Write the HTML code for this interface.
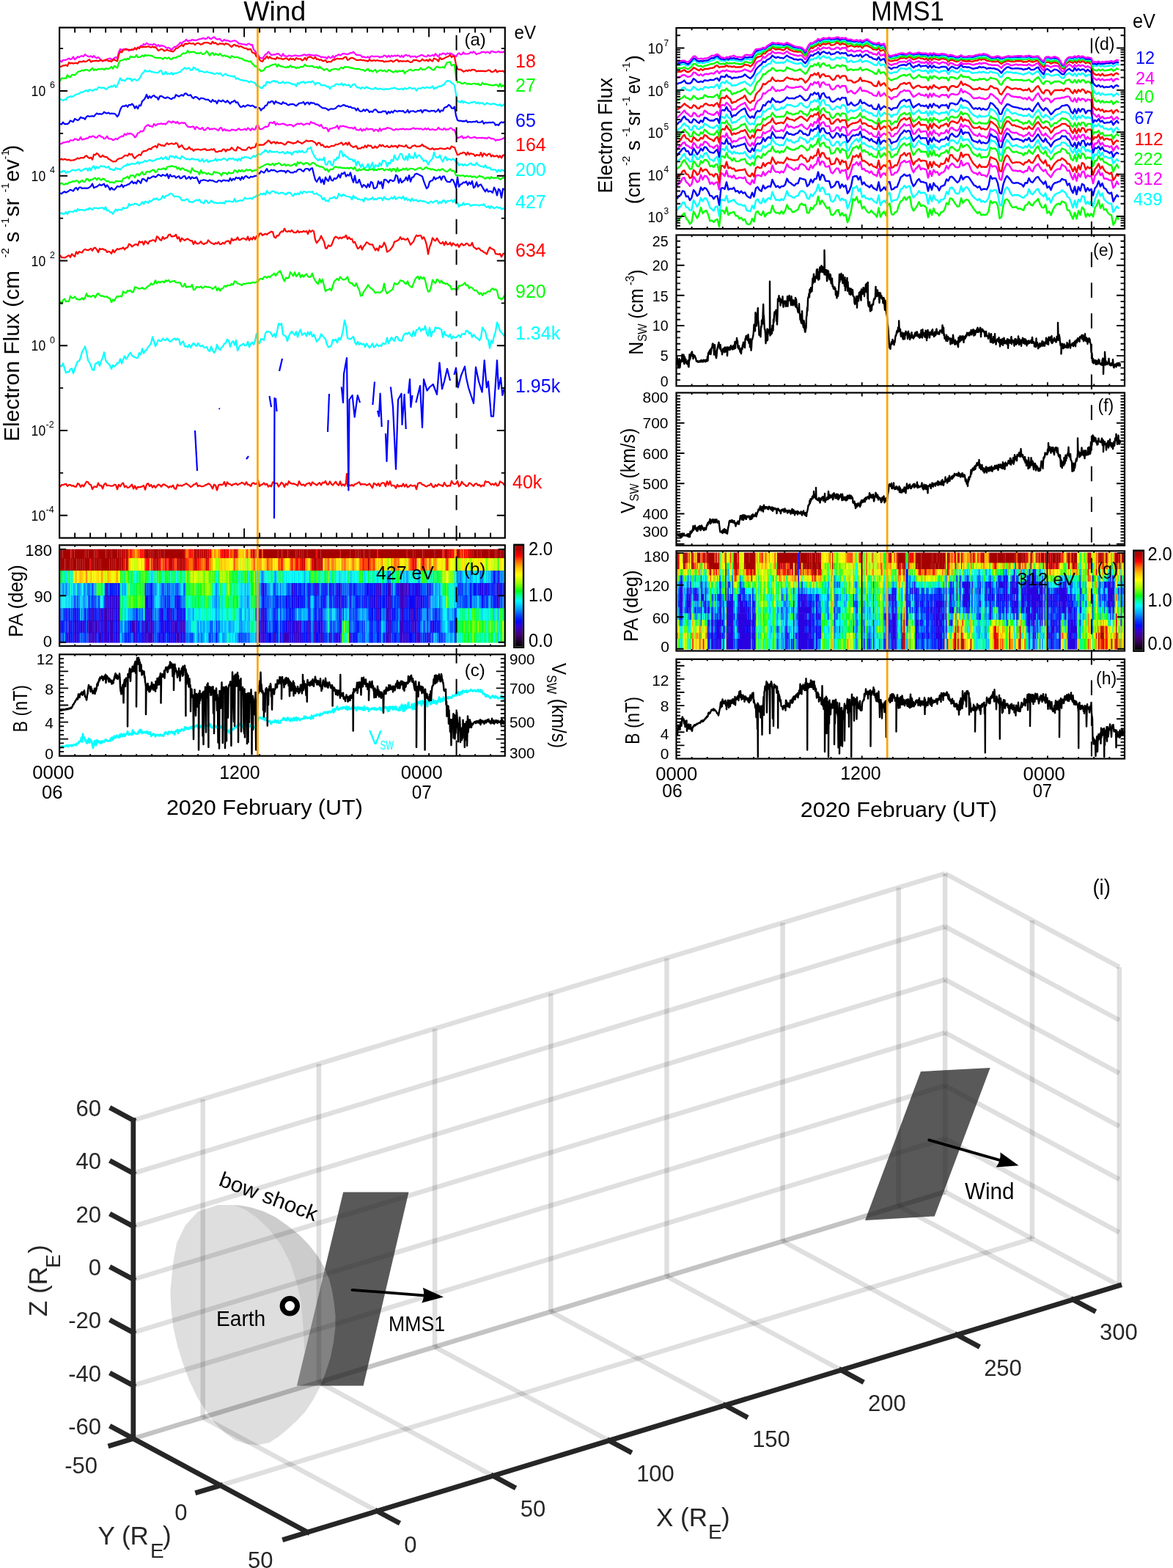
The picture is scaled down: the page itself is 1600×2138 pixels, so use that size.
<!DOCTYPE html>
<html><head><meta charset="utf-8"><title>Wind MMS1</title>
<style>
html,body{margin:0;padding:0;background:#fff;}
svg{display:block;}
text{font-family:'Liberation Sans', 'DejaVu Sans', sans-serif;}
</style></head><body>
<svg xmlns="http://www.w3.org/2000/svg" width="1600" height="2138" viewBox="0 0 1600 2138">
<rect x="0" y="0" width="1600" height="2138" fill="#fff"/>
<path d="M82 82.3l2 2.2 2-2.6 2 .1 2-.3 2-1.1 2-1.1 2 1.5 2-.8 2-2.8 2 3.8 2-1.8 2-2.2 2 1.1 2-1.8 2-.1 2 .4 2-2.6 2 1.4 2 1.3 2 .5 2-1.1 2 1.8 2-2 2 2 2 1.1 2-1.2 2 1.8 2 2.3 2 1.4 2-1.3 2 .6 2-2.1 2-.7 2-.5 2 1.5 2-.1 2-1.8 2-1 2 1.2 2-8 2-4.4 2 1.5 2-1.2 2 .1 2-.9 2 1.4 2 1.3 2-1.2 2 .2 2-.5 2-.9 2-.6 2-.8 2-.7 2-2.2 2 .3 2-2.7 2 1.1 2-2.4 2 1.5 2 .9 2-.6 2 .8 2-1.4 2 1 2 1.9 2-1.6 2 2.2 2-1.8 2 1.1 2 .3 2 1.7 2 1.1 2-1 2 1.4 2 2.4 2-3.1 2-1.7 2 0 2-1.8 2-1.7 2-2.3 2 1.4 2-2.6 2-.6 2-2.3 2 2.2 2-.7 2 .1 2-1.3 2 .4 2 .3 2 0 2-.9 2-.6 2-.4 2-.6 2-.4 2 1.2 2-.8 2-1.9 2 1.7 2 1 2-1.5 2-1.3 2 2 2 1.2 2-.3 2-.3 2 2.6 2 .3 2-1.7 2 1.1 2-.2 2 .7 2 .9 2-.4 2-.5 2-.5 2 .7 2 1.6 2 2 2-.1 2 .6 2 .4 2 .1 2 .8 2-1.4 2-.5 2 1.8 2-.4 2 6.7 2 2.2 2 3.9 2 .8 2 3.8 2 1.1 2 0 2-2.1 2-3.3 2-.6 2-2.9 2 2.3 2 2.1 2-.2 2-.4 2 0 2-1.2 2 .3 2 1.8 2 1.8 2-3.7 2 3 2 .2 2 .6 2-1.6 2 .5 2 .8 2-.8 2-.5 2 .2 2 .5 2 .3 2-.7 2-.1 2-1 2-.3 2 1.6 2-1.4 2-.2 2 .8 2 0 2 .5 2-.4 2 0 2 .8 2 .4 2 1.6 2-.6 2 .8 2-.2 2 1.8 2-3 2 1.9 2-.1 2-2.5 2 2.8 2-2.9 2-.5 2-1.5 2 1.4 2-1.2 2-1.3 2 .2 2 .5 2 .5 2-1 2-1.2 2 .4 2-1.7 2 2.1 2 2 2 .3 2 0 2 .3 2 2.5 2-.7 2 1.2 2 0 2-1.1 2 2.1 2-2.9 2 0 2 .7 2-.4 2 .1 2-.1 2 1.5 2-1 2 .2 2-2 2 .6 2 1.9 2-2.4 2 2.3 2-2.3 2 1.3 2-1.3 2 1 2-1.2 2 .6 2 1.8 2-2.1 2 2.3 2-2.5 2-.7 2 1.3 2-.5 2 2.2 2-.9 2 .3 2-.6 2 1.9 2-1.7 2-.3 2-1.3 2-.1 2 1.1 2 .8 2 .1 2-2 2 1.4 2-.3 2-1.3 2 1.4 2-3.1 2 2.3 2 2 2-3.8 2 .8 2-2.1 2 .8 2 1.3 2-2 2 .7 2-.6 2 .8 2 1.3 2 1 2 1.5 2-3.4 2-1.4 2 1.9 2-.2 2-2.9 2 2.2 2 .1 2 0 2-.5 2-1.9 2 1 2-1.9 2 1.9 2 2.1 2-1.4 2 .1 2-1.4 2-.6 2-.1 2 1.1 2-1 2 .1 2 1.8 2-2.9 2 .3 2 .7 2 .4 2-.1 2-1.3 2 1.5 2-.4 2 .4 2-1.5" fill="none" stroke="#ff00ff" stroke-width="2.2" stroke-linejoin="round"/>
<path d="M82 91l2-.4 2-1.3 2 0 2-.7 2 1.5 2-4.9 2 1.3 2-.7 2 .9 2-.7 2-.1 2 .7 2-2.8 2 .4 2 .2 2-1.4 2 1.2 2-.5 2-1.4 2-1.1 2 3.3 2-1.2 2-.1 2-.4 2-.1 2 .8 2-.9 2-.7 2 1.3 2-.7 2-.9 2-.2 2 2.1 2-.6 2 1.3 2-2.6 2-.2 2 1.1 2 .9 2-8.8 2-4.4 2 1.1 2-3 2-.9 2 .2 2 0 2 .3 2 .3 2-1 2 .7 2-2.7 2 2.4 2-3.1 2 1.6 2-2.5 2 .9 2-.7 2 .1 2-.1 2-.5 2 .6 2 .8 2-1.1 2 1 2-.4 2 2.1 2 2.7 2-1 2-1.2 2 .7 2 2.1 2-1 2-.6 2 1 2 .5 2 .5 2 .5 2-1.8 2-2.8 2-.2 2-1.8 2-1.3 2-1.5 2 2 2-3.2 2-.3 2 .3 2-1.3 2 .9 2 0 2-.3 2 2 2-1.9 2-.5 2 .8 2 1.2 2-.8 2-1.5 2-.4 2 0 2 .2 2 1.1 2 .4 2-3.1 2 2.5 2-.9 2 2 2 .4 2-1.5 2 .6 2-.4 2 1.6 2-1.8 2 .7 2 .6 2 2.1 2 1.4 2-2.2 2-1 2 1.8 2-.5 2 1.9 2-1.1 2 1.2 2 .9 2 1 2-.1 2 1.9 2-.7 2-.1 2 4.5 2 .6 2 1.4 2 4 2 .2 2 3.7 2 1.9 2 .6 2-3.3 2-.9 2-3.1 2 3 2-2.3 2 2.1 2 .4 2 .3 2 .7 2-2.8 2 1.7 2-.1 2 .5 2 .8 2-.8 2-.8 2 .9 2 1.8 2-2.5 2 1.4 2-.9 2 2 2-3 2 1.2 2 .1 2 0 2 2.1 2-.9 2-2.8 2 3.1 2-3.5 2-.9 2 .3 2 1.5 2 .8 2-2.3 2 3.1 2-.2 2 1.4 2-.7 2 1.8 2 .1 2-1.3 2 3.1 2-.8 2 0 2 0 2-2.8 2 .3 2-1.2 2-.7 2 .6 2-.4 2 .4 2-.5 2-1.9 2-.5 2 4.4 2-.8 2-1.9 2-.5 2 .9 2 1 2 1.2 2 .2 2-.2 2-.4 2 .8 2-.2 2 .7 2 .2 2 .7 2-2.4 2 1.6 2 0 2-.8 2 1 2-.8 2 .4 2 .4 2 .1 2-.3 2 1.7 2-.9 2 .2 2-.1 2-.8 2-.2 2 1.7 2-1.1 2-1.4 2-.4 2 2.5 2-1 2 .7 2-.4 2 .2 2 .2 2-1 2 1.2 2 1.1 2-.5 2-2.6 2 .2 2-.2 2 .9 2 .9 2-.8 2-2.3 2 1.7 2 .5 2-1.4 2 2.1 2-2.8 2 1.7 2 1 2-3.8 2 .8 2 .8 2 2.5 2-5.1 2 2.2 2-.4 2-.8 2-1.4 2-.7 2-.8 2-2 2 3.5 2-2 2 1.4 2 10.4 2 5.9 2 1.1 2-.3 2 1.1 2 2 2-.7 2-1.3 2 1.2 2-1.6 2 1 2-1.6 2 .3 2 .3 2 2.2 2-1 2 .4 2-.4 2 .2 2 .1 2 .4 2-.6 2-1 2 .2 2 2 2 .2 2-.8 2-2.2 2 3.3 2-1.2 2-.4 2 .2 2-.4 2 2.2" fill="none" stroke="#ff0000" stroke-width="2.2" stroke-linejoin="round"/>
<path d="M82 110.5l2-3.8 2 .2 2-.2 2 .3 2-4.8 2 2.9 2 .1 2-3 2-.4 2 .6 2-1.7 2-2.6 2-.6 2-.6 2-1.2 2 .8 2-1.3 2-.2 2 .7 2 1.1 2-1.9 2-2.3 2 3.4 2-1.7 2 1.3 2-1.9 2 .8 2-.6 2 0 2 1.3 2-2.2 2 .8 2 0 2-.8 2-2.1 2 2.8 2-3.7 2 1.4 2 1.1 2-6.4 2-3.4 2-.4 2-.6 2-1.4 2 1.3 2-2 2 1.2 2-4.1 2 1 2 .1 2 .2 2-3 2 3.1 2-.1 2-.6 2-1.9 2 1.8 2-2.5 2 1.2 2-.7 2 .4 2 .2 2 .5 2 1.6 2 .7 2 .3 2-.2 2 .1 2 .1 2 1.8 2-2.1 2 .2 2 1.1 2-1.6 2 2 2 .5 2-2 2-.4 2 .5 2-1.9 2-.6 2 .2 2-2.8 2-1.4 2 .3 2-.4 2-3.4 2 2.8 2-.9 2 0 2-.4 2 .9 2 1.4 2-.4 2 .4 2-1.2 2 2.3 2-.2 2-1.3 2-2.8 2 3.1 2 3.1 2-3 2-.9 2 3.3 2-2.2 2 1.5 2 .7 2-2.2 2 2.1 2 1.5 2-1.3 2 1.4 2-.4 2 1.5 2 1.2 2-2.9 2 1.2 2 1.1 2-.6 2 .3 2 1 2 .6 2 .1 2 1.6 2 1 2 .4 2 .4 2 1.1 2-1 2 3.2 2 2.1 2 2.2 2-.6 2 5.5 2-1.3 2 2.9 2-.8 2-.9 2-3.2 2-1.1 2-.3 2-1.1 2-.9 2-.8 2-.4 2-.5 2 3.7 2-3.2 2 2.6 2-.2 2 .8 2 .5 2 .7 2-1.3 2 .7 2-2.3 2 2.5 2-.8 2 .7 2 1.4 2-1.4 2 .9 2-1.6 2 .5 2-1 2-2.5 2 1.8 2 .4 2 .3 2-.3 2-.3 2 1.7 2 .2 2-.6 2 1.9 2-2.6 2 2.5 2 .7 2 2.1 2-1.5 2-.5 2 2.4 2 1.2 2-2.5 2-.4 2-.5 2-.2 2 .9 2 .3 2-2.1 2-1.1 2 1.7 2-2.4 2 .3 2-.1 2 .4 2 .9 2-.2 2 1.1 2 0 2 .8 2-.7 2 .5 2 .9 2 .1 2 .4 2 1.5 2-2.2 2-.9 2 3 2-1 2 1.8 2-1.6 2-1.1 2 3.7 2-1.9 2-.9 2-.3 2 1.5 2-1.3 2 1.2 2 .9 2-2.8 2 1.2 2 .9 2 1.4 2-.8 2-1.5 2 2.2 2-2 2 .3 2 .6 2-1.6 2 4.4 2-2.3 2-1.2 2-1.1 2-.9 2 1.5 2 .2 2-1.4 2 0 2 .6 2-.9 2-2.1 2 2.5 2-.6 2 .3 2-1.8 2-1.7 2 .7 2 1.5 2 1.8 2 0 2-2.5 2-2.1 2 .9 2 .6 2-.2 2-.6 2 1.1 2-4.2 2-3.1 2-.3 2-.5 2 5.2 2-1.2 2 0 2 16.3 2 7.7 2-.5 2 .7 2 1.5 2-.4 2-1.2 2 1.6 2 .5 2-.5 2 .7 2-.2 2-.8 2 .3 2 1 2-1.2 2 2 2 .2 2-3.4 2 2.3 2-.6 2 .3 2 .9 2-.2 2 1 2-.1 2 .1 2-1.1 2 .6 2 2.2 2-4.2 2 4.7 2-2.4 2 2.1" fill="none" stroke="#00ff00" stroke-width="2.2" stroke-linejoin="round"/>
<path d="M82 134.5l2 1.8 2 .8 2-1.6 2 .3 2-3.1 2-.4 2-.9 2 .7 2-.9 2-1.4 2-1 2-.8 2-.3 2-2 2 .3 2-.9 2-1.2 2-.8 2 1.7 2-2.8 2 .9 2 .8 2-1 2-1.2 2 .9 2-3.2 2-.1 2 .7 2-.1 2-.1 2 2.1 2-.6 2-2.3 2 0 2-1.7 2 1.2 2-2.3 2 3 2-2.6 2-4.7 2-5.2 2 3.3 2-.9 2 1.7 2-2.2 2-1.9 2 1.1 2-.5 2 3.5 2-2.6 2-.1 2 1.7 2-.3 2-1.9 2-3.3 2-4 2-1.4 2-3.2 2 2 2-.1 2-1.1 2 1.5 2 .4 2 .3 2 .3 2 .7 2-.6 2-2.4 2-.3 2 5.2 2-.4 2-3.4 2 3.6 2-1 2 .8 2-2.1 2 3 2-2 2 .1 2-.7 2-.8 2-.5 2-2.6 2-1.1 2-2.1 2 1.8 2-.7 2-.8 2 3.2 2-.3 2-3.7 2 1.3 2 2.3 2-1.1 2 3.4 2-.9 2 .8 2 .7 2 .8 2-1.6 2 1.4 2-.1 2 1 2 0 2 1.4 2-.6 2-.9 2 1.2 2-1.2 2 2.2 2 1.8 2-2.1 2-.9 2 2.3 2-.1 2 1 2-.3 2 1.2 2-.9 2 3.9 2-1.4 2 1.7 2 1.1 2-.3 2 1.3 2-.3 2 .3 2 .9 2 1.4 2-1.6 2 1 2 .7 2 .8 2 3.6 2 .1 2 1.2 2 2 2-.3 2-3.6 2 .7 2-5.5 2 .3 2 1.4 2-1.3 2-1.4 2-.4 2 1.7 2-1.2 2 2.6 2-.1 2-.3 2-1.6 2 2.4 2-1.2 2 .3 2 0 2 .7 2 1 2 .7 2-.2 2 2.8 2-4.7 2 1.5 2-2.4 2 .4 2-1.4 2 2.6 2-1.4 2-.4 2-.5 2 1 2-1.9 2 1.8 2 3.3 2-2.5 2 .1 2 .3 2 2.9 2-.1 2-.3 2 .6 2 1.8 2-.5 2 3.3 2-3.2 2-.5 2-.3 2-2.6 2 0 2 .9 2-.1 2-1.9 2 3.1 2-2 2 1.6 2 .3 2-1.2 2 3.7 2-2.3 2-1.9 2 0 2 3.3 2 1.6 2-.5 2 2.1 2-2.4 2 1.2 2 .3 2-2 2 1.7 2 .1 2 1 2 .3 2-.2 2-2 2 1.9 2 .5 2-1.2 2 1 2 .1 2 .6 2-1.2 2 .6 2-.3 2-.2 2-.8 2 .2 2-1 2 1.1 2 1 2-.1 2 .1 2-1.1 2 1.8 2-2.3 2 1.4 2-.5 2-1.4 2 0 2 1.7 2-.9 2 .2 2 3.3 2-3 2-.6 2 .6 2-1.6 2 .4 2 .7 2-1.6 2 .9 2-.3 2 .3 2-2.3 2 4.2 2-2.3 2 .7 2-2 2-.4 2 .1 2-2 2-.3 2-3.5 2-1.6 2 .1 2 .6 2 2.3 2 .9 2 2.3 2 12.1 2 9.6 2 .6 2 .9 2-2.4 2 3.1 2-1.8 2 1.6 2 .1 2 1 2-1.5 2-.1 2-.6 2-.1 2 2.3 2-1.7 2 2 2-1.1 2-.1 2 2 2 0 2-2.1 2 1.2 2 .3 2 .9 2-1.5 2 .5 2 .5 2 1.1 2 .4 2-1.6 2 2.9 2-1.5 2-1.3" fill="none" stroke="#00ffff" stroke-width="2.2" stroke-linejoin="round"/>
<path d="M82 168.9l2 .6 2-2.8 2 2.4 2-.1 2 .2 2-1.5 2-3.3 2 1.1 2 .6 2-4.1 2 1 2 1.1 2-1.3 2-3.1 2 1.2 2 0 2 1.9 2-3.7 2-1.1 2 .9 2-.4 2-.3 2 .6 2-2.3 2-2.1 2 1.2 2-.5 2 .6 2-.6 2-2.4 2 1.3 2 .6 2-1.1 2 1.7 2-.6 2 .3 2 0 2 1.5 2 2.8 2-2.9 2-6.6 2-3.9 2-1.3 2 .3 2-1.4 2 2.4 2-3 2 .5 2-1.7 2 2 2 4.1 2-3 2 3.5 2-4.8 2 .8 2-6.3 2-1.5 2-2.7 2-4.7 2 5.2 2-3 2 2.3 2-2.6 2-.8 2 2.2 2 .2 2 3.4 2-4.6 2-.4 2 1.1 2 1.4 2 .5 2-1.4 2 .6 2 1.3 2 .8 2-1.9 2 .2 2-4.3 2 1.4 2 1 2-1.3 2-1 2 1.4 2-3 2-.3 2 2.2 2 .7 2-1 2 3.3 2 1.5 2-2.1 2 .3 2 1.6 2 1.9 2-1.9 2 .1 2 .4 2 1.3 2 .2 2-.2 2 1.9 2 1.5 2-3.1 2 2.2 2-.6 2 3.5 2-4.4 2 .9 2 .8 2-1.7 2 1.6 2 1.3 2-2.4 2 2.1 2 2.2 2-2.7 2-.2 2-1.8 2 3.1 2-.6 2 3.9 2 2.6 2-.1 2-1.7 2 1.6 2-1.5 2-.9 2 .7 2 .8 2-.9 2 1 2 1.8 2-.6 2 1.5 2-.5 2 3.6 2-2.6 2-.6 2-3.6 2-.2 2-4.5 2 .9 2-2 2 .1 2 3.6 2-3.7 2 1.9 2 .3 2 1.1 2 .8 2-2.9 2 1.6 2 .1 2 1.9 2 .6 2-1.4 2 .1 2-.3 2 1.4 2 1.2 2-1.8 2-1.7 2-.4 2-.2 2-1.4 2 3.7 2-2.3 2-.8 2 2.8 2-2.7 2 1.2 2-.5 2 2 2-.2 2 .5 2 1.9 2 1.4 2 1.4 2 0 2 .4 2 .9 2 1.8 2-1.6 2-.5 2 .5 2-.6 2-.8 2-2.1 2-1.5 2 1.5 2-.9 2-1.2 2 .1 2 1.6 2-.4 2 1.7 2-.8 2 1.8 2 .1 2 .2 2 3.1 2-3 2 3.4 2 1 2-.4 2-2.3 2 2.2 2-2.4 2 1.2 2 2.8 2-1.5 2 1.3 2-2.7 2-1.1 2 1.6 2 2.5 2-.4 2 .3 2-1.5 2 .2 2-.1 2 3.7 2-3.3 2 2 2-2.4 2 1.9 2-3 2 .7 2 1 2-1.2 2 .2 2 .3 2-.5 2 2.5 2-.6 2-3 2 3.7 2-2.2 2 0 2-.2 2 1.3 2-.3 2-1.5 2 .7 2-1.7 2 3.8 2-3.3 2-.1 2 .2 2 1 2 .7 2-1.3 2 .4 2-.5 2 2 2-1.3 2-2.4 2 3.8 2-2.4 2 .8 2-4.1 2-1 2-.7 2-2.5 2 1.3 2 3.2 2 .6 2-2.5 2 12.1 2 6.2 2 1.1 2-.4 2 .8 2-.1 2 .2 2-1.2 2 2.6 2-.8 2 .3 2 .1 2-.6 2 .4 2-1.4 2 2.1 2 .1 2-.5 2-1.6 2 3.8 2-1.7 2 .4 2-.2 2-.3 2 .4 2-.7 2 .8 2 3.3 2-.9 2 1.1 2-3 2-1.4 2 .8 2-1.4" fill="none" stroke="#0000ff" stroke-width="2.2" stroke-linejoin="round"/>
<path d="M82 196.2l2-.2 2-1.7 2-.1 2-.3 2-1 2 .7 2-2.5 2 .4 2 0 2-2.3 2 .5 2 1.4 2-.5 2-3.7 2 3.7 2-1.1 2 .2 2-1.4 2 .4 2-2.6 2 .9 2-1.4 2 .3 2 1.7 2 .1 2-2.2 2-1 2 2.1 2 .3 2 2.4 2-.8 2-2.9 2 3.5 2 .2 2 .1 2 1.8 2-1 2-1.4 2 1.3 2-2.3 2-.9 2-1.2 2 .4 2-3.7 2 1.8 2-2.6 2 1.1 2-.9 2 1.2 2 1.2 2 3.2 2-1.8 2-4.1 2-.5 2-2.3 2 .6 2-1.5 2-4.8 2-1.6 2-1.2 2 1.6 2 .3 2 .9 2-4 2 2.4 2-1.6 2-1 2 .2 2-.8 2 1.1 2-.8 2 1.1 2-2.3 2-1.9 2 .7 2 1.3 2-2 2 1 2 1.6 2-2.2 2 2.8 2-.5 2-1 2 .8 2-.5 2 2.7 2 2.5 2 .6 2 .1 2-.6 2-.1 2 3.8 2-3.6 2 1.3 2 1.8 2 0 2-1.9 2 3.4 2-.1 2-2.3 2-.9 2 2.4 2-.8 2 .1 2-.5 2 .5 2 1.1 2 1 2-3.3 2-.4 2 4 2-2.2 2 1.9 2-.7 2 1.3 2-.4 2-1.4 2 .1 2 .6 2 .5 2-1.6 2-1.1 2 2 2-.2 2-.3 2-1.1 2 1.8 2-2.9 2 1.4 2 2 2-3 2 1.7 2 0 2-5.1 2-.8 2 4.9 2 .6 2-.7 2-1.4 2-1.4 2 .2 2-.9 2-5 2 .1 2 .9 2-2.2 2 4.6 2-2.5 2 1.8 2-.2 2-.3 2-.8 2 1 2 .7 2 1.1 2-1 2 0 2 .3 2 2.1 2-1.5 2-1.5 2-1 2 .7 2-.9 2 .3 2 1.8 2-1.1 2-.9 2-.1 2 1.3 2-3.7 2 1.6 2 .1 2 1.3 2 .9 2 .4 2 1.9 2-2.3 2 3.9 2 1.3 2-1 2 .9 2 4.3 2-3.9 2 .1 2-1 2-.4 2-.6 2-2.3 2 4.9 2-4.3 2 .8 2-1.1 2 1.1 2-.1 2 1.1 2 .6 2 .2 2-.3 2 1.6 2-2.4 2 3.6 2 .4 2 .1 2-2 2 3.2 2-2.5 2 1.6 2-3 2 1.9 2-.6 2-.2 2 .1 2 2.9 2-2.2 2 .4 2 2.1 2-4.2 2 3.5 2-2.3 2-.4 2 .2 2-1.7 2 .3 2 .5 2 .6 2 1.5 2 .4 2-1.7 2 .8 2 0 2-.8 2 .5 2-1 2 1.4 2-.9 2 .3 2 .2 2-.1 2-1 2-.8 2 1.5 2-.6 2 .1 2 .5 2-.7 2 1.4 2-.1 2-1.5 2 1.5 2-1.6 2 2 2-.1 2-.8 2 1.1 2 .1 2-.6 2-2.8 2 2.4 2 .1 2 .7 2-2.2 2 2.1 2-.5 2 .1 2-2 2 .5 2 2.4 2-.4 2 6.2 2 5.2 2-.9 2-.8 2-1.2 2 3.1 2-1.2 2 .5 2-2.3 2 1.5 2 1.1 2-.5 2-.5 2-.4 2 1.7 2-.6 2 .1 2 .2 2-.4 2 .5 2-.2 2 .8 2-1.6 2 .5 2 1.4 2-.1 2 .4 2 2.3 2-1.4 2 .6 2-.8 2-.5 2-.7 2-1.2" fill="none" stroke="#ff00ff" stroke-width="2.2" stroke-linejoin="round"/>
<path d="M82 218l2-1.5 2 1.3 2-.9 2 .5 2 .9 2-.8 2 1.3 2-.3 2-.1 2-.5 2-1.1 2-1.3 2 .9 2-1.2 2-.2 2 .4 2-2.2 2-1 2 2.2 2 1.5 2-1.2 2 3 2-7 2 .6 2-2.5 2 1.5 2 3.1 2 .7 2-2.4 2 1.9 2 .3 2 .4 2 2.4 2 .9 2 1.5 2 1.2 2-.2 2 0 2-2.7 2-1 2-.6 2-.2 2-1.6 2-1.9 2-.3 2 .8 2-3.1 2 1.5 2-1.1 2 4.2 2 1.7 2-2.4 2-1.2 2-1.6 2 1.1 2-4.1 2-1.8 2 .1 2-.5 2-1.6 2-1.2 2 1 2-2.9 2-.6 2-1.2 2 2.5 2-5 2 .6 2 1.4 2-.3 2 1.1 2-2.3 2-1.8 2 1.9 2-1 2-.5 2 .8 2 .2 2-1.7 2 1.4 2 4.8 2-1.5 2-1.6 2 3.4 2 2 2 .2 2-.4 2-2.8 2 3.2 2-.2 2 2.5 2-2 2 0 2-.3 2 .5 2 .6 2-.8 2-.4 2-.3 2 1.9 2-.5 2 .2 2-1.4 2 1 2-1.3 2 3.8 2 .4 2-.8 2-.6 2 .6 2-2.7 2 0 2 3 2-3.1 2 1.1 2-1 2-2.5 2 2.1 2 1.7 2 .5 2-5.2 2 1.1 2 1 2 1.9 2 0 2 .3 2-.1 2-3 2-.9 2 2.2 2-1.7 2 .1 2-.7 2-5 2 3 2-1.2 2 .4 2-.1 2-.5 2-2 2-1.3 2-2.3 2 1.5 2 2.5 2-1.5 2-.6 2 2.4 2-2.2 2 1.8 2-.7 2 .3 2 .9 2 1.6 2-1.2 2-2.7 2-.2 2 1 2 .3 2 1.1 2-1 2-.1 2-2.6 2 1.9 2 .5 2 1.3 2-1.5 2-1.1 2-1.9 2 1.3 2-.2 2-.4 2 .1 2 1.5 2 .9 2 3.3 2-3.1 2 .2 2 3.5 2-1.1 2 2.4 2 1.1 2-1.5 2 1.6 2-.8 2-1.2 2 .1 2-.2 2-2.1 2 .6 2-1.1 2-.7 2-1.2 2 3.4 2-1.4 2-1.7 2 3 2-3.5 2 4.2 2 1.1 2 1.4 2-1.1 2-.7 2 3.9 2-.6 2 .2 2-2 2 1 2-3.1 2 2.8 2-3.4 2 1.3 2-.6 2 3.3 2-.4 2-2 2 2.3 2-1.6 2-2.7 2 2 2-1.8 2 2.3 2 .3 2-1.5 2 1.9 2 .3 2-2.6 2 1.8 2-.9 2-.3 2 2.5 2-3.2 2 .4 2 .3 2 .8 2 .3 2-2.2 2 3.1 2 .7 2 .3 2-2.4 2-.8 2-.6 2 1.9 2-.5 2 .1 2-.7 2-2 2 2.6 2 .2 2 1.7 2 .7 2 1.3 2 0 2-1.4 2 2.1 2-1.1 2 .1 2 .2 2-1 2 0 2 .7 2 .1 2 0 2-1.6 2 1.1 2 .3 2-3.5 2 1.2 2 .3 2 5.4 2 5 2-.6 2-1.6 2 .1 2-1.5 2 .6 2 3.2 2-3.9 2 3.2 2-1.6 2 .6 2 .4 2 2.7 2-1.8 2 .3 2 .8 2-4.1 2 5.4 2-4.4 2 1.3 2 2 2-2.4 2-.5 2 3.9 2-1.8 2 1.7 2-.4 2-.8 2 2.6 2-2.4 2 3.1 2-3.7 2 0" fill="none" stroke="#ff0000" stroke-width="2.2" stroke-linejoin="round"/>
<path d="M82 233.9l2 1 2-2.1 2 .3 2 2.8 2-2.1 2 1.1 2-1.3 2-1.6 2-.5 2 1.1 2-.4 2-1.1 2-.3 2 2.5 2-.8 2-1.3 2-1.2 2-.3 2 3.1 2-4 2 3.6 2-4.5 2-1.6 2 4.5 2-3.4 2 1.9 2-1.9 2-1.3 2 1.2 2-.8 2 1.8 2 .1 2-1.4 2 3.8 2-.4 2 1.4 2 .1 2-3.2 2 2.1 2-.7 2 1.3 2-2.3 2-1.3 2-2 2 .2 2-2.6 2 1.8 2-1.5 2-.6 2 .2 2 .2 2-.6 2-2.4 2 3.1 2-2.1 2 0 2-.8 2-1.7 2 1.3 2-1.2 2-1 2 1 2 .5 2-.5 2-1 2-1.5 2 .1 2-.1 2-2.1 2 2.7 2-1.3 2-2.3 2 3.5 2 .3 2-4.9 2 1.2 2-.7 2 2.4 2-2.7 2 2.7 2 .1 2 1.2 2-4 2 1.8 2 1 2 1.8 2-.9 2 1.2 2-.1 2-1.6 2 1.4 2 0 2 .4 2-.6 2 2.7 2-.4 2-2.7 2 4 2-1.5 2-1.5 2 3.6 2-1.9 2 .3 2-.8 2-.1 2-2.6 2 3.4 2-2.3 2 .9 2-.3 2-1.4 2-.6 2 1.4 2 1.8 2-2.9 2-.1 2 .8 2-1.1 2 2.4 2-1.3 2 2.6 2-3.3 2 2.6 2-4.1 2 1 2-2 2 .8 2-.1 2 1.1 2 .9 2-2.4 2-1.9 2 1.9 2-2.3 2-2.4 2 1.4 2 0 2-3 2-.5 2-3 2 2.3 2 1.6 2-2.9 2 2.1 2-.2 2 .1 2 .1 2-.8 2 1.6 2 .2 2-.8 2-.4 2 2 2 .4 2-2.9 2 2.2 2-.9 2 3.3 2-3.6 2-.7 2-.7 2 2.2 2-3 2 2 2-1.9 2 2.3 2 0 2-.9 2-4.6 2 .4 2-2.1 2 7.1 2 3.5 2 3.9 2 1.7 2 2.1 2-2.4 2 1.5 2 .2 2-3.5 2 9.7 2 .2 2-4.7 2-.1 2 5.1 2 .8 2-8.1 2 .8 2-4 2 1.4 2-9.6 2 0 2 7.2 2-2.8 2 3 2 .4 2 2.8 2 .3 2-.1 2 3.1 2-2 2 7.5 2-5.8 2 3 2 5.1 2-3.9 2 3.9 2 1.5 2-2.1 2-3.8 2 7 2-4.4 2-4.4 2 8.9 2-5.6 2 1.2 2 .8 2-4.8 2 3.6 2-7 2 .2 2 1.2 2 7.1 2-5.3 2 1.1 2-5.4 2 2.3 2-8.5 2 5 2 1.5 2-3.6 2-4.8 2 .4 2 6.2 2 2 2-5.4 2 5.7 2-8.9 2 5.6 2-1.2 2 2.1 2-7.9 2 7.3 2-2.9 2-1.2 2 2.9 2 2.4 2 3.3 2-1.7 2 1.6 2 4.6 2-4.1 2-2 2-2.5 2-8 2 5.7 2 1.3 2-.3 2-3 2 5.7 2 3.3 2-5.3 2-1.6 2 5.1 2-2 2 .6 2 .7 2-1.7 2 1.6 2 3 2 .3 2 4.2 2-1.1 2-.5 2 2 2-2.1 2 1.8 2-.4 2-1.6 2-1.3 2 2.4 2-.4 2 1.1 2-3.6 2 2.8 2 1.2 2 .9 2 .4 2 1 2-3 2 3.6 2 .2 2-.5 2 3.1 2 0 2-.3 2 .4 2 3.1 2-3.3 2 2.5 2-2.5 2 .8 2 1.5" fill="none" stroke="#00ffff" stroke-width="2.2" stroke-linejoin="round"/>
<path d="M82 251.2l2-1.7 2 1.8 2 .3 2-1.4 2 .8 2-2.4 2 .3 2-1.2 2-.6 2 .3 2-1.3 2 .6 2 2.8 2-2.3 2-1.4 2 2.3 2-.7 2-3.5 2 .2 2 3 2-2.3 2-.1 2-1.2 2-.9 2 2.7 2-2.7 2 1.5 2 1.6 2-2 2 .2 2 2.3 2 1 2-.2 2 2.1 2-.8 2 .4 2 .7 2-2.5 2 .5 2-.2 2-.5 2 1.3 2-4.6 2-.3 2-.9 2-1.7 2 3.1 2-4.6 2 .3 2-.3 2 3.1 2-4 2-.9 2 2.3 2-2.9 2-2.3 2 3.9 2-.6 2-3.5 2-.3 2 1.1 2-1.8 2-1.2 2-.2 2 3.5 2-1.5 2-3.4 2 .7 2-.2 2-1.1 2-.1 2 1.8 2-3.7 2-.7 2 .4 2-1.4 2 .9 2 .5 2-.3 2 3.4 2-1.9 2 3.1 2-2.4 2 .4 2 2.1 2-.2 2 1.8 2 0 2 2.5 2-6.7 2 2.9 2 1.6 2 .1 2 .5 2 3.8 2-6.1 2 4.2 2-.9 2 .6 2 1.6 2-1.5 2 1.3 2 .8 2-.1 2-4 2 1.7 2-.7 2 .8 2 .9 2 2.8 2-3.9 2 .3 2-.1 2 2.1 2-3 2 1.2 2 .2 2-.5 2-3.7 2 .8 2 2.4 2-3.5 2 1.9 2-2 2 2.4 2-.8 2-2.3 2 1.6 2-1.3 2 .4 2 2.2 2-1.5 2-.1 2-.4 2-3.9 2 1.1 2-1.6 2-.6 2-1.3 2-1.1 2-.7 2-.3 2 1.5 2-.6 2-1.6 2 2.8 2-2.4 2 .4 2-1.3 2 .8 2 2.4 2-.5 2-1.4 2 2.6 2-1.7 2 .3 2 1.3 2-.7 2-1 2-1.2 2 2.9 2-5.1 2 2.1 2-1.7 2 1.3 2 1.7 2-1.8 2-.4 2 .3 2 2.4 2-1 2-1.7 2-.1 2 1.5 2 2 2 .4 2 1.3 2-.2 2 .7 2 1.5 2 2.9 2-2 2 4.1 2-3.1 2-.3 2 0 2-3.1 2-.6 2 .8 2 .6 2-.5 2 1 2 0 2-.1 2 .5 2-.8 2 1.1 2-1.2 2 .2 2 2.1 2-3.1 2 4.4 2 .9 2-2.7 2 1.6 2-.7 2-1.5 2 1.8 2 .2 2 .6 2-1.7 2 .6 2-1 2 2.1 2-1.4 2 1.2 2-2 2 1.1 2-1.4 2 .2 2 2.5 2-1.7 2 .1 2 1.1 2-2.1 2 3.7 2-3.6 2 .5 2 3.4 2-5.2 2 4.6 2-1.8 2 .2 2-2.1 2 1.6 2-2 2 2.9 2-1.7 2-.6 2 .1 2 .4 2 1.4 2-.8 2-1.6 2-.2 2-.3 2 2.3 2-.4 2-2.2 2-.5 2 2.2 2-.6 2 1.6 2-.7 2 .8 2 .7 2 .5 2-1.5 2 1.4 2-1.6 2-.6 2 2 2 1.4 2 .4 2-1.8 2-2 2 2.8 2-.5 2 1.2 2 5.3 2 .4 2-.3 2 .5 2-.3 2-.3 2 1.7 2-1.2 2 .7 2 0 2-.2 2 1.6 2-1.3 2 .6 2 1.3 2-1.2 2-1.6 2 1.4 2 .1 2 1.5 2 1.4 2-1.8 2-.3 2 2.1 2-2.7 2 1.4 2 .3 2-.6 2 0 2 .5 2 1.9 2-1.2 2-1.4 2 1.2" fill="none" stroke="#00ff00" stroke-width="2.2" stroke-linejoin="round"/>
<path d="M82 263.2l2 1 2-1.8 2-1.2 2 1.4 2-1 2-1.4 2-1.5 2 .8 2 1 2-3.4 2-1.1 2 2.9 2-3.4 2 0 2 1.4 2-.4 2 .1 2-.1 2 .2 2-1.3 2-1.5 2-3.4 2 5.7 2-1.1 2-.6 2-1.4 2-1.7 2 1.6 2-1.2 2-1.1 2 4.4 2-2.7 2 2.3 2 4.1 2-3 2 2.4 2 .6 2-2.2 2-2.8 2 .7 2 0 2-2.9 2 3.7 2-2.3 2-.1 2-1.3 2-.5 2-1.8 2-2.1 2 2.8 2-1.4 2 1.8 2-4.5 2 1.5 2 2.5 2-5.7 2-.2 2 1.6 2 1.8 2-5.2 2 1.1 2-1.2 2-1.4 2-.4 2 1.4 2-1.6 2-2.1 2 1.1 2 1.2 2-2.2 2 1.1 2 .5 2-2.5 2 6 2-5.1 2 2.6 2-.3 2-.6 2 2.8 2-1.4 2-1.1 2 3.2 2-.7 2-2.1 2-.5 2 3.9 2-1.3 2-1.7 2 3.2 2-2.7 2 1.4 2 0 2-1.5 2 4.3 2 4.5 2-4.1 2-.1 2-.7 2 .5 2 .6 2 .7 2-1.6 2 .9 2-.3 2 1.3 2 .7 2 .3 2-2.2 2 0 2 1.5 2-1.7 2-.2 2 .7 2-.4 2 1.1 2-4.1 2 3.3 2-2.7 2 1.4 2-3.2 2 1.4 2-1 2 3.3 2-4.4 2 2.9 2-3.2 2-.8 2 1.9 2 .8 2-2 2 .7 2-.8 2-.7 2 .1 2-4 2 .8 2-3.5 2 1.1 2 1.2 2-2.5 2-3 2 3.9 2-.7 2-1.7 2 .8 2-.5 2 1.3 2 1.3 2-1 2-.4 2-.4 2 .7 2-.4 2 2.5 2-2.9 2 .9 2 1.6 2 .2 2 .1 2-1.5 2 .5 2-2.9 2-.6 2-.1 2 2 2 1 2-3.1 2-.7 2 0 2 2.7 2-2.9 2-.6 2 8.3 2 7.5 2 3 2-3.5 2-3.1 2 7.5 2-4.3 2 6.5 2-9.4 2 3.4 2 1.7 2-6.6 2 5.4 2 .8 2-3.4 2 1 2-1.8 2-4.3 2 4.4 2-5.9 2 .6 2-2.4 2 6 2-2.4 2 1.4 2-4.3 2 7.7 2 5.6 2-9.1 2 9.7 2 0 2-4.4 2 5.8 2 4.7 2-3.3 2 1.2 2 2.6 2-4.8 2 4 2-7.2 2 1.3 2 7.9 2-.3 2-1.5 2-8.2 2 3.7 2-2.8 2 8.9 2-11.6 2-.3 2 1.7 2 2.5 2-3.7 2 .4 2 1.4 2-1.4 2-7.1 2 1.5 2 9.2 2-5.9 2 5.4 2-1.8 2-1.6 2-3.9 2 4.6 2-7.1 2 8.6 2-5.9 2-.4 2-3.7 2-1 2 .7 2 1.1 2 .9 2 1.3 2 6.3 2 5.4 2 4.6 2-2.1 2-6.9 2-1.5 2-.3 2-4.9 2 3.3 2-1.7 2-.4 2-2 2 4.8 2-4.8 2-.2 2 4.9 2 2.5 2 .3 2 .1 2-3.5 2 1 2 4.6 2 5.9 2-14.6 2 13.2 2-3.1 2-.8 2-2.2 2 .5 2-1.8 2 5.1 2-4 2 2.8 2-4.3 2 9.2 2-1.6 2-6.1 2 6.2 2-2.3 2-.9 2 3.8 2 3.2 2 2.9 2-3.5 2 3.7 2-1 2 .6 2 1.7 2-7.3 2 3.9 2 7 2-8.9 2 2.3 2 9.9 2-12.3 2 1.3" fill="none" stroke="#0000ff" stroke-width="2.2" stroke-linejoin="round"/>
<path d="M82 291.4l2-1.1 2 1.5 2-.4 2-2.4 2 3.1 2-3.8 2 .2 2 .2 2 .2 2-2.1 2 1.7 2-3.7 2 2.1 2-.8 2 0 2 .6 2 .2 2-1.7 2 .8 2-2.5 2 1.2 2 1.4 2-2.6 2 .2 2 0 2 .8 2-1 2 0 2-.4 2 2.5 2-3.5 2 5.3 2-.8 2 2.7 2-.2 2 2.7 2-3.6 2-2.7 2 2 2-1.6 2-.3 2 1 2-3.7 2 1.3 2-.5 2-.6 2-5.1 2 2.1 2-1.5 2 .3 2-1.2 2 .3 2 1.4 2 .7 2-1.8 2-3 2 3.1 2-3.8 2 .8 2 1.4 2-3.1 2 1.1 2-2.1 2-1.9 2 1.2 2-1.7 2 2.4 2-.6 2-1.1 2-4.2 2 3.3 2-2.9 2-.4 2-1.2 2-1.7 2 .2 2 2.1 2 1.9 2-.4 2 .3 2 .3 2 1.2 2 3.7 2-.3 2 .4 2-1.6 2-.1 2 3.5 2 .1 2 .8 2-1.1 2-1.1 2-1.3 2 1.2 2-1.8 2 3.8 2 .3 2 1.4 2-4.3 2 .7 2 3 2-.3 2-3.1 2 1.9 2 1.3 2-.6 2 1.2 2-.3 2-.7 2 1 2-1 2 1.5 2-3.9 2 1.3 2-.9 2 .3 2 .7 2 0 2-4.2 2 4.3 2-1.1 2-.3 2-1 2 1 2-1.1 2-3.3 2 1.3 2 .2 2-.4 2-.4 2 1.2 2-2.7 2 .2 2-2.4 2-.6 2 .2 2-2.3 2 1.3 2-1.7 2 2.3 2-5.6 2 2.7 2 1.2 2-2.6 2-.8 2 .5 2 2.2 2-1.3 2 2.4 2-1.2 2-.6 2 .3 2 1.5 2 1 2-2.4 2-.3 2 .2 2 2.5 2 2.1 2-3.6 2 1.4 2-1.8 2 1.5 2-3.7 2 2.6 2-2.9 2 .3 2 1.4 2-1.1 2-.1 2 .5 2-.8 2 3.1 2 .2 2-1.1 2 2.4 2 .5 2 1.4 2 4.3 2-2.3 2 4.1 2-.3 2 1.2 2-4.3 2-.2 2-.5 2-1.5 2 2.5 2-.3 2-6.5 2 2.2 2 1.6 2-2.7 2 1 2 1.5 2 .5 2 .2 2 .6 2 3.2 2-5.3 2 3.1 2-.4 2 2.4 2-.5 2 1.3 2-.8 2 3.2 2-5.2 2 1.2 2 1.8 2-1.8 2 .6 2-2.4 2 3.1 2-1.3 2 1 2-2.2 2 .4 2-.5 2 3.5 2-4.9 2 3.1 2-.4 2 1.4 2-1.5 2-1.9 2 2.1 2-3.2 2 3.9 2-1.7 2-1 2 .3 2 1.4 2-3.2 2 5.1 2-3 2 3.5 2-1.5 2 2.8 2-4 2 3.3 2-1 2-.4 2 2.5 2-1.2 2-.3 2 1.1 2-.4 2 1.1 2 .7 2 1.5 2-1.8 2-1.1 2 2.1 2-1.7 2-1 2-.4 2 4.1 2-2.8 2 2.4 2-3.8 2-.3 2 3.9 2-2.9 2 0 2-.2 2-1.2 2 2.8 2-3.3 2 5.5 2-1.2 2 5.4 2-2.5 2 .7 2-3.8 2 3.1 2-1.2 2-.1 2 .2 2 2.5 2-.9 2-.6 2 .1 2 .1 2 .3 2 .6 2-1.1 2 .5 2-1.6 2 3.3 2 1 2-1.3 2 2.8 2-2.8 2 1.3 2 1.8 2-1.2 2-1.2 2 1.8 2-.9 2 2.3 2-.3 2-1.2" fill="none" stroke="#00ffff" stroke-width="2.2" stroke-linejoin="round"/>
<path d="M82 347.9l2 3.2 2-.1 2 .5 2-.9 2-1.4 2-1 2 2.6 2-4.5 2 2 2 1.5 2-6.5 2 2.9 2-3.1 2 .9 2 .5 2-3.4 2-1.3 2 1 2 .5 2-1.2 2-1.2 2 2.9 2-3.4 2-.7 2 2.7 2 3.6 2-5 2 1.1 2-.9 2 1.5 2-.2 2 3.4 2-1 2 .6 2 2.3 2-5.1 2 3.5 2-2.8 2-2.2 2 .9 2-1.3 2 .3 2-1.8 2 3 2-2.3 2-.6 2-4.8 2 1.2 2 2.5 2-1.4 2-1.4 2-.5 2 1.8 2-5.7 2 1.5 2-1.2 2 4.3 2-5 2 1.7 2 2.1 2-4 2 .2 2-1.4 2 .2 2 1.9 2-7.1 2 1.5 2 2.9 2 1.2 2-4.9 2 2.8 2-1.5 2-.2 2-3.9 2-.6 2 3.1 2-.6 2-.2 2-2.1 2 5.6 2-2.2 2 6.1 2-4.6 2 1.9 2 1.2 2-1.5 2-.7 2 1.3 2 1.6 2-.4 2 5 2-4.1 2 2.9 2 .6 2-1.1 2-2.2 2 2.9 2 .9 2-1.4 2-.2 2-3.9 2 2 2 1.7 2 .8 2 1.1 2-1.9 2 1 2-2.2 2 3.1 2-.3 2-2 2 1.5 2-2.8 2-.8 2-.1 2 3.7 2-7.1 2 2.8 2-1.4 2 .3 2-3.4 2 3.8 2-.3 2-1.7 2-.4 2 .8 2 1.5 2-4.6 2 5.2 2-3.2 2 2 2-3.8 2 3.6 2-4.5 2 1.4 2-4.8 2-.4 2 2.8 2-1.2 2-1 2 1.2 2-1.9 2-.8 2-1.5 2 .7 2 6.7 2 1.3 2-3.2 2 .1 2-3.8 2-2.1 2 .6 2-4.4 2 3.8 2 .6 2-1.1 2 1 2-2.1 2 2.6 2 .7 2 .1 2-2.8 2 2.6 2-1.1 2 .5 2-1.4 2 1.1 2-1 2 3.9 2-5.1 2 2.5 2-2.3 2 1.3 2 11.5 2 4.4 2-2.8 2-2 2-4.9 2 4.3 2 3.4 2 9.2 2 .1 2-4.3 2 1.6 2-1.1 2-5.1 2-5.4 2-1.6 2 1 2 1.8 2-1.9 2 1.5 2-1.8 2 .2 2-2.7 2 5.2 2-2.5 2 2.7 2-.5 2 5.1 2-1 2 4.8 2 4.4 2-1.1 2-2.9 2 5.4 2-4.5 2-2.2 2-3.4 2 1 2 1.8 2 .2 2 0 2 4.3 2 3.7 2-2.7 2 3.2 2-6.7 2 2.3 2-1.8 2-4.9 2 4.1 2 8.7 2-1.1 2-1.5 2-2.6 2-2.8 2-5.9 2-.5 2-1.1 2-1 2-3.8 2 3.1 2-1.1 2 1.5 2 .1 2-1.8 2 4.2 2 4.7 2-2.6 2-1.9 2-5.2 2-3.5 2 1.4 2-1.1 2 .1 2 4.6 2-2.6 2 4.3 2 6.9 2 12.3 2-9.7 2-4.9 2-7.6 2 2.8 2 1.2 2-3.6 2 3.6 2 2.8 2 1 2-2.3 2 4.4 2-4.8 2 3.8 2-.3 2-2.3 2 4.4 2-3.6 2 1.8 2 1.6 2-2.2 2 4.2 2-3.2 2-1.6 2 2.5 2-.6 2-2.2 2 .8 2 2.4 2-.3 2-3.8 2 6 2 1.3 2 1.7 2-1.6 2 .8 2 2.5 2 .4 2 2 2 .7 2 1.9 2-5.4 2-4 2 1.7 2 .8 2 1 2 5.4 2 .2 2 .7 2-1 2 4.3 2-3.9 2-1.2" fill="none" stroke="#ff0000" stroke-width="2.2" stroke-linejoin="round"/>
<path d="M82 410.6l2 3.9 2-4.9 2-2.1 2 3.6 2-.2 2 .1 2-7.5 2 2.8 2 0 2-1.8 2 2.9 2 .7 2 .5 2-.5 2-1.9 2 2.5 2-2.6 2-5.9 2 4.3 2-1.2 2 1.7 2-1.8 2-.2 2 2.8 2-4.3 2-1.5 2 2.6 2 1.1 2-.3 2 1.2 2 0 2-.2 2 2 2 .5 2 5.3 2-3.8 2 1.9 2-4 2-2.5 2 .8 2-1.1 2 1 2-7.3 2 1.8 2 .4 2-3.3 2 .9 2-1.2 2 2.8 2-.7 2-6.5 2 .5 2 1 2 .9 2-.5 2-1.1 2 1.7 2 0 2-1.8 2-2 2-.7 2-3 2 1.7 2-1.3 2-4.5 2 4.3 2-2.7 2 1.6 2-1.5 2-.4 2 1.7 2-3.1 2 1.3 2-1.7 2 3.1 2-1.3 2-.2 2-.4 2 2.2 2 .1 2-.1 2 .3 2 4.9 2 .3 2-4 2 5.1 2-.8 2-.2 2 .4 2-3.1 2 7.2 2-.6 2-3.5 2 .1 2 .5 2-1.3 2 2.3 2-.8 2-1.8 2 1.3 2-.1 2 .2 2 .7 2 1.9 2-1.7 2-2 2 5.7 2-3.5 2 3.9 2-3 2-.3 2-3.3 2 .9 2-1.7 2-.2 2 .2 2-2.4 2 1.5 2-4.9 2 .6 2 2.7 2 .2 2 1 2 1 2-2.1 2 .5 2-.9 2-.2 2-.4 2 .4 2-1.2 2 .1 2 .6 2-1.7 2 .1 2-3.6 2-.5 2 .8 2-3 2-.8 2 2.1 2-2.3 2 1.4 2-2.1 2-1.6 2-1.8 2 3.4 2-3 2-2.1 2-1.8 2 4.5 2 5.5 2 4.4 2-5 2 1.1 2-1.2 2-7.5 2 2.6 2 2.7 2-5.2 2 5.8 2-2 2-3.1 2 6.4 2-3.6 2 3.1 2-2.5 2-1.7 2 3.4 2 1.2 2-1 2-4.4 2 6.5 2 3.2 2 3.3 2 1.6 2-7.1 2 5.2 2-4.4 2 8.4 2 7.7 2-2 2-.1 2-1.7 2 2.8 2-6.4 2-6.1 2-1.9 2-1.8 2 2.2 2-4.6 2 2.2 2 1.8 2-.4 2-.9 2-2.8 2 6.9 2 1.8 2-.3 2 3.4 2 .7 2-3.8 2 5.5 2 3.8 2 8.1 2-.5 2-5.2 2-2.7 2-2.9 2-3.8 2 2.9 2 2 2 1.2 2 2.1 2 2.9 2-1 2-.1 2 .8 2-1.3 2-2 2-9.3 2 9.9 2 3.8 2-1.8 2-1.7 2-1.1 2-2 2-7.8 2 1.1 2 .8 2-2.1 2-3.5 2 .9 2 0 2 3 2 1.1 2-3.9 2 5.9 2 1.5 2 1.2 2-5.2 2-5.4 2-2.9 2-1.6 2 4.2 2-3.6 2 2.8 2-2.2 2 4.3 2 9.3 2 6.1 2-.4 2-6.1 2-9.5 2 2.8 2 1.6 2-5.2 2 1.3 2 3.3 2-3.2 2 3.8 2-.2 2 1.5 2-1.1 2 2.9 2 .4 2 5.1 2-1 2 .2 2 .8 2 .2 2-5.3 2 .1 2-1 2-.8 2-2.6 2 4 2-.7 2 4.4 2-1.4 2 .8 2 2.6 2 1.2 2-.1 2 2.7 2 2.5 2-2 2 3.5 2-3.4 2 1.3 2-2.3 2-1.2 2 .6 2-3.2 2-1.5 2 2.2 2-1 2 2.1 2 9.7 2 .6 2 1.7 2-1.7 2-4" fill="none" stroke="#00ff00" stroke-width="2.2" stroke-linejoin="round"/>
<path d="M82 498.4l2 1.2 2-4.2 2 7.2 2 5.8 2-1.5 2 .5 2-4.2 2-.7 2 6.7 2-6 2-5.8 2-4.6 2-.5 2-5.2 2-7.6 2-3.2 2-3.8 2 7.5 2 11.3 2 2.8 2 4.8 2 5.3 2 .7 2-8.8 2-.8 2-2.1 2 5.8 2-6.6 2-4.7 2-7.5 2 10.7 2 3.4 2 1.7 2 2.3 2 4.9 2-5.4 2 2.1 2-2 2-3.1 2 .1 2-5.6 2 6.5 2-5.7 2-4.8 2 4.2 2-2.4 2-4 2-2.4 2 4 2 1.7 2 .7 2 .9 2 0 2-7 2 2.7 2-8.3 2 6.4 2-3.9 2-.5 2-4.4 2-1.8 2-3.3 2-8.5 2 6.2 2 6.7 2-4.1 2-4.8 2 1.5 2 .1 2-3.3 2 1.5 2 .9 2-2.8 2 2.7 2 2.1 2-1.4 2-1.9 2-1.5 2 2.4 2-2.2 2 1.3 2 7.4 2-3.3 2-1.4 2 6.8 2-.2 2 1.4 2-3.6 2 4 2-3.7 2-2.5 2 2.6 2 1.5 2-3.9 2 2.9 2 1.5 2-1.4 2 2.6 2 .7 2-1.3 2 4.6 2 1.8 2-6.8 2 5.1 2 3.2 2-2.5 2-8.4 2 5 2 2.2 2-2.9 2-1.7 2-4 2-.8 2-5 2 2.1 2 8 2-6 2-1.6 2 5.5 2-6.7 2 14.1 2-4.6 2-2.8 2-.5 2-1.8 2 2.9 2-.5 2-5 2 7.5 2-4.3 2-2.4 2 3.4 2-5.7 2-9.2 2 9.8 2 3.5 2-6.2 2 .1 2 1.7 2-9.4 2-2.7 2 .3 2 .3 2 2.6 2 3.6 2-3.5 2 4.8 2-8.4 2-10.6 2 1.8 2-1.7 2 15.1 2 1.3 2 1.2 2 6.4 2-6.9 2-3.8 2-2.4 2 2.6 2 2.3 2-4.6 2 7.3 2-6.5 2-3.6 2 7.5 2-2 2-.9 2 4.4 2-5.8 2 3.8 2-3.9 2 6.4 2-3 2 4.1 2 5.7 2-2 2-2.4 2-6.1 2 2.6 2 2.3 2 2.2 2 7.3 2 3.7 2-.6 2-1.7 2-8.1 2 1.4 2-1.9 2 4.8 2-6.4 2 2.3 2-4.7 2-8.3 2-13.7 2 8.2 2 16.4 2 .9 2 .5 2-2 2-1.8 2 7.7 2 3.4 2-3.8 2 4.1 2-2.2 2 1.9 2-1.1 2 4.5 2-4.9 2 3.4 2 2.6 2-2.5 2-3.4 2 5.1 2-1.4 2-3 2 2.9 2-1.4 2 1.6 2-4.3 2 .7 2 .5 2-8.6 2 7.6 2-4 2-4 2 2.8 2 2.1 2-5.8 2-.1 2 5.1 2 0 2 .7 2-6.4 2-3.5 2-.6 2 1.3 2-2.6 2 3.7 2 1.9 2-7.5 2 6.7 2-8.1 2-.3 2-3.1 2 5.3 2-3.4 2 1.5 2-5.4 2 10.2 2 3.3 2-11.1 2 12.1 2-6.9 2 .3 2-6.2 2 1.7 2-.9 2 1.8 2 .3 2 10.9 2-7.8 2 5.2 2 0 2 2.2 2-3.7 2 6.5 2-3.9 2 1.7 2 .2 2-1.9 2-1.7 2 3.2 2-4.3 2-.5 2 1 2-5.4 2 .7 2 3.4 2-1.2 2 6.2 2-3.9 2 2.9 2 1.9 2 1.1 2 2.6 2-4.4 2-13.3 2 3 2 2 2 10.2 2 1.3 2 11.7 2-10.6 2 3.2 2-9.7 2-6 2-12.2 2 4.2 2 7.6 2 2 2 2.4 2 2.7" fill="none" stroke="#00ffff" stroke-width="2.2" stroke-linejoin="round"/>
<path d="M82 664.2l2-3 2 0 2-.8 2-.7 2 3.1 2-1.7 2 .1 2 1.5 2-.6 2 1.6 2-.1 2-4.4 2 1.1 2 3.8 2-2.9 2 2.2 2-3.3 2-3.4 2 .5 2 3.3 2 .6 2 6.1 2-3.5 2-.1 2 .5 2-5.5 2 3.6 2-.4 2 4.6 2-5.8 2-1.7 2 3.4 2-.6 2 .6 2 .3 2-.1 2-1.8 2 .5 2 6 2-6.4 2 2.5 2-3.3 2-1.6 2 5.7 2-1.5 2 2.5 2-.6 2-1.7 2-2.2 2 5.9 2-4 2 4.5 2-3.1 2 .5 2-.6 2-.4 2-1.4 2 5.6 2-7.1 2-1.4 2 4 2-2.1 2 3.6 2-2.6 2 3 2-2.4 2-2 2 1 2 2.2 2-2.9 2-.5 2 1.4 2 1.1 2 2 2-1.8 2 .9 2-2.3 2 4.4 2 .7 2-6.2 2 1.9 2-.8 2 1 2-1.4 2-.9 2-1.3 2 1.7 2 1.1 2 2.2 2-1.1 2-2.1 2-.6 2-1.8 2 4.7 2-1.3 2 1.1 2 .3 2-.5 2-1.4 2-.5 2-1.5 2 .7 2 2.3 2 4 2-5.8 2 1.3 2 6.5 2-6.8 2-1 2 .7 2-.6 2-3.7 2 6 2-5.7 2 2.6 2 .3 2 1.8 2-1.5 2-.6 2-.8 2 2.3 2-1.3 2-.9 2-1.3 2 1 2 2.1 2-3.7 2 3.6 2-.1 2 2.3 2-4 2-.7 2 1.9 2-.7 2-4.9 2 8.3 2-2.1 2-.3 2-2.1 2 2.6 2-1.5 2 4.1 2-1.9 2 1.5 2-5.8 2 .8 2 .9 2-.4 2 4.8 2-2.7 2-3.2 2 1.8 2 4.5 2-4.6 2 1.9 2-5.1 2 2.5 2 .9 2-.2 2 .5 2 .8 2 1.8 2-6.3 2 3.9 2 1.5 2-1 2 2 2-2.8 2-.6 2-.9 2 3.8 2-4.7 2 1.9 2 .8 2 1.5 2-2 2-1.4 2 3.3 2-3.7 2 .9 2-2.8 2 4.8 2-.1 2-4.1 2 3.4 2 1.7 2-2.7 2-2.2 2 3.5 2 1.6 2-5.4 2 5.9 2-2 2 2.2 2-4.3 1-12.2 1 16.6 2-1.4 2 1.1 2-1.5 2 2 2-2.5 2-.6 2-1.3 2-1.1 2 3.6 2-.9 2 .5 2-.3 2 1.4 2-.7 2-1.4 2 2.9 2 3 2-6.5 2 1 2 2.1 2-2.8 2 3.9 2-3.8 2-1.1 2 .6 2 4.4 2-6.8 2 4.7 2-4.9 2 6.3 2-.7 2 .6 2 3.2 2-4.8 2 2.7 2-1.2 2 1 2-3.9 2 4.1 2-3.1 2 4 2-1.2 2-1.9 2 1.2 2-.1 2-.7 2 5.4 2-7.6 2-1.2 2 .1 2 2.4 2 .4 2 1.6 2 .7 2-1.6 2-.2 2-2.4 2 4.3 2 .8 2-3.3 2 1.9 2-3 2 1.3 2 .3 2 1.6 2-5.1 2 3.3 2 1.8 2-1.2 2 .7 2-7 2 3.6 2 .9 2-.8 2-3.5 2 7.4 2-1.8 2-4.8 2 3.1 2 1.1 2 2 2-.6 2-3.8 2 .8 2 1.9 2 1.6 2-3.1 2-.5 2 2.7 2-1 2 2.6 2-1.9 2 1.1 2-6.6 2 1.3 2-.4 2 1.8 2 2.3 2-1.4 2 1.7 2-2.9 2 3.8 2-.3 2-5.7 2 1.4 2 1 2 3.1" fill="none" stroke="#ff0000" stroke-width="2.2" stroke-linejoin="round"/>
<path d="M266 587l3 55" fill="none" stroke="#0000ff" stroke-width="2.2" stroke-linejoin="round"/>
<path d="M298.5 557l1.5 .5" fill="none" stroke="#0000ff" stroke-width="2.2" stroke-linejoin="round"/>
<path d="M336 626l3-4" fill="none" stroke="#0000ff" stroke-width="2.2" stroke-linejoin="round"/>
<path d="M367.5 540l2.5 15" fill="none" stroke="#0000ff" stroke-width="2.2" stroke-linejoin="round"/>
<path d="M374.5 542l-.2 58-.3 107" fill="none" stroke="#0000ff" stroke-width="2.2" stroke-linejoin="round"/>
<path d="M376 543l1.5 18" fill="none" stroke="#0000ff" stroke-width="2.2" stroke-linejoin="round"/>
<path d="M381 506l4-17" fill="none" stroke="#0000ff" stroke-width="2.2" stroke-linejoin="round"/>
<path d="M447 589l2-52" fill="none" stroke="#0000ff" stroke-width="2.2" stroke-linejoin="round"/>
<path d="M465.8 527.5l2.2 21.5 1-39 4-22 2.4 180.5 1.1-123.5 4.1-6 3.1 29.6 4.1-29.6 3.2 10" fill="none" stroke="#0000ff" stroke-width="2.2" stroke-linejoin="round"/>
<path d="M508.4 552l2.6-31.5" fill="none" stroke="#0000ff" stroke-width="2.2" stroke-linejoin="round"/>
<path d="M515 560l2 7.6 1.6-30.9 2.1 45.3" fill="none" stroke="#0000ff" stroke-width="2.2" stroke-linejoin="round"/>
<path d="M526 591l1.5 38 2.1-56.3" fill="none" stroke="#0000ff" stroke-width="2.2" stroke-linejoin="round"/>
<path d="M532.9 527.5l3.1 27.5 4 84.6 3-94.6 4.5-8.3 1 42.3 3.1-41.2 2.1 47.2" fill="none" stroke="#0000ff" stroke-width="2.2" stroke-linejoin="round"/>
<path d="M557 536.7l2-19.7 1.4 38 2.1-16" fill="none" stroke="#0000ff" stroke-width="2.2" stroke-linejoin="round"/>
<path d="M567.4 549l5.6-23 3 57 2-66 4.5 15.6 3.5-4.6 4.7-4 5.3 13.8 3.5-43.3 3.5 36 3-10.5 4-17.2 4 16.2" fill="none" stroke="#0000ff" stroke-width="2.2" stroke-linejoin="round"/>
<path d="M619.5 511l2.5-9.3 2.7 26.8 4.3-16.5 5-12.3 2 15.3 3 13.5 7 21.5 3-49.3 4 19.3 4.6 14.7 3.1-43.3 3.1 37.1 2.2-8.5 4 47.6 3 0 5-76.2 2 39.1 3-15.5 2.4 23.8 3.1-11.3" fill="none" stroke="#0000ff" stroke-width="2.2" stroke-linejoin="round"/>
<g transform="translate(82.1 749) scale(1.6 12.4)" stroke-width="1.06">
<path d="M0 .5h2M3 .5h6M10 .5h2M13 .5h8.1M22 .5h1.1M24 .5h5M32 .5h7M40 .5h3M44 .5h5M51 .5h1.1M54 .5h1.1M72 .5h3M76 .5h1.1M78 .5h1.1M80 .5h3M84 .5h1.1M86 .5h2M89 .5h17.1M114 .5h2M124 .5h1.1M169 .5h3M173 .5h12.1M186 .5h3M190 .5h4M195 .5h6M202 .5h1.1M204 .5h1.1M206 .5h1.1M208 .5h2M211 .5h7M219 .5h3M223 .5h15.1M239 .5h8.1M248 .5h4M254 .5h1.1M256 .5h3M260 .5h3M264 .5h6M271 .5h24.1M296 .5h5M303 .5h6M310 .5h9.1M320 .5h6M328 .5h2M338 .5h2M348 .5h1.1M352 .5h3M356 .5h2M359 .5h6M366 .5h5M373 .5h2M376 .5h2" stroke="#a50000"/>
<path d="M2 .5h1.1M12 .5h1.1M29 .5h1.1M31 .5h1.1M39 .5h1.1M43 .5h1.1M49 .5h2M53 .5h1.1M56 .5h1.1M75 .5h1.1M79 .5h1.1M83 .5h1.1M88 .5h1.1M117 .5h1.1M168 .5h1.1M194 .5h1.1M201 .5h1.1M203 .5h1.1M207 .5h1.1M210 .5h1.1M222 .5h1.1M247 .5h1.1M252 .5h2M255 .5h1.1M259 .5h1.1M263 .5h1.1M301 .5h2M309 .5h1.1M319 .5h1.1M340 .5h1.1M355 .5h1.1M358 .5h1.1M371 .5h1.1M375 .5h1.1M378 .5h1.1" stroke="#ab0000"/>
<path d="M9 .5h1.1M55 .5h1.1M60 .5h1.1M111 .5h1.1M128 .5h1.1M142 .5h1.1M162 .5h1.1M218 .5h1.1M333 .5h1.1M342 .5h1.1M344 .5h1.1" stroke="#f00000"/>
<path d="M21 .5h1.1M126 .5h1.1M139 .5h1.1M148 .5h1.1M295 .5h1.1M332 .5h1.1" stroke="#c50000"/>
<path d="M23 .5h1.1M116 .5h1.1M119 .5h1.1M121 .5h1.1M189 .5h1.1M205 .5h1.1M330 .5h1.1M350 .5h1.1M365 .5h1.1M372 .5h1.1" stroke="#b80000"/>
<path d="M30 .5h1.1M71 .5h1.1M77 .5h1.1M120 .5h1.1M122 .5h1.1M150 .5h1.1M164 .5h1.1M238 .5h1.1M349 .5h1.1" stroke="#d30000"/>
<path d="M52 .5h1.1M106 .5h1.1M118 .5h1.1M125 .5h1.1M140 .5h1.1M149 .5h1.1M327 .5h1.1M331 .5h1.1" stroke="#e20000"/>
<path d="M57 .5h1.1M85 .5h1.1M123 .5h1.1M165 .5h1.1M167 .5h1.1M185 .5h1.1M351 .5h1.1" stroke="#b20000"/>
<path d="M58 .5h1.1M62 .5h1.1M66 .5h2M146 .5h2M166 .5h1.1M343 .5h1.1" stroke="#ff5c00"/>
<path d="M59 .5h1.1M69 .5h2M112 .5h1.1M145 .5h1.1M163 .5h1.1M326 .5h1.1M345 .5h3" stroke="#ff1700"/>
<path d="M61 .5h1.1M151 .5h1.1M172 .5h1.1M341 .5h1.1" stroke="#ff4500"/>
<path d="M63 .5h1.1M65 .5h1.1M107 .5h2M158 .5h1.1M337 .5h1.1" stroke="#ff7100"/>
<path d="M64 .5h1.1" stroke="#ffb700"/>
<path d="M68 .5h1.1M110 .5h1.1M127 .5h1.1M137 .5h2M141 .5h1.1M143 .5h1.1M270 .5h1.1M334 .5h2" stroke="#ff0000"/>
<path d="M109 .5h1.1M113 .5h1.1M136 .5h1.1M159 .5h1.1" stroke="#ff2e00"/>
<path d="M129 .5h1.1M132 .5h1.1M134 .5h2" stroke="#ff9400"/>
<path d="M130 .5h1.1" stroke="#ffe800"/>
<path d="M131 .5h1.1M144 .5h1.1" stroke="#ff8300"/>
<path d="M133 .5h1.1M153 .5h2" stroke="#ffd300"/>
<path d="M152 .5h1.1M155 .5h2M161 .5h1.1" stroke="#ffc800"/>
<path d="M157 .5h1.1" stroke="#ffdd00"/>
<path d="M160 .5h1.1M336 .5h1.1" stroke="#ffa500"/>
</g>
<g transform="translate(82.1 761.4) scale(1.6 17.1)" stroke-width="1.06">
<path d="M0 .5h4M5 .5h3M11 .5h3M15 .5h1.1M17 .5h1.1M19 .5h1.1M21 .5h4M27 .5h2M30 .5h1.1M33 .5h1.1M35 .5h7M43 .5h1.1M46 .5h1.1M48 .5h2M51 .5h1.1M53 .5h1.1M56 .5h1.1M102 .5h1.1M221 .5h1.1" stroke="#a50000"/>
<path d="M4 .5h1.1M8 .5h1.1M10 .5h1.1M14 .5h1.1M16 .5h1.1M18 .5h1.1M26 .5h1.1M29 .5h1.1M31 .5h2M34 .5h1.1M42 .5h1.1M44 .5h1.1M50 .5h1.1M262 .5h1.1" stroke="#ab0000"/>
<path d="M9 .5h1.1M20 .5h1.1M45 .5h1.1M80 .5h1.1M83 .5h1.1M100 .5h1.1M216 .5h3" stroke="#b20000"/>
<path d="M25 .5h1.1M99 .5h1.1M126 .5h1.1M205 .5h1.1M207 .5h1.1M214 .5h1.1M300 .5h1.1" stroke="#f00000"/>
<path d="M47 .5h1.1M57 .5h1.1M79 .5h1.1M93 .5h3M104 .5h1.1M106 .5h1.1M124 .5h1.1M206 .5h1.1M219 .5h1.1M223 .5h1.1M309 .5h1.1" stroke="#c50000"/>
<path d="M52 .5h1.1M74 .5h1.1M81 .5h1.1M96 .5h1.1M101 .5h1.1M114 .5h1.1M208 .5h1.1M215 .5h1.1M220 .5h1.1M222 .5h1.1" stroke="#d30000"/>
<path d="M54 .5h1.1M92 .5h1.1M116 .5h1.1M125 .5h1.1M263 .5h1.1M301 .5h1.1M303 .5h1.1" stroke="#e20000"/>
<path d="M55 .5h1.1M77 .5h2M97 .5h1.1M119 .5h1.1M148 .5h1.1M176 .5h1.1M260 .5h1.1M299 .5h1.1M310 .5h1.1" stroke="#ff2e00"/>
<path d="M58 .5h1.1M76 .5h1.1M149 .5h1.1M169 .5h1.1M171 .5h1.1M178 .5h2M210 .5h1.1M225 .5h1.1M227 .5h1.1M229 .5h1.1M233 .5h1.1M241 .5h1.1M250 .5h1.1" stroke="#ffa500"/>
<path d="M59 .5h1.1M69 .5h1.1M71 .5h1.1M136 .5h1.1M139 .5h1.1M141 .5h1.1M166 .5h1.1M185 .5h1.1M211 .5h1.1M237 .5h1.1M239 .5h1.1M244 .5h1.1M269 .5h1.1M296 .5h1.1M304 .5h2M321 .5h1.1M344 .5h1.1M352 .5h1.1M356 .5h1.1" stroke="#ffd300"/>
<path d="M60 .5h1.1M67 .5h2M131 .5h1.1M152 .5h1.1M246 .5h1.1M281 .5h1.1M306 .5h1.1M313 .5h1.1M317 .5h1.1M332 .5h2M353 .5h1.1M377 .5h1.1" stroke="#fffd00"/>
<path d="M61 .5h1.1M64 .5h1.1M326 .5h1.1M337 .5h1.1M354 .5h1.1M367 .5h2M371 .5h1.1M378 .5h1.1" stroke="#d4ff00"/>
<path d="M62 .5h1.1M70 .5h1.1M130 .5h1.1M145 .5h1.1M253 .5h1.1M280 .5h1.1M335 .5h1.1M347 .5h1.1M361 .5h1.1M376 .5h1.1" stroke="#f3ff00"/>
<path d="M63 .5h1.1M65 .5h1.1M157 .5h2M161 .5h1.1M212 .5h1.1M278 .5h1.1M295 .5h1.1M336 .5h1.1M345 .5h2M362 .5h1.1M369 .5h1.1M374 .5h1.1" stroke="#c4ff00"/>
<path d="M66 .5h1.1M142 .5h1.1M155 .5h1.1M162 .5h1.1M167 .5h2M173 .5h1.1M184 .5h1.1M193 .5h1.1M235 .5h2M252 .5h1.1M270 .5h1.1M272 .5h1.1M276 .5h1.1M291 .5h1.1M343 .5h1.1M348 .5h1.1M359 .5h1.1" stroke="#ffe800"/>
<path d="M72 .5h1.1M87 .5h2M91 .5h1.1M108 .5h2M123 .5h1.1M165 .5h1.1M196 .5h1.1M228 .5h1.1M257 .5h1.1M259 .5h1.1M261 .5h1.1M264 .5h1.1M298 .5h1.1M330 .5h1.1" stroke="#ff4500"/>
<path d="M73 .5h1.1M75 .5h1.1M84 .5h2M89 .5h2M188 .5h1.1M201 .5h2M258 .5h1.1M329 .5h1.1" stroke="#ff0000"/>
<path d="M82 .5h1.1M103 .5h1.1M105 .5h1.1M115 .5h1.1" stroke="#b80000"/>
<path d="M86 .5h1.1M121 .5h2M127 .5h1.1M187 .5h1.1M226 .5h1.1M231 .5h1.1M240 .5h1.1M297 .5h1.1M312 .5h1.1M328 .5h1.1" stroke="#ff8300"/>
<path d="M98 .5h1.1M120 .5h1.1M177 .5h1.1M198 .5h1.1M203 .5h1.1M242 .5h1.1M249 .5h1.1M255 .5h2M266 .5h1.1M285 .5h1.1M288 .5h1.1M315 .5h1.1" stroke="#ff5c00"/>
<path d="M107 .5h1.1M113 .5h1.1M117 .5h2M186 .5h1.1M189 .5h1.1M197 .5h1.1M200 .5h1.1M204 .5h1.1M267 .5h1.1M302 .5h1.1M308 .5h1.1" stroke="#ff1700"/>
<path d="M110 .5h3M180 .5h1.1M213 .5h1.1M232 .5h1.1M265 .5h1.1M274 .5h1.1M284 .5h1.1M286 .5h1.1M307 .5h1.1M311 .5h1.1M314 .5h1.1" stroke="#ff7100"/>
<path d="M128 .5h1.1M164 .5h1.1M170 .5h1.1M190 .5h1.1M199 .5h1.1M209 .5h1.1M234 .5h1.1M243 .5h1.1M268 .5h1.1M282 .5h1.1M287 .5h1.1M318 .5h3" stroke="#ff9400"/>
<path d="M129 .5h1.1M137 .5h1.1M147 .5h1.1M150 .5h2M163 .5h1.1M175 .5h1.1M195 .5h1.1M245 .5h1.1M248 .5h1.1M251 .5h1.1M273 .5h1.1" stroke="#ffb700"/>
<path d="M132 .5h1.1M134 .5h1.1M153 .5h1.1M160 .5h1.1M341 .5h1.1M364 .5h1.1M370 .5h1.1" stroke="#b5ff00"/>
<path d="M133 .5h1.1" stroke="#96ff00"/>
<path d="M135 .5h1.1M159 .5h1.1M279 .5h1.1M349 .5h1.1" stroke="#7dff03"/>
<path d="M138 .5h1.1M143 .5h1.1M156 .5h1.1M182 .5h1.1M247 .5h1.1M277 .5h1.1M293 .5h1.1M325 .5h1.1M342 .5h1.1M358 .5h1.1M375 .5h1.1" stroke="#ffdd00"/>
<path d="M140 .5h1.1M174 .5h1.1M191 .5h1.1M230 .5h1.1M254 .5h1.1M271 .5h1.1M283 .5h1.1M289 .5h1.1M294 .5h1.1M316 .5h1.1M331 .5h1.1" stroke="#ffc800"/>
<path d="M144 .5h1.1M238 .5h1.1M290 .5h1.1M327 .5h1.1M334 .5h1.1M355 .5h1.1M365 .5h1.1" stroke="#e3ff00"/>
<path d="M146 .5h1.1M154 .5h1.1M172 .5h1.1M181 .5h1.1M183 .5h1.1M192 .5h1.1M194 .5h1.1M224 .5h1.1M275 .5h1.1M292 .5h1.1M322 .5h3M351 .5h1.1M357 .5h1.1M360 .5h1.1M366 .5h1.1" stroke="#fff200"/>
<path d="M338 .5h3M350 .5h1.1M372 .5h1.1" stroke="#a5ff00"/>
<path d="M363 .5h1.1" stroke="#64ff07"/>
<path d="M373 .5h1.1" stroke="#32ff0d"/>
</g>
<g transform="translate(82.1 778.5) scale(1.6 17)" stroke-width="1.06">
<path d="M0 .5h1.1M67 .5h2M84 .5h1.1M92 .5h1.1M108 .5h1.1M147 .5h1.1M157 .5h1.1M180 .5h1.1M213 .5h1.1M217 .5h1.1M225 .5h2M287 .5h1.1M322 .5h1.1" stroke="#00ff37"/>
<path d="M1 .5h1.1M51 .5h1.1M73 .5h1.1M85 .5h1.1M90 .5h1.1M102 .5h1.1M127 .5h1.1M144 .5h1.1M146 .5h1.1M150 .5h1.1M159 .5h1.1M163 .5h1.1M166 .5h1.1M245 .5h1.1M255 .5h1.1M257 .5h1.1M262 .5h1.1M274 .5h1.1M283 .5h1.1M321 .5h1.1" stroke="#00ff14"/>
<path d="M2 .5h1.1M59 .5h1.1M62 .5h2M79 .5h1.1M88 .5h1.1M105 .5h1.1M176 .5h1.1M200 .5h1.1M206 .5h1.1M229 .5h1.1M240 .5h1.1M249 .5h1.1M258 .5h1.1M264 .5h1.1M271 .5h1.1M289 .5h1.1M298 .5h1.1M301 .5h1.1M303 .5h1.1M307 .5h1.1M361 .5h2" stroke="#00fcd0"/>
<path d="M3 .5h2M10 .5h1.1M104 .5h1.1M153 .5h1.1M187 .5h1.1M209 .5h1.1M219 .5h1.1M254 .5h1.1M272 .5h1.1M319 .5h1.1" stroke="#00ffa0"/>
<path d="M5 .5h1.1M77 .5h1.1M190 .5h1.1M199 .5h1.1M203 .5h1.1M207 .5h1.1M237 .5h1.1M242 .5h1.1M248 .5h1.1M294 .5h1.1M304 .5h1.1M364 .5h1.1M366 .5h1.1" stroke="#00deff"/>
<path d="M6 .5h1.1M57 .5h1.1M70 .5h1.1M82 .5h2M109 .5h1.1M122 .5h1.1M131 .5h1.1M156 .5h1.1M158 .5h1.1M214 .5h1.1M218 .5h1.1M256 .5h1.1M308 .5h2M311 .5h1.1" stroke="#32ff0d"/>
<path d="M7 .5h1.1M65 .5h2M75 .5h1.1M80 .5h1.1M93 .5h1.1M103 .5h1.1M132 .5h1.1M134 .5h1.1M155 .5h1.1M168 .5h2M179 .5h1.1M189 .5h1.1M220 .5h1.1M267 .5h1.1M277 .5h1.1M284 .5h1.1M314 .5h1.1M320 .5h1.1" stroke="#00ff7d"/>
<path d="M8 .5h1.1M52 .5h1.1M55 .5h1.1M76 .5h1.1M86 .5h2M94 .5h1.1M96 .5h1.1M98 .5h1.1M174 .5h1.1M177 .5h1.1M193 .5h1.1M223 .5h1.1M233 .5h1.1M239 .5h1.1M243 .5h1.1M253 .5h1.1M260 .5h1.1M263 .5h1.1M276 .5h1.1M282 .5h1.1M299 .5h1.1M302 .5h1.1M315 .5h1.1M317 .5h1.1M323 .5h1.1M337 .5h1.1M352 .5h1.1" stroke="#00feb8"/>
<path d="M9 .5h1.1M133 .5h1.1M170 .5h1.1M175 .5h1.1M181 .5h1.1M194 .5h2M198 .5h1.1M201 .5h1.1M204 .5h1.1M235 .5h1.1M241 .5h1.1M250 .5h2M273 .5h1.1M285 .5h1.1M300 .5h1.1" stroke="#00fbe7"/>
<path d="M11 .5h1.1M14 .5h1.1M29 .5h1.1M33 .5h1.1M50 .5h1.1" stroke="#fffd00"/>
<path d="M12 .5h1.1M37 .5h1.1M39 .5h1.1M44 .5h1.1M112 .5h1.1" stroke="#e3ff00"/>
<path d="M13 .5h1.1M17 .5h1.1" stroke="#ffa500"/>
<path d="M15 .5h1.1M20 .5h1.1M49 .5h1.1M329 .5h1.1" stroke="#fff200"/>
<path d="M16 .5h1.1" stroke="#ffc800"/>
<path d="M18 .5h2M32 .5h1.1M36 .5h1.1M42 .5h1.1M47 .5h1.1" stroke="#ffd300"/>
<path d="M21 .5h1.1M31 .5h1.1M34 .5h1.1" stroke="#ffdd00"/>
<path d="M22 .5h1.1" stroke="#ff7100"/>
<path d="M23 .5h1.1M25 .5h1.1M28 .5h1.1M30 .5h1.1M43 .5h1.1M46 .5h1.1" stroke="#ffe800"/>
<path d="M24 .5h1.1M115 .5h2M120 .5h1.1M326 .5h1.1" stroke="#d4ff00"/>
<path d="M26 .5h1.1M40 .5h2" stroke="#ffb700"/>
<path d="M27 .5h1.1M45 .5h1.1M114 .5h1.1M330 .5h1.1" stroke="#f3ff00"/>
<path d="M35 .5h1.1M48 .5h1.1" stroke="#ff9400"/>
<path d="M38 .5h1.1M119 .5h1.1M125 .5h1.1M137 .5h1.1" stroke="#b5ff00"/>
<path d="M53 .5h1.1M69 .5h1.1M129 .5h1.1M145 .5h1.1M188 .5h1.1M215 .5h1.1" stroke="#4bff0a"/>
<path d="M54 .5h1.1M72 .5h1.1M74 .5h1.1M91 .5h1.1M95 .5h1.1M97 .5h1.1M100 .5h1.1M106 .5h1.1M135 .5h1.1M148 .5h1.1M151 .5h1.1M154 .5h1.1M161 .5h1.1M216 .5h1.1M227 .5h1.1M231 .5h2M234 .5h1.1M266 .5h1.1M286 .5h1.1M312 .5h1.1M316 .5h1.1" stroke="#00ff5a"/>
<path d="M56 .5h1.1M110 .5h1.1M113 .5h1.1M126 .5h1.1M128 .5h1.1M141 .5h2M325 .5h1.1M332 .5h1.1M335 .5h1.1" stroke="#7dff03"/>
<path d="M58 .5h1.1M60 .5h2M89 .5h1.1M149 .5h1.1M162 .5h1.1M164 .5h1.1M186 .5h1.1M221 .5h1.1M288 .5h1.1M310 .5h1.1M318 .5h1.1M324 .5h1.1" stroke="#19ff11"/>
<path d="M64 .5h1.1M99 .5h1.1M101 .5h1.1M152 .5h1.1M160 .5h1.1M167 .5h1.1M184 .5h2M192 .5h1.1M197 .5h1.1M230 .5h1.1M246 .5h1.1M291 .5h1.1M297 .5h1.1M336 .5h1.1M353 .5h1.1" stroke="#00ecff"/>
<path d="M71 .5h1.1M130 .5h1.1M228 .5h1.1M334 .5h1.1" stroke="#64ff07"/>
<path d="M78 .5h1.1M182 .5h1.1M238 .5h1.1M247 .5h1.1M259 .5h1.1M275 .5h1.1M278 .5h1.1M348 .5h1.1M378 .5h1.1" stroke="#00cfff"/>
<path d="M81 .5h1.1M178 .5h1.1M191 .5h1.1M196 .5h1.1M202 .5h1.1M205 .5h1.1M210 .5h2M222 .5h1.1M224 .5h1.1M236 .5h1.1M244 .5h1.1M252 .5h1.1M261 .5h1.1M265 .5h1.1M268 .5h2M313 .5h1.1M344 .5h1.1M355 .5h2" stroke="#00faff"/>
<path d="M107 .5h1.1M138 .5h1.1M140 .5h1.1M165 .5h1.1M331 .5h1.1M333 .5h1.1" stroke="#96ff00"/>
<path d="M111 .5h1.1M124 .5h1.1M136 .5h1.1M139 .5h1.1" stroke="#c4ff00"/>
<path d="M117 .5h2M121 .5h1.1M123 .5h1.1M143 .5h1.1M327 .5h2" stroke="#a5ff00"/>
<path d="M171 .5h1.1M305 .5h2M350 .5h1.1" stroke="#00a5ff"/>
<path d="M172 .5h1.1M346 .5h1.1M367 .5h2M372 .5h1.1M376 .5h1.1" stroke="#0071ff"/>
<path d="M173 .5h1.1M212 .5h1.1M270 .5h1.1M292 .5h2M342 .5h2M347 .5h1.1M351 .5h1.1M354 .5h1.1M357 .5h1.1M363 .5h1.1" stroke="#00c1ff"/>
<path d="M183 .5h1.1M359 .5h2" stroke="#0082ff"/>
<path d="M208 .5h1.1M290 .5h1.1M296 .5h1.1M345 .5h1.1M365 .5h1.1" stroke="#00b3ff"/>
<path d="M279 .5h1.1M338 .5h1.1M371 .5h1.1M374 .5h1.1" stroke="#004eff"/>
<path d="M280 .5h2M295 .5h1.1M339 .5h2M349 .5h1.1M375 .5h1.1M377 .5h1.1" stroke="#0094ff"/>
<path d="M341 .5h1.1M358 .5h1.1" stroke="#005fff"/>
<path d="M369 .5h2" stroke="#000aff"/>
<path d="M373 .5h1.1" stroke="#0e07f5"/>
</g>
<g transform="translate(82.1 795.5) scale(1.6 17.1)" stroke-width="1.06">
<path d="M0 .5h1.1M3 .5h1.1M22 .5h1.1M82 .5h1.1M104 .5h1.1M167 .5h2M179 .5h1.1M191 .5h1.1M228 .5h1.1M284 .5h1.1M322 .5h1.1" stroke="#00cfff"/>
<path d="M1 .5h1.1M30 .5h1.1M52 .5h1.1M54 .5h1.1M84 .5h1.1M154 .5h1.1M159 .5h2M188 .5h1.1" stroke="#00c1ff"/>
<path d="M2 .5h1.1M15 .5h1.1M79 .5h1.1M81 .5h1.1M88 .5h1.1M95 .5h1.1M101 .5h1.1M132 .5h2M196 .5h1.1M323 .5h1.1M338 .5h1.1M348 .5h1.1" stroke="#0082ff"/>
<path d="M4 .5h1.1M7 .5h1.1M11 .5h1.1M14 .5h1.1M16 .5h1.1M21 .5h1.1M25 .5h2M28 .5h1.1M53 .5h1.1M85 .5h1.1M90 .5h1.1M97 .5h1.1M169 .5h1.1M319 .5h1.1M321 .5h1.1M336 .5h1.1" stroke="#00a5ff"/>
<path d="M5 .5h1.1M20 .5h1.1M23 .5h1.1M75 .5h1.1M86 .5h1.1M89 .5h1.1M93 .5h1.1M96 .5h1.1M181 .5h1.1M185 .5h1.1M187 .5h1.1M242 .5h1.1M244 .5h2M253 .5h2M256 .5h1.1M285 .5h1.1M316 .5h1.1M351 .5h1.1" stroke="#0071ff"/>
<path d="M6 .5h1.1M153 .5h1.1M155 .5h1.1M158 .5h1.1M161 .5h1.1M318 .5h1.1M324 .5h1.1M337 .5h1.1" stroke="#00deff"/>
<path d="M8 .5h1.1M37 .5h1.1M56 .5h1.1M83 .5h1.1M135 .5h1.1M139 .5h1.1M156 .5h1.1M332 .5h1.1" stroke="#00fbe7"/>
<path d="M9 .5h1.1M61 .5h1.1M63 .5h1.1M116 .5h1.1M141 .5h1.1M150 .5h1.1M162 .5h1.1" stroke="#00ff7d"/>
<path d="M10 .5h1.1M19 .5h1.1M103 .5h1.1M131 .5h1.1M140 .5h1.1M180 .5h1.1M186 .5h1.1M331 .5h1.1" stroke="#00ecff"/>
<path d="M12 .5h1.1M17 .5h1.1M29 .5h1.1M102 .5h1.1M134 .5h1.1M157 .5h1.1M189 .5h2M192 .5h1.1" stroke="#00b3ff"/>
<path d="M13 .5h1.1M36 .5h1.1M325 .5h1.1M333 .5h1.1" stroke="#00fcd0"/>
<path d="M18 .5h1.1M57 .5h1.1M130 .5h1.1M152 .5h1.1" stroke="#00faff"/>
<path d="M24 .5h1.1M48 .5h1.1M174 .5h1.1M183 .5h1.1M193 .5h1.1M206 .5h1.1M210 .5h1.1M215 .5h1.1M222 .5h1.1M233 .5h1.1M241 .5h1.1M249 .5h1.1M257 .5h1.1M312 .5h1.1M317 .5h1.1M343 .5h1.1M355 .5h1.1M371 .5h1.1" stroke="#004eff"/>
<path d="M27 .5h1.1M74 .5h1.1M76 .5h1.1M87 .5h1.1M91 .5h1.1M171 .5h1.1M182 .5h1.1M205 .5h1.1M207 .5h1.1M220 .5h1.1M227 .5h1.1M231 .5h1.1M239 .5h1.1M246 .5h1.1M252 .5h1.1M259 .5h1.1M277 .5h1.1M299 .5h1.1M339 .5h2M367 .5h1.1M370 .5h1.1" stroke="#002fff"/>
<path d="M31 .5h1.1M69 .5h1.1M71 .5h1.1M111 .5h2M115 .5h1.1M118 .5h1.1M137 .5h1.1M329 .5h1.1" stroke="#4bff0a"/>
<path d="M32 .5h1.1M34 .5h1.1M66 .5h1.1M144 .5h1.1" stroke="#32ff0d"/>
<path d="M33 .5h1.1M108 .5h1.1M138 .5h1.1M147 .5h1.1M334 .5h2" stroke="#00feb8"/>
<path d="M35 .5h1.1M109 .5h1.1M113 .5h1.1M122 .5h1.1M163 .5h2M326 .5h1.1M328 .5h1.1" stroke="#00ff14"/>
<path d="M38 .5h1.1M172 .5h1.1M203 .5h1.1M235 .5h1.1M271 .5h1.1M303 .5h2M359 .5h2M363 .5h1.1M369 .5h1.1M372 .5h1.1M376 .5h1.1" stroke="#2902e1"/>
<path d="M39 .5h1.1M198 .5h1.1M218 .5h1.1M273 .5h1.1M275 .5h1.1M293 .5h1.1M313 .5h1.1M374 .5h1.1" stroke="#3900c8"/>
<path d="M40 .5h1.1M175 .5h1.1M200 .5h1.1M208 .5h1.1M224 .5h1.1M250 .5h2M266 .5h1.1M286 .5h1.1M298 .5h1.1M302 .5h1.1M315 .5h1.1M349 .5h2M353 .5h2M356 .5h1.1M361 .5h1.1M365 .5h1.1M368 .5h1.1" stroke="#0017ff"/>
<path d="M41 .5h1.1M73 .5h1.1M92 .5h1.1M98 .5h1.1M100 .5h1.1M105 .5h2M202 .5h1.1M214 .5h1.1M234 .5h1.1M240 .5h1.1M243 .5h1.1M258 .5h1.1M274 .5h1.1M282 .5h2M308 .5h4M346 .5h1.1" stroke="#005fff"/>
<path d="M42 .5h1.1M45 .5h1.1M49 .5h1.1M211 .5h1.1M219 .5h1.1M226 .5h1.1M230 .5h1.1M236 .5h1.1M247 .5h1.1M261 .5h2M265 .5h1.1M268 .5h1.1M288 .5h1.1M352 .5h1.1M358 .5h1.1" stroke="#0e07f5"/>
<path d="M43 .5h2M46 .5h1.1M223 .5h1.1M225 .5h1.1M232 .5h1.1M260 .5h1.1M267 .5h1.1M276 .5h1.1M307 .5h1.1M341 .5h1.1M378 .5h1.1" stroke="#0023ff"/>
<path d="M47 .5h1.1M173 .5h1.1M199 .5h1.1M212 .5h1.1M263 .5h1.1M297 .5h1.1M300 .5h1.1M305 .5h2M362 .5h1.1M364 .5h1.1" stroke="#1c05eb"/>
<path d="M50 .5h1.1M77 .5h1.1M201 .5h1.1M204 .5h1.1M216 .5h1.1M229 .5h1.1M237 .5h1.1M264 .5h1.1M278 .5h1.1M301 .5h1.1M375 .5h1.1" stroke="#000aff"/>
<path d="M51 .5h1.1M59 .5h1.1M146 .5h1.1M149 .5h1.1M151 .5h1.1" stroke="#00ffa0"/>
<path d="M55 .5h1.1M80 .5h1.1M94 .5h1.1M170 .5h1.1M176 .5h3M184 .5h1.1M209 .5h1.1M221 .5h1.1M320 .5h1.1M344 .5h1.1M347 .5h1.1" stroke="#0094ff"/>
<path d="M58 .5h1.1M123 .5h1.1M165 .5h1.1" stroke="#7dff03"/>
<path d="M60 .5h1.1M67 .5h1.1M110 .5h1.1M129 .5h1.1M148 .5h1.1" stroke="#00ff5a"/>
<path d="M62 .5h1.1M64 .5h2M70 .5h1.1M107 .5h1.1M117 .5h1.1M136 .5h1.1M145 .5h1.1M327 .5h1.1M330 .5h1.1" stroke="#00ff37"/>
<path d="M68 .5h1.1M119 .5h2M166 .5h1.1" stroke="#19ff11"/>
<path d="M72 .5h1.1M78 .5h1.1M99 .5h1.1M194 .5h2M213 .5h1.1M248 .5h1.1M255 .5h1.1M314 .5h1.1M342 .5h1.1M345 .5h1.1M366 .5h1.1M377 .5h1.1" stroke="#003cff"/>
<path d="M114 .5h1.1M121 .5h1.1M127 .5h2M142 .5h1.1" stroke="#64ff07"/>
<path d="M124 .5h1.1M126 .5h1.1" stroke="#96ff00"/>
<path d="M125 .5h1.1" stroke="#a5ff00"/>
<path d="M143 .5h1.1" stroke="#b5ff00"/>
<path d="M197 .5h1.1M217 .5h1.1M269 .5h1.1M287 .5h1.1M289 .5h1.1M296 .5h1.1" stroke="#3700d7"/>
<path d="M238 .5h1.1M270 .5h1.1M272 .5h1.1M279 .5h3M290 .5h3M294 .5h2M357 .5h1.1M373 .5h1.1" stroke="#3c00b9"/>
</g>
<g transform="translate(82.1 812.6) scale(1.6 17.1)" stroke-width="1.06">
<path d="M0 .5h1.1M5 .5h1.1M18 .5h1.1M36 .5h1.1M81 .5h1.1M84 .5h1.1M130 .5h1.1M134 .5h1.1M153 .5h1.1M325 .5h1.1" stroke="#00cfff"/>
<path d="M1 .5h1.1M17 .5h1.1M55 .5h1.1M82 .5h1.1M139 .5h1.1M228 .5h1.1M322 .5h1.1M333 .5h1.1" stroke="#00ecff"/>
<path d="M2 .5h2M6 .5h1.1M34 .5h1.1M57 .5h1.1M144 .5h1.1M332 .5h1.1M335 .5h1.1" stroke="#00fbe7"/>
<path d="M4 .5h1.1M23 .5h1.1M83 .5h1.1M138 .5h1.1M155 .5h2M158 .5h1.1M161 .5h1.1M214 .5h2M316 .5h1.1M356 .5h1.1" stroke="#00deff"/>
<path d="M7 .5h1.1M13 .5h1.1M22 .5h1.1M80 .5h1.1M129 .5h1.1M180 .5h1.1M318 .5h1.1M355 .5h1.1M366 .5h1.1M377 .5h1.1" stroke="#00c1ff"/>
<path d="M8 .5h1.1M35 .5h1.1M110 .5h1.1M152 .5h1.1M327 .5h1.1M337 .5h1.1" stroke="#00faff"/>
<path d="M9 .5h2M19 .5h1.1M21 .5h1.1M157 .5h1.1M213 .5h1.1M320 .5h2M336 .5h1.1M348 .5h1.1M351 .5h1.1" stroke="#00b3ff"/>
<path d="M11 .5h1.1M16 .5h1.1M25 .5h1.1M95 .5h2M135 .5h1.1M160 .5h1.1M209 .5h1.1M227 .5h1.1M319 .5h1.1" stroke="#0094ff"/>
<path d="M12 .5h1.1M72 .5h1.1M75 .5h1.1M92 .5h1.1M181 .5h1.1M190 .5h1.1M208 .5h1.1M218 .5h1.1M229 .5h1.1M231 .5h1.1M234 .5h1.1M274 .5h1.1M311 .5h2M338 .5h1.1M343 .5h1.1M345 .5h1.1M367 .5h1.1M376 .5h1.1" stroke="#002fff"/>
<path d="M14 .5h1.1M29 .5h1.1M93 .5h1.1M102 .5h1.1M168 .5h1.1M174 .5h1.1M176 .5h1.1M220 .5h1.1M226 .5h1.1M239 .5h1.1M242 .5h1.1M251 .5h1.1M258 .5h1.1M288 .5h1.1M344 .5h1.1M363 .5h2" stroke="#003cff"/>
<path d="M15 .5h1.1M87 .5h1.1M103 .5h1.1M105 .5h1.1M186 .5h1.1M210 .5h1.1M232 .5h1.1M249 .5h1.1M339 .5h1.1M354 .5h1.1M357 .5h1.1" stroke="#0071ff"/>
<path d="M20 .5h1.1M85 .5h1.1M94 .5h1.1M104 .5h1.1M106 .5h1.1M132 .5h2M159 .5h1.1M178 .5h1.1M221 .5h1.1M248 .5h1.1M342 .5h1.1M352 .5h2M358 .5h1.1" stroke="#0082ff"/>
<path d="M24 .5h1.1M100 .5h1.1M172 .5h1.1M184 .5h1.1M203 .5h1.1M206 .5h1.1M217 .5h1.1M224 .5h1.1M240 .5h1.1M252 .5h1.1M261 .5h1.1M267 .5h1.1M275 .5h2M282 .5h1.1M304 .5h1.1M359 .5h2M370 .5h1.1" stroke="#000aff"/>
<path d="M26 .5h1.1M28 .5h1.1M32 .5h2M86 .5h1.1M167 .5h1.1M175 .5h1.1M177 .5h1.1M189 .5h1.1M191 .5h1.1M196 .5h1.1M216 .5h1.1M219 .5h1.1M244 .5h1.1M246 .5h1.1M262 .5h1.1M283 .5h1.1M286 .5h1.1M341 .5h1.1M378 .5h1.1" stroke="#004eff"/>
<path d="M27 .5h1.1M76 .5h1.1M78 .5h1.1M91 .5h1.1M183 .5h1.1M187 .5h1.1M194 .5h1.1M200 .5h1.1M223 .5h1.1M233 .5h1.1M243 .5h1.1M255 .5h1.1M257 .5h1.1M260 .5h1.1M287 .5h1.1M310 .5h1.1M346 .5h1.1M350 .5h1.1M361 .5h1.1M374 .5h1.1" stroke="#0023ff"/>
<path d="M30 .5h1.1M37 .5h1.1M79 .5h1.1M88 .5h1.1M90 .5h1.1M97 .5h1.1M171 .5h1.1M179 .5h1.1M182 .5h1.1M188 .5h1.1M250 .5h1.1M256 .5h1.1M284 .5h1.1M314 .5h2M323 .5h1.1M340 .5h1.1M347 .5h1.1M362 .5h1.1M368 .5h1.1M375 .5h1.1" stroke="#005fff"/>
<path d="M31 .5h1.1M131 .5h1.1M154 .5h1.1M169 .5h2M245 .5h1.1M317 .5h1.1M324 .5h1.1M365 .5h1.1" stroke="#00a5ff"/>
<path d="M38 .5h1.1M42 .5h1.1M46 .5h1.1M50 .5h1.1M99 .5h1.1M198 .5h1.1M202 .5h1.1M236 .5h1.1M280 .5h1.1M289 .5h1.1M305 .5h1.1M372 .5h1.1" stroke="#2902e1"/>
<path d="M39 .5h1.1M47 .5h1.1M49 .5h1.1M265 .5h1.1M269 .5h1.1M279 .5h1.1M281 .5h1.1M290 .5h3M373 .5h1.1" stroke="#3c00b9"/>
<path d="M40 .5h1.1M43 .5h1.1M212 .5h1.1M268 .5h1.1M270 .5h1.1M293 .5h1.1M295 .5h1.1M303 .5h1.1M306 .5h1.1M313 .5h1.1" stroke="#3700d7"/>
<path d="M41 .5h1.1M48 .5h1.1M73 .5h2M192 .5h1.1M195 .5h1.1M199 .5h1.1M201 .5h1.1M211 .5h1.1M235 .5h1.1M241 .5h1.1M259 .5h1.1M264 .5h1.1M272 .5h1.1M297 .5h1.1M309 .5h1.1" stroke="#1c05eb"/>
<path d="M44 .5h1.1M238 .5h1.1M278 .5h1.1" stroke="#3900c8"/>
<path d="M45 .5h1.1M77 .5h1.1M101 .5h1.1M193 .5h1.1M197 .5h1.1M205 .5h1.1M225 .5h1.1M247 .5h1.1M253 .5h1.1M263 .5h1.1M266 .5h1.1M271 .5h1.1M294 .5h1.1M298 .5h5M307 .5h2M349 .5h1.1" stroke="#0e07f5"/>
<path d="M51 .5h1.1M107 .5h1.1M111 .5h1.1M113 .5h1.1M119 .5h1.1M123 .5h1.1M125 .5h1.1M127 .5h1.1M328 .5h1.1" stroke="#00ff7d"/>
<path d="M52 .5h1.1M128 .5h1.1" stroke="#00fcd0"/>
<path d="M53 .5h1.1M65 .5h1.1M137 .5h1.1M143 .5h1.1M165 .5h1.1" stroke="#00ff37"/>
<path d="M54 .5h1.1M108 .5h2M121 .5h1.1M326 .5h1.1M334 .5h1.1" stroke="#00feb8"/>
<path d="M56 .5h1.1M116 .5h1.1M136 .5h1.1M140 .5h1.1M146 .5h1.1M149 .5h1.1M162 .5h1.1M164 .5h1.1M331 .5h1.1" stroke="#00ffa0"/>
<path d="M58 .5h1.1M67 .5h3M124 .5h1.1" stroke="#4bff0a"/>
<path d="M59 .5h1.1M64 .5h1.1M70 .5h1.1M115 .5h1.1M117 .5h1.1M147 .5h2M150 .5h2M166 .5h1.1" stroke="#00ff14"/>
<path d="M60 .5h1.1" stroke="#7dff03"/>
<path d="M61 .5h1.1M66 .5h1.1M71 .5h1.1" stroke="#64ff07"/>
<path d="M62 .5h2M141 .5h1.1M163 .5h1.1M330 .5h1.1" stroke="#19ff11"/>
<path d="M89 .5h1.1M98 .5h1.1M173 .5h1.1M185 .5h1.1M204 .5h1.1M207 .5h1.1M222 .5h1.1M230 .5h1.1M237 .5h1.1M254 .5h1.1M273 .5h1.1M277 .5h1.1M285 .5h1.1M296 .5h1.1M369 .5h1.1M371 .5h1.1" stroke="#0017ff"/>
<path d="M112 .5h1.1M114 .5h1.1M118 .5h1.1M120 .5h1.1M122 .5h1.1M126 .5h1.1M145 .5h1.1" stroke="#00ff5a"/>
<path d="M142 .5h1.1" stroke="#32ff0d"/>
<path d="M329 .5h1.1" stroke="#96ff00"/>
</g>
<g transform="translate(82.1 829.7) scale(1.6 17)" stroke-width="1.06">
<path d="M0 .5h1.1M10 .5h1.1M62 .5h1.1M67 .5h1.1M81 .5h1.1M169 .5h2M185 .5h1.1M194 .5h1.1M236 .5h1.1M239 .5h1.1M249 .5h2M267 .5h1.1M286 .5h1.1M289 .5h1.1M312 .5h1.1M317 .5h1.1M321 .5h1.1" stroke="#004eff"/>
<path d="M1 .5h1.1M22 .5h1.1M61 .5h1.1M66 .5h1.1M68 .5h1.1M80 .5h1.1M153 .5h2M166 .5h1.1M178 .5h1.1M201 .5h1.1M207 .5h1.1M215 .5h1.1M226 .5h1.1M257 .5h2M310 .5h1.1M325 .5h1.1M334 .5h1.1" stroke="#0094ff"/>
<path d="M2 .5h1.1M6 .5h1.1M8 .5h1.1M88 .5h2M97 .5h2M176 .5h1.1M190 .5h1.1M237 .5h1.1M253 .5h1.1M262 .5h1.1M277 .5h1.1M315 .5h1.1M318 .5h1.1M322 .5h1.1" stroke="#005fff"/>
<path d="M3 .5h2M9 .5h1.1M23 .5h1.1M31 .5h2M64 .5h1.1M84 .5h1.1M90 .5h1.1M95 .5h1.1M187 .5h1.1M192 .5h1.1M247 .5h1.1M251 .5h1.1M275 .5h1.1M282 .5h1.1M296 .5h1.1M307 .5h1.1M337 .5h1.1" stroke="#003cff"/>
<path d="M5 .5h1.1M12 .5h1.1M24 .5h1.1M26 .5h1.1M30 .5h1.1M35 .5h1.1M46 .5h1.1M77 .5h1.1M85 .5h1.1M96 .5h1.1M100 .5h1.1M102 .5h1.1M105 .5h1.1M167 .5h2M171 .5h1.1M174 .5h1.1M196 .5h1.1M212 .5h1.1M220 .5h1.1M265 .5h2M283 .5h1.1M301 .5h2M313 .5h1.1" stroke="#0e07f5"/>
<path d="M7 .5h1.1M21 .5h1.1M72 .5h1.1M74 .5h1.1M99 .5h1.1M106 .5h1.1M195 .5h1.1M217 .5h1.1M284 .5h1.1M295 .5h1.1M304 .5h1.1M306 .5h1.1M336 .5h1.1" stroke="#000aff"/>
<path d="M11 .5h1.1M14 .5h1.1M25 .5h1.1M36 .5h1.1M73 .5h1.1M75 .5h1.1M86 .5h2M91 .5h2M94 .5h1.1M101 .5h1.1M103 .5h1.1M269 .5h1.1M272 .5h1.1M298 .5h1.1" stroke="#1c05eb"/>
<path d="M13 .5h1.1M15 .5h1.1M65 .5h1.1M104 .5h1.1M182 .5h2M218 .5h1.1M263 .5h2M287 .5h1.1M305 .5h1.1M319 .5h1.1" stroke="#0023ff"/>
<path d="M16 .5h1.1M20 .5h1.1M78 .5h1.1M181 .5h1.1M184 .5h1.1M197 .5h1.1M199 .5h1.1M211 .5h1.1M216 .5h1.1M221 .5h1.1M223 .5h1.1M241 .5h1.1M246 .5h1.1M252 .5h1.1M294 .5h1.1M323 .5h1.1" stroke="#002fff"/>
<path d="M17 .5h1.1M52 .5h1.1M57 .5h1.1M108 .5h1.1M111 .5h1.1M118 .5h1.1M134 .5h1.1M206 .5h1.1M214 .5h1.1M227 .5h1.1M256 .5h1.1M316 .5h1.1M332 .5h1.1" stroke="#00cfff"/>
<path d="M18 .5h1.1M63 .5h1.1M69 .5h2M79 .5h1.1M83 .5h1.1M113 .5h1.1M177 .5h1.1M188 .5h1.1M191 .5h1.1M200 .5h1.1M203 .5h1.1M213 .5h1.1M219 .5h1.1M230 .5h1.1M235 .5h1.1M248 .5h1.1M276 .5h1.1M308 .5h1.1M330 .5h1.1" stroke="#0071ff"/>
<path d="M19 .5h1.1M55 .5h1.1M59 .5h1.1M82 .5h1.1M135 .5h1.1M160 .5h2M229 .5h1.1M243 .5h2" stroke="#00b3ff"/>
<path d="M27 .5h1.1M37 .5h3M43 .5h1.1M76 .5h1.1M93 .5h1.1M270 .5h1.1M278 .5h2M291 .5h2M300 .5h1.1M303 .5h1.1" stroke="#3c00b9"/>
<path d="M28 .5h1.1M34 .5h1.1M40 .5h1.1M42 .5h1.1M47 .5h1.1M222 .5h1.1M281 .5h1.1" stroke="#3700d7"/>
<path d="M29 .5h1.1M48 .5h1.1M175 .5h1.1M193 .5h1.1M198 .5h1.1M268 .5h1.1M273 .5h1.1M285 .5h1.1M293 .5h1.1M297 .5h1.1M320 .5h1.1" stroke="#0017ff"/>
<path d="M33 .5h1.1M41 .5h1.1M44 .5h2M49 .5h2M172 .5h1.1M271 .5h1.1M299 .5h1.1" stroke="#3900c8"/>
<path d="M51 .5h1.1M368 .5h1.1" stroke="#00ff37"/>
<path d="M53 .5h1.1M124 .5h1.1M137 .5h1.1M146 .5h1.1M341 .5h1.1M344 .5h1.1" stroke="#00ff7d"/>
<path d="M54 .5h1.1M121 .5h1.1M123 .5h1.1M149 .5h1.1M165 .5h1.1M342 .5h1.1M345 .5h1.1M350 .5h1.1M355 .5h1.1M358 .5h1.1M366 .5h2M371 .5h1.1M376 .5h1.1M378 .5h1.1" stroke="#00ffa0"/>
<path d="M56 .5h1.1M122 .5h1.1M130 .5h2M139 .5h1.1M144 .5h1.1M155 .5h1.1M327 .5h1.1M349 .5h1.1M361 .5h1.1" stroke="#00faff"/>
<path d="M58 .5h1.1M60 .5h1.1M109 .5h1.1M132 .5h2M157 .5h1.1M179 .5h1.1M189 .5h1.1M210 .5h1.1M231 .5h1.1M255 .5h1.1M259 .5h1.1M274 .5h1.1M309 .5h1.1M311 .5h1.1M331 .5h1.1M335 .5h1.1M373 .5h1.1" stroke="#00a5ff"/>
<path d="M71 .5h1.1M127 .5h2M143 .5h1.1M228 .5h1.1M340 .5h1.1M347 .5h1.1M362 .5h1.1M365 .5h1.1M372 .5h1.1M374 .5h1.1" stroke="#00feb8"/>
<path d="M107 .5h1.1M115 .5h3M125 .5h2M136 .5h1.1M141 .5h1.1M147 .5h1.1M150 .5h2M162 .5h2M357 .5h1.1" stroke="#00fcd0"/>
<path d="M110 .5h1.1M152 .5h1.1M158 .5h1.1M208 .5h2M234 .5h1.1M260 .5h1.1M333 .5h1.1M359 .5h1.1M369 .5h1.1" stroke="#00c1ff"/>
<path d="M112 .5h1.1M138 .5h1.1M159 .5h1.1M164 .5h1.1M202 .5h1.1M233 .5h1.1M242 .5h1.1M326 .5h1.1M329 .5h1.1M338 .5h1.1M364 .5h1.1M370 .5h1.1" stroke="#00deff"/>
<path d="M114 .5h1.1M119 .5h1.1M129 .5h1.1M186 .5h1.1M232 .5h1.1M245 .5h1.1M360 .5h1.1" stroke="#00ecff"/>
<path d="M120 .5h1.1M140 .5h1.1M145 .5h1.1M156 .5h1.1M328 .5h1.1M339 .5h1.1M346 .5h1.1M363 .5h1.1" stroke="#00fbe7"/>
<path d="M142 .5h1.1M148 .5h1.1M343 .5h1.1M354 .5h1.1M356 .5h1.1" stroke="#00ff5a"/>
<path d="M173 .5h1.1M238 .5h1.1M280 .5h1.1M290 .5h1.1" stroke="#2902e1"/>
<path d="M180 .5h1.1M204 .5h2M224 .5h2M240 .5h1.1M254 .5h1.1M261 .5h1.1M288 .5h1.1M314 .5h1.1M324 .5h1.1" stroke="#0082ff"/>
<path d="M348 .5h1.1" stroke="#32ff0d"/>
<path d="M351 .5h2" stroke="#4bff0a"/>
<path d="M353 .5h1.1M375 .5h1.1" stroke="#19ff11"/>
<path d="M377 .5h1.1" stroke="#00ff14"/>
</g>
<g transform="translate(82.1 846.7) scale(1.6 16.4)" stroke-width="1.06">
<path d="M0 .5h1.1M8 .5h1.1M20 .5h1.1M23 .5h1.1M47 .5h1.1M86 .5h2M91 .5h2M101 .5h1.1M185 .5h1.1M193 .5h1.1M265 .5h1.1M271 .5h1.1M295 .5h1.1M297 .5h1.1M302 .5h1.1M336 .5h1.1" stroke="#1c05eb"/>
<path d="M1 .5h2M19 .5h1.1M41 .5h1.1M48 .5h1.1M59 .5h1.1M75 .5h1.1M79 .5h1.1M94 .5h1.1M100 .5h1.1M135 .5h1.1M170 .5h1.1M176 .5h1.1M182 .5h3M191 .5h1.1M208 .5h1.1M219 .5h1.1M230 .5h1.1M252 .5h1.1M264 .5h1.1M282 .5h1.1M298 .5h1.1M306 .5h1.1M313 .5h1.1M315 .5h1.1M319 .5h2M322 .5h2" stroke="#0017ff"/>
<path d="M3 .5h1.1M46 .5h1.1M66 .5h2M69 .5h1.1M71 .5h1.1M133 .5h1.1M167 .5h1.1M189 .5h1.1M197 .5h1.1M209 .5h1.1M253 .5h2M257 .5h1.1M272 .5h1.1M337 .5h1.1" stroke="#0023ff"/>
<path d="M4 .5h1.1M68 .5h1.1M83 .5h1.1M250 .5h1.1M256 .5h1.1M273 .5h1.1M277 .5h1.1M285 .5h1.1M333 .5h2" stroke="#005fff"/>
<path d="M5 .5h1.1M11 .5h1.1M13 .5h1.1M60 .5h1.1M85 .5h1.1M90 .5h1.1M168 .5h1.1M174 .5h2M181 .5h1.1M294 .5h1.1M296 .5h1.1M305 .5h1.1M318 .5h1.1M321 .5h1.1" stroke="#000aff"/>
<path d="M6 .5h1.1M117 .5h1.1M127 .5h1.1M179 .5h1.1M215 .5h1.1M234 .5h1.1M249 .5h1.1M258 .5h1.1M261 .5h1.1M267 .5h1.1M307 .5h1.1M309 .5h1.1M312 .5h1.1M335 .5h1.1" stroke="#0071ff"/>
<path d="M7 .5h1.1M32 .5h2M35 .5h1.1M64 .5h1.1M70 .5h1.1M76 .5h1.1M78 .5h1.1M88 .5h1.1M95 .5h1.1M97 .5h1.1M103 .5h1.1M105 .5h1.1M171 .5h1.1M194 .5h1.1M198 .5h2M201 .5h2M204 .5h2M317 .5h1.1" stroke="#3700d7"/>
<path d="M9 .5h1.1M15 .5h1.1M17 .5h1.1M21 .5h1.1M34 .5h1.1M36 .5h1.1M40 .5h1.1M89 .5h1.1M93 .5h1.1M190 .5h1.1M192 .5h1.1M196 .5h1.1M220 .5h2M239 .5h1.1M280 .5h1.1M289 .5h1.1M293 .5h1.1M316 .5h1.1" stroke="#0e07f5"/>
<path d="M10 .5h1.1M55 .5h1.1M58 .5h1.1M129 .5h1.1M169 .5h1.1M187 .5h2M207 .5h1.1M213 .5h1.1M251 .5h1.1M263 .5h1.1M266 .5h1.1M269 .5h1.1M284 .5h1.1M287 .5h1.1M304 .5h1.1" stroke="#002fff"/>
<path d="M12 .5h1.1M16 .5h1.1M29 .5h1.1M45 .5h1.1M65 .5h1.1M195 .5h1.1M200 .5h1.1M210 .5h1.1M216 .5h1.1M218 .5h1.1M222 .5h2M238 .5h1.1M270 .5h1.1M278 .5h1.1M303 .5h1.1" stroke="#2902e1"/>
<path d="M14 .5h1.1M24 .5h4M30 .5h2M38 .5h2M43 .5h2M50 .5h1.1M61 .5h3M72 .5h3M77 .5h1.1M96 .5h1.1M104 .5h1.1M172 .5h1.1M212 .5h1.1M217 .5h1.1M279 .5h1.1M290 .5h3M300 .5h1.1" stroke="#3c00b9"/>
<path d="M18 .5h1.1M28 .5h1.1M37 .5h1.1M42 .5h1.1M49 .5h1.1M98 .5h2M102 .5h1.1M106 .5h1.1M173 .5h1.1M203 .5h1.1M211 .5h1.1M281 .5h1.1M299 .5h1.1M301 .5h1.1" stroke="#3900c8"/>
<path d="M22 .5h1.1M52 .5h1.1M57 .5h1.1M80 .5h1.1M128 .5h1.1M206 .5h1.1M226 .5h1.1M231 .5h1.1M236 .5h2M247 .5h1.1M255 .5h1.1M268 .5h1.1M324 .5h1.1M332 .5h1.1" stroke="#004eff"/>
<path d="M51 .5h1.1M107 .5h1.1M109 .5h1.1M119 .5h2M125 .5h1.1M147 .5h1.1M186 .5h1.1M229 .5h1.1M276 .5h1.1M311 .5h1.1M314 .5h1.1M330 .5h1.1" stroke="#00a5ff"/>
<path d="M53 .5h1.1M118 .5h1.1M123 .5h2M139 .5h1.1M150 .5h1.1M158 .5h1.1" stroke="#00deff"/>
<path d="M54 .5h1.1M131 .5h1.1M137 .5h2M140 .5h1.1M143 .5h1.1M145 .5h1.1M152 .5h1.1M155 .5h1.1M160 .5h1.1M288 .5h1.1M308 .5h1.1M325 .5h2" stroke="#00b3ff"/>
<path d="M56 .5h1.1M82 .5h1.1M122 .5h1.1M144 .5h1.1M154 .5h1.1M177 .5h1.1M180 .5h1.1M232 .5h1.1M235 .5h1.1M248 .5h1.1" stroke="#0082ff"/>
<path d="M81 .5h1.1M84 .5h1.1M178 .5h1.1M224 .5h2M233 .5h1.1M246 .5h1.1M259 .5h1.1M283 .5h1.1M286 .5h1.1M310 .5h1.1" stroke="#003cff"/>
<path d="M108 .5h1.1M132 .5h1.1M134 .5h1.1M153 .5h1.1M214 .5h1.1M227 .5h1.1M275 .5h1.1M331 .5h1.1" stroke="#0094ff"/>
<path d="M110 .5h2M116 .5h1.1M121 .5h1.1M126 .5h1.1M130 .5h1.1M136 .5h1.1M141 .5h1.1M146 .5h1.1M156 .5h2M159 .5h1.1M161 .5h1.1M260 .5h1.1M327 .5h1.1" stroke="#00c1ff"/>
<path d="M112 .5h1.1M165 .5h1.1M228 .5h1.1" stroke="#00feb8"/>
<path d="M113 .5h1.1M142 .5h1.1M274 .5h1.1M328 .5h1.1M373 .5h1.1" stroke="#00ecff"/>
<path d="M114 .5h2M363 .5h1.1" stroke="#00fcd0"/>
<path d="M148 .5h1.1M262 .5h1.1" stroke="#00cfff"/>
<path d="M149 .5h1.1M151 .5h1.1M166 .5h1.1" stroke="#00fbe7"/>
<path d="M162 .5h1.1M240 .5h1.1M367 .5h1.1" stroke="#00ffa0"/>
<path d="M163 .5h2M244 .5h1.1M362 .5h1.1M364 .5h1.1M369 .5h1.1M372 .5h1.1" stroke="#00ff7d"/>
<path d="M241 .5h1.1M245 .5h1.1M340 .5h1.1M349 .5h1.1M376 .5h1.1" stroke="#19ff11"/>
<path d="M242 .5h1.1M351 .5h2M366 .5h1.1M371 .5h1.1M378 .5h1.1" stroke="#7dff03"/>
<path d="M243 .5h1.1M338 .5h1.1M342 .5h1.1M345 .5h1.1M350 .5h1.1M354 .5h1.1M357 .5h1.1M359 .5h1.1" stroke="#00ff14"/>
<path d="M329 .5h1.1" stroke="#00faff"/>
<path d="M339 .5h1.1M341 .5h1.1M346 .5h1.1M370 .5h1.1M374 .5h1.1" stroke="#00ff5a"/>
<path d="M343 .5h1.1M347 .5h1.1M360 .5h1.1M375 .5h1.1" stroke="#00ff37"/>
<path d="M344 .5h1.1M348 .5h1.1" stroke="#64ff07"/>
<path d="M353 .5h1.1M355 .5h1.1M358 .5h1.1M361 .5h1.1" stroke="#4bff0a"/>
<path d="M356 .5h1.1" stroke="#96ff00"/>
<path d="M365 .5h1.1M368 .5h1.1" stroke="#32ff0d"/>
<path d="M377 .5h1.1" stroke="#c4ff00"/>
</g>
<g transform="translate(82.1 863.1) scale(1.6 13.1)" stroke-width="1.06">
<path d="M0 .5h1.1M16 .5h1.1M20 .5h1.1M31 .5h1.1M81 .5h1.1M112 .5h1.1M129 .5h1.1M152 .5h2M158 .5h1.1M180 .5h1.1M225 .5h3M248 .5h1.1M253 .5h1.1M257 .5h1.1M277 .5h1.1M287 .5h1.1M310 .5h1.1M312 .5h1.1" stroke="#003cff"/>
<path d="M1 .5h1.1M53 .5h1.1M109 .5h1.1M126 .5h1.1M130 .5h1.1M134 .5h2M139 .5h1.1M161 .5h1.1M214 .5h1.1M232 .5h1.1M254 .5h1.1M328 .5h1.1M333 .5h1.1" stroke="#0082ff"/>
<path d="M2 .5h1.1M4 .5h1.1M10 .5h1.1M57 .5h1.1M66 .5h1.1M68 .5h1.1M111 .5h1.1M120 .5h1.1M154 .5h1.1M188 .5h1.1M213 .5h1.1M231 .5h1.1M246 .5h1.1M259 .5h1.1M263 .5h1.1M283 .5h1.1M337 .5h1.1" stroke="#002fff"/>
<path d="M3 .5h1.1M118 .5h1.1M131 .5h1.1M138 .5h1.1M159 .5h1.1M228 .5h1.1M316 .5h1.1" stroke="#0094ff"/>
<path d="M5 .5h1.1M9 .5h1.1M15 .5h1.1M48 .5h1.1M84 .5h2M87 .5h1.1M96 .5h1.1M105 .5h1.1M174 .5h1.1M183 .5h1.1M196 .5h1.1M200 .5h1.1M206 .5h1.1M210 .5h1.1M218 .5h2M251 .5h1.1M265 .5h1.1M289 .5h1.1M297 .5h1.1M300 .5h1.1" stroke="#0e07f5"/>
<path d="M6 .5h1.1M8 .5h1.1M46 .5h1.1M58 .5h1.1M67 .5h1.1M83 .5h1.1M89 .5h1.1M92 .5h1.1M234 .5h1.1M264 .5h1.1M272 .5h1.1M275 .5h2M285 .5h2M302 .5h1.1M314 .5h1.1M336 .5h1.1" stroke="#0017ff"/>
<path d="M7 .5h1.1M14 .5h1.1M27 .5h1.1M33 .5h2M43 .5h2M72 .5h1.1M75 .5h4M99 .5h3M106 .5h1.1M171 .5h1.1M173 .5h1.1M182 .5h1.1M190 .5h5M198 .5h1.1M201 .5h1.1M205 .5h1.1M212 .5h1.1M217 .5h1.1M223 .5h1.1M238 .5h1.1M278 .5h2M281 .5h1.1M290 .5h2M295 .5h1.1M305 .5h2" stroke="#3c00b9"/>
<path d="M11 .5h1.1M26 .5h1.1M30 .5h1.1M50 .5h1.1M70 .5h1.1M79 .5h1.1M95 .5h1.1M168 .5h1.1M181 .5h1.1M195 .5h1.1M221 .5h1.1M235 .5h2M293 .5h1.1M296 .5h1.1M304 .5h1.1M311 .5h1.1" stroke="#2902e1"/>
<path d="M12 .5h1.1M25 .5h1.1M38 .5h2M45 .5h1.1M47 .5h1.1M49 .5h1.1M63 .5h1.1M65 .5h1.1M74 .5h1.1M94 .5h1.1M102 .5h1.1M172 .5h1.1M187 .5h1.1M203 .5h1.1M211 .5h1.1M247 .5h1.1M292 .5h1.1M303 .5h1.1" stroke="#3700d7"/>
<path d="M13 .5h1.1M28 .5h1.1M36 .5h1.1M40 .5h2M55 .5h1.1M62 .5h1.1M64 .5h1.1M71 .5h1.1M86 .5h1.1M169 .5h2M177 .5h1.1M204 .5h1.1M207 .5h1.1M237 .5h1.1M294 .5h1.1" stroke="#1c05eb"/>
<path d="M17 .5h1.1M52 .5h1.1M61 .5h1.1M107 .5h1.1M128 .5h1.1M151 .5h1.1M215 .5h1.1M255 .5h2M267 .5h1.1M308 .5h1.1M321 .5h1.1M326 .5h1.1" stroke="#0071ff"/>
<path d="M18 .5h1.1M110 .5h1.1M132 .5h1.1M155 .5h1.1M239 .5h1.1M258 .5h1.1M268 .5h1.1M282 .5h1.1M288 .5h1.1M324 .5h1.1M327 .5h1.1" stroke="#004eff"/>
<path d="M19 .5h1.1M22 .5h2M54 .5h1.1M60 .5h1.1M80 .5h1.1M82 .5h1.1M90 .5h1.1M108 .5h1.1M113 .5h1.1M117 .5h1.1M156 .5h2M160 .5h1.1M269 .5h1.1M273 .5h1.1M322 .5h1.1" stroke="#005fff"/>
<path d="M21 .5h1.1M32 .5h1.1M56 .5h1.1M59 .5h1.1M104 .5h1.1M175 .5h1.1M184 .5h1.1M189 .5h1.1M197 .5h1.1M208 .5h1.1M249 .5h1.1M266 .5h1.1M284 .5h1.1M301 .5h1.1M307 .5h1.1M309 .5h1.1M315 .5h1.1M317 .5h1.1M325 .5h1.1" stroke="#0023ff"/>
<path d="M24 .5h1.1M29 .5h1.1M37 .5h1.1M42 .5h1.1M73 .5h1.1M98 .5h1.1M199 .5h1.1M202 .5h1.1M216 .5h1.1M222 .5h1.1M230 .5h1.1M280 .5h1.1M313 .5h1.1" stroke="#3900c8"/>
<path d="M35 .5h1.1M69 .5h1.1M88 .5h1.1M91 .5h1.1M93 .5h1.1M97 .5h1.1M103 .5h1.1M127 .5h1.1M133 .5h1.1M167 .5h1.1M176 .5h1.1M178 .5h2M185 .5h1.1M209 .5h1.1M220 .5h1.1M224 .5h1.1M229 .5h1.1M233 .5h1.1M250 .5h1.1M252 .5h1.1M270 .5h2M298 .5h2M323 .5h1.1" stroke="#000aff"/>
<path d="M51 .5h1.1M341 .5h1.1" stroke="#00ecff"/>
<path d="M114 .5h1.1M119 .5h1.1M140 .5h1.1M166 .5h1.1M260 .5h1.1M274 .5h1.1M319 .5h2M330 .5h1.1M334 .5h1.1" stroke="#00b3ff"/>
<path d="M115 .5h1.1M123 .5h1.1M136 .5h2M145 .5h1.1M148 .5h1.1M374 .5h1.1" stroke="#00faff"/>
<path d="M116 .5h1.1M144 .5h1.1M150 .5h1.1M162 .5h1.1M329 .5h1.1" stroke="#00c1ff"/>
<path d="M121 .5h2M141 .5h1.1M149 .5h1.1M186 .5h1.1M261 .5h2M332 .5h1.1" stroke="#00a5ff"/>
<path d="M124 .5h1.1M146 .5h2" stroke="#00deff"/>
<path d="M125 .5h1.1M163 .5h3M318 .5h1.1M331 .5h1.1M335 .5h1.1M373 .5h1.1" stroke="#00cfff"/>
<path d="M142 .5h1.1M243 .5h1.1M363 .5h1.1M370 .5h1.1" stroke="#00fcd0"/>
<path d="M143 .5h1.1M241 .5h1.1M339 .5h1.1M349 .5h1.1M355 .5h1.1M357 .5h1.1M359 .5h2" stroke="#00feb8"/>
<path d="M240 .5h1.1M366 .5h1.1" stroke="#32ff0d"/>
<path d="M242 .5h1.1M342 .5h1.1M346 .5h1.1M356 .5h1.1M358 .5h1.1M361 .5h1.1" stroke="#00ff7d"/>
<path d="M244 .5h1.1M340 .5h1.1M343 .5h1.1" stroke="#00ffa0"/>
<path d="M245 .5h1.1M351 .5h1.1M378 .5h1.1" stroke="#7dff03"/>
<path d="M338 .5h1.1" stroke="#4bff0a"/>
<path d="M344 .5h1.1M348 .5h1.1M371 .5h1.1" stroke="#19ff11"/>
<path d="M345 .5h1.1M354 .5h1.1M362 .5h1.1M372 .5h1.1M375 .5h2" stroke="#00ff5a"/>
<path d="M347 .5h1.1M353 .5h1.1M365 .5h1.1M368 .5h1.1" stroke="#00ff14"/>
<path d="M350 .5h1.1M367 .5h1.1" stroke="#00ff37"/>
<path d="M352 .5h1.1" stroke="#64ff07"/>
<path d="M364 .5h1.1M369 .5h1.1" stroke="#00fbe7"/>
<path d="M377 .5h1.1" stroke="#a5ff00"/>
</g>
<path d="M82 1019.9l1-1.2 1-.1 1-1.1 1 .8 1-.3 1 .1 1-1 1 .4 1-1.3 1 .2 1 1.8 1-1.9 1-.3 1 .8 1-.8 1 1.5 1-1.7 1 .2 1-.8 1 .7 1-.9 1 1.2 1-2.6 1 .2 1-.3 1-2.7 1 .4 1-.8 1-4.8 1 6 1-10.9 1 4.6 1 0 1 4.8 1-1.2 1 4 1 .7 1-3.2 1-3.5 1 5.7 1-4.6 1 1.5 1 1.4 1 4.9 1 4 1-4.5 1-5.3 1 4.8 1 1.3 1-6.8 1 3.5 1-2.5 1 .3 1 2.5 1 .4 1-2.8 1 2.1 1-2.5 1 1.2 1 .1 1-1.4 1-2.1 1 .8 1 1.3 1 .4 1-.4 1-.4 1 .7 1-3.7 1 1.9 1-3.4 1 3.4 1-1.6 1-3.4 1 2.2 1 0 1-3.2 1 1.3 1 .4 1 1.3 1-3.8 1 3 1-4 1 .1 1 3.1 1-1 1-2.5 1 3.3 1-1.7 1-.6 1-.9 1-3.6 1 3.7 1 1.3 1-1.7 1 1 1-1.4 1 2.1 1-6.6 1 4.9 1-2.3 1 1.6 1 .5 1 .6 1-.7 1 .4 1-3.5 1 1.6 1-3.7 1 3.7 1-2.9 1 4.3 1-1.1 1-.6 1-.4 1 1.4 1-1 1-1.1 1 2.9 1-1.7 1 2.2 1-2 1-.2 1 5.4 1-2.3 1 1 1-2 1 .5 1 .2 1 3.2 1-1.8 1-.7 1-.1 1 .2 1 1.4 1-1.7 1-.1 1 1.8 1-.7 1-.4 1 1.6 1-3.3 1-1.7 1-.9 1 2.2 1 .3 1 .9 1-3.7 1-.1 1 1.6 1-.3 1-1.8 1 1.6 1 1.1 1-1.7 1 3.6 1-2.8 1-2.6 1 .6 1-2.1 1 5.1 1-4 1-.3 1 1.3 1-1.9 1-.8 1 .6 1 1.3 1-.2 1-4 1-.7 1 2.9 1-1.4 1-.4 1 2.1 1-1.1 1-1.7 1 1.5 1-2.2 1 .1 1 3.4 1-3.4 1 1 1-1.4 1-.3 1-1.4 1-.1 1 3.7 1 1.4 1-2.3 1-.1 1-1.8 1 .8 1 2.4 1 1.6 1-2.8 1-.5 1 1.1 1-1.5 1-1.3 1-.2 1 .9 1-.2 1-3 1 .9 1 3.9 1 .3 1-.2 1-1.6 1-.7 1 .9 1 .6 1-1.2 1 2.4 1-2.7 1-2.6 1 4.6 1 .4 1-1.7 1 1.9 1 .4 1-4.7 1 5.5 1-1.4 1 3.9 1 .3 1 1.9 1-1.3 1-1 1 .9 1 2.8 1-3.5 1-2.7 1 1.1 1-.8 1 1.8 1-2.2 1-1.2 1 .3 1-1.8 1 1.3 1-2.8 1 .5 1 .5 1-2.9 1-.4 1 1 1 3.6 1-.8 1-1.1 1 1.6 1-.1 1-2.1 1-.6 1 3.7 1-2.7 1 2.1 1-3.2 1 2.3 1-1.6 1 3.1 1 .3 1-.5 1 .8 1-1.9 1 1.6 1 .4 1-5.7 1-1.1 1-3.9 1-3.1 1-.8 1 .5 1 1.1 1-.3 1 .9 1-2.7 1 3.8 1-2.4 1 3.4 1-3.2 1 1.8 1 2 1 .8 1-.7 1-.1 1 2.9 1 1.3 1-2.7 1-.7 1 .7 1 .4 1-2.7 1 .9 1 2.3 1-2.5 1-.3 1 3.3 1-.9 1 .7 1-2.8 1-.5 1-.6 1-1.9 1-1.2 1 2.8 1-1.3 1 1.9 1 .5 1-3.9 1 .2 1 2.3 1 1.8 1 .2 1-3.5 1 1 1 2.1 1-3.4 1-.5 1 3.5 1-3.2 1-.8 1 4.2 1-3.1 1-.1 1 1.5 1 1.3 1-1.1 1-.9 1 .2 1-.1 1-.3 1-3.1 1 3 1-2.6 1 .9 1 1.2 1-.7 1 .5 1-.9 1 .4 1 1.8 1-4.8 1 3.1 1 .8 1-3.7 1-.2 1 0 1 .6 1-2.1 1 .2 1 .2 1-.1 1 1.8 1-3.2 1 1.7 1-.4 1-1.2 1-.4 1-1.7 1-.2 1 1.4 1-.5 1-1.1 1 1.9 1-1.8 1-.4 1-.5 1 1.6 1-.9 1-.6 1-2.6 1 4.3 1-4.9 1 2.5 1-2.6 1-.8 1-2.7 1 4.8 1 0 1-1.2 1-.4 1-1.5 1 1.7 1-.5 1-2.1 1 1.4 1 0 1-1.4 1 3.1 1-3.8 1 4.7 1-1.4 1-2.7 1 3.1 1-.6 1 .3 1-1.5 1-1.6 1-1.5 1 3.7 1-.4 1-.6 1 4.2 1-2.2 1-2.9 1 2.2 1 1.1 1-2.5 1 2.4 1-.7 1-1.6 1 3 1 .6 1-4.9 1 4.5 1-1.5 1 .3 1-2 1 .9 1 4.2 1-1.7 1-1.3 1 .3 1-1.4 1 1.1 1-1.2 1 1.7 1-2.1 1 1.9 1 .9 1-1.7 1 .7 1 .1 1-1.2 1-1.4 1 3.7 1-1.5 1-.9 1 4 1-5.4 1 .8 1-.6 1-.9 1 2.3 1-1.4 1 5.3 1-5.5 1 4.9 1-5.6 1 1.4 1 .9 1-2.5 1 4 1-3.4 1-.2 1 3.4 1-3.8 1 3.5 1 1.1 1-.8 1 1.6 1-4.9 1 4.3 1-4.7 1-3 1 3.8 1 5.4 1-7.7 1 7.1 1-8.3 1 5.9 1-1.2 1-2.8 1-5 1 7.3 1-.4 1-.6 1 .9 1-4.9 1 7 1-3.2 1-4.6 1 7.4 1-6 1 .9 1 .7 1-4.8 1-.3 1 1.6 1-2.9 1 2.2 1 4.1 1-6.6 1 3.1 1-1.7 1 3.6 1-5.3 1 .1 1 2.4 1 5.6 1-7.8 1-2 1 1.8 1 4.3 1 .5 1-2.6 1 .8 1-4.3 1 4.6 1-1.5 1-1.6 1 4 1-.2 1-4.3 1 1.5 1-5.9 1 3.2 1 3.2 1-3.9 1 0 1 2.8 1-5.5 1 2.1 1 1.9 1-2.1 1-1 1-.5 1 1.6 1-2.1 1 1.5 1-1.1 1-.1 1 1.2 1-2.8 1-1.1 1 1 1 0 1-1.1 1-2.7 1 3.1 1-4 1-.8 1 3.8 1 .4 1-3.2 1-1.3 1 2.8 1-4.5 1 1.4 1-.9 1 1.7 1-.6 1-1.7 1 2.7 1-.6 1-1.2 1-.5 1 .2 1-1.9 1 1.5 1-.1 1 1.1 1-1.2 1-.5 1 .9 1 1 1-.7 1-1.1 1-.6 1 2.6 1-1.3 1-1.1 1 2.9 1-2.3 1 2.6 1 2.5 1-.5 1 .5 1 2.3 1 1.3 1-2.4 1 .4 1 1.4 1-.1 1 2.4 1 .4 1-1.3 1-1.4 1-.8 1 2.1 1-.9 1 1.9 1-2.6 1 1 1 .3 1 2.1 1-.4 1-.4 1-.4 1 .7 1-3.7 1 4 1-1.7 1 2.6 1-.8" fill="none" stroke="#00ffff" stroke-width="2.7" stroke-linejoin="round"/>
<path d="M82 969l.5-1 .5 .9 .5-.3 .5 0 .5-.7 .5 0 .5 .4 .5-.7 .5 .4 .5-.7 .5 .5 .5 0 .5-.3 .5 .1 .5-.8 .5 .1 .5-.1 .5 .6 .5-.9 .5 .1 .5 .4 .5-.5 .5 .1 .5-.9 .5 .7 .5-.5 .5 .1 .5 0 .5-1.2 .5 1.1 .5-.9 .5-.2 .5-1.4 .5-.7 .5-1.6 .5-.7 .5 .1 .5-1.6 .5-.5 .5-.9 .5-1.3 .5-.5 .5-.8 .5-.6 .5-1.2 .5-1 .5 0 .5 1.5 .5-3.9 .5-3.2 .5 2.9 .5-2.3 .5 4 .5-3.4 .5-1.6 .5 .5 .5-1.6 .5 1.6 .5-2.9 .5 3 .5 1.1 .5-1 .5-3.3 .5 2.6 .5-2 .5-2.5 .5 4.6 .5 3.7 .5 .3 .5 .4 .5 1 .5 3 .5-2.7 .5-4.5 .5-1.6 .5-4.6 .5-3.4 .5-3.9 .5 2.3 .5-.2 .5 1.5 .5 .5 .5 5.3 .5-7.1 .5 4 .5-1.1 .5 2.6 .5 .4 .5 3.4 .5-2.9 .5-.5 .5 2.9 .5 .2 .5-6.5 .5 7.4 .5-7.3 .5 4.1 .5-2 .5-.9 .5-3.8 .5-3.5 .5-1.1 .5 3.1 .5-5 .5 .6 .5-2.9 .5-1.7 .5 2 .5-4.3 .5 1.3 .5-.4 .5 .7 .5-.8 .5-2.2 .5 1.1 .5-.1 .5 4.7 .5-2.8 .5-2.1 .5 .3 .5-1.2 .5 3.9 .5-4.2 .5-1.9 .5 11.2 .5-9.8 .5 1 .5-.3 .5 3.5 .5-1.8 .5 .3 .5 4.3 .5 1.5 .5-1.8 .5-2.5 .5 3.9 .5-1.9 .5 2.5 .5 .6 .5-2.7 .5 5 .5-1.4 .5 .5 .5-3.2 .5 3 .5-4.8 .5 .4 .5-3.7 .5-1.8 .5-1.3 .5-2.2 .5 2.8 .5 3.9 .5-.3 .5-4.1 .5 .4 .5 5.2 .5-1.5 .5-1.5 .5-.6 .5 .1 .5-4 .5 6.2 .5 12.1 .5 5.2 .5 1.5 .5 3 .5-2.6 .5-6.8 .5-.9 .5-2.6 .5 1.7 .5 22.8 .5-25.9 .5-2.8 .5-2.8 .5 6 .5 3.4 .5-9 .5-2.7 .5 1.8 .5 .8 .5 1.9 .5-1.6 0 63.3 .5-71.6 .5 2.4 .5-2 .5 4.1 .5-8.3 .5-3.7 .5 7.6 .5 9.6 .5-13 .5 .8 .5-4.1 .5 3.7 .5-6.3 .5-1.2 .5 6.4 .5-4.8 .5 5.3 .5-4.7 .5-5.4 .5-.3 .5-3.1 .5 15.6 .5-10.9 .5-3.4 0 60.2 .5-60.3 .5-6.1 .5 8.5 .5-2.3 .5 2.2 .5-8.8 .5 4.6 .5-1.9 .5 15.7 .5-12.2 .5 11.5 .5-5.8 .5-2.4 .5 10 .5 4.3 .5-6.2 .5 .4 .5 4.4 .5-2.8 .5 2.6 .5-3.3 .5 8.2 .5-1.6 .5 7.7 .5 2 .5 4.6 0 37.5 .5-39.4 .5-.4 .5 6.7 .5-5.5 .5-3.5 .5 4.1 .5 2.9 .5 3.2 .5 1.3 .5-7.3 .5 6.9 .5-2.7 .5 .6 .5-6 .5 2.4 .5-6.9 .5 7.5 .5-1.9 .5 3.4 .5 1.2 .5-7.3 .5 6 .5 .3 .5-5 .5 7.2 .5 .8 .5-13.5 .5 4.3 .5 5.2 .5-4.9 .5-8.7 .5 3.5 .5 5.3 .5-7.6 .5 1.2 .5-3.8 .5 9.7 .5-1.7 .5-11.1 .5-2.6 .5 7.4 0 33.3 .5-34.5 .5-2.2 .5-.4 .5-2.2 .5 3.5 .5-.9 .5 .7 .5-2.2 .5-5.8 .5 10.2 .5-10.7 .5 .6 .5-3.6 .5-1.3 .5 1.3 .5-1 .5 .9 .5 5.8 .5-1.3 .5-6.5 .5 1.8 .5-1.7 .5-2.2 .5 4.6 .5-9 .5 7.3 .5-2.1 .5-3.6 .5 5.7 .5 1.4 .5-2.7 .5 13.6 .5-16.4 .5 5.3 .5 4.2 0 25.8 .5-34.3 .5 12.3 .5-13.3 .5 9.9 .5-4.6 .5 3.5 .5-.2 .5 .7 .5 4.1 .5 4.7 .5-6.3 .5 4 .5-3.9 .5-6.4 .5 6.2 .5-.1 .5 11 .5-7.9 .5-2.4 .5-3.6 .5 .3 .5-3.6 .5 2.6 .5 8 .5-13.1 .5 12.1 .5-7.3 .5-1.1 .5-1.8 .5-2.9 .5 6.4 .5-1.7 .4 63.7 .1-63.3 .5 3.7 .5 16.4 .5-14.6 .5 2.7 .5 6.9 .5-6.7 .5 8.2 .5 7.2 .5-7 .5-3.9 .5 11 .5-2.6 .5 7.7 0 28.3 .5-29.3 .5 1.1 .5-2.2 .5 11.1 .5-3.2 .5 .6 .5 3.4 .5 56.4 .5-59 .5 19.2 .5-27.8 .5 15.5 .5-7.4 .5 27.4 .5-18.4 .5-11.4 .5 13.4 .5-12.2 .5 16.5 .5-11.1 .5 0 .5-7.2 0 77.2 .5-74.4 .5 11.1 .5-17.6 .5 13.6 .5-4.1 .5 .6 .5-4.8 .5-1 .5 3.9 .5-4.8 .5 58.5 .5-60 .5 71.5 .5-71 0 45.9 .5-47.3 .5 25.6 .5-13.3 .5-18.3 .5 6.4 .5 55.3 .5-53.3 .5 5.8 .5-17.4 .5 10.7 .5-12.6 .5 17.7 .4 69.4 .1-80.7 .5 2.3 .5 3 .5-7.1 .5 3.6 .5-1.7 .5 9.8 .5-.1 .5-10.7 .5 2.5 .5 3.1 .5-6 .5-.3 .5 36.2 .5-7.1 .5-10.6 0 45.1 .5-58.6 .5 13.5 .5-.8 .5-7.5 .5 3.4 .5-11.4 .5 13 .5 17 .5-21.4 .5 12.2 .5 53 .5-56.6 .5-4.2 .5 .1 0 68.9 .5-78.7 .5 10.6 .5-6.9 .5 20.2 .5-14 .5-10.2 .5-11.2 .5 28.7 .5-13.9 .3 67.7 .2-70.9 .5-2.8 .5-2.2 .5 4.8 .5 1.8 .5-6.2 .5 82.6 .5-82.9 .5 14.7 .5-15.8 .5 74.2 0-15.2 .5-54.2 .5-2.4 .5 2.1 .5 38.1 .5-38.7 .5-3.8 .5-2.1 .5-.8 .5 1 .5-4.5 .5-.4 .5 1.1 .4 86.4 .1-21.3 .5-16.7 .5-20.8 .5-41.6 .5 14.8 .5-7.9 .5-.7 .5 61.4 .5-62.1 .5 26.1 0 42 .5-67 .5-3.2 .5 15.9 .5-13.7 .5-2.5 .5 4.4 .5 11.4 .5-18.3 .5 14.5 .5-10 0 90.5 .5-84.4 .5-.4 .5 6.9 .5-4.4 .5 11 .5-11 .5-4.4 .5 72.1 .5-58.2 .5 .4 .5 2.5 .5-5.1 .5 9.9 .5-.4 .5 46.6 .5 6.2 0 .7 .5-60.5 .5 65.8 .5-58.6 .5 7.7 .5-8.3 .5 5.2 .5 .9 .5 61.8 .5-58.7 .5-10 .5 66.8 .5-65.5 .5-1.6 .5 .2 0 39.8 .5-30.6 .5 3.3 .5-10.9 .5 8.7 .5-15.3 .5 14.9 .5 73.1 .5-70.2 .5-9.1 .5 .1 0 46 .5-42.7 .5 8.8 .5-4.7 .5 8.1 .5 9.7 .5-5.9 .5-24.2 .5 60.6 .3 17.9 .2-69 .5 26.8 .5-27.2 .5 13.3 .5-23.1 .5-4.1 .5 6.1 .5-10.2 .5 5.7 .5-3.8 .5-8.8 .5 14.3 .5-25.8 .5 17.8 .5-1.7 .5 5.9 .5 5.5 .5-.4 .5-1.6 .5 6 0 20 .5-23.2 .5 32.2 .5-29.1 .5-.4 .5 22.8 .5-25.4 .5-5.8 .5 5.4 .5-6.8 .5 5.9 .5-3.4 .3 49.1 .2-46.5 .5 2.3 .5 15.5 .5-21.7 .5 3.1 .5-6.6 .5 2.7 .5 2.5 .5-8.7 .5 3.9 .5 13.6 .5-8.8 .5 26.7 .5-24.4 .5-3.4 .5-.6 .5 .6 .5 4.6 .5 2.1 .5-6.6 .5-.5 .5 .2 .5-6.9 .5 2.2 .5 1.5 .5-1.5 .5 2.5 .5-10.2 .5 1.2 .5 2.9 .5-1.7 .5 2.7 .5-3.5 .5-5.5 .5 3 .5-2.8 .5 6 .5 3.7 .5-2.2 0 22 .5-25.3 .5-4.8 .5 6.4 .5-2 .5 .1 .5 2.2 .5 7.7 .5-9 .5-.9 .5-2.2 .5 7.7 .5-6 .5-2.9 .5 4.6 .5 2.6 .5-4.9 .5 3.9 .5-5.1 .5 9.5 .5-7.8 .5 3.7 .5 18.7 .5-20.1 .5 3 .5 8.7 .5-9.9 .5 11.1 .5-2.2 .5-5.5 .5-2.5 .5 .9 .5-4 .5 19.9 .5-17.7 .5 5.8 .5-.9 .5 .1 .5 9.6 .5-6.8 .5 3.6 .5-.4 .5-.5 .5 1.2 .5-6.7 .5 5 .5 2.7 .5 1.9 .5-6.4 .5 5 .5-2.1 .5-4.1 .5-4.2 .5 5.9 .5-3.3 .5 5.6 .5 3.6 .5-12.6 .5 3 0-15.9 .5 18.4 .5 2.7 .5-12.7 .5 9.7 .5-6.2 .5 3.2 .5-2.3 .5 5.6 .5 9.5 .5-7.2 .5-1.8 .3 17.8 .2-24.6 .5-5.1 .5 6.1 .5-1.2 .5 1.9 .5-3 .5 0 .5 4.4 .5-1.9 .5-3.3 .5 3.3 .5-4.5 .5 3.1 .5 2.4 .5-4.9 .5-3.1 .5 4.7 .5-2 .5 6.8 .5-6.4 .5-1.6 .5-1.7 .5-3.4 .5 4.7 .5 3 .5-3.1 .5 4.8 .5 1.4 .5-.6 .5-4.4 .5-.3 .5 5.4 .5-4.7 .5 .2 .5 .3 .5 6.3 .5-10.4 .5 9.8 .5-.6 .5 7.6 .5-6.6 .5 3.8 .5-4.8 .5-5.2 .5-1.8 .5 4.9 .5 1.5 .5-.4 .5 2.4 .5 .5 .5-11.6 .5 8 .5 .1 .5 2.1 .5-4.5 .5 6.6 .5-3.5 .5 4.2 .5-6.2 .5 2.1 .5-3.5 .5 1.7 .5 2.4 .5-.3 .5 3.3 .5 .8 .5-1 .5 .4 .5-3.2 .5 2.6 .1 25.6 .4-24.5 .5-1.2 .5 5.3 .5-.2 .5-4.1 .5 1.6 .5 1.6 .5 1 .5 5 .5-5.1 .5-1 .5 3.6 .5 1.3 .5 2.3 .5-6.7 .5 2.8 .5 1.9 .5 .3 .5-5.2 .5 6.8 .5 3.8 .3-31.8 .2 29.5 .5-2 .5-2.5 .5 .6 .5 3.5 .5-1.9 .5 .3 .5-2.8 .5 6.9 .5 1.4 .5-2.8 .5 2.4 .5-1.5 .5 5.1 .5-5.5 .5 .4 .5-3.7 .5 3.8 .5-.9 .5-.2 .5 6.6 .5-2.2 .5 1 .5-2.2 .5-3.9 .5 3.3 .5 2.4 .5-6.9 .5 1.3 .5-.3 .5 2.5 .5-4 .5 1.4 .5-1.1 .5-3.8 .2 52.2 .3-51.5 .5-5.6 .5 1.7 .5 2.5 .5-1.3 .5-.9 .5-1.9 .5 1.8 .5-1.5 .5-2.6 .5-6.3 .5 14.2 .5-3.2 .5-11 .5 7.5 .5-5.9 .5 4.5 .5-6.9 .5 2.6 .5-1.7 .5 3.8 .5 12.7 .5-15.1 .5-8 .5 9.1 .5-5.5 .5 8.3 .5-6.9 .5-5.5 .5 6.5 .5-3.6 .5 6 .5-5.3 .5 5.7 .5-6.5 .5 9.5 .5-3.8 .5 2.8 .5-2.9 .5 7.7 .5-7.2 .5 3.1 .5-2.2 0 21.2 .5-16.6 .5-8.5 .5-.2 .5 7.1 .5-3.9 .5-.6 .5 5.3 .5-1 .5-7.5 .5 9 .5-1.5 .5-1.2 .5 6.5 .5 0 .5 9.6 .5-12 .5-.8 .5 12.1 .5-5.1 .5 5.2 .5-9.8 .5 2 .5 4.7 .5-11.9 .5 6.1 .5 5.8 .5-6.7 .5 9.2 .5-2.5 .5-4.4 .5 6.2 .5 .6 .5 .2 .5 1.5 .5-7.9 .5 2.7 .5 2.7 .5-1.6 .5-.8 .5 25.1 .5-27 .5-3.1 .5 3.3 .5-3.5 .5 4.4 .5-5.8 .5 5.7 .5-8.7 .5 .8 .5 3.7 .5-2.9 .5 2.7 .5-.7 .5 .3 .5-7.2 .5 6.9 .5-2.9 .5 .7 .5-4 .5 4.4 .5 .9 .5-1.7 .5 .4 .5-1.3 .5-1.4 .5 7.6 .5-7.8 .5 0 .5 1.8 .5 1.5 .5 2.4 .5-2.2 .5-3.6 .5-3.1 .5 3.6 .5-4.6 .5-.2 .5-3.1 .5 10.2 .5-.5 .5-7.5 .5 3.8 .5 .7 .5 3.7 .5-.4 .5-7.8 .5 3.9 .5-5.5 .5 3.9 .5 .4 .5-1.2 .5-2.9 .5 2.5 .5 8.1 .5-9.2 .5 2 .5 9.5 .5-7 .5-4.1 .5 6 .5-.2 .5-4.1 .5 .1 .5-2.2 .5 1.4 .5-1.7 .5 1.9 .5-10.1 .5 7.8 .5-4.3 .5 4.3 .5-1.7 .5-5.3 .5-.3 .5-1.1 .5-.4 .5 4 .5 4.6 .5-2.1 .5-2.2 .5 5.5 .5-2.1 .5 5 .5 3.4 .5 2.2 .5 2 .5-6.5 .5-5.8 .5 8.4 .5-.7 0 82.1 .5-78.9 .5-.2 .5-3.2 .5 1.1 .5 12.2 .5-14.6 .5-4.9 .5 8.2 .5-.6 .5-2.2 .5 5.9 .5-4.4 .5-1.3 .5 3.9 .5 5.6 .5-8.7 .5 7.1 .5-6.4 .5 7.2 .5-3.2 .5 .9 .5 4.3 .5 6.7 .1 69.4 .4-82.9 .5 5.8 .5 6.2 .5-.3 .5-3 .5-2.4 .5 6.4 .5 0 .5-1.9 .5 3.7 .5-.9 .5 2.2 .5-8.5 .5 3.9 .5-.8 .5-7.7 .5 12.7 .5-8.3 .5-6 .5-4.5 .5-.7 .5-1.1 .5-.2 .5-7.6 .5-1.2 .5 6.3 .5-10.5 .5 10.9 .5-7.2 .5-4.4 .5 1.8 .5 8.4 .5-5 .5-4.2 .5 7.5 .5-2.6 .5-3.9 .5-1.7 .5-1.5 .5 5.1 .5 1.5 .5 3.2 .5 .1 .5-1.9 .5-8.3 .5 2.9 .5 4.6 .5 0 .5 3.7 .5 .7 .5 4 .5 5.9 .5 .9 .5 .1 .5 .6 .5-2.2 .5-.6 .5 21.1 .5-4.3 .5 20.1 .5-9.7 .5 .9 .5-5.3 .5 .4 .5 23.9 .5-18.5 .5 16.5 .5-2.2 .5 15 .5-16.6 .5 16.4 .5 18.7 .5-34.7 0 25.6 .5-22.1 .5 5 .5-8.6 .5-1.2 .5-6.9 .5 33.4 0-1.6 .5-11.4 .5-18.6 .5 32.5 .5-14 .5 6.2 .5-13.5 .5-9.7 .5-5.4 .5 6.6 .5 9.6 .5 7.6 .5 16.4 .5-24.7 .5 5.1 .5-4.9 .5-8.5 .5 9.2 .5 13.3 0 11.2 .5-13.3 .5-4.9 .5-1 .5 16.1 .5-13.4 .5 10.7 .5-24.5 .5 10.6 .5 1.7 .5-6.8 .5 10 .3 21.5 .2-31.8 .5 22.4 .5-22.4 .5 9.1 .5-12 .5 7.2 .5 22.3 0 3.3 .5-18.2 .5-22 .5 22.1 .5-5.7 .5-11.6 .5 2.9 .5 7.6 .5-10.4 .5 9.9 .5-7 .5 2.8 .5 4.7 .5-4.9 .5-.2 .5 1.6 .5-.9 .5-.5 .5-1.6 .5 .1 .5-1.1 .5-.1 .5-.2 .5-.2 .5 2.3 .5-1.9 .5-1 .5 0 .5 1.1 .5 .9 .5-1.7 .5-.8 .5 1.9 .5 1.2 .5-3.2 .5 .9 .5-2.4 .5 7 .5-5.7 .5-.3 .5 2.3 .5-1 .5 1.8 .5-2.6 .5 1.5 .5 .1 .5 .5 .5 2.1 .5-3 .5-1.3 .5 2.1 .5-1.9 .5 2.7 .5-1.1 .5-.2 .5-2.7 .5 0 .5 1.6 .5 .9 .5-3.3 .5 2.6 .5 1.1 .5-1.3 .5 2.5 .5-1.1 .5 2.1 .5-3.6 .5 1.8 .5-5.1 .5 3.1 .5 2.9 .5-2.2 .5-.2 .5-1.1 .5 4.7 .5-.7 .5-2.1 .5 .6 .5-.5 .5-2.2 .5 2.7 .5-1.4 .5-.4 .5 3.1 .5-1.7 .5-1.7 .5 2.5 .5-.9 .5 .6 .5-.7 .5 .7 .5 0 .5-1.9 .5 4.9 .5-3 .5-4.4 .5 5.6 .5-4 .5 3 .5 1.9 .5-3 .5 .3 .5 2.1" fill="none" stroke="#000" stroke-width="2.5" stroke-linejoin="round"/>
<text x="503" y="1014.8" font-size="27" text-anchor="start" fill="#00ffff">V</text>
<text x="518.5" y="1021.6" font-size="17" text-anchor="start" fill="#00ffff" textLength="18.5" lengthAdjust="spacingAndGlyphs">SW</text>
<text x="633.8" y="922" font-size="24" text-anchor="start" fill="#000">(c)</text>
<line x1="351.4" y1="37.6" x2="351.4" y2="1030.7" stroke="#ffa500" stroke-width="2.7"/>
<line x1="622.6" y1="48" x2="622.6" y2="1030" stroke="#000" stroke-width="2" stroke-dasharray="20.5 21.3"/>
<rect x="81.1" y="37.6" width="607.7" height="695.9" fill="none" stroke="#000" stroke-width="2.2"/>
<path d="M102.1 733.5L102.1 726.5M102.1 37.6L102.1 44.6M123.1 733.5L123.1 726.5M123.1 37.6L123.1 44.6M144.1 733.5L144.1 726.5M144.1 37.6L144.1 44.6M165.1 733.5L165.1 726.5M165.1 37.6L165.1 44.6M186.1 733.5L186.1 726.5M186.1 37.6L186.1 44.6M207.1 733.5L207.1 726.5M207.1 37.6L207.1 44.6M228.1 733.5L228.1 726.5M228.1 37.6L228.1 44.6M249.1 733.5L249.1 726.5M249.1 37.6L249.1 44.6M270.1 733.5L270.1 726.5M270.1 37.6L270.1 44.6M291.1 733.5L291.1 726.5M291.1 37.6L291.1 44.6M312.1 733.5L312.1 726.5M312.1 37.6L312.1 44.6M333.1 733.5L333.1 720.5M333.1 37.6L333.1 50.6M354.1 733.5L354.1 726.5M354.1 37.6L354.1 44.6M375.1 733.5L375.1 726.5M375.1 37.6L375.1 44.6M396.1 733.5L396.1 726.5M396.1 37.6L396.1 44.6M417.1 733.5L417.1 726.5M417.1 37.6L417.1 44.6M438.1 733.5L438.1 726.5M438.1 37.6L438.1 44.6M459.1 733.5L459.1 726.5M459.1 37.6L459.1 44.6M480.1 733.5L480.1 726.5M480.1 37.6L480.1 44.6M501.1 733.5L501.1 726.5M501.1 37.6L501.1 44.6M522.1 733.5L522.1 726.5M522.1 37.6L522.1 44.6M543.1 733.5L543.1 726.5M543.1 37.6L543.1 44.6M564.1 733.5L564.1 726.5M564.1 37.6L564.1 44.6M585.1 733.5L585.1 720.5M585.1 37.6L585.1 50.6M606.1 733.5L606.1 726.5M606.1 37.6L606.1 44.6M627.1 733.5L627.1 726.5M627.1 37.6L627.1 44.6M648.1 733.5L648.1 726.5M648.1 37.6L648.1 44.6M669.1 733.5L669.1 726.5M669.1 37.6L669.1 44.6M81.1 702.8L92.1 702.8M688.8 702.8L677.8 702.8M81.1 644.9L86.1 644.9M688.8 644.9L683.8 644.9M81.1 587L92.1 587M688.8 587L677.8 587M81.1 529.1L86.1 529.1M688.8 529.1L683.8 529.1M81.1 471.3L92.1 471.3M688.8 471.3L677.8 471.3M81.1 413.4L86.1 413.4M688.8 413.4L683.8 413.4M81.1 355.5L92.1 355.5M688.8 355.5L677.8 355.5M81.1 297.6L86.1 297.6M688.8 297.6L683.8 297.6M81.1 239.7L92.1 239.7M688.8 239.7L677.8 239.7M81.1 181.9L86.1 181.9M688.8 181.9L683.8 181.9M81.1 124L92.1 124M688.8 124L677.8 124M81.1 66.1L86.1 66.1M688.8 66.1L683.8 66.1" stroke="#000" stroke-width="1.9" fill="none"/>
<text x="62.2" y="131" font-size="20.5" text-anchor="end" fill="#000" textLength="19.6" lengthAdjust="spacingAndGlyphs">10</text>
<text x="68" y="120.4" font-size="12.5" text-anchor="start" fill="#000">6</text>
<text x="62.2" y="246.7" font-size="20.5" text-anchor="end" fill="#000" textLength="19.6" lengthAdjust="spacingAndGlyphs">10</text>
<text x="68" y="236.1" font-size="12.5" text-anchor="start" fill="#000">4</text>
<text x="62.2" y="362.5" font-size="20.5" text-anchor="end" fill="#000" textLength="19.6" lengthAdjust="spacingAndGlyphs">10</text>
<text x="68" y="351.9" font-size="12.5" text-anchor="start" fill="#000">2</text>
<text x="62.2" y="478.3" font-size="20.5" text-anchor="end" fill="#000" textLength="19.6" lengthAdjust="spacingAndGlyphs">10</text>
<text x="68" y="467.7" font-size="12.5" text-anchor="start" fill="#000">0</text>
<text x="62.2" y="594" font-size="20.5" text-anchor="end" fill="#000" textLength="19.6" lengthAdjust="spacingAndGlyphs">10</text>
<text x="62.6" y="583.4" font-size="12.5" text-anchor="start" fill="#000">-2</text>
<text x="62.2" y="709.8" font-size="20.5" text-anchor="end" fill="#000" textLength="19.6" lengthAdjust="spacingAndGlyphs">10</text>
<text x="62.6" y="699.2" font-size="12.5" text-anchor="start" fill="#000">-4</text>
<text x="701.5" y="52.6" font-size="26" text-anchor="start" fill="#000" textLength="29.5" lengthAdjust="spacingAndGlyphs">eV</text>
<text x="703" y="92.3" font-size="25" text-anchor="start" fill="#ff0000">18</text>
<text x="703" y="124.6" font-size="25" text-anchor="start" fill="#00ff00">27</text>
<text x="703" y="172.6" font-size="25" text-anchor="start" fill="#0000ff">65</text>
<text x="703" y="206" font-size="25" text-anchor="start" fill="#ff0000">164</text>
<text x="703" y="240.2" font-size="25" text-anchor="start" fill="#00ffff">200</text>
<text x="703" y="284" font-size="25" text-anchor="start" fill="#00ffff">427</text>
<text x="703" y="350" font-size="25" text-anchor="start" fill="#ff0000">634</text>
<text x="703" y="405.8" font-size="25" text-anchor="start" fill="#00ff00">920</text>
<text x="703" y="463" font-size="25" text-anchor="start" fill="#00ffff">1.34k</text>
<text x="703" y="535" font-size="25" text-anchor="start" fill="#0000ff">1.95k</text>
<text x="699" y="666" font-size="25" text-anchor="start" fill="#ff0000">40k</text>
<text x="633.5" y="62" font-size="24" text-anchor="start" fill="#000">(a)</text>
<rect x="81.1" y="743.3" width="607.7" height="137.5" fill="none" stroke="#000" stroke-width="2.2"/>
<path d="M102.1 880.8L102.1 878.4M102.1 743.3L102.1 745.7M123.1 880.8L123.1 878.4M123.1 743.3L123.1 745.7M144.1 880.8L144.1 878.4M144.1 743.3L144.1 745.7M165.1 880.8L165.1 878.4M165.1 743.3L165.1 745.7M186.1 880.8L186.1 878.4M186.1 743.3L186.1 745.7M207.1 880.8L207.1 878.4M207.1 743.3L207.1 745.7M228.1 880.8L228.1 878.4M228.1 743.3L228.1 745.7M249.1 880.8L249.1 878.4M249.1 743.3L249.1 745.7M270.1 880.8L270.1 878.4M270.1 743.3L270.1 745.7M291.1 880.8L291.1 878.4M291.1 743.3L291.1 745.7M312.1 880.8L312.1 878.4M312.1 743.3L312.1 745.7M333.1 880.8L333.1 877M333.1 743.3L333.1 747.1M354.1 880.8L354.1 878.4M354.1 743.3L354.1 745.7M375.1 880.8L375.1 878.4M375.1 743.3L375.1 745.7M396.1 880.8L396.1 878.4M396.1 743.3L396.1 745.7M417.1 880.8L417.1 878.4M417.1 743.3L417.1 745.7M438.1 880.8L438.1 878.4M438.1 743.3L438.1 745.7M459.1 880.8L459.1 878.4M459.1 743.3L459.1 745.7M480.1 880.8L480.1 878.4M480.1 743.3L480.1 745.7M501.1 880.8L501.1 878.4M501.1 743.3L501.1 745.7M522.1 880.8L522.1 878.4M522.1 743.3L522.1 745.7M543.1 880.8L543.1 878.4M543.1 743.3L543.1 745.7M564.1 880.8L564.1 878.4M564.1 743.3L564.1 745.7M585.1 880.8L585.1 877M585.1 743.3L585.1 747.1M606.1 880.8L606.1 878.4M606.1 743.3L606.1 745.7M627.1 880.8L627.1 878.4M627.1 743.3L627.1 745.7M648.1 880.8L648.1 878.4M648.1 743.3L648.1 745.7M669.1 880.8L669.1 878.4M669.1 743.3L669.1 745.7M81.1 875.8L90.1 875.8M688.8 875.8L679.8 875.8M81.1 812.3L90.1 812.3M688.8 812.3L679.8 812.3M81.1 748.9L90.1 748.9M688.8 748.9L679.8 748.9" stroke="#000" stroke-width="1.9" fill="none"/>
<text x="71" y="758" font-size="22" text-anchor="end" fill="#000">180</text>
<text x="71" y="820.5" font-size="22" text-anchor="end" fill="#000">90</text>
<text x="71" y="882" font-size="22" text-anchor="end" fill="#000">0</text>
<text x="513" y="790" font-size="25" text-anchor="start" fill="#000" textLength="79" lengthAdjust="spacingAndGlyphs">427 eV</text>
<text x="633" y="784" font-size="24" text-anchor="start" fill="#000">(b)</text>
<defs><linearGradient id="cbw" x1="0" y1="0" x2="0" y2="1"><stop offset="0.00%" stop-color="#a50000"/><stop offset="4.00%" stop-color="#b90000"/><stop offset="10.00%" stop-color="#ff0000"/><stop offset="16.00%" stop-color="#ff6e00"/><stop offset="22.50%" stop-color="#ffc800"/><stop offset="29.00%" stop-color="#ffff00"/><stop offset="37.50%" stop-color="#96ff00"/><stop offset="45.00%" stop-color="#00ff14"/><stop offset="50.00%" stop-color="#00ffa0"/><stop offset="55.00%" stop-color="#00faff"/><stop offset="62.50%" stop-color="#00a5ff"/><stop offset="70.00%" stop-color="#003cff"/><stop offset="75.00%" stop-color="#000aff"/><stop offset="80.00%" stop-color="#3700d7"/><stop offset="88.00%" stop-color="#460078"/><stop offset="95.00%" stop-color="#1e002d"/><stop offset="100.00%" stop-color="#000000"/></linearGradient></defs>
<rect x="702.5" y="744" width="10.3" height="137.5" fill="url(#cbw)" stroke="none" stroke-width="0"/>
<rect x="701.3" y="742.8" width="12.7" height="139.9" fill="none" stroke="#000" stroke-width="2.4"/>
<text x="721" y="757" font-size="26" text-anchor="start" fill="#000" textLength="33" lengthAdjust="spacingAndGlyphs">2.0</text>
<text x="721" y="820.3" font-size="26" text-anchor="start" fill="#000" textLength="33" lengthAdjust="spacingAndGlyphs">1.0</text>
<text x="721" y="882.3" font-size="26" text-anchor="start" fill="#000" textLength="33" lengthAdjust="spacingAndGlyphs">0.0</text>
<rect x="81.1" y="892.3" width="607.7" height="138.4" fill="none" stroke="#000" stroke-width="2.2"/>
<path d="M102.1 1030.7L102.1 1028.3M102.1 892.3L102.1 894.7M123.1 1030.7L123.1 1028.3M123.1 892.3L123.1 894.7M144.1 1030.7L144.1 1028.3M144.1 892.3L144.1 894.7M165.1 1030.7L165.1 1028.3M165.1 892.3L165.1 894.7M186.1 1030.7L186.1 1028.3M186.1 892.3L186.1 894.7M207.1 1030.7L207.1 1028.3M207.1 892.3L207.1 894.7M228.1 1030.7L228.1 1028.3M228.1 892.3L228.1 894.7M249.1 1030.7L249.1 1028.3M249.1 892.3L249.1 894.7M270.1 1030.7L270.1 1028.3M270.1 892.3L270.1 894.7M291.1 1030.7L291.1 1028.3M291.1 892.3L291.1 894.7M312.1 1030.7L312.1 1028.3M312.1 892.3L312.1 894.7M333.1 1030.7L333.1 1026.9M333.1 892.3L333.1 896.1M354.1 1030.7L354.1 1028.3M354.1 892.3L354.1 894.7M375.1 1030.7L375.1 1028.3M375.1 892.3L375.1 894.7M396.1 1030.7L396.1 1028.3M396.1 892.3L396.1 894.7M417.1 1030.7L417.1 1028.3M417.1 892.3L417.1 894.7M438.1 1030.7L438.1 1028.3M438.1 892.3L438.1 894.7M459.1 1030.7L459.1 1028.3M459.1 892.3L459.1 894.7M480.1 1030.7L480.1 1028.3M480.1 892.3L480.1 894.7M501.1 1030.7L501.1 1028.3M501.1 892.3L501.1 894.7M522.1 1030.7L522.1 1028.3M522.1 892.3L522.1 894.7M543.1 1030.7L543.1 1028.3M543.1 892.3L543.1 894.7M564.1 1030.7L564.1 1028.3M564.1 892.3L564.1 894.7M585.1 1030.7L585.1 1026.9M585.1 892.3L585.1 896.1M606.1 1030.7L606.1 1028.3M606.1 892.3L606.1 894.7M627.1 1030.7L627.1 1028.3M627.1 892.3L627.1 894.7M648.1 1030.7L648.1 1028.3M648.1 892.3L648.1 894.7M669.1 1030.7L669.1 1028.3M669.1 892.3L669.1 894.7M81.1 1024.9L87.1 1024.9M81.1 1019.2L87.1 1019.2M81.1 1013.4L87.1 1013.4M81.1 1007.6L93.1 1007.6M81.1 1001.9L87.1 1001.9M81.1 996.1L87.1 996.1M81.1 990.3L87.1 990.3M81.1 984.6L93.1 984.6M81.1 978.8L87.1 978.8M81.1 973L87.1 973M81.1 967.3L87.1 967.3M81.1 961.5L93.1 961.5M81.1 955.7L87.1 955.7M81.1 950L87.1 950M81.1 944.2L87.1 944.2M81.1 938.4L93.1 938.4M81.1 932.7L87.1 932.7M81.1 926.9L87.1 926.9M81.1 921.1L87.1 921.1M81.1 915.4L93.1 915.4M81.1 909.6L87.1 909.6M81.1 903.8L87.1 903.8M81.1 898.1L87.1 898.1M688.8 1024.9L682.8 1024.9M688.8 1019.2L682.8 1019.2M688.8 1013.4L682.8 1013.4M688.8 1007.6L676.8 1007.6M688.8 1001.9L682.8 1001.9M688.8 996.1L682.8 996.1M688.8 990.3L682.8 990.3M688.8 984.6L676.8 984.6M688.8 978.8L682.8 978.8M688.8 973L682.8 973M688.8 967.3L682.8 967.3M688.8 961.5L676.8 961.5M688.8 955.7L682.8 955.7M688.8 950L682.8 950M688.8 944.2L682.8 944.2M688.8 938.4L676.8 938.4M688.8 932.7L682.8 932.7M688.8 926.9L682.8 926.9M688.8 921.1L682.8 921.1M688.8 915.4L676.8 915.4M688.8 909.6L682.8 909.6M688.8 903.8L682.8 903.8M688.8 898.1L682.8 898.1" stroke="#000" stroke-width="1.9" fill="none"/>
<text x="73" y="906" font-size="21" text-anchor="end" fill="#000">12</text>
<text x="73" y="946.5" font-size="21" text-anchor="end" fill="#000">8</text>
<text x="73" y="992.5" font-size="21" text-anchor="end" fill="#000">4</text>
<text x="73" y="1034.5" font-size="21" text-anchor="end" fill="#000">0</text>
<text x="695" y="905.5" font-size="21" text-anchor="start" fill="#000" textLength="34.5" lengthAdjust="spacingAndGlyphs">900</text>
<text x="695" y="946.3" font-size="21" text-anchor="start" fill="#000" textLength="34.5" lengthAdjust="spacingAndGlyphs">700</text>
<text x="695" y="991.5" font-size="21" text-anchor="start" fill="#000" textLength="34.5" lengthAdjust="spacingAndGlyphs">500</text>
<text x="695" y="1033.5" font-size="21" text-anchor="start" fill="#000" textLength="34.5" lengthAdjust="spacingAndGlyphs">300</text>
<text x="374.8" y="28.3" font-size="37" text-anchor="middle" fill="#000" textLength="85" lengthAdjust="spacingAndGlyphs">Wind</text>
<text x="26.3" y="602" font-size="29.5" transform="rotate(-90 26.3 602)" textLength="233" lengthAdjust="spacingAndGlyphs">Electron Flux (cm</text>
<text x="12.3" y="351.5" font-size="15" transform="rotate(-90 12.3 351.5)">-2</text>
<text x="26.3" y="330.5" font-size="29.5" transform="rotate(-90 26.3 330.5)">s</text>
<text x="12.3" y="310" font-size="15" transform="rotate(-90 12.3 310)">-1</text>
<text x="26.3" y="295.5" font-size="29.5" transform="rotate(-90 26.3 295.5)" textLength="25" lengthAdjust="spacingAndGlyphs">sr</text>
<text x="12.3" y="262.5" font-size="15" transform="rotate(-90 12.3 262.5)">-1</text>
<text x="26.3" y="248" font-size="29.5" transform="rotate(-90 26.3 248)" textLength="31" lengthAdjust="spacingAndGlyphs">ev</text>
<text x="12.3" y="217.5" font-size="15" transform="rotate(-90 12.3 217.5)">-1</text>
<text x="26.3" y="207.5" font-size="29.5" transform="rotate(-90 26.3 207.5)">)</text>
<text x="31" y="868.7" font-size="28" text-anchor="start" fill="#000" transform="rotate(-90 31 868.7)" textLength="98.5" lengthAdjust="spacingAndGlyphs">PA (deg)</text>
<text x="37" y="998.5" font-size="27" text-anchor="start" fill="#000" transform="rotate(-90 37 998.5)" textLength="64.5" lengthAdjust="spacingAndGlyphs">B (nT)</text>
<text x="752.8" y="904" font-size="27" transform="rotate(90 752.8 904)" textLength="116" lengthAdjust="spacingAndGlyphs">V<tspan dy="7" font-size="18">SW</tspan><tspan dy="-7"> (km/s)</tspan></text>
<text x="44.2" y="1061.5" font-size="25" text-anchor="start" fill="#000" textLength="57" lengthAdjust="spacingAndGlyphs">0000</text>
<text x="57" y="1088.5" font-size="25" text-anchor="start" fill="#000" textLength="28.5" lengthAdjust="spacingAndGlyphs">06</text>
<text x="299.2" y="1061.5" font-size="25" text-anchor="start" fill="#000" textLength="55.5" lengthAdjust="spacingAndGlyphs">1200</text>
<text x="546.7" y="1061.5" font-size="25" text-anchor="start" fill="#000" textLength="57" lengthAdjust="spacingAndGlyphs">0000</text>
<text x="561.7" y="1088.5" font-size="25" text-anchor="start" fill="#000" textLength="27" lengthAdjust="spacingAndGlyphs">07</text>
<text x="226.9" y="1110.5" font-size="30" text-anchor="start" fill="#000" textLength="268" lengthAdjust="spacingAndGlyphs">2020 February (UT)</text>
<path d="M923.5 303.2l2.5-4.1 2.5-2.6 2.5-3.9 2.5-1.8 2.5 7.1 2.5 2.7 2.5 4.8 2.5-2.6 2.5-14.6 2.5 4.6 2.5 4.8 2.5-5.7 2.5-8.8 2.5 7.9 2.5-2.9 2.5-1.1 2.5 5.8 2.5 8.6 2.5-.8 2.5 2.3 2.5-2.9 2.5-1.2 2.5 10.2 2.5-22.2 2.5 .4 2.5 3.7 2.5-8.3 2.5 10.5 2.5-2.6 2.5-.7 2.5-1.1 2.5 5.5 2.5 0 2.5 4.3 2.5-1.8 2.5 3.7 2.5-1.5 2.5 6.1 2.5 1.1 2.5-1 2.5-7 2.5 4.2 2.5-12.6 2.5-1.8 2.5 4.1 2.5 1.5 2.5-5.4 2.5 7.2 2.5-4 2.5-1.3 2.5 .2 2.5-9.9 2.5 7.4 2.5 2.7 2.5-.5 2.5 1.7 2.5-3.9 2.5 3.9 2.5-4.6 2.5-7.7 2.5 5.5 2.5 .5 2.5 3.9 2.5-.4 2.5-1.8 2.5-1.3 2.5-6.5 2.5-1.8 2.5 2.4 2.5-.7 2.5 11.1 2.5 .1 2.5-7.4 2.5 2.5 2.5-5.1 2.5-1.5 2.5-11.2 2.5 10.9 2.5-5.2 2.5 3.1 2.5 4.6 2.5 3.4 2.5-1.9 2.5 10 2.5 .9 2.5-2.3 2.5-4.3 2.5-.7 2.5 8 2.5-3.9 2.5 4 2.5-1.9 2.5 10.9 2.5-6.5 2.5-9.6 2.5-16 2.5 2.4 2.5-5.1 2.5 8 2.5-2.8 2.5 10.8 2.5-2.9 2.5 4.2 2.5 3.7 2.5 .8 2.5-3.1 2.5 3.1 2.5 2 2.5 3.7 2.5-12.5 2.5 12.3 2.5-4.7 2.5-2.6 2.5 5.7 2.5-14.6 2.5-2.2 2.5 14.6 2.5 .9 2.5-3.4 2.5-.9 2.5-8.7 2.5-5.1 2.5-1.7 2.5-4.4 2.5 4 2.5-3.1 2.5-1.8 2.5 14.5 2.5 5.3 2.5-3.1 2.5-3.9 2.5-5.2 2.5 5.8 2.5-1.2 2.5 1 2.5 2.3 2.5 13 2.5-10.5 2.5 7.6 2.5-9.2 2.5 6.5 2.5-.2 2.5 3.8 2.5-4.7 2.5-.9 2.5-2.9 2.5-9 2.5 2.1 2.5-8.4 2.5 .6 2.5 3.7 2.5 3.9 2.5 3.2 2.5-.7 2.5-10.9 2.5 6.7 2.5-3.3 2.5-1.6 2.5 1.1 2.5 4.7 2.5 3.6 2.5 4 2.5 2.9 2.5 2.8 2.5-2.4 2.5 4.8 2.5-1 2.5 .6 2.5-.8 2.5-4.5 2.5-14.1 2.5 3.2 2.5-1.5 2.5 .3 2.5 4.7 2.5 17.5 2.5-2.1 2.5-15.1 2.5-8.1 2.5-1.1 2.5 2.8 2.5 5.3 2.5 3.2 2.5-.1 2.5-.8 2.5 2.7 2.5-.4 2.5 1.1 2.5 1.5 2.5-6.6 2.5-1.1 2.5-3.9 2.5 3.9 2.5 1.2 2.5-4.5 2.5-1.7 2.5-3.2 2.5 6.9 2.5 4.8 2.5 .8 2.5-4.7 2.5 12 2.5-2.6 2.5 5.4 2.5-6.9 2.5-4.9 2.5-2.8 2.5-1.3 2.5 1.2 2.5-4.2 2.5 1.1 2.5 1.2 2.5 9.9 2.5-.1 2.5 6.5 2.5 5.4 2.5-8.7 2.5 8.5 2.5-11 2.5 5.8 2.5-10.5 2.5 2.4 2.5 10.7 2.5-4.9 2.5 3.8 2.5-3.4 2.5 4.2 2.5-12.2 2.5-3.7 2.5-6.8 2.5 10.9 2.5-5.2 2.5 7.7 2.5-1.1 2.5 4.6 2.5 2.8 2.5 .7 2.5 13.5 2.5-4 2.5-7.7 2.5 4.5" fill="none" stroke="#00ff00" stroke-width="2.4" stroke-linejoin="round"/>
<path d="M923.5 287.2l2.5-4.7 2.5-.9 2.5-5.4 2.5-.3 2.5 6.7 2.5 .5 2.5 3.8 2.5-.3 2.5-13.9 2.5 4.6 2.5 4.7 2.5-4.6 2.5-7.4 2.5 4.4 2.5-4.1 2.5 .4 2.5 5 2.5 7.7 2.5 1.7 2.5 2.5 2.5-5.5 2.5-.8 2.5 13.3 2.5-22.4 2.5 .5 2.5 .9 2.5-6.7 2.5 9 2.5-1.5 2.5-.8 2.5-1.5 2.5 3.7 2.5 2.1 2.5 1.3 2.5-.3 2.5 1.8 2.5-.8 2.5 6.9 2.5 .8 2.5 .6 2.5-7.7 2.5 4 2.5-11.1 2.5-2 2.5 4.9 2.5 1 2.5-6.7 2.5 5.4 2.5-4 2.5-2 2.5 1.7 2.5-9.9 2.5 6.6 2.5 4.4 2.5-.5 2.5 1.4 2.5-2.6 2.5 1.9 2.5-5 2.5-7.5 2.5 6.1 2.5 .4 2.5 2.2 2.5 .4 2.5-2.2 2.5-.4 2.5-5.2 2.5-1.8 2.5 1.4 2.5 2 2.5 7 2.5 .9 2.5-6.6 2.5 2.8 2.5-3.8 2.5-3.7 2.5-8.5 2.5 9.4 2.5-5.5 2.5 1.8 2.5 7.4 2.5 .4 2.5-.6 2.5 9.6 2.5 1.2 2.5-2.6 2.5-6.8 2.5 1.4 2.5 6.2 2.5-2.8 2.5 2.3 2.5-.5 2.5 12 2.5-6.2 2.5-7.4 2.5-14.8 2.5 .2 2.5-2.7 2.5 7.2 2.5-3.5 2.5 11.6 2.5-2.4 2.5 4 2.5 .1 2.5 1.9 2.5-2.1 2.5 3.1 2.5 2.1 2.5 1.6 2.5-10.9 2.5 13.8 2.5-4.6 2.5-2 2.5 3.1 2.5-11.3 2.5-2.7 2.5 12.7 2.5-2 2.5-.3 2.5-.5 2.5-5.7 2.5-8.6 2.5-1 2.5-4.1 2.5 3 2.5-1.8 2.5-.5 2.5 10.4 2.5 5.3 2.5-2.8 2.5-2.3 2.5-4.1 2.5 3.2 2.5-.8 2.5 .1 2.5 3 2.5 12.2 2.5-11.5 2.5 8.2 2.5-8.5 2.5 6.3 2.5 .3 2.5 4 2.5-4.5 2.5 0 2.5-2 2.5-8.6 2.5 3.1 2.5-8.6 2.5-.7 2.5 3 2.5 4.8 2.5 1.1 2.5-1 2.5-9.5 2.5 7.3 2.5-4.6 2.5-1.4 2.5 2.5 2.5 4.6 2.5 4.4 2.5 2.6 2.5 2 2.5 2.1 2.5-2.4 2.5 4.5 2.5-1.5 2.5 1.9 2.5-2.1 2.5-4.1 2.5-10.4 2.5 1.6 2.5-1.7 2.5-.2 2.5 6 2.5 13.7 2.5 1.9 2.5-14.6 2.5-7.7 2.5-3 2.5 3 2.5 5.5 2.5 3.3 2.5-1.2 2.5 .2 2.5-.2 2.5 1.1 2.5 1.8 2.5 1.2 2.5-3.1 2.5-.8 2.5-8.3 2.5 5.6 2.5 2 2.5-3.3 2.5-3.2 2.5-1.4 2.5 6.1 2.5 2.1 2.5 2.3 2.5-4.7 2.5 9.4 2.5-2.4 2.5 6.3 2.5-6.9 2.5-3.8 2.5-1.7 2.5-1 2.5-.9 2.5-2.9 2.5 1.9 2.5 1.6 2.5 5.7 2.5 1.2 2.5 6.2 2.5 7.2 2.5-9.7 2.5 9.7 2.5-11.2 2.5 3.1 2.5-7.7 2.5 .6 2.5 10.3 2.5-3.4 2.5 3.7 2.5-4.2 2.5 7.7 2.5-10.4 2.5-5.4 2.5-5.9 2.5 7 2.5-3.9 2.5 8.4 2.5 2.3 2.5 2.3 2.5 1.4 2.5-.1 2.5 11.7 2.5-4.1 2.5-4.1 2.5 3.2" fill="none" stroke="#00ffff" stroke-width="2.4" stroke-linejoin="round"/>
<path d="M923.5 271.2l2.5-4.1 2.5-1.1 2.5-5.7 2.5 .8 2.5 7 2.5-.6 2.5 5.5 2.5-3.4 2.5-10.7 2.5 3.2 2.5 5.1 2.5-2.6 2.5-9.2 2.5 3.9 2.5-3.3 2.5 1.4 2.5 3.9 2.5 5.6 2.5 .4 2.5 4 2.5-3.5 2.5-.7 2.5 12.5 2.5-22.7 2.5-.8 2.5 1.8 2.5-9.6 2.5 10.3 2.5-1.4 2.5 .6 2.5-2.1 2.5 5.5 2.5-1.1 2.5 3.1 2.5-2.6 2.5 2.9 2.5-1.2 2.5 4.6 2.5 1.8 2.5 1.3 2.5-7.3 2.5 5.5 2.5-11.5 2.5-1.7 2.5 4.1 2.5 1.7 2.5-8 2.5 4.5 2.5-1.9 2.5-1.5 2.5 .8 2.5-9.8 2.5 5.8 2.5 4.2 2.5-1.4 2.5 2.7 2.5-2.3 2.5 .2 2.5-2.4 2.5-8.1 2.5 4.6 2.5 1.3 2.5 2.3 2.5 1.4 2.5-2.8 2.5-.4 2.5-7.2 2.5 .8 2.5 .7 2.5 .8 2.5 8.9 2.5-2.4 2.5-6.9 2.5 4.2 2.5-4.9 2.5-.2 2.5-9.2 2.5 10.8 2.5-7.3 2.5 1.3 2.5 7.2 2.5 .3 2.5 0 2.5 8.9 2.5-1 2.5-1.7 2.5-5.5 2.5 .4 2.5 8.3 2.5-5 2.5 3.6 2.5-2.4 2.5 11.2 2.5-3.6 2.5-6.7 2.5-12.3 2.5-.9 2.5-.2 2.5 5.1 2.5-4.4 2.5 10.9 2.5-3 2.5 3.7 2.5 1.2 2.5 2.1 2.5-3.4 2.5 3.9 2.5 1.5 2.5 1.8 2.5-11.2 2.5 12.4 2.5-2.2 2.5-3.2 2.5 3.8 2.5-10.5 2.5-.6 2.5 10.6 2.5-.6 2.5-2.5 2.5-.3 2.5-6.3 2.5-7 2.5-1.7 2.5-2.5 2.5 2.1 2.5-.2 2.5-1.3 2.5 10.4 2.5 5.5 2.5-3.1 2.5-4.7 2.5-2.4 2.5 4.2 2.5-.2 2.5 .9 2.5 .7 2.5 11 2.5-9.5 2.5 7.8 2.5-9.3 2.5 4.2 2.5 .9 2.5 5.2 2.5-5.4 2.5-1 2.5-1.3 2.5-7.6 2.5 2.1 2.5-5.4 2.5-.4 2.5 2.5 2.5 3.1 2.5 2.6 2.5-2.5 2.5-7.4 2.5 5.7 2.5-2.9 2.5-1 2.5 .5 2.5 3.4 2.5 3.8 2.5 3.9 2.5 1.2 2.5 2 2.5-1.6 2.5 4.9 2.5-1.2 2.5-.2 2.5 .8 2.5-5.3 2.5-13.4 2.5 4.2 2.5-1 2.5 .6 2.5 6.4 2.5 12.8 2.5 1.4 2.5-12.9 2.5-7.2 2.5-4.1 2.5 2.5 2.5 3.2 2.5 3.6 2.5 .6 2.5-.6 2.5 0 2.5 1.3 2.5 .8 2.5 3.2 2.5-5.2 2.5 .5 2.5-6.8 2.5 4.7 2.5 1.1 2.5-3.4 2.5-3.4 2.5-1 2.5 4.2 2.5 2.8 2.5 3 2.5-3.8 2.5 8.8 2.5-2 2.5 4.9 2.5-6.7 2.5-2.7 2.5-.5 2.5-1.2 2.5-.6 2.5-3.4 2.5 1.3 2.5 .3 2.5 7.2 2.5-2.4 2.5 8.2 2.5 4.7 2.5-8.7 2.5 10.8 2.5-10.4 2.5 5.3 2.5-9.4 2.5 1.5 2.5 9.1 2.5-5.1 2.5 3.8 2.5-2.3 2.5 8.8 2.5-9.7 2.5-3 2.5-6.9 2.5 7.4 2.5-4.4 2.5 6.7 2.5 1 2.5 4.6 2.5 1.8 2.5-1.4 2.5 12.2 2.5-4.9 2.5-4 2.5 2.7" fill="none" stroke="#0000ff" stroke-width="2.4" stroke-linejoin="round"/>
<path d="M923.5 253.9l2.5-4.9 2.5-.5 2.5-5.7 2.5-.6 2.5 6.1 2.5 1.8 2.5 3.7 2.5-2.7 2.5-10.3 2.5 3.5 2.5 4.3 2.5-1.7 2.5-8.3 2.5 6.5 2.5-5.3 2.5 .4 2.5 3.6 2.5 7.1 2.5-2.3 2.5 2.9 2.5-2.6 2.5-.4 2.5 10 2.5-22.6 2.5 1.4 2.5 2.9 2.5-7.6 2.5 8.4 2.5-1 2.5 2.3 2.5-3.2 2.5 4.4 2.5-.2 2.5-1.4 2.5 .5 2.5 .8 2.5-1.8 2.5 6.6 2.5 1.7 2.5 1.8 2.5-5.9 2.5 4.1 2.5-10.3 2.5-.6 2.5 .4 2.5 1.3 2.5-6.3 2.5 5.1 2.5-3.4 2.5-2.7 2.5 1.7 2.5-9.4 2.5 6.7 2.5 2.4 2.5-.5 2.5 1.7 2.5-2.4 2.5 1.9 2.5-4.7 2.5-6.9 2.5 3.9 2.5 1.2 2.5 1.7 2.5 1.5 2.5-2.9 2.5 1.6 2.5-6.1 2.5-1.1 2.5 1.2 2.5 1.7 2.5 4.3 2.5 .8 2.5-6.4 2.5 4.2 2.5-4.4 2.5-1.2 2.5-9 2.5 10.3 2.5-5 2.5 .9 2.5 6.4 2.5 0 2.5-1.2 2.5 8.9 2.5 1.4 2.5-3.5 2.5-3.4 2.5 .3 2.5 6.1 2.5-3.9 2.5 1.1 2.5-1.9 2.5 13.7 2.5-4.1 2.5-7.4 2.5-8.7 2.5-.5 2.5-3.1 2.5 4.3 2.5-4.7 2.5 10.1 2.5-.8 2.5 3.3 2.5-.1 2.5 2.7 2.5-2.5 2.5 4.2 2.5 .9 2.5 1.8 2.5-9.9 2.5 11.4 2.5-4.3 2.5-1.5 2.5 2.9 2.5-9.3 2.5-1.4 2.5 10.4 2.5-.3 2.5-3.2 2.5 .1 2.5-4.5 2.5-7.9 2.5-1.7 2.5-2.1 2.5 2.3 2.5-.7 2.5-1.2 2.5 10.2 2.5 5.7 2.5-4.6 2.5-2.2 2.5-3.6 2.5 6.3 2.5-1.6 2.5 .9 2.5 .9 2.5 11 2.5-9.5 2.5 7.1 2.5-8.4 2.5 3.6 2.5-.9 2.5 4.7 2.5-3.1 2.5-.8 2.5-1.9 2.5-7.1 2.5 4.2 2.5-5 2.5-2.5 2.5 1.9 2.5 3 2.5 .6 2.5-.8 2.5-8.5 2.5 6.9 2.5-1.2 2.5-2.2 2.5 .2 2.5 6 2.5 5.2 2.5 1.8 2.5 .2 2.5 2.4 2.5-3.6 2.5 4 2.5 .1 2.5 .5 2.5 1.7 2.5-5.2 2.5-12.2 2.5 3.8 2.5-1.1 2.5 .6 2.5 5 2.5 12.2 2.5 1.4 2.5-12.3 2.5-5.4 2.5-4.8 2.5 1.5 2.5 3.8 2.5 4 2.5 .4 2.5-.2 2.5 1.1 2.5-1 2.5 1.5 2.5 1.2 2.5-2.4 2.5 .4 2.5-6.2 2.5 5 2.5 1.8 2.5-5.9 2.5-2.6 2.5-1.9 2.5 4.5 2.5 3.3 2.5 2.3 2.5-2.4 2.5 5.3 2.5 2.4 2.5 2.8 2.5-4.6 2.5-3.6 2.5-2.1 2.5-1 2.5 .4 2.5-6.7 2.5 2 2.5 1.6 2.5 5.3 2.5-.7 2.5 7.3 2.5 5.1 2.5-7.8 2.5 9.8 2.5-10.2 2.5 4.8 2.5-6.8 2.5-.9 2.5 9.1 2.5-3.9 2.5 1.8 2.5-.7 2.5 10.2 2.5-10.2 2.5-2.7 2.5-5.5 2.5 7.2 2.5-2.6 2.5 7.4 2.5-.3 2.5 .9 2.5 1.6 2.5-.1 2.5 10.5 2.5-3 2.5-5.9 2.5 4.6" fill="none" stroke="#ff00ff" stroke-width="2.4" stroke-linejoin="round"/>
<path d="M923.5 243.3l2.5-5.3 2.5 .2 2.5-4.8 2.5-1 2.5 5 2.5 .8 2.5 4.7 2.5-1.1 2.5-10 2.5 2.1 2.5 4.7 2.5-2 2.5-7.5 2.5 4.6 2.5-2.5 2.5-.2 2.5 3.7 2.5 3.5 2.5-.6 2.5 3.3 2.5-4 2.5 .9 2.5 11.3 2.5-22.9 2.5-.3 2.5 3.2 2.5-8.4 2.5 8.7 2.5-1.3 2.5 2.1 2.5-.5 2.5 3.6 2.5-.8 2.5-.5 2.5-.3 2.5-.2 2.5-.9 2.5 6 2.5 3.1 2.5 1 2.5-4.5 2.5 4.6 2.5-11.5 2.5-1.8 2.5 1.6 2.5-.3 2.5-6.6 2.5 4.5 2.5-3.6 2.5-1.3 2.5 1.4 2.5-8.6 2.5 4.7 2.5 4.4 2.5-2.9 2.5 1.3 2.5-.6 2.5 1.1 2.5-3.5 2.5-4.3 2.5 2.5 2.5 .1 2.5 .7 2.5 .4 2.5-.3 2.5-.6 2.5-4.7 2.5-1.3 2.5 3.7 2.5 .5 2.5 5 2.5-1.6 2.5-5.7 2.5 2.6 2.5-4 2.5-.1 2.5-8.7 2.5 11.2 2.5-6 2.5 .3 2.5 5.7 2.5 2.1 2.5-1 2.5 8.7 2.5-.7 2.5-.6 2.5-7.3 2.5 2.4 2.5 6.2 2.5-5.7 2.5 2.7 2.5-1.3 2.5 11.1 2.5-2.9 2.5-6.9 2.5-8.5 2.5 1.1 2.5-2.5 2.5 3.3 2.5-5.8 2.5 10.6 2.5-.5 2.5 1.8 2.5 1.7 2.5 3 2.5-2.1 2.5 3.5 2.5 .6 2.5 1.6 2.5-10.3 2.5 12.2 2.5-3.8 2.5-2.3 2.5 2.3 2.5-7.1 2.5-1.2 2.5 10.1 2.5-1.1 2.5-2.8 2.5 .5 2.5-5.9 2.5-7.5 2.5-1 2.5-2.9 2.5 4.2 2.5-3 2.5-.7 2.5 9.9 2.5 6 2.5-4.4 2.5-1.1 2.5-2.6 2.5 3.1 2.5-.7 2.5 .1 2.5 .8 2.5 10.1 2.5-9.4 2.5 7.6 2.5-7.8 2.5 4.1 2.5 .6 2.5 2.9 2.5-5.2 2.5 1 2.5-1.3 2.5-6.8 2.5 4.6 2.5-9.1 2.5 .1 2.5 4 2.5 1.6 2.5 3.5 2.5-3.8 2.5-8.7 2.5 6.4 2.5-3.4 2.5-.2 2.5 .2 2.5 4.8 2.5 4.6 2.5 3.7 2.5 2.2 2.5 2.7 2.5-4.6 2.5 3.6 2.5-.5 2.5 .4 2.5-.3 2.5-3.7 2.5-9.6 2.5 1.1 2.5 1 2.5 1.2 2.5 4.1 2.5 11.6 2.5 .6 2.5-11.6 2.5-7.5 2.5-3.1 2.5 2.4 2.5 5 2.5 3.4 2.5-.5 2.5-.7 2.5 .2 2.5 0 2.5 1.7 2.5 1.7 2.5-3.6 2.5 .1 2.5-3.3 2.5 3.6 2.5 .6 2.5-3.9 2.5-4.7 2.5-2.5 2.5 6.3 2.5 2.9 2.5 2.6 2.5-4.5 2.5 7.7 2.5-.9 2.5 6.6 2.5-4.8 2.5-4 2.5-2.5 2.5-2.1 2.5 0 2.5-2.8 2.5 1.8 2.5 1.8 2.5 4.1 2.5 .1 2.5 4.7 2.5 5.6 2.5-6 2.5 7.4 2.5-9.6 2.5 5.7 2.5-9.2 2.5 1.4 2.5 8.1 2.5-4.2 2.5 2.2 2.5-1.5 2.5 10.5 2.5-7.9 2.5-2.9 2.5-4.5 2.5 7.1 2.5-3.5 2.5 5 2.5 2.8 2.5 .9 2.5 1.9 2.5-2.3 2.5 10.7 2.5-3.6 2.5-5 2.5 3.2" fill="none" stroke="#ff0000" stroke-width="2.4" stroke-linejoin="round"/>
<path d="M923.5 230.3l2.5-2.3 2.5-1.9 2.5-5.6 2.5-2.3 2.5 4.3 2.5 3.2 2.5 4.9 2.5-.4 2.5-10.6 2.5 2.8 2.5 4.3 2.5 .4 2.5-7.7 2.5 2.8 2.5-4.2 2.5 0 2.5 2.8 2.5 6 2.5-1.2 2.5 2.6 2.5-3.9 2.5-.4 2.5 10.7 2.5-21.5 2.5 0 2.5 2.2 2.5-6.9 2.5 6.6 2.5 .5 2.5 3.7 2.5-3.7 2.5 4.2 2.5 .4 2.5-.5 2.5-2.2 2.5 .1 2.5-1 2.5 5.9 2.5 .9 2.5 2.3 2.5-3.9 2.5 3.7 2.5-9.7 2.5-3.1 2.5 1.4 2.5 1.8 2.5-6.3 2.5 2.2 2.5-3.1 2.5-2.9 2.5 .4 2.5-6.5 2.5 5.9 2.5 2.1 2.5-1.8 2.5 2.9 2.5-3 2.5 1.8 2.5-3.5 2.5-4.1 2.5 2.7 2.5 .9 2.5 .9 2.5-.1 2.5-1.8 2.5-.1 2.5-2.9 2.5-1.1 2.5 2.1 2.5 1.6 2.5 3.3 2.5-1.8 2.5-6.3 2.5 3.5 2.5-3.3 2.5-1 2.5-7.3 2.5 10.6 2.5-4.3 2.5-1.1 2.5 5 2.5 1.5 2.5-.3 2.5 8.9 2.5-.4 2.5-1.3 2.5-5.5 2.5 .2 2.5 5.9 2.5-5.6 2.5 1.9 2.5 .9 2.5 10.8 2.5-3.6 2.5-4.9 2.5-6 2.5-.8 2.5-1.9 2.5 3.6 2.5-5.4 2.5 9.7 2.5-2.7 2.5 2.7 2.5 .3 2.5 4 2.5-2.1 2.5 4.1 2.5 .2 2.5 1.3 2.5-9.6 2.5 9.2 2.5-2.3 2.5-3.5 2.5 3.6 2.5-5.6 2.5 .3 2.5 7.8 2.5-1.3 2.5-3 2.5 .3 2.5-6.4 2.5-4.8 2.5-2.2 2.5-2.2 2.5 3.4 2.5-1.4 2.5-1.7 2.5 10.1 2.5 6 2.5-3.2 2.5-3.7 2.5-1.7 2.5 4 2.5-.3 2.5 .4 2.5-.3 2.5 7.3 2.5-8.3 2.5 6.7 2.5-7.6 2.5 7.1 2.5-1.2 2.5 2.9 2.5-4.3 2.5-.7 2.5-.8 2.5-3.1 2.5 4.3 2.5-7.7 2.5-1.4 2.5 2.3 2.5 2.2 2.5 1.6 2.5-2.5 2.5-7.9 2.5 5 2.5-1.9 2.5-1.6 2.5 1.8 2.5 3.5 2.5 5.3 2.5 2.5 2.5 1.1 2.5 2.3 2.5-4.3 2.5 6 2.5-1.4 2.5 .3 2.5-.1 2.5-3 2.5-10 2.5 1.5 2.5-.6 2.5 1.3 2.5 4 2.5 11.7 2.5 .7 2.5-9.4 2.5-6.4 2.5-3 2.5 0 2.5 3.3 2.5 2.8 2.5 .4 2.5-1 2.5 1.4 2.5 1 2.5 0 2.5 3.2 2.5-3.9 2.5 1.3 2.5-5 2.5 3.5 2.5 1.9 2.5-4 2.5-4.5 2.5-2.1 2.5 6.3 2.5 2.9 2.5 1.3 2.5-4.3 2.5 6.9 2.5 1.5 2.5 3.8 2.5-3.1 2.5-4.7 2.5-.9 2.5-1.7 2.5 .1 2.5-5 2.5 1.1 2.5 1 2.5 4.5 2.5 0 2.5 7.6 2.5 2.3 2.5-7.3 2.5 8.3 2.5-9.8 2.5 5.9 2.5-7 2.5 1.2 2.5 6.4 2.5-2.3 2.5 1.3 2.5-.9 2.5 12 2.5-7.5 2.5-.2 2.5-6.3 2.5 5.2 2.5-2 2.5 5.4 2.5 .2 2.5 2 2.5 1.8 2.5-.4 2.5 9.4 2.5-5.9 2.5-4.2 2.5 5.6" fill="none" stroke="#00ff00" stroke-width="2.4" stroke-linejoin="round"/>
<path d="M923.5 221.4l2.5-3.4 2.5-1.6 2.5-4.4 2.5-2.5 2.5 6.7 2.5 .4 2.5 3.9 2.5-.6 2.5-9.5 2.5 2.8 2.5 4.2 2.5-.7 2.5-5 2.5 3.1 2.5-5.5 2.5-.9 2.5 4.7 2.5 4.3 2.5 .5 2.5 2.1 2.5-4.8 2.5-1.5 2.5 9.5 2.5-19.7 2.5-.3 2.5 2.1 2.5-6.3 2.5 7.7 2.5-.4 2.5 3.6 2.5-3.4 2.5 2.5 2.5-.8 2.5 1.6 2.5-1.1 2.5 .6 2.5-2.4 2.5 4.8 2.5 2.5 2.5 2.4 2.5-4.6 2.5 4.1 2.5-10.8 2.5-1.1 2.5 2.2 2.5-1 2.5-6.8 2.5 2.6 2.5-1.7 2.5-2.6 2.5 .1 2.5-8.7 2.5 5.5 2.5 2.5 2.5 .6 2.5 1.6 2.5-1.1 2.5 .9 2.5-4.9 2.5-4.6 2.5 3.6 2.5-1.3 2.5 3 2.5 .6 2.5-2 2.5-.2 2.5-5.5 2.5 1 2.5 1.7 2.5 .5 2.5 4.8 2.5-1.8 2.5-5 2.5 1.8 2.5-4.4 2.5 .3 2.5-5.8 2.5 11.5 2.5-6.4 2.5-1.4 2.5 5.4 2.5 1.4 2.5-.1 2.5 6.4 2.5 2 2.5-1.7 2.5-4.1 2.5 .2 2.5 5.6 2.5-3.7 2.5-1.6 2.5-.6 2.5 13 2.5-2.6 2.5-6.1 2.5-3.3 2.5-2.5 2.5-2.2 2.5 4.1 2.5-5.4 2.5 8.3 2.5-1.4 2.5 2.6 2.5 1.1 2.5 1.9 2.5-1.1 2.5 3.1 2.5 1 2.5 1.1 2.5-9.3 2.5 9.5 2.5-1.8 2.5-2.4 2.5 3 2.5-6.6 2.5 1.3 2.5 6.9 2.5-1.6 2.5-.9 2.5-1.3 2.5-5.7 2.5-5.2 2.5-.8 2.5-2.7 2.5 2.6 2.5-.8 2.5-2 2.5 8.5 2.5 5.9 2.5-1.9 2.5-4 2.5-3.6 2.5 4.2 2.5 .6 2.5 1 2.5 1.3 2.5 7.4 2.5-9 2.5 6.6 2.5-7.3 2.5 4.3 2.5 .1 2.5 3.1 2.5-3.8 2.5-1.2 2.5 .8 2.5-3.5 2.5 1.9 2.5-6.6 2.5-.4 2.5 .5 2.5 2.7 2.5 1.5 2.5-4.6 2.5-5.9 2.5 6.5 2.5-1.4 2.5-.5 2.5 .5 2.5 4 2.5 3.1 2.5 4.1 2.5 .8 2.5 1.8 2.5-2.3 2.5 2.7 2.5-.6 2.5 .8 2.5-.6 2.5-3.3 2.5-10.4 2.5 1.7 2.5 .5 2.5 2.3 2.5 3.7 2.5 10.9 2.5 2.2 2.5-9.9 2.5-6.4 2.5-4.9 2.5 2.3 2.5 3.7 2.5 2.9 2.5-.8 2.5-1.3 2.5 2 2.5 .6 2.5 1 2.5 .9 2.5-3.1 2.5 2.1 2.5-4.2 2.5 4.8 2.5-.2 2.5-3.1 2.5-4.3 2.5-3.3 2.5 6 2.5 4.2 2.5 2.9 2.5-3.9 2.5 2.9 2.5 2.1 2.5 4.3 2.5-4.1 2.5-4.1 2.5-2 2.5-.7 2.5-.6 2.5-3.6 2.5 .3 2.5 .9 2.5 3.2 2.5 .4 2.5 6.6 2.5 3.2 2.5-6.8 2.5 9 2.5-7.4 2.5 4.2 2.5-7.8 2.5 .6 2.5 5.9 2.5-2.7 2.5 2.8 2.5-.7 2.5 11.7 2.5-7.2 2.5 1.3 2.5-6.6 2.5 7.2 2.5-4.2 2.5 6.1 2.5-.6 2.5 1.6 2.5 .7 2.5-1.5 2.5 8.7 2.5-3.2 2.5-2.8 2.5 3.2" fill="none" stroke="#00ffff" stroke-width="2.4" stroke-linejoin="round"/>
<path d="M923.5 212.6l2.5-3.9 2.5-2.4 2.5-3.5 2.5-1.3 2.5 4.7 2.5-.3 2.5 5.1 2.5-.2 2.5-8.7 2.5 4.1 2.5 4.4 2.5-3.1 2.5-4.9 2.5 2.9 2.5-5 2.5 .7 2.5 3.8 2.5 2.4 2.5 .7 2.5 .4 2.5-2.7 2.5-2 2.5 10.1 2.5-19.8 2.5 1.6 2.5 .3 2.5-6.7 2.5 7.1 2.5-.7 2.5 6.2 2.5-2.9 2.5 1.3 2.5-1.6 2.5-.2 2.5-1.1 2.5-.5 2.5-1.3 2.5 6.5 2.5 3.8 2.5 1.5 2.5-5.2 2.5 3.5 2.5-7.7 2.5-2.5 2.5 .8 2.5-1.7 2.5-6.6 2.5 4.6 2.5-3.8 2.5-2 2.5 1.7 2.5-8.5 2.5 4.3 2.5 3.8 2.5-.7 2.5 .2 2.5-.1 2.5 1.4 2.5-4.8 2.5-4.4 2.5 3.1 2.5-.1 2.5 1.1 2.5-.1 2.5-1.6 2.5-.8 2.5-3.6 2.5 1.5 2.5 3.5 2.5-.3 2.5 2.2 2.5-.5 2.5-7.6 2.5 2.1 2.5-2.8 2.5-.1 2.5-5 2.5 9.7 2.5-5.5 2.5 0 2.5 5.6 2.5 1.6 2.5-1.1 2.5 4.9 2.5 2.4 2.5-2.2 2.5-4.8 2.5 1.1 2.5 4.8 2.5-4.5 2.5 1.8 2.5 .4 2.5 9.2 2.5-3 2.5-4.2 2.5-2.4 2.5 .4 2.5-1.4 2.5 .8 2.5-4.9 2.5 8 2.5-1.3 2.5 2.2 2.5 .7 2.5 3.1 2.5-2.8 2.5 3.5 2.5 .9 2.5 2.2 2.5-8.5 2.5 9 2.5-3.7 2.5-1.2 2.5 2.1 2.5-4.2 2.5 .5 2.5 5.9 2.5-2.1 2.5-.3 2.5-1.3 2.5-4.4 2.5-4.6 2.5-2.1 2.5-3.4 2.5 2.4 2.5-1.9 2.5 .6 2.5 7.9 2.5 5.9 2.5-3.2 2.5-2.1 2.5-2.7 2.5 4.5 2.5-.8 2.5 .2 2.5-.2 2.5 8.9 2.5-8.8 2.5 5.1 2.5-6.2 2.5 4.1 2.5 .5 2.5 1.9 2.5-3.2 2.5-.3 2.5-.3 2.5-3.3 2.5 4.3 2.5-6.8 2.5-2 2.5 2.8 2.5 1.7 2.5-.5 2.5-3.2 2.5-6.7 2.5 6.9 2.5-2.7 2.5 .5 2.5-.2 2.5 4.5 2.5 5.6 2.5 1.7 2.5 .5 2.5 1.5 2.5-3.3 2.5 4.2 2.5-1.4 2.5 1.3 2.5 .1 2.5-2.7 2.5-10.1 2.5 2.6 2.5 1.3 2.5 .3 2.5 4.5 2.5 9.4 2.5 .3 2.5-9.3 2.5-5 2.5-5.2 2.5 1.4 2.5 3.6 2.5 3.5 2.5 .2 2.5-.7 2.5 0 2.5 1.3 2.5 .4 2.5 2 2.5-3.3 2.5 1.2 2.5-3.4 2.5 4.9 2.5 0 2.5-3.1 2.5-3.3 2.5-3.1 2.5 4.4 2.5 3.7 2.5 2.3 2.5-4.9 2.5 5 2.5 2 2.5 4.2 2.5-4.7 2.5-2.9 2.5-1.2 2.5-1.2 2.5-.7 2.5-3.8 2.5 .8 2.5-.4 2.5 3.9 2.5 1.5 2.5 6.2 2.5 2.5 2.5-5.3 2.5 7.4 2.5-8.2 2.5 4.5 2.5-6.3 2.5-.1 2.5 7.2 2.5-3.7 2.5 2.3 2.5-2.8 2.5 13.5 2.5-6.8 2.5 1 2.5-3.1 2.5 4.9 2.5-3.7 2.5 4.9 2.5 .4 2.5 1.1 2.5 1.9 2.5-2.2 2.5 7.5 2.5-4.2 2.5-2.1 2.5 2" fill="none" stroke="#0000ff" stroke-width="2.4" stroke-linejoin="round"/>
<path d="M923.5 204.6l2.5-4.2 2.5-1.2 2.5-4 2.5-1.2 2.5 4 2.5 .8 2.5 2.2 2.5 1.5 2.5-7.9 2.5 2.4 2.5 4.4 2.5-.1 2.5-4.7 2.5 1.1 2.5-4.8 2.5 .9 2.5 2.4 2.5 3.6 2.5 .1 2.5 2.3 2.5-3.2 2.5-1.1 2.5 7.8 2.5-18.6 2.5-1.9 2.5 1.7 2.5-5.4 2.5 6.5 2.5 .5 2.5 5.9 2.5-2.5 2.5 1.1 2.5-1.5 2.5-2.7 2.5-.3 2.5-.6 2.5-1.5 2.5 6.4 2.5 4.3 2.5 2.2 2.5-4.5 2.5 3.5 2.5-8.8 2.5-2.5 2.5 .9 2.5-1 2.5-6.8 2.5 2 2.5-2.1 2.5-1.2 2.5-.9 2.5-6.2 2.5 5.1 2.5 2.5 2.5-.7 2.5 .3 2.5-2 2.5 2.3 2.5-4.4 2.5-5.5 2.5 4.3 2.5-1.3 2.5 1.4 2.5 .8 2.5-1.5 2.5-.3 2.5-1.7 2.5-1.5 2.5 3.3 2.5 1.8 2.5 1.8 2.5-3.3 2.5-4.3 2.5 3.2 2.5-5.7 2.5 1.4 2.5-6 2.5 10 2.5-4.3 2.5-1 2.5 5.2 2.5 .7 2.5-.7 2.5 7.6 2.5-.3 2.5-1.2 2.5-4 2.5-.2 2.5 5.3 2.5-5.6 2.5 0 2.5 1.2 2.5 10.4 2.5-1.8 2.5-3.9 2.5-2 2.5 .6 2.5-.9 2.5-1.1 2.5-4.1 2.5 5.9 2.5-1.2 2.5 2.2 2.5 1.4 2.5 2.8 2.5-1.4 2.5 4 2.5 1 2.5 .5 2.5-7.9 2.5 7.9 2.5-3.2 2.5-1.7 2.5 1.9 2.5-3.4 2.5 .6 2.5 5.3 2.5-.4 2.5-3.4 2.5-.3 2.5-3.8 2.5-4.1 2.5-2.1 2.5-3.2 2.5 2.4 2.5-.7 2.5-.8 2.5 7.3 2.5 5.8 2.5-1.1 2.5-4 2.5-2.3 2.5 4.6 2.5-.9 2.5-.3 2.5-.1 2.5 8 2.5-7.5 2.5 5 2.5-7 2.5 4.2 2.5 .4 2.5 3.2 2.5-4 2.5 .7 2.5-.6 2.5-4.1 2.5 4.4 2.5-6.3 2.5-1.5 2.5 2.6 2.5 1.3 2.5 .5 2.5-2.7 2.5-6.5 2.5 4.5 2.5-2.8 2.5 1.4 2.5 .7 2.5 4.1 2.5 3.6 2.5 3 2.5 .9 2.5 1.3 2.5-3.7 2.5 4.1 2.5-.6 2.5 1 2.5 1.7 2.5-4.2 2.5-8.7 2.5 1.4 2.5 1 2.5 2 2.5 3 2.5 9.4 2.5 .8 2.5-8.9 2.5-5.3 2.5-3.5 2.5 1.3 2.5 3.2 2.5 1.1 2.5 .5 2.5-.5 2.5 1.4 2.5 1.7 2.5 .2 2.5 2.3 2.5-1.8 2.5-.9 2.5-3.3 2.5 4.5 2.5 .8 2.5-3.5 2.5-5.1 2.5-2.8 2.5 4.3 2.5 4.8 2.5 1.7 2.5-3.3 2.5 3.3 2.5 1.8 2.5 3 2.5-2.4 2.5-3.6 2.5-1.7 2.5-.7 2.5-.8 2.5-2.6 2.5-.5 2.5 .5 2.5 3.7 2.5 .2 2.5 4.7 2.5 3.5 2.5-5.7 2.5 6.5 2.5-6.9 2.5 3.6 2.5-3.8 2.5-.2 2.5 6.6 2.5-3.8 2.5 3 2.5-1 2.5 13.2 2.5-6.2 2.5 .3 2.5-4.9 2.5 6.8 2.5-3 2.5 3.8 2.5 .9 2.5-.5 2.5 2 2.5-1.8 2.5 6.8 2.5-4.5 2.5-2.6 2.5 4.8" fill="none" stroke="#ff00ff" stroke-width="2.4" stroke-linejoin="round"/>
<path d="M923.5 195.3l2.5-3.1 2.5-1.4 2.5-4.8 2.5-2.2 2.5 4.9 2.5 .6 2.5 3.2 2.5 1.1 2.5-6.8 2.5 2.3 2.5 2.6 2.5-.4 2.5-3.5 2.5 1.4 2.5-5.1 2.5 1 2.5 2.8 2.5 1.7 2.5 .8 2.5 2.3 2.5-4.3 2.5-2 2.5 8.1 2.5-17.1 2.5-1.6 2.5 1 2.5-5.5 2.5 4.5 2.5 2.2 2.5 6 2.5-2.4 2.5 1.2 2.5-1.6 2.5-.5 2.5-2.3 2.5 .3 2.5-1.8 2.5 3.9 2.5 5.1 2.5 3 2.5-4.4 2.5 3 2.5-8.4 2.5-2.4 2.5 1.2 2.5-.6 2.5-6.7 2.5 .8 2.5-2.3 2.5-1.7 2.5-1.1 2.5-5.1 2.5 5.4 2.5 2.7 2.5-1.6 2.5 0 2.5-.8 2.5 1.4 2.5-3.4 2.5-4.9 2.5 2.3 2.5 .6 2.5 .3 2.5 1.6 2.5-2.3 2.5-1.2 2.5-2.1 2.5-.2 2.5 2.4 2.5 1.7 2.5 1.9 2.5-4.1 2.5-3.2 2.5 1.2 2.5-3.2 2.5 .8 2.5-3.4 2.5 10.2 2.5-5.8 2.5-1.5 2.5 4.2 2.5 2.1 2.5-.7 2.5 7.2 2.5-.2 2.5-2.7 2.5-2.7 2.5-.8 2.5 4 2.5-2.7 2.5 .3 2.5-.4 2.5 10 2.5-2.8 2.5-1.5 2.5-1.4 2.5-.2 2.5-.5 2.5-1.3 2.5-3.3 2.5 6.5 2.5-1.2 2.5 .7 2.5 2.6 2.5 .8 2.5 0 2.5 3.4 2.5 .5 2.5 .5 2.5-8.4 2.5 8.7 2.5-2.3 2.5-2.2 2.5 1.9 2.5-3.1 2.5 1.5 2.5 5.2 2.5-2 2.5-1.7 2.5 .2 2.5-5.7 2.5-4.4 2.5-1.5 2.5-1.7 2.5 2.6 2.5-1.5 2.5-1.6 2.5 8.1 2.5 4.7 2.5-2.6 2.5-1.6 2.5-3.1 2.5 4.8 2.5-.6 2.5 .1 2.5 .4 2.5 6.7 2.5-8.3 2.5 5.9 2.5-6.6 2.5 2.5 2.5 1.9 2.5 2.2 2.5-3.8 2.5 .2 2.5-1.7 2.5-1.2 2.5 4.2 2.5-5.9 2.5-1.4 2.5 .5 2.5 1.1 2.5 1.2 2.5-3.4 2.5-5.4 2.5 6 2.5-2.7 2.5 1.7 2.5-.1 2.5 4 2.5 4.3 2.5 2.1 2.5-.2 2.5 0 2.5-1.9 2.5 3.5 2.5-.8 2.5 1.3 2.5-.1 2.5-3.5 2.5-7.4 2.5 1.3 2.5 2.3 2.5 2 2.5 3.3 2.5 7.4 2.5 .7 2.5-8 2.5-5.6 2.5-3.7 2.5 .4 2.5 2.9 2.5 2.7 2.5-.7 2.5 1.6 2.5 .2 2.5 1 2.5 .8 2.5 2.2 2.5-1.5 2.5 .9 2.5-3.5 2.5 3 2.5 .9 2.5-4.3 2.5-3.2 2.5-2.3 2.5 3.4 2.5 3.9 2.5 1.6 2.5-2.4 2.5 1.5 2.5 2 2.5 4.9 2.5-3 2.5-3.9 2.5-.5 2.5-1.5 2.5-1.1 2.5-2.3 2.5 0 2.5 .1 2.5 2.5 2.5 .6 2.5 6.1 2.5 3.3 2.5-6.1 2.5 6.6 2.5-6.6 2.5 4.4 2.5-5.5 2.5 .9 2.5 5.3 2.5-3.9 2.5 .2 2.5-.3 2.5 14 2.5-3.5 2.5 .5 2.5-4 2.5 6 2.5-3 2.5 4.4 2.5-2 2.5 .4 2.5 1.2 2.5-.5 2.5 7.1 2.5-3.7 2.5-1.9 2.5 1.6" fill="none" stroke="#ff0000" stroke-width="2.4" stroke-linejoin="round"/>
<path d="M923.5 188l2.5-2.4 2.5-2.9 2.5-3.6 2.5-2.4 2.5 3 2.5 1.9 2.5 4.5 2.5 0 2.5-7.1 2.5 2.8 2.5 2 2.5 1 2.5-4.4 2.5 1.9 2.5-5.6 2.5 2.2 2.5 2.4 2.5 1.7 2.5 .2 2.5 .9 2.5-2.9 2.5-3.1 2.5 8.1 2.5-18.7 2.5-.1 2.5 .8 2.5-3.7 2.5 5 2.5 1.6 2.5 6.7 2.5-1.9 2.5 .2 2.5-1.6 2.5-1.3 2.5-2.8 2.5-.5 2.5-1.4 2.5 5.6 2.5 4 2.5 2.3 2.5-3.6 2.5 3.8 2.5-7.7 2.5-3.6 2.5 .9 2.5-1.7 2.5-7 2.5 1.9 2.5-3 2.5-1.3 2.5-.2 2.5-5.1 2.5 3.1 2.5 3 2.5-.9 2.5 .6 2.5-1 2.5 .7 2.5-2.5 2.5-4.8 2.5 2.7 2.5-.1 2.5 1.6 2.5-.4 2.5-1.1 2.5 .2 2.5-3.5 2.5 .4 2.5 3.5 2.5 .1 2.5 2.6 2.5-3.8 2.5-5.6 2.5 2.1 2.5-2.5 2.5 1.7 2.5-4.9 2.5 10.3 2.5-6.4 2.5-1.8 2.5 5.1 2.5 1.2 2.5 0 2.5 6.2 2.5 1.6 2.5-2.4 2.5-3.6 2.5-.6 2.5 3.8 2.5-4 2.5 .3 2.5 1 2.5 8.8 2.5-1.6 2.5-2.2 2.5-.2 2.5 .8 2.5-1.3 2.5-1.9 2.5-4.1 2.5 6.6 2.5-1.6 2.5 2.4 2.5 1.3 2.5 1.4 2.5-.2 2.5 1.8 2.5 1.8 2.5 1.1 2.5-7.3 2.5 7.2 2.5-2.9 2.5-1 2.5 .8 2.5-1 2.5 0 2.5 5.8 2.5-2.5 2.5-2.2 2.5 .9 2.5-6.1 2.5-3.7 2.5-1.1 2.5-1.8 2.5 2.6 2.5-.9 2.5-1.5 2.5 7.9 2.5 4.2 2.5-1.9 2.5-1.7 2.5-3.7 2.5 4.9 2.5-.9 2.5 .9 2.5-1.6 2.5 5.3 2.5-6.4 2.5 5.4 2.5-5.8 2.5 2.9 2.5-.4 2.5 4 2.5-2.9 2.5 0 2.5-.9 2.5-3 2.5 4.7 2.5-5.4 2.5-1 2.5 1.7 2.5 0 2.5-.4 2.5-2.9 2.5-4.6 2.5 4 2.5-1.9 2.5 .6 2.5 2 2.5 4.7 2.5 3.6 2.5 2.8 2.5 .2 2.5 .1 2.5-2 2.5 2.1 2.5-.4 2.5 .4 2.5 0 2.5-2 2.5-8 2.5 2.2 2.5 .9 2.5 .9 2.5 2.7 2.5 8.6 2.5 1.1 2.5-8 2.5-4.7 2.5-2.7 2.5 0 2.5 2.1 2.5 2.9 2.5 .1 2.5-1.1 2.5 .7 2.5 2 2.5 .5 2.5 2.7 2.5-2.2 2.5 .7 2.5-3.5 2.5 4.4 2.5 1.7 2.5-4.2 2.5-5.4 2.5-2.5 2.5 3.7 2.5 4.3 2.5 1.4 2.5-2.6 2.5 .8 2.5 1.4 2.5 5.5 2.5-2.1 2.5-3.2 2.5 .4 2.5-2.4 2.5-1.7 2.5-3 2.5 1.2 2.5-.3 2.5 2.2 2.5 1.8 2.5 5.3 2.5 2 2.5-5.5 2.5 6 2.5-6.2 2.5 3.5 2.5-4.1 2.5 .7 2.5 5 2.5-3.5 2.5-.1 2.5 0 2.5 14.4 2.5-3.4 2.5 .6 2.5-2.4 2.5 4.8 2.5-1.9 2.5 3.9 2.5-.1 2.5-.1 2.5-.1 2.5-1.1 2.5 5.7 2.5-4 2.5-2.7 2.5 3" fill="none" stroke="#00ff00" stroke-width="2.4" stroke-linejoin="round"/>
<path d="M923.5 178.9l2.5-3.4 2.5-1.1 2.5-3.7 2.5-2.5 2.5 3.2 2.5 .7 2.5 4.5 2.5 1 2.5-5.8 2.5-.3 2.5 4 2.5 .8 2.5-3 2.5 .7 2.5-5.5 2.5 1.5 2.5 1.7 2.5 1.8 2.5 .1 2.5 1.5 2.5-3.1 2.5-1.4 2.5 6.7 2.5-18.3 2.5 .9 2.5 1.3 2.5-5.3 2.5 4.6 2.5 .8 2.5 6.7 2.5-1.8 2.5 .5 2.5-2.7 2.5-1.3 2.5-2.9 2.5-.8 2.5-1.3 2.5 6.8 2.5 3.6 2.5 1.8 2.5-1.6 2.5 1.7 2.5-7.7 2.5-3.3 2.5 .8 2.5-1.1 2.5-7.4 2.5 1.3 2.5-2.9 2.5-1.4 2.5 .1 2.5-5.9 2.5 5.1 2.5 2.8 2.5-1.2 2.5 .1 2.5-3.1 2.5 2 2.5-2.5 2.5-3.3 2.5 .9 2.5 0 2.5 1.1 2.5 1.1 2.5-.7 2.5-.6 2.5-3.5 2.5 .1 2.5 3.5 2.5 1.5 2.5 1.1 2.5-2.5 2.5-5.8 2.5 .5 2.5-2.7 2.5 2.1 2.5-3.7 2.5 9.3 2.5-6.6 2.5-1.6 2.5 7 2.5 .4 2.5 .2 2.5 4.7 2.5 1.4 2.5-1.7 2.5-3 2.5 1 2.5 2 2.5-4.7 2.5 .1 2.5 2 2.5 8.8 2.5-2.5 2.5-1.6 2.5 2 2.5-.9 2.5-1 2.5-1.4 2.5-4.3 2.5 7.3 2.5-2.1 2.5 2.4 2.5 .7 2.5 2.2 2.5-1 2.5 3.4 2.5 .6 2.5 .9 2.5-8.1 2.5 8.2 2.5-2.5 2.5-3 2.5 2.2 2.5-.3 2.5 .7 2.5 3.7 2.5-3.4 2.5 0 2.5-.3 2.5-5 2.5-4.1 2.5-1.5 2.5-1.6 2.5 2.6 2.5-1.2 2.5-.4 2.5 8.3 2.5 3.1 2.5-2.6 2.5-1.6 2.5-2.1 2.5 4.2 2.5 0 2.5 0 2.5-2.5 2.5 6.2 2.5-6.3 2.5 5.2 2.5-5.5 2.5 2.6 2.5 .5 2.5 1.7 2.5-2.4 2.5 .2 2.5 .2 2.5-2 2.5 5 2.5-6.1 2.5-1.5 2.5 .9 2.5 2.2 2.5-.8 2.5-3.3 2.5-5.4 2.5 4.8 2.5-1.4 2.5 .5 2.5 1.8 2.5 3.8 2.5 2.8 2.5 2.2 2.5 .9 2.5 2 2.5-3.5 2.5 2.4 2.5-.6 2.5 .3 2.5-.8 2.5-1 2.5-8.7 2.5 .7 2.5 1.8 2.5 2.8 2.5 3.5 2.5 7.3 2.5 1.3 2.5-7.2 2.5-5.4 2.5-4.9 2.5 2.1 2.5 2.9 2.5 1.8 2.5-1.4 2.5 .8 2.5 1.7 2.5 .5 2.5-.1 2.5 1.7 2.5-.8 2.5 .7 2.5-3 2.5 3.9 2.5 1 2.5-3.9 2.5-3.6 2.5-2.9 2.5 3.5 2.5 5.4 2.5 1.6 2.5-4.1 2.5 2.2 2.5 1.4 2.5 3.7 2.5-2 2.5-3 2.5-1.4 2.5-1.5 2.5-.2 2.5-3.2 2.5 .7 2.5-.1 2.5 1.7 2.5 .9 2.5 4.9 2.5 2.4 2.5-6.1 2.5 6.7 2.5-5 2.5 2.8 2.5-3.8 2.5 1.9 2.5 2.3 2.5-2 2.5 1.4 2.5-.2 2.5 14 2.5-4.2 2.5 1.8 2.5-3.5 2.5 4 2.5-.9 2.5 3.7 2.5-.7 2.5 1.8 2.5-.5 2.5-1.4 2.5 6 2.5-4.9 2.5-2 2.5 3.9" fill="none" stroke="#00ffff" stroke-width="2.4" stroke-linejoin="round"/>
<path d="M923.5 170l2.5-3.3 2.5-1 2.5-4.5 2.5-2.6 2.5 3.9 2.5 .8 2.5 3.6 2.5 .4 2.5-4.9 2.5 1.1 2.5 2.8 2.5 1.5 2.5-3.6 2.5 2.3 2.5-6.2 2.5 .7 2.5 2.2 2.5 1.3 2.5-.3 2.5 .3 2.5-2.1 2.5-.5 2.5 5.8 2.5-16.9 2.5-.8 2.5 .8 2.5-5.1 2.5 5.2 2.5 1.3 2.5 7.4 2.5-2.4 2.5 0 2.5-2.9 2.5-2.2 2.5-2 2.5-1.3 2.5-1.1 2.5 6.6 2.5 4.1 2.5 2.3 2.5-2.2 2.5 2.3 2.5-7.1 2.5-2.7 2.5 1 2.5-2.6 2.5-6.3 2.5 1 2.5-4.2 2.5-1.9 2.5 1.8 2.5-6.1 2.5 3 2.5 2.3 2.5-.6 2.5 1.3 2.5-.9 2.5-1.1 2.5-2.1 2.5-3.1 2.5 1.7 2.5-.1 2.5-.2 2.5 .7 2.5-1.9 2.5-.6 2.5-1.9 2.5 1.9 2.5 2.9 2.5 2.2 2.5-.8 2.5-3 2.5-5.1 2.5 1 2.5-3.3 2.5 2.5 2.5-1.9 2.5 8.2 2.5-6.8 2.5-1.3 2.5 5.1 2.5 1.6 2.5-.9 2.5 5.5 2.5 1 2.5-1.1 2.5-2.3 2.5-1.4 2.5 2 2.5-3.3 2.5 .7 2.5-.5 2.5 10 2.5-.5 2.5-3 2.5 3.4 2.5 1.2 2.5-1.4 2.5-1.5 2.5-5.2 2.5 4.9 2.5-1.3 2.5 1.8 2.5 1.8 2.5 1.3 2.5-1.2 2.5 4.6 2.5 .7 2.5 .4 2.5-6.8 2.5 7.3 2.5-2.8 2.5-2.1 2.5 1.7 2.5 .4 2.5 .7 2.5 2.4 2.5-2.5 2.5-.1 2.5-.4 2.5-4.4 2.5-4 2.5-1.5 2.5-1.3 2.5 2.6 2.5-1.8 2.5-.7 2.5 7.1 2.5 3.9 2.5-2.2 2.5-1.5 2.5-1.6 2.5 3 2.5-.7 2.5 1.3 2.5-1.6 2.5 4.1 2.5-5.5 2.5 4.4 2.5-5.2 2.5 2.7 2.5-.1 2.5 3.1 2.5-3.3 2.5-.4 2.5 .6 2.5-1.1 2.5 5 2.5-6.8 2.5-.4 2.5 .8 2.5 1.2 2.5-.7 2.5-3.7 2.5-4.5 2.5 4 2.5-.9 2.5 1.3 2.5 1.3 2.5 3.1 2.5 3.8 2.5 2.3 2.5-1.2 2.5 1.3 2.5-1.8 2.5 2.8 2.5-1.7 2.5 1.4 2.5 .1 2.5-2.5 2.5-6.7 2.5 .8 2.5 2.5 2.5 3.2 2.5 2.1 2.5 6.7 2.5 0 2.5-6.9 2.5-3.3 2.5-3.4 2.5 .5 2.5 1.5 2.5 1.4 2.5 .6 2.5 .4 2.5 .4 2.5 1 2.5 .1 2.5 1.6 2.5-1 2.5 .8 2.5-1.5 2.5 2.3 2.5 1.9 2.5-4.8 2.5-3.6 2.5-3.4 2.5 5 2.5 3.1 2.5 2.5 2.5-3.6 2.5 1.6 2.5 3.4 2.5 3.8 2.5-2.2 2.5-3 2.5-1.9 2.5-.4 2.5-1.5 2.5-2.8 2.5-.1 2.5-.8 2.5-.1 2.5 2.8 2.5 6.4 2.5 2.3 2.5-6.1 2.5 5.9 2.5-6.5 2.5 4.5 2.5-4.1 2.5 .5 2.5 5.7 2.5-3.7 2.5-.3 2.5 1.1 2.5 15.7 2.5-3.6 2.5 1.6 2.5-3.3 2.5 4 2.5-1.5 2.5 3.3 2.5-.5 2.5-.4 2.5 .1 2.5-2.1 2.5 5.3 2.5-3.1 2.5-2.6 2.5 3.8" fill="none" stroke="#0000ff" stroke-width="2.4" stroke-linejoin="round"/>
<path d="M923.5 160.9l2.5-2.4 2.5-2.5 2.5-2.6 2.5-2.9 2.5 3.6 2.5 1.5 2.5 2.7 2.5 .6 2.5-5.2 2.5 1.2 2.5 3.5 2.5 .7 2.5-3.1 2.5 .6 2.5-5.8 2.5 1.5 2.5 2.3 2.5 .7 2.5 1 2.5 .5 2.5-2.3 2.5-2.3 2.5 5.7 2.5-14.3 2.5-.6 2.5 1 2.5-4.1 2.5 2.4 2.5 2.3 2.5 5.6 2.5-1.4 2.5 .5 2.5-3.3 2.5-1.7 2.5-1.7 2.5-1.1 2.5-1.4 2.5 4.7 2.5 3.7 2.5 2.6 2.5-2.5 2.5 .8 2.5-7.5 2.5-4.3 2.5-1.4 2.5-2.4 2.5-6.9 2.5 1.1 2.5-2.7 2.5-2.2 2.5-.3 2.5-4.6 2.5 3.2 2.5 3 2.5-1.5 2.5 1.1 2.5-1.5 2.5 .4 2.5-2.4 2.5-3.4 2.5 2 2.5 .5 2.5 .1 2.5-.1 2.5-.9 2.5 .2 2.5-1.1 2.5 .4 2.5 2.8 2.5 2.1 2.5-.4 2.5-4.4 2.5-4.2 2.5 1.6 2.5-4 2.5 2 2.5-2.3 2.5 7.5 2.5-5.8 2.5-1.2 2.5 3.5 2.5 .2 2.5-.4 2.5 5.7 2.5 1.3 2.5-1.3 2.5-3.8 2.5-.7 2.5 3.1 2.5-2.5 2.5 .3 2.5 0 2.5 9 2.5-1.3 2.5-1.5 2.5 2.9 2.5 1.4 2.5-2.4 2.5-2.7 2.5-3.8 2.5 5.3 2.5-.7 2.5 .8 2.5 .4 2.5 1.9 2.5 .3 2.5 2.9 2.5 .6 2.5 .4 2.5-5.9 2.5 6.3 2.5-1.7 2.5-2.6 2.5 3.5 2.5 1.2 2.5 1 2.5 2.8 2.5-2.7 2.5-.6 2.5-.5 2.5-3.3 2.5-3.2 2.5-.5 2.5-1.8 2.5 1.4 2.5-.8 2.5 1 2.5 4.4 2.5 3.5 2.5-1.4 2.5-1.9 2.5-1.9 2.5 2.5 2.5-.1 2.5 1.3 2.5-2.3 2.5 4.8 2.5-5.7 2.5 4.3 2.5-4.5 2.5 3.1 2.5 .1 2.5 1.8 2.5-2.7 2.5-.5 2.5 .8 2.5-.9 2.5 4.1 2.5-4 2.5-1.3 2.5 .6 2.5 .6 2.5-.1 2.5-2.2 2.5-5.8 2.5 5.2 2.5-2 2.5 1.8 2.5 1.3 2.5 1.6 2.5 3.4 2.5 2 2.5-.7 2.5 .2 2.5-1.2 2.5 1.8 2.5-.3 2.5 1.3 2.5-1 2.5-1.2 2.5-5.3 2.5 1 2.5 2.2 2.5 2.3 2.5 1.6 2.5 4.7 2.5 2.1 2.5-6.3 2.5-3.7 2.5-3.9 2.5 .3 2.5 2.5 2.5 .8 2.5 .5 2.5 0 2.5 .8 2.5-.5 2.5 1.3 2.5 1.1 2.5-1 2.5 2.1 2.5-3.3 2.5 3.4 2.5 1.4 2.5-3.5 2.5-4.4 2.5-2.4 2.5 4.8 2.5 3.6 2.5 2.5 2.5-3.8 2.5 0 2.5 1.2 2.5 4.4 2.5-2.2 2.5-2.7 2.5-.4 2.5-.6 2.5 .4 2.5-1.2 2.5 .2 2.5-1.1 2.5-.7 2.5 .5 2.5 5 2.5 1.6 2.5-4.6 2.5 5.3 2.5-5.6 2.5 3.3 2.5-2.4 2.5 .6 2.5 3.1 2.5-2.8 2.5 .7 2.5 1.1 2.5 17.6 2.5 2 2.5 2.7 2.5-3.1 2.5 5.1 2.5-2.6 2.5 2.7 2.5-.4 2.5-.5 2.5 .2 2.5-2.4 2.5 5.1 2.5-2 2.5-2.2 2.5 3.3" fill="none" stroke="#ff00ff" stroke-width="2.4" stroke-linejoin="round"/>
<path d="M923.5 149.8l2.5-2.1 2.5-1.3 2.5-2.5 2.5-2.7 2.5 2.3 2.5 1.4 2.5 2.2 2.5 .1 2.5-3.9 2.5 1 2.5 3.2 2.5 .6 2.5-3.4 2.5 .7 2.5-3.5 2.5-.7 2.5 2 2.5 .6 2.5-.9 2.5 1.8 2.5-3 2.5-1.3 2.5 5.9 2.5-12.3 2.5-.8 2.5 .8 2.5-3.7 2.5 3.2 2.5 1.6 2.5 5.6 2.5-1.7 2.5 0 2.5-2.4 2.5-1 2.5-1.6 2.5-.9 2.5-3 2.5 5.3 2.5 3.2 2.5 2 2.5-3 2.5-.4 2.5-8.2 2.5-3.4 2.5-2 2.5-3.6 2.5-5.9 2.5 1.1 2.5-2 2.5-2.4 2.5-.4 2.5-4.8 2.5 3.5 2.5 1.8 2.5-1.2 2.5 .9 2.5-.3 2.5 0 2.5-2.7 2.5-2.2 2.5 1.4 2.5 .8 2.5-.4 2.5 1.6 2.5-.6 2.5 1.2 2.5-2.3 2.5 .2 2.5 1.8 2.5 3.7 2.5-2.4 2.5-3.1 2.5-5 2.5 .4 2.5-2.6 2.5 2.2 2.5-3.1 2.5 6.7 2.5-4.1 2.5-.8 2.5 3.1 2.5-.3 2.5-.2 2.5 3.2 2.5 2.4 2.5-1.1 2.5-4.6 2.5-.7 2.5 3.7 2.5-2.8 2.5-.3 2.5 .2 2.5 6.2 2.5-.2 2.5 0 2.5 2.6 2.5 .4 2.5-1.5 2.5-.9 2.5-4.3 2.5 4.7 2.5-.6 2.5 .6 2.5 .5 2.5 1.2 2.5 .5 2.5 3.3 2.5 1.2 2.5 .3 2.5-6.8 2.5 6.1 2.5-2.2 2.5-1.5 2.5 3.8 2.5 2.5 2.5 1.9 2.5 2.4 2.5-2.2 2.5-.5 2.5-.3 2.5-3.1 2.5-3.1 2.5-.5 2.5-1.2 2.5 1.8 2.5-1.5 2.5-.5 2.5 5.2 2.5 2.7 2.5-2 2.5-1.7 2.5-.2 2.5 2.1 2.5 .3 2.5-.4 2.5-.5 2.5 3.9 2.5-4.4 2.5 2.9 2.5-4.7 2.5 2.6 2.5 .7 2.5 1.8 2.5-2.2 2.5-.1 2.5-.4 2.5 .3 2.5 5.1 2.5-5.1 2.5-1.5 2.5 .2 2.5 1.5 2.5-.1 2.5-2.9 2.5-4.7 2.5 4.9 2.5-1.6 2.5 1.5 2.5 1 2.5 1.4 2.5 2.5 2.5 1.3 2.5-.8 2.5 .4 2.5-2.3 2.5 2.2 2.5-.2 2.5 1 2.5-.1 2.5-.8 2.5-4.4 2.5 1 2.5 2.1 2.5 0 2.5 1.3 2.5 5.9 2.5 1.7 2.5-4.1 2.5-3.5 2.5-3.5 2.5 1 2.5 1.8 2.5 .8 2.5-1 2.5-.1 2.5 1.2 2.5-.8 2.5 1.2 2.5 1.4 2.5-1.2 2.5 .8 2.5-2.6 2.5 4.5 2.5-.4 2.5-2.4 2.5-3.4 2.5-1.6 2.5 4.2 2.5 4.1 2.5 2.1 2.5-4.6 2.5-.3 2.5 1.3 2.5 5.3 2.5-3.5 2.5-2.8 2.5 0 2.5-.1 2.5 .1 2.5-.5 2.5 1.5 2.5-3.1 2.5-.2 2.5 .5 2.5 3.9 2.5 2.3 2.5-4.8 2.5 4.1 2.5-4.4 2.5 2.7 2.5-3.4 2.5 1 2.5 4.5 2.5-2.9 2.5 1.4 2.5 1 2.5 18.8 2.5 3 2.5 1.8 2.5-2.1 2.5 3 2.5-1.9 2.5 3.6 2.5-1.8 2.5 1 2.5-.4 2.5-1.4 2.5 4.5 2.5-3.7 2.5-1.3 2.5 3.4" fill="none" stroke="#ff0000" stroke-width="2.4" stroke-linejoin="round"/>
<path d="M923.5 137.5l2.5-2 2.5-1 2.5-1.4 2.5-2.5 2.5 2.8 2.5 .5 2.5 2.2 2.5-1.3 2.5-4.3 2.5 2.2 2.5 2.3 2.5-.1 2.5-1.3 2.5 .3 2.5-4.3 2.5 1.3 2.5 1.5 2.5-.5 2.5 .6 2.5-.3 2.5-2.1 2.5-1.4 2.5 5.7 2.5-10.5 2.5-1 2.5 .7 2.5-3.2 2.5 3.2 2.5 .6 2.5 4.5 2.5-1.7 2.5 .3 2.5-2.1 2.5-.1 2.5-1.5 2.5-1.2 2.5-1.8 2.5 3.6 2.5 2.9 2.5 1.9 2.5-3.2 2.5-2.8 2.5-7.5 2.5-4 2.5-1.9 2.5-3.3 2.5-5.3 2.5 .5 2.5-2.9 2.5-1.9 2.5-.9 2.5-3.2 2.5 1.7 2.5 2.4 2.5-.4 2.5-.3 2.5 0 2.5 1.2 2.5-1.4 2.5-4.2 2.5 1.8 2.5 .8 2.5 .8 2.5 1.6 2.5-.3 2.5-.6 2.5-1.5 2.5 2.4 2.5 1.9 2.5 2.4 2.5-2.5 2.5-5 2.5-3.6 2.5 .7 2.5-2.9 2.5 1.4 2.5-3.4 2.5 6.1 2.5-4.4 2.5-1.2 2.5 3 2.5 .8 2.5-1.5 2.5 4.5 2.5-.3 2.5-.6 2.5-3.1 2.5 .2 2.5 2 2.5-2.4 2.5 1.1 2.5-.1 2.5 6.5 2.5-1.5 2.5-.4 2.5 1.5 2.5-.8 2.5 0 2.5 0 2.5-2.9 2.5 4.1 2.5-1 2.5-.9 2.5 .4 2.5 1.6 2.5 .6 2.5 1.6 2.5 2 2.5 .5 2.5-6.3 2.5 5.4 2.5-1.5 2.5-.1 2.5 3.7 2.5 3.8 2.5 2.2 2.5 1.5 2.5-1.5 2.5-.8 2.5-.3 2.5-2.3 2.5-1.2 2.5-.9 2.5-.7 2.5 1.5 2.5-1.5 2.5-1 2.5 4.1 2.5 2.4 2.5-1.1 2.5-1.9 2.5-2.4 2.5 2.9 2.5 .4 2.5 .1 2.5-.4 2.5 4.6 2.5-5.9 2.5 3.4 2.5-3.7 2.5 1.3 2.5 1.3 2.5 1.7 2.5-2 2.5 0 2.5 .9 2.5-.9 2.5 4.1 2.5-4.6 2.5-.1 2.5 .4 2.5 1.5 2.5 .4 2.5-2.6 2.5-3.2 2.5 3.3 2.5-.6 2.5 1 2.5-.7 2.5 2.5 2.5 1.5 2.5 1 2.5-1.1 2.5 .6 2.5-2 2.5 1.2 2.5-1 2.5 .4 2.5 2 2.5-1.3 2.5-2.7 2.5 1.1 2.5 .2 2.5 .7 2.5 1.8 2.5 4.8 2.5 1.4 2.5-4.7 2.5-2.7 2.5-2.4 2.5 .2 2.5 2.3 2.5 .9 2.5-.5 2.5-.2 2.5 .4 2.5-.1 2.5-.1 2.5 1.2 2.5-.4 2.5 0 2.5-1.2 2.5 2.5 2.5 1.1 2.5-3 2.5-2.1 2.5-2 2.5 3.5 2.5 4.2 2.5 2 2.5-4.1 2.5 0 2.5 .5 2.5 3.3 2.5-1.6 2.5-1.8 2.5 .2 2.5-.4 2.5 .8 2.5 1.4 2.5 1.5 2.5-4.3 2.5-1 2.5-.9 2.5 3.7 2.5 .6 2.5-3.6 2.5 4.1 2.5-4.1 2.5 3.1 2.5-2.8 2.5 0 2.5 3.8 2.5-2.2 2.5 .9 2.5 2.4 2.5 18.5 2.5 4.4 2.5 1.6 2.5-2.2 2.5 3.5 2.5-2.7 2.5 2.6 2.5-1.1 2.5 .4 2.5 .6 2.5-2.4 2.5 4.7 2.5-2.4 2.5-1.9 2.5 2.3" fill="none" stroke="#00ff00" stroke-width="2.4" stroke-linejoin="round"/>
<path d="M923.5 125.2l2.5-2.3 2.5 .1 2.5-3.2 2.5-.6 2.5 2.9 2.5 .8 2.5 .8 2.5-1.6 2.5-3.9 2.5 1.7 2.5 2.4 2.5 .2 2.5-1.7 2.5 1.4 2.5-3.8 2.5 .5 2.5 .9 2.5-1 2.5-.3 2.5 .9 2.5-2.4 2.5-2 2.5 5.8 2.5-7.6 2.5-1.3 2.5 1.6 2.5-3.5 2.5 3.4 2.5 .2 2.5 3.5 2.5-.9 2.5 .3 2.5-1.3 2.5-1.3 2.5-1.2 2.5-.5 2.5-1.2 2.5 3 2.5 1.2 2.5 1.9 2.5-2.9 2.5-3.3 2.5-7.7 2.5-2.8 2.5-1.6 2.5-3.5 2.5-4.6 2.5 .2 2.5-2.4 2.5-1.6 2.5 0 2.5-5.6 2.5 3 2.5 1.6 2.5-.6 2.5 .6 2.5-.9 2.5 .9 2.5-1.4 2.5-3.4 2.5 2.5 2.5 .6 2.5 1.1 2.5 1.1 2.5 .3 2.5 .4 2.5-1.2 2.5 .5 2.5 3.6 2.5 1.4 2.5-2.2 2.5-4.9 2.5-3.6 2.5 .6 2.5-1.9 2.5 .4 2.5-3.6 2.5 4.2 2.5-2.5 2.5-1.8 2.5 2.4 2.5 .2 2.5-.7 2.5 3.3 2.5 .1 2.5-.6 2.5-2.6 2.5 .5 2.5 1.6 2.5-2.6 2.5 1.3 2.5 .2 2.5 5.8 2.5-1.3 2.5-1.3 2.5 2.4 2.5-.3 2.5-.7 2.5-.2 2.5-2.7 2.5 3.9 2.5-1.1 2.5-.7 2.5 .4 2.5 1.5 2.5 .8 2.5 1.8 2.5 1.1 2.5 .4 2.5-4.9 2.5 5.2 2.5-.9 2.5-.6 2.5 4.6 2.5 5.3 2.5 1.6 2.5 1.1 2.5-1.8 2.5-.2 2.5 .1 2.5-3.2 2.5-2.3 2.5 .4 2.5 .1 2.5 1.3 2.5-1.4 2.5-1 2.5 3.7 2.5 2.3 2.5-2.1 2.5-.4 2.5-1.1 2.5 1.8 2.5 .3 2.5-.4 2.5-.4 2.5 4 2.5-4.8 2.5 3.4 2.5-3.8 2.5 1.8 2.5 .8 2.5 1.6 2.5-2.1 2.5-.2 2.5-.5 2.5 .7 2.5 4 2.5-3.7 2.5-1.8 2.5 1.9 2.5 .9 2.5 .7 2.5-1.6 2.5-4 2.5 3.7 2.5-.3 2.5 .4 2.5-.6 2.5 1.7 2.5 1.4 2.5-.3 2.5-.3 2.5 0 2.5-1.2 2.5 1.3 2.5-1.6 2.5 1.3 2.5 .4 2.5 .1 2.5-2.1 2.5 1.4 2.5 .1 2.5 .8 2.5 .4 2.5 4.3 2.5 1.1 2.5-4 2.5-2 2.5-1.6 2.5 .7 2.5-.1 2.5 .8 2.5 .3 2.5-.5 2.5 1.3 2.5-.1 2.5 1 2.5 .6 2.5-1.5 2.5-.2 2.5-2 2.5 2 2.5 1.5 2.5-1.6 2.5-2 2.5-.9 2.5 3.7 2.5 3.7 2.5 2.5 2.5-5.7 2.5-.3 2.5 .5 2.5 1.9 2.5-.3 2.5-.9 2.5-.5 2.5 .1 2.5 2.6 2.5 2 2.5 .1 2.5-4.4 2.5-1.2 2.5-1.6 2.5 2.4 2.5 1.4 2.5-3.2 2.5 3.9 2.5-3.7 2.5 2 2.5-2.5 2.5 1.5 2.5 3.1 2.5-1.9 2.5-.5 2.5 1.3 2.5 18.4 2.5 5.1 2.5 1.9 2.5-2.5 2.5 3.6 2.5-2.5 2.5 1.9 2.5 .3 2.5-.8 2.5 .5 2.5-1 2.5 3.4 2.5-2.3 2.5-1.9 2.5 2.7" fill="none" stroke="#00ffff" stroke-width="2.4" stroke-linejoin="round"/>
<path d="M923.5 114.8l2.5-1.6 2.5-.3 2.5-1.4 2.5-1.9 2.5 3.7 2.5 .4 2.5 0 2.5-2 2.5-4.5 2.5 1.8 2.5 2.5 2.5 .6 2.5-1.2 2.5 1.1 2.5-2.6 2.5 .4 2.5 .2 2.5-1.2 2.5 .2 2.5 .1 2.5-1.8 2.5-.6 2.5 3.5 2.5-6 2.5 .4 2.5 .6 2.5-3.5 2.5 3.1 2.5 0 2.5 2.4 2.5-1.5 2.5 .3 2.5-.1 2.5-1 2.5-.2 2.5-.9 2.5-2.3 2.5 2.2 2.5 1.7 2.5 1.6 2.5-2.3 2.5-3.6 2.5-6.2 2.5-2.9 2.5-2.4 2.5-1.6 2.5-4 2.5 .9 2.5-3.2 2.5-1 2.5-1.8 2.5-3.1 2.5 1.8 2.5 1.3 2.5-1.2 2.5 1 2.5 .2 2.5 .7 2.5-2 2.5-2 2.5 2 2.5 1 2.5 1 2.5 1.5 2.5-.3 2.5 1 2.5-.9 2.5 .2 2.5 3.1 2.5 2 2.5-3.1 2.5-4.4 2.5-3.7 2.5 1.1 2.5-2.4 2.5-.7 2.5-2.5 2.5 4 2.5-3 2.5-1.3 2.5 1.6 2.5 1.1 2.5-1.6 2.5 3.1 2.5-.7 2.5-.6 2.5-2 2.5-.2 2.5 2.4 2.5-1.2 2.5 .7 2.5-.9 2.5 3.8 2.5 0 2.5-1.2 2.5 2 2.5 .4 2.5-1.8 2.5 1.4 2.5-2.3 2.5 3.7 2.5-1.8 2.5-1.8 2.5 .6 2.5 2.9 2.5 .2 2.5 2.1 2.5 .6 2.5 .8 2.5-3.8 2.5 4.8 2.5-1.6 2.5-.8 2.5 5.6 2.5 5.4 2.5 1.5 2.5 1.7 2.5-2.1 2.5-.1 2.5 0 2.5-2.3 2.5-.7 2.5-.6 2.5-.3 2.5 1.1 2.5-2.2 2.5-1 2.5 3.9 2.5 2.2 2.5-1.9 2.5-.3 2.5-2.2 2.5 3.2 2.5-1.1 2.5 0 2.5-.5 2.5 3.1 2.5-3.4 2.5 3.5 2.5-3.1 2.5 2.2 2.5 .2 2.5 .6 2.5-1.3 2.5-.2 2.5 0 2.5 .6 2.5 4.2 2.5-3.4 2.5-1.7 2.5 1.1 2.5 1.5 2.5 .1 2.5-2.3 2.5-2.8 2.5 3.3 2.5-.5 2.5 .6 2.5-.2 2.5 .7 2.5 1.3 2.5 .2 2.5-.9 2.5 0 2.5-2 2.5 1.3 2.5-.6 2.5 .6 2.5 1.6 2.5-.7 2.5-.2 2.5 .6 2.5-.2 2.5 1.1 2.5 .5 2.5 2.1 2.5 2.7 2.5-3.4 2.5-2.4 2.5-2.2 2.5-.2 2.5 1.6 2.5 .6 2.5-.2 2.5-.3 2.5 .1 2.5 .4 2.5 .1 2.5 1.4 2.5-.9 2.5-.2 2.5-1.7 2.5 2.7 2.5 .1 2.5-.5 2.5-2 2.5-.9 2.5 4.2 2.5 2.9 2.5 2.6 2.5-6.3 2.5-1.1 2.5 1.7 2.5 2.4 2.5-1.8 2.5-1.7 2.5 .6 2.5 1.1 2.5 2.5 2.5 2.4 2.5 .1 2.5-3.8 2.5-2.5 2.5-1.3 2.5 2.3 2.5 1.2 2.5-4.6 2.5 3.7 2.5-2.7 2.5 2.4 2.5-1.5 2.5 .1 2.5 3.3 2.5-3.1 2.5 2 2.5 1.8 2.5 14.5 2.5 2.9 2.5 2 2.5-2.1 2.5 2.6 2.5-1.2 2.5 2 2.5-.9 2.5 .3 2.5-.2 2.5-1.4 2.5 2.8 2.5-2.8 2.5-1 2.5 2.1" fill="none" stroke="#0000ff" stroke-width="2.4" stroke-linejoin="round"/>
<path d="M923.5 105.7l2.5-.9 2.5-.3 2.5-2 2.5-.4 2.5 1.8 2.5 1 2.5-.5 2.5-1.8 2.5-3.9 2.5 .4 2.5 2.5 2.5 1.3 2.5-1.8 2.5 2.4 2.5-2.4 2.5-.3 2.5 .5 2.5-1.1 2.5-.4 2.5 .8 2.5-2.5 2.5-1.5 2.5 3.5 2.5-2.8 2.5-1 2.5 .9 2.5-1.7 2.5 1.4 2.5 .2 2.5 .8 2.5-1 2.5 1.3 2.5-.7 2.5 0 2.5-.7 2.5-.8 2.5-1.5 2.5 1.4 2.5 .7 2.5 1.4 2.5-1.8 2.5-4 2.5-5.6 2.5-2.8 2.5-.6 2.5-1.4 2.5-4.6 2.5 1.8 2.5-3 2.5-2.2 2.5-.3 2.5-3.6 2.5 2 2.5 .8 2.5-.9 2.5 .3 2.5 .5 2.5 .8 2.5-1.7 2.5-1.8 2.5 2.3 2.5 1.4 2.5 .6 2.5 1 2.5 .3 2.5 .8 2.5-.8 2.5 .1 2.5 2.7 2.5 2.8 2.5-3.3 2.5-5.1 2.5-3.1 2.5 .9 2.5-1.9 2.5-.4 2.5-3.2 2.5 3.1 2.5-2 2.5-1.5 2.5 1 2.5 .1 2.5-1.1 2.5 2.6 2.5-.1 2.5-.4 2.5-2 2.5 .2 2.5 2.6 2.5-2.2 2.5 .2 2.5-.7 2.5 4.5 2.5 .6 2.5-1.7 2.5 1.8 2.5 .5 2.5-1.2 2.5 0 2.5-.9 2.5 3.2 2.5-1.7 2.5-.7 2.5 .1 2.5 2.5 2.5 0 2.5 2 2.5 0 2.5 1.1 2.5-3.9 2.5 4.7 2.5-.5 2.5-1.1 2.5 5.4 2.5 5.9 2.5 2.5 2.5 1 2.5-1.2 2.5-.7 2.5-.3 2.5-2.1 2.5-.5 2.5 .3 2.5-.7 2.5 1.3 2.5-1.9 2.5-1.5 2.5 3.1 2.5 1.3 2.5-1.3 2.5-.7 2.5-.5 2.5 2 2.5-.3 2.5 .5 2.5-1.7 2.5 3.6 2.5-3.9 2.5 3.7 2.5-2.7 2.5 .2 2.5 .7 2.5 1.7 2.5-1.6 2.5-1.1 2.5 1 2.5 .1 2.5 3.3 2.5-3.1 2.5 .3 2.5 1.4 2.5 1.3 2.5 .2 2.5-1 2.5-3.2 2.5 2.7 2.5-.7 2.5 .3 2.5-.6 2.5 .7 2.5 .9 2.5 .1 2.5-1 2.5 0 2.5-1.4 2.5 1.2 2.5-1.1 2.5-.1 2.5 .7 2.5 1.4 2.5 .2 2.5 .7 2.5-.3 2.5 .2 2.5 .1 2.5 1.8 2.5 2.1 2.5-3.4 2.5-1.2 2.5-1.6 2.5 .8 2.5 1.7 2.5-.1 2.5-.6 2.5-.7 2.5 .9 2.5-.3 2.5-.1 2.5 .7 2.5-.3 2.5 .4 2.5-1.8 2.5 2 2.5 .4 2.5-1 2.5-2 2.5-.8 2.5 4.4 2.5 3.4 2.5 2.6 2.5-6.6 2.5-.3 2.5 1 2.5 1.4 2.5-1.4 2.5-.8 2.5 .2 2.5 .4 2.5 3.8 2.5 3.1 2.5 .9 2.5-5.7 2.5-2.3 2.5-2.4 2.5 2.1 2.5 2.1 2.5-3.4 2.5 2.7 2.5-2.7 2.5 2 2.5-1.5 2.5 .9 2.5 2.2 2.5-1.8 2.5 1.5 2.5 1.3 2.5 12.8 2.5 1.7 2.5 1.8 2.5-2 2.5 2.4 2.5-2 2.5 2 2.5-.7 2.5-.2 2.5 .3 2.5-1.7 2.5 3.8 2.5-3.1 2.5-.7 2.5 1.4" fill="none" stroke="#ff00ff" stroke-width="2.4" stroke-linejoin="round"/>
<path d="M923.5 98.4l2.5-.6 2.5 .1 2.5-1.5 2.5-1.1 2.5 2.2 2.5 .9 2.5-1.3 2.5-1.9 2.5-3 2.5 1.1 2.5 1.6 2.5 1.2 2.5-2.3 2.5 2.1 2.5-2 2.5 .1 2.5-.1 2.5-.9 2.5-.2 2.5-.5 2.5-2.3 2.5-.8 2.5 2.8 2.5-1 2.5-.1 2.5 .1 2.5-2 2.5 1.8 2.5-.4 2.5 1 2.5-1 2.5 1.2 2.5-.2 2.5 .1 2.5-.2 2.5-1.2 2.5-2.3 2.5 .9 2.5 .3 2.5 1.7 2.5-2.1 2.5-3.5 2.5-5.4 2.5-2 2.5-.5 2.5-.9 2.5-3.9 2.5 .8 2.5-2.9 2.5-1.8 2.5-.2 2.5-4 2.5 2 2.5 1.3 2.5-.8 2.5 .3 2.5 .5 2.5 1 2.5-1.7 2.5-2.7 2.5 3.1 2.5 1 2.5 1.1 2.5 .9 2.5-.3 2.5 .9 2.5-.8 2.5 1.1 2.5 3 2.5 2.3 2.5-4.4 2.5-3.9 2.5-3.3 2.5 .9 2.5-2.4 2.5-.7 2.5-2.7 2.5 3.1 2.5-2.5 2.5-1.2 2.5 1.3 2.5-1.2 2.5-.6 2.5 2.8 2.5-.3 2.5-.7 2.5-2.4 2.5 .5 2.5 2.3 2.5-1.8 2.5 .7 2.5 .2 2.5 3.8 2.5-1.1 2.5-1.1 2.5 1 2.5 1 2.5-1.2 2.5 1.2 2.5-1.4 2.5 3.1 2.5-2.5 2.5-1 2.5 .5 2.5 1.6 2.5 .7 2.5 2.6 2.5 0 2.5 .6 2.5-2.6 2.5 4.3 2.5-1 2.5-1 2.5 6.3 2.5 6.6 2.5 2.5 2.5 .3 2.5-.6 2.5-.7 2.5 .1 2.5-1.5 2.5-1.6 2.5 .2 2.5-.9 2.5 1.7 2.5-1.9 2.5-.5 2.5 1.9 2.5 1.5 2.5-.7 2.5-.9 2.5-1 2.5 1.3 2.5 0 2.5 1.3 2.5-1.4 2.5 2.7 2.5-3.7 2.5 3.3 2.5-2.4 2.5 .8 2.5 .7 2.5 .6 2.5-1.6 2.5-.3 2.5 .8 2.5 .1 2.5 3.5 2.5-2.2 2.5-.4 2.5 .9 2.5 1.4 2.5 .1 2.5-1.4 2.5-1.9 2.5 2.3 2.5 .3 2.5 .5 2.5-.8 2.5 .4 2.5 .8 2.5-1 2.5-.7 2.5 .1 2.5-2.2 2.5 1.3 2.5-1.1 2.5 .4 2.5 1.8 2.5 .3 2.5 .1 2.5 .8 2.5-.1 2.5 .2 2.5-1.1 2.5 2.3 2.5 1.8 2.5-2.3 2.5-.5 2.5-1.3 2.5-.3 2.5 1.2 2.5 .2 2.5-.1 2.5-.8 2.5 .1 2.5 0 2.5 .1 2.5 1.3 2.5-.7 2.5 .2 2.5-1.6 2.5 1.2 2.5 .8 2.5-.7 2.5-1.1 2.5-.1 2.5 3.3 2.5 3.3 2.5 2.4 2.5-6.6 2.5-.2 2.5 0 2.5 2 2.5-1.5 2.5-.3 2.5 .7 2.5 .5 2.5 3.1 2.5 3.3 2.5 1.3 2.5-6 2.5-2.7 2.5-1.4 2.5 .8 2.5 1.2 2.5-2.7 2.5 2.9 2.5-3.3 2.5 2.5 2.5-1.8 2.5 .5 2.5 2.3 2.5-1.7 2.5 1.2 2.5 1.7 2.5 11.7 2.5 2.2 2.5 1 2.5-1.2 2.5 2.1 2.5-2.8 2.5 2.8 2.5-.5 2.5-.3 2.5-.6 2.5-.9 2.5 2.2 2.5-2.7 2.5-.9 2.5 2.2" fill="none" stroke="#ff0000" stroke-width="2.4" stroke-linejoin="round"/>
<path d="M923.5 93.5l2.5-.7 2.5 .5 2.5-.6 2.5-1 2.5 1.6 2.5 .9 2.5-1.5 2.5-2.4 2.5-3.4 2.5 .4 2.5 2 2.5 .9 2.5-.5 2.5 1.7 2.5-1.6 2.5-.5 2.5-.8 2.5-1 2.5-.3 2.5-.3 2.5-1.4 2.5-1.4 2.5 2.8 2.5 .4 2.5-.7 2.5 .9 2.5-2.1 2.5 1.3 2.5-.6 2.5 .4 2.5-1 2.5 1.2 2.5 0 2.5 .8 2.5-.3 2.5-.4 2.5-2.4 2.5 0 2.5 .9 2.5 .6 2.5-1.1 2.5-5 2.5-4 2.5-2.4 2.5 .3 2.5-.7 2.5-3.1 2.5 .2 2.5-3.2 2.5-1.3 2.5 .1 2.5-3.1 2.5 1.5 2.5 .6 2.5-.4 2.5 .7 2.5-.6 2.5 .5 2.5-1.2 2.5-.6 2.5 1.5 2.5 .8 2.5 .7 2.5 1.1 2.5 .6 2.5 .7 2.5-.3 2.5 1.3 2.5 2.9 2.5 3.3 2.5-4.9 2.5-5.8 2.5-2.5 2.5 .5 2.5-1.4 2.5-1.5 2.5-2.6 2.5 1.7 2.5-2 2.5-.9 2.5 1.3 2.5-.6 2.5-1.1 2.5 2.6 2.5-1.2 2.5-.3 2.5-1.5 2.5 .3 2.5 2.4 2.5-1.9 2.5 .8 2.5-.6 2.5 3.9 2.5-1 2.5-.4 2.5 2.4 2.5 .3 2.5-1.7 2.5 1.4 2.5-1.2 2.5 2.1 2.5-1.5 2.5-1.6 2.5-.2 2.5 2.3 2.5 1.2 2.5 2.1 2.5 1 2.5 .2 2.5-3.4 2.5 3.6 2.5-.6 2.5-.5 2.5 5.6 2.5 7.9 2.5 1.8 2.5 .2 2.5-.6 2.5-.7 2.5-.5 2.5-.8 2.5-.9 2.5 .6 2.5-.3 2.5 .8 2.5-1.4 2.5-.8 2.5 1.5 2.5 1.3 2.5-.7 2.5-1.3 2.5-.9 2.5 1.9 2.5-.7 2.5 .4 2.5-.2 2.5 2.3 2.5-2.5 2.5 2.2 2.5-2.8 2.5 1.8 2.5-.2 2.5 1.5 2.5-1.3 2.5-.8 2.5 1.5 2.5 .3 2.5 2.7 2.5-1.9 2.5-.1 2.5 .3 2.5 1.3 2.5 .9 2.5-1 2.5-2.6 2.5 2.4 2.5-.6 2.5 .3 2.5-.2 2.5 .2 2.5 .1 2.5-.7 2.5-.6 2.5 0 2.5-1 2.5 .6 2.5-.6 2.5 0 2.5 .9 2.5 1.3 2.5 1 2.5 .4 2.5-1 2.5 0 2.5-.6 2.5 2.2 2.5 2.1 2.5-1.8 2.5-1.3 2.5-.7 2.5-.5 2.5 .9 2.5 .3 2.5-.9 2.5-.3 2.5 0 2.5 0 2.5 .1 2.5 .8 2.5-1.4 2.5 .8 2.5-1.6 2.5 2.1 2.5 .5 2.5-1 2.5-.5 2.5-.1 2.5 3.8 2.5 2.9 2.5 2.1 2.5-6.8 2.5 0 2.5 .3 2.5 1.4 2.5-.5 2.5-1.2 2.5 .7 2.5 1.3 2.5 2.6 2.5 4.4 2.5 1.1 2.5-6.3 2.5-2.9 2.5-1.7 2.5 1 2.5 1 2.5-2.8 2.5 2.1 2.5-2.3 2.5 1.9 2.5-1.7 2.5 .8 2.5 2.2 2.5-1 2.5 1.1 2.5 .5 2.5 10.2 2.5 1.3 2.5 .6 2.5-1.8 2.5 1.8 2.5-1.8 2.5 1.6 2.5-.1 2.5-.6 2.5 0 2.5-1.7 2.5 3 2.5-1.4 2.5-2.1 2.5 1.6" fill="none" stroke="#00ff00" stroke-width="2.4" stroke-linejoin="round"/>
<path d="M923.5 88.7l2.5-.5 2.5 .2 2.5-.9 2.5-.3 2.5 2.1 2.5 .3 2.5-1.8 2.5-3.2 2.5-2.5 2.5 .6 2.5 2.6 2.5 .9 2.5-1.1 2.5 1.3 2.5-.8 2.5-.8 2.5-.1 2.5-1.2 2.5-1 2.5-.5 2.5-2.3 2.5-.7 2.5 2.3 2.5 1.4 2.5-.2 2.5 .9 2.5-1.7 2.5 .5 2.5-.4 2.5-.1 2.5-.1 2.5 .9 2.5 .6 2.5-.1 2.5 1 2.5-1.8 2.5-1.5 2.5 .2 2.5-.1 2.5 .9 2.5-1 2.5-4.8 2.5-4.2 2.5-1 2.5 .4 2.5-1.3 2.5-2.2 2.5 .2 2.5-2.6 2.5-1.5 2.5-1.2 2.5-2.3 2.5 1.1 2.5 .5 2.5-.4 2.5 1.1 2.5-.7 2.5 1 2.5-.7 2.5-1.4 2.5 1.1 2.5 1.3 2.5 1 2.5 1.9 2.5 0 2.5 .4 2.5-.1 2.5 .4 2.5 2.5 2.5 3.4 2.5-4.7 2.5-5.2 2.5-2.2 2.5-.1 2.5-1.2 2.5-.7 2.5-2.9 2.5 2.2 2.5-2.3 2.5-.4 2.5 0 2.5 0 2.5-.7 2.5 1.8 2.5-.5 2.5-.6 2.5-1.5 2.5-.4 2.5 2.4 2.5-.7 2.5 .3 2.5-.8 2.5 3 2.5 0 2.5-.9 2.5 1.2 2.5 .4 2.5-.5 2.5 1.5 2.5-1.4 2.5 2 2.5-1.6 2.5-1.5 2.5 .1 2.5 1.8 2.5 1 2.5 2.3 2.5 .1 2.5 .7 2.5-3 2.5 3.8 2.5-.4 2.5-.8 2.5 6.7 2.5 7.2 2.5 3.2 2.5-.9 2.5-1.1 2.5-.1 2.5-.5 2.5-1.1 2.5-.8 2.5 0 2.5-.3 2.5 1.1 2.5-1.5 2.5-.9 2.5 1.3 2.5 1.5 2.5-.4 2.5-.9 2.5-.7 2.5 1.7 2.5-.6 2.5 .4 2.5 0 2.5 2.1 2.5-2.2 2.5 1.3 2.5-1.9 2.5 .8 2.5 .6 2.5 1.4 2.5-2.2 2.5 .9 2.5-.3 2.5 .6 2.5 2.6 2.5-1.3 2.5-.4 2.5 1.2 2.5 .5 2.5 .6 2.5-.3 2.5-2.8 2.5 2.1 2.5 .3 2.5 .5 2.5-.8 2.5 .1 2.5 .1 2.5-.7 2.5-1 2.5 .1 2.5-1.6 2.5 1.4 2.5-1.2 2.5-.2 2.5 1.1 2.5 .7 2.5 1.4 2.5 1.2 2.5-.6 2.5-.4 2.5-.4 2.5 1 2.5 1.7 2.5-1.7 2.5-.1 2.5-1 2.5 0 2.5 .5 2.5 .9 2.5-.5 2.5-.5 2.5-.1 2.5-.6 2.5 .6 2.5 .8 2.5-.6 2.5-.1 2.5-1.1 2.5 1.1 2.5 .5 2.5-.7 2.5-.1 2.5-.7 2.5 3.3 2.5 3 2.5 2.9 2.5-6.6 2.5-.6 2.5 .2 2.5 .8 2.5-.5 2.5-.4 2.5 .5 2.5 .4 2.5 4.2 2.5 4.2 2.5 1.3 2.5-7 2.5-1.6 2.5-2.6 2.5 .5 2.5 .4 2.5-1.3 2.5 1.6 2.5-2.4 2.5 1.8 2.5-1 2.5 .5 2.5 2.1 2.5-1.3 2.5 1 2.5 .9 2.5 6.9 2.5 .3 2.5 .6 2.5-1.5 2.5 1.9 2.5-1.5 2.5 1.7 2.5-.6 2.5-.1 2.5-.4 2.5-.6 2.5 1.9 2.5-1.9 2.5-2 2.5 2" fill="none" stroke="#00ffff" stroke-width="2.4" stroke-linejoin="round"/>
<path d="M923.5 86.1l2.5-.4 2.5-.1 2.5-.7 2.5-.3 2.5 1.9 2.5 1.1 2.5-2.1 2.5-2.9 2.5-3.1 2.5 .7 2.5 2.6 2.5 .9 2.5-.8 2.5 .7 2.5-1 2.5 0 2.5-.5 2.5-1.6 2.5-1.5 2.5 .3 2.5-1.8 2.5-1.3 2.5 2.5 2.5 1.8 2.5 .1 2.5 .7 2.5-1.9 2.5 1.8 2.5-1.9 2.5 .5 2.5-.6 2.5 1.1 2.5 0 2.5 .8 2.5 .3 2.5-1.1 2.5-2.4 2.5 .6 2.5-.3 2.5-.1 2.5 0 2.5-5 2.5-3.2 2.5-1.1 2.5-.6 2.5-.8 2.5-1.5 2.5 .6 2.5-2.2 2.5-2.1 2.5-.4 2.5-2.4 2.5 .3 2.5 .4 2.5-.3 2.5 .8 2.5-.7 2.5 1.7 2.5-.7 2.5-1.1 2.5 1.4 2.5 .7 2.5 1.4 2.5 1.1 2.5 .1 2.5 .7 2.5-.5 2.5 1.6 2.5 1.7 2.5 4 2.5-5.8 2.5-4.8 2.5-2.1 2.5 0 2.5-1.9 2.5-.9 2.5-2.2 2.5 1.5 2.5-1.6 2.5-1.1 2.5-.2 2.5 .2 2.5-.8 2.5 1.4 2.5-.3 2.5-.1 2.5-.7 2.5 .3 2.5 1.7 2.5-1.7 2.5 .4 2.5-.4 2.5 2.7 2.5-.1 2.5-.1 2.5 .9 2.5 .4 2.5-1.1 2.5 1.3 2.5-.8 2.5 1.9 2.5-1.7 2.5-1.5 2.5-.2 2.5 2.1 2.5 1.3 2.5 1.7 2.5-.1 2.5 1.2 2.5-2.2 2.5 3.6 2.5-1.2 2.5-.6 2.5 6.3 2.5 7.8 2.5 3 2.5-.3 2.5-1.4 2.5-.2 2.5-.1 2.5-2 2.5 0 2.5 .7 2.5-.2 2.5 .6 2.5-1.4 2.5-.7 2.5 1.1 2.5 .9 2.5-.6 2.5-.4 2.5-.7 2.5 1.5 2.5-.3 2.5 .3 2.5-.5 2.5 2.2 2.5-2.8 2.5 2.6 2.5-2.6 2.5 1.9 2.5 0 2.5 .5 2.5-1.2 2.5 0 2.5 .1 2.5 .4 2.5 2.3 2.5-.9 2.5 .3 2.5 .3 2.5 1.4 2.5 .1 2.5-.6 2.5-2.2 2.5 2.4 2.5-.4 2.5 .4 2.5-.7 2.5 0 2.5 .4 2.5-.5 2.5-1 2.5-.3 2.5-1.4 2.5 .8 2.5-1.1 2.5 .3 2.5 1 2.5 1.1 2.5 1.8 2.5 .8 2.5-.8 2.5 .2 2.5-1.2 2.5 1.4 2.5 1.2 2.5-.9 2.5-.9 2.5-.9 2.5 .1 2.5 .6 2.5-.2 2.5-.3 2.5-.1 2.5 .3 2.5-.1 2.5-.5 2.5 .3 2.5-.1 2.5 .2 2.5-1.1 2.5 1.5 2.5 .1 2.5-.5 2.5-.4 2.5 .2 2.5 2.8 2.5 2.8 2.5 1.9 2.5-6.2 2.5-.4 2.5 .2 2.5 1.3 2.5-1 2.5 .3 2.5 .3 2.5 .8 2.5 3.4 2.5 4.9 2.5 1.2 2.5-6.5 2.5-3.3 2.5-1.7 2.5 .6 2.5 .4 2.5-1.9 2.5 1.4 2.5-2.1 2.5 2.4 2.5-1.1 2.5 .7 2.5 2 2.5-.5 2.5 .6 2.5 0 2.5 6.8 2.5-.6 2.5 1 2.5-1.8 2.5 1.3 2.5-.7 2.5 .5 2.5-.8 2.5 .1 2.5-.1 2.5-1.1 2.5 1.9 2.5-1.7 2.5-.7 2.5 .8" fill="none" stroke="#0000ff" stroke-width="2.4" stroke-linejoin="round"/>
<path d="M923.5 83.1l2.5-.2 2.5 .2 2.5-.4 2.5-.1 2.5 1.5 2.5 .5 2.5-1.9 2.5-3.1 2.5-2.9 2.5 .1 2.5 2.8 2.5 .8 2.5-.8 2.5 1.1 2.5-1.2 2.5 .1 2.5-.8 2.5-1.4 2.5-1.8 2.5 .6 2.5-1.4 2.5-1 2.5 1.8 2.5 2.5 2.5 .4 2.5 .9 2.5-1.7 2.5 .5 2.5-1.3 2.5-.3 2.5-.8 2.5 1.6 2.5 .3 2.5 .1 2.5 .5 2.5-.8 2.5-2.1 2.5-.8 2.5 .6 2.5 0 2.5-.4 2.5-4.1 2.5-3.5 2.5-.3 2.5-.3 2.5-.3 2.5-1.5 2.5 .8 2.5-2.7 2.5-1.7 2.5-1.3 2.5-1.9 2.5 .6 2.5 .7 2.5-.8 2.5 .7 2.5 0 2.5 1.1 2.5-1 2.5-1.2 2.5 1.5 2.5 1 2.5 1.2 2.5 1.1 2.5 .8 2.5 .3 2.5 .3 2.5 .6 2.5 2 2.5 3 2.5-4.5 2.5-4.6 2.5-2.4 2.5 .6 2.5-2.2 2.5-1.1 2.5-2.8 2.5 1.7 2.5-1.7 2.5-1.3 2.5 .9 2.5-.4 2.5-.9 2.5 1.2 2.5-.4 2.5-.2 2.5-.9 2.5-.3 2.5 2 2.5-1.1 2.5 .8 2.5-.8 2.5 2.4 2.5 0 2.5-.2 2.5 1.4 2.5 .1 2.5-.8 2.5 1.5 2.5-1.5 2.5 1.8 2.5-1 2.5-1.3 2.5-.4 2.5 2.4 2.5 1.3 2.5 1.3 2.5 .5 2.5 .5 2.5-1.6 2.5 2.8 2.5-.6 2.5-.6 2.5 6.1 2.5 8.1 2.5 2.7 2.5-.4 2.5-.5 2.5-1 2.5-.2 2.5-1 2.5-.7 2.5-.2 2.5 .7 2.5 .7 2.5-1.1 2.5-1.2 2.5 1.4 2.5 .4 2.5-.5 2.5-.6 2.5-.7 2.5 1 2.5 .2 2.5 0 2.5 0 2.5 1.5 2.5-1.8 2.5 1.4 2.5-1.5 2.5 1.1 2.5 .3 2.5 .5 2.5-.9 2.5 .2 2.5 .2 2.5 .7 2.5 1.6 2.5-1.3 2.5 .5 2.5 1 2.5 1 2.5 .1 2.5-.8 2.5-1.3 2.5 1.8 2.5 .2 2.5 .2 2.5-1.1 2.5 .2 2.5 .2 2.5-.6 2.5-1.1 2.5 0 2.5-1.1 2.5 .6 2.5-1.2 2.5 .5 2.5 .7 2.5 .9 2.5 2 2.5 .3 2.5 .1 2.5-.9 2.5-.4 2.5 .7 2.5 1.7 2.5-.8 2.5-.6 2.5-.7 2.5-.5 2.5 .9 2.5-.2 2.5-.4 2.5-.2 2.5-.2 2.5-.1 2.5 .2 2.5 1.1 2.5-1.1 2.5 .2 2.5-.8 2.5 .6 2.5 1.3 2.5-.4 2.5-.5 2.5-.2 2.5 2.9 2.5 2.6 2.5 1.6 2.5-5.4 2.5-.8 2.5 .1 2.5 1.5 2.5-1 2.5-.8 2.5 .9 2.5 1 2.5 3.6 2.5 4.4 2.5 1.8 2.5-6.8 2.5-2.7 2.5-1.8 2.5 .3 2.5 .1 2.5-1.6 2.5 1.6 2.5-2 2.5 1.8 2.5-1.2 2.5 .9 2.5 1.5 2.5-.8 2.5 .5 2.5 .6 2.5 6 2.5-1.2 2.5 .8 2.5-1.2 2.5 1.6 2.5-1.1 2.5 .6 2.5-1 2.5 .3 2.5-.5 2.5-.5 2.5 1.3 2.5-1.4 2.5-1.2 2.5 .7" fill="none" stroke="#ff00ff" stroke-width="2.4" stroke-linejoin="round"/>
<path d="M923 497l.5-9.7 .5 5.2 .5 3.6 .5 3.6 .5 .3 .5-3 .5-7.7 .5 2.5 .5 9 .5-6.2 .5-3.1 .5-.6 .5 2.5 .5-2.9 .5-7 .5 3.2 .5 6.1 .5-3.6 .5-5.5 .5 11.2 .5 1.4 .5-9.7 .5 7 .5-1.3 .5-2.3 .5 4.7 .5 .6 .5 1 .5 .2 .5-2.4 .5-2.7 .5 8.4 .5 .5 .5-7.2 .5-9.7 .5 7.1 .5-2.2 .5-1.4 .5-3.7 .5-2.1 .5-.6 .5-.9 .5 5.8 .5 .3 .5 3.5 .5-5.6 .5 1.7 .5 .8 .5-1.2 .5 .7 .5 2.4 .5 .3 .5 2.4 .5 2 .5-.6 .5-.1 .5 .7 .5 1.1 .5-.5 .5-.9 .5 .8 .5 0 .5 0 .5-1.2 .5 .4 .5 1 .5-2.4 .5 .4 .5 1.3 .5 .5 .5-.7 .5 1 .5-2.8 .5 1.3 .5 0 .5 .5 .5-1.5 .5 2.4 .5-1.9 .5-.6 .5-.3 .5 2 .5-.5 .5-6 .5 5.8 .5-10.4 .5 0 .5-1.7 .5 2.7 .5-4.8 .5 5.2 .5-6.5 .5 6.7 .5-4.2 .5-4.1 .5-.4 .5-2.5 .5-3.1 .5-.4 .5 5.2 .5-.3 .5 10.5 .5-7.6 .5-6.1 .5 10.3 .5-1.4 .5 7.3 .5 2 .5-3.3 .5-6.2 .5-3.6 .5-1.9 .5-2.5 .5-1.9 .5-2.1 .5 4.5 .5 2.6 .5 1.7 .5-5.6 .5 3.7 .5 4 .5 1.3 .5-1.1 .5 5.5 .5-3.8 .5-3.7 .5 2.3 .5 .8 .5-4.3 .5 5.6 .5-5.9 .5-.8 .5 6.1 .5-3.6 .5 2.7 .5-3.3 .5-2.1 .5 11.7 .5-9.5 .5-2.1 .5 1.6 .5 1.4 .5-.4 .5 1.1 .5-4 .5 3.6 .5-3.5 .5-2.1 .5 3.5 .5-1.3 .5 .1 .5 3.1 .5-3.2 .5-1.8 .5 .9 .5 3.6 .5-5.6 .5-.6 .5-3.9 .5 8.9 .5-8.5 .5 1.9 .5-1.3 .5-6 .5 7.1 .5-3.6 .5 9.7 .5-1.7 .5 2.7 .5-3.6 .5 5.1 .5-.9 .5 4 .5-4.2 .5 5.3 .5 1.3 .5-7.5 .5-.6 .5 2 .5-5.9 .5-.3 .5-3.1 .5 4.6 .5 1.6 .5-3.2 .5 4.3 .5-12 .5-.3 .5-2.9 .5-1.2 .5 4.9 .5-.9 .5-2.5 .5 5.1 .5-8.1 .5 4.7 .5 6.9 .5-2.4 .5-1 .5 9 .5-11.2 .5 6.7 .5 8.9 .5-3.6 .5-10.9 .5 0 .5-2.2 .5-1.8 .5-3.1 .5-4.5 .5-9 .5 4.6 .5-4.8 .5 8.9 .5-25.2 .5 9.4 .5 2.4 .5 6.3 .5-16.5 .5 7.5 .5-11.5 .3-3.8 .2 15.8 .5 3.5 .5 6.6 .5 11.1 .5-2.5 .5 1.8 .5 .3 .5 2.7 .5-14.4 .5 1.4 .5-9.6 .5 6 .5-1.5 .5-10.3 .5-12.8 .2-3.1 .3 13.5 .5 2.6 .5 11.8 .5 6.1 .5 .2 .5 6.1 .5 13 .5-12.5 .5 9.4 .5-9.2 .5-7.5 .5 15.4 .5-14.7 .5 3.8 .5-2.9 .5 .5 .5 1.4 .5 3.7 0-71.9 .5 73.8 .5-3.1 .5 1.6 .5-7.1 .5 4.6 .5 1 .5-10.7 .5 1.4 .5 5.3 .5-15.2 .5 4.1 .5-9.4 .5-4.7 .5 .8 .5-1.5 .5 3.1 .5-5.1 .5 15 .5-9.9 .5 14.7 .5-12.6 .5-21.9 .5-.8 .5 1.2 .5-5.1 .5 7.3 .5-3.3 .5-.6 .5 9.9 .5-5.5 .5 0 .5-2.7 .5 4.1 .5 0 .5-8.2 .5 10.9 .5 3.5 .5-1 .5-6.7 .5 1.5 .5-2.1 .5 .8 .5-.5 .5 7.2 .5-6 .5 1 .5 2.1 .5-10.8 .5 13.6 .5-9.9 .5 1.6 .5 .2 .5-6.7 .5 3.4 .5 1.7 .5-.1 .5 4.3 .5 3.8 .5-12.2 .5 5.3 .5 .7 .5 .1 .5 6.4 .5-7.2 .5 .7 .5 4.9 .5-4.3 .5 .5 .5 5.9 .5-11 .5 12.9 .5-11 .5 5.9 .5 4.5 .5 2.7 .5 1.9 .5 2.8 .5 .3 .5-2.3 .5-9.3 .5 12.8 .5 .9 .5 8 .5-7.2 .5 9.8 .5 1.4 .5 1.1 .5-17 .5 15.1 .5-2.8 .5 7.6 .5 2.5 .5-9.4 .5 3.7 .5 8.2 .5 3.4 .5 .3 .5-4.2 .5-1.3 .5-15.4 .5-1.4 .5-11.2 .5 4.4 .5-15.2 .5-3.3 .5 .5 .5-5.2 .5 5 .5-10.8 .5 .8 .5 3.6 .5-6.7 .5 5 .5-4.7 .5 4.6 .5-9.2 .5-8.4 .5 6.9 .5-7.3 .5-5.6 .5 4.9 .5 4.8 .5 1.4 .5-4 .5-3.6 .5 2.2 .5-4.6 .5-7 .5 11.7 .5-12.1 .5 6.2 .5 7.9 .5 .1 .5-10.6 .5 9.9 .5-14.3 .5-2.2 .5 6.9 .5-2.4 .5-3.4 .5-3.1 .5 .9 .5 7.8 .5-5.5 .5 2.8 .5 3.1 .5-7.6 .5 6.9 .5 3.7 0-33.2 .5 31.2 .5 1.8 .5-1.4 .5 1.9 .5-6.8 .5 2.4 .5 13 .5-3.1 .5-11.4 .5 .8 .5 .6 .5 7.5 .5 .3 .5 3.2 .5-3.5 .5-3.7 .5 1.7 .5 10 .5 1.1 .5-.3 .5-6.9 .5 10.7 .5-1.7 .5 3.3 .5 1.8 .5-2.1 .5 2.7 .5-2.9 .5 3.4 .5-1.4 .5 9 .5-5.7 .5 4.6 .5 5.2 .5-8.6 .5 2.6 .5 3.3 .5-4.1 .5-5.2 .5-7.6 .5-12.9 .5 10.5 .5-9.3 .5 5.8 .5-.9 .5-7.2 .5 7.8 .5 1.1 .5 .9 .5 3.5 .5-11.2 .5 10.6 .5-1 .5-.8 .5 6.4 .5-12 .5 17.8 .5-13.8 .5 7 .5 1.8 .5 .2 .5-12.2 .5 17.7 .5-12.3 .5 9.6 .5-1.4 .5 3.1 .5 5.1 .5-7.6 .5 5.3 .5 3.5 .5-.5 .5-7.9 .5 7.4 .5-2.3 .5-.3 .5-3.3 .5 7.9 .5 .9 .5 .4 .5 .6 .5 7.7 .5 2.2 .5-1.8 .5-5.7 .5 6.4 .5-9.5 .5 5.5 .5 9.9 .5-15.7 .5 .5 .5 4.2 .5 1.8 .5-7.2 .5-4.2 .5 2.2 .5-1.8 .5-1.8 .5 9.4 .5 2.6 .5-15.2 .5 6.3 .5-5 .5 5.4 .5-.6 .5-8.2 .5 8.2 .5-5.9 .5 9.4 .5-11.2 .5 2.5 .5-2.9 .5-4.8 .5 10.6 .5-8.3 .5-3.4 .5 6.6 .5 14.1 .3-22.2 .2 28.1 .5 3.6 .5 1.2 .5-4.5 .5-1.7 .5 5.6 .5 7 .5-.1 .5-6.5 .5-1.1 .5 6.4 .5-7.9 .5 1.3 .5-1.7 .5 .6 .5-4.6 .5-2.2 .5-1.5 .5 .3 .5 .2 .5-4.2 .5-12.4 .5 7.5 .5-3.3 .5 9.2 .5-.4 .5-8.3 .5 7.4 .5-3.3 .5-.5 .5 4.8 .5 8.9 .5-7.6 .5-6 .5 .5 .5 4.2 .5 2.2 .5-2.7 .5 3.5 .5 1 .5 .4 .5 5 .5-7.5 .5 .2 .5 3.1 .5 7.7 .5 5.8 .5-13.1 .5 5.5 .5 6.6 .5 4.3 .5 3 .5 2.4 .5 10.3 .5 1.9 .5 4.6 .5 8.3 .5 8.4 .5 6.5 .5 3.2 .5-4.9 .5 6.2 .5-6.2 .5-.2 .5-3.3 .5 3.2 .5-2.3 .5-4.2 .5 5.1 .5-1.3 .5-1.4 .5 5.1 .5-5.7 .5 2.3 .5-4.9 .5-4.2 .5 .2 .5-2 .5-3.1 .5-2 .5 2.6 .5-.4 .5-6.8 .5 1.6 .5 3.7 .2-14.2 .3 8.8 .5 2 .5 1.2 .5-.4 .5 6.9 .5 2.8 .5-1.5 .5-.4 .5-3.4 .5 5 .5 3.1 .5 1 .5-1.3 .5-7.2 .5 2.1 .5 6.1 .5-6.4 .5 1.2 .5-5.4 .5 1.2 .5 .5 .5 1.8 .5 .2 .5 6.6 .5-6.9 .5-3.4 .5 4 .5 3.6 .5-4.1 .5 7.8 .5-4.7 .5-.2 .5 2.7 .5-1 .5-6.6 .5 6.8 .5-3.4 .5 3.9 .5 .4 .5 .6 .5-2.6 .5 1.1 .5-3.6 .5-1.4 .5-1.6 .5 4.7 .5-2.6 .5 2.3 .5-5.4 .5 .2 .5 3.8 .5 .9 .5 2 .5-1 .5-.3 .5-2.4 .5 5.2 .5-1.3 .5 .3 .5-1 .5-8.5 .5 3.5 .5 3.6 .5 3.2 .5-11.3 .5 6.5 .5-.9 .5-1 .5 2.7 .5 2.5 .5-3.5 .5 4.2 .5-9 .5 1.5 .5 2.3 .5 9.6 .5-12.7 .5 9.3 .5-10.9 .5 3.2 .5-.2 .5 3.6 .5-.1 .5 4.1 .5-7.5 .5 1.2 .5 2.1 .5-1.4 .5-1.1 .5-3 .5 5.8 .5-7.5 .5 7.5 .5-1.5 .5-.1 .5 4 .5-.5 .5-5.7 .5 2.3 .5 2.2 .5-1 .5-6.3 .5-1.4 .5 3.3 .5 1.1 .5 2.3 .5-1.8 .5 .9 .5-1.5 .5 3 .5-1.6 .5-3.5 .5 1.2 .5-1.5 .5 0 .5 1.8 .5-1.1 .5 3.1 .5-10.9 .5 6.8 .5-.7 .5-2.8 .5 10.6 .5-1.8 .5 6.2 .5-.9 .5-.9 .5 .6 .5 4.3 .5-8.2 .5 5.5 .5-1.8 .5 4.8 .5-6.1 .5 3.1 .5 .3 .5-1 .5-.5 .5 .1 .5 2.4 .5 6.1 .5-5.7 .5-2 .5 3.4 .5-2.2 .5 5.3 .5-6.1 .5-5.4 .5 4.3 .5 3.7 .5 2.9 .5-1.8 .5 4 .5-6.1 .5 5.4 .5-1.9 .5-.8 .5-.3 .5-.7 .5 3.9 .5 1.7 .5 2 .5-12.8 .5 1.9 .5 4.2 .5-.3 .5-7.9 .5 4.9 .5 1.5 .5-1 .5-4.8 .5 4.7 .5-1.5 .5-1 .5-2.9 .5 2.1 .5 6.8 .5-5.7 .5-2 .5-.4 .5 2.8 .5-2.1 .5-2.5 .5 2.1 .5-2.1 .5-3.3 .5 2.7 .5-2.3 .5 .2 .5 1.4 .5 1.5 .5-3.9 .5 3.9 .5-4 .5 2.7 .5-1.2 .5-4.5 .5 5.3 .5 .8 .5-2.8 .5-3.5 .5 3.9 .5-4.9 .5 3 .5 5.6 .5-4.3 .5-2.6 .5 5.8 .5-1.9 .5-3.5 .5 .4 .5 1.3 .5-4.3 .5 4.3 .5-6.3 .5 6.4 .5-2.1 .5-1.8 .5 .9 .5 2.2 .5-2.1 .5-3.3 .5 .2 .5 12.2 .5-7.3 .5-.1 .5-2.8 .5-.3 .5 3.1 .5-1.7 .5 .7 .5 2 .5-.9 .5 3.4 .5 3.5 .5-6 .5 0 .5-.9 .5 4.1 .5 2.1 .5 .7 .5 .2 .5-1.1 .5 3.9 .5-1.9 .5-5.4 .5 2.3 .5 1.2 .5 .8 .5 7.8 .5-8.1 .5-3.2 .5 9.3 .5 2 .5-4.3 .5 2 .5 3.4 .5-8.6 .5 7.9 .5-1.1 .5-1 .5-9.6 .5 9 .5-.8 .5 6.2 .5-3.8 .5-1.7 .5 .5 .5-2.5 .5 .7 .5 1 .5 2.2 .5-6 .5 7.3 .5-4.2 .5 9.3 .5-6.1 .5-3.5 .5 6.5 .5 0 .5-3.5 .5 2.6 .5-6.6 .5 8.9 .5-4.8 .5 1.8 .5-7.2 .5 3.3 .5 1.6 .5 2.9 .5-3.1 .5 .4 .5-1.2 .5 .7 .5 4 .5-7 .5 .7 .5 11.9 .5-7.6 .5-4.2 .5 2.3 .5-1.1 .5 3 .5 .6 .5-3.5 .5-1.6 .5-3.6 .5 10.1 .5-4.3 .5 1.2 .5-2.3 .5 2.8 .5-2 .5 1.9 .5 5.2 .5-3.8 .5-5.7 .5 4.1 .5-4 .5 7.6 .5-6.3 .5 2.5 .5 2.2 .5-2.4 .5 0 .5-7.5 .5 5.1 .5 6.6 .5-8 .5 6.7 .5-5.4 .5 4 .5-2.8 .5 7.3 .5-5.4 .5-3.2 .5 1.7 .5-4.4 .5 1.6 .5 5.9 .5-.6 .5-.1 .5-5.2 .5 6.9 .5-1.1 .5-5.4 .5 1.7 .5 2.3 .5 4.8 .5-6.3 .5 .2 .5 3.5 .5-3.8 .5 3.3 .5-3.9 .5 1.4 .5 1.9 .5-1.6 .5 .4 .5 .3 .5-3.2 .5 4.2 .5-2.5 .5-5.4 .5 4.5 .5 3.3 .5-.2 .5-.3 .5-.9 .5 6.3 .5-4.4 .5 1.2 .5 .9 .5 2.6 .5-11.4 .5 9.1 .5-3.9 .5 .5 .5 2.8 .5 5.2 .5-5.4 .5 4.4 .5-4.6 .5 .8 .5-2.4 .5 4.6 .5-.2 .5-2.1 .5 .9 .5-2 .5-4.1 .5 .2 .5 6.5 .5-4.6 .5-.6 .5 4.2 .5-1.1 .5 2 .5-5 .5 .9 .5 .6 .5-7.6 .5 4.6 .5 3.4 .5 .3 .5-5.8 .5-1 .5 7.8 .5-10.1 .5 3.1 .5 .3 .5 .6 .5-4.1 .5 3.8 .5 1.4 .5 1.7 .5-8.3 .5 9.8 .5-3.1 .5 2.2 .5-3.9 .5-.5 .5 .3 .5-2.4 .5 4.2 .5-1 .5-1.2 .5 3 .5 .8 .5-1.2 .5-6.3 .5 4.7 .5-1.2 .5-2.1 0-20.4 .5 20.4 .5 3.5 .5-7.8 .5 2.4 .5 2.6 .5 6.1 .5 3.7 .5-2.8 .5 4.6 0 9.8 .5-9.4 .5 1.7 .5-1.9 .5-4.3 .5 5.4 .5 1.2 .5-5.1 .5 1 .5-1.6 .5 4.4 .5-1 .5-.3 .5 .4 .5-1.7 .5 2.7 .5-6.7 .5 1.7 .5 3 .5 2.2 .5-4.8 .5 1.2 .5 .4 .5-7 .5 8.1 .5 2.5 .5-3.2 .5-.3 .5-1.4 .5 1.2 .5-2.7 .5 1.7 .5-1.3 .5 3.6 .5-5.1 .5 3.2 .5-2.3 .5-2.5 .5 .8 .5 6.1 .5-7.1 .5-1.6 .5 2.1 .5 1.3 .5-3.2 .5-2.6 .5 2.4 .5 .7 .5-2.9 .5 1.7 .5 2.7 .5-6.6 .5-.1 .5 .5 .5 .8 .5-2.6 .5-.9 .5 5.5 .5-.5 .5-5.1 .5 3.6 .5 4.9 .5-6.7 .5 1.8 .5 2.4 .5-7.6 .5 9.1 .5-2.1 .5 3 .5-4.9 .5 5.2 .5-4 .5 7.4 .5-6.1 .5 2 .5 .1 .5-3.9 .5 5.2 .5-3.8 .5 4.4 .5 1.3 .5 1.8 .5 10.2 .5 1 .5 .8 .5 10.3 .5 1.6 .5-4.8 .5 6.4 .5-1 .5-2.3 .5-1 .5-.1 .5 1 .5 4.5 .5-5.2 .5 5.5 .5-1.4 .5-1.8 .5-1.4 .5 4.1 .5-1 .5-5.5 .5 5.1 .5-3.7 .5 4.2 .5-.3 .5 1.7 .5 .2 .5-1.6 .5 .1 .5 2.2 .5-6.8 .5-1.1 .5-1.3 .5 5.5 0 15.9 .5-18.5 .5 6.3 .5-3.9 .5-.3 0-13.6 .5 8.4 .5 9.2 .5-5.5 .5 3.9 .5 0 .5 .3 .5 .5 .5-2.2 .5-1.1 .5-.7 .5-3.8 .5 6.6 .5 1.9 .5-.9 .5 .3 .5 1.5 .5-3.3 .5 1.8 .5 1 .5-2.2 .5 1.6 .5-7.1 .5 6.3 .5 4.2 .5 .6 .5-4.4 .5 .1 .5 1.7 .5-.3 .5-1.9 .5 3.9 .5-2.4 .5-2.6 .5 2.7 .5-2.8 .5 .9 .5 1.7 .5 .7 .5-3.8 .5 2 .5-.9 .5 3.8" fill="none" stroke="#000" stroke-width="2.4" stroke-linejoin="round"/>
<path d="M923 727.1l.5 .9 .5 .6 .5 .5 .5 .1 .5 1.5 .5-2.4 .5 .9 .5 1.3 .5-2.5 .5 1.8 .5 3.5 .5-5.3 .5 1.6 .5 2.6 .5-4.7 .5 0 .5 3 .5-1.4 .5-1 .5-.6 .5 2.8 .5 0 .5 0 .5-.4 .5 .2 .5 .4 .5-.8 .5-1 .5 .4 .5 2.3 .5-3.5 .5 .5 .5 3.2 .5 .6 .5-4.3 .5 4.1 .5-7.2 .5 1.6 .5 .8 .5-2.5 .5-.8 .5 1.6 .5-3.2 .5 1.1 .5-6.3 .5 5.9 .5-2.9 .5 .6 .5 .2 .5-4.2 .5 3.7 .5-.9 .5 2.9 .5-.8 .5 2.5 .5-4.5 .5 4.4 .5-4.4 .5-1.4 .5 3.3 .5-1 .5-2 .5-1.5 .5 3.4 .5 2.7 .5-.3 .5-2.9 .5-3.5 .5 4.5 .5-2.7 .5 1.3 .5 1 .5 1.6 .5 1 .5-.9 .5-2.6 .5 2.6 .5-2 .5-.5 .5 2.4 .5-2.9 .5-2.7 .5-1.3 .5 1.2 .5-3.7 .5 2.1 .5-2.5 .5-.3 .5-1.2 .5 1.8 .5-5 .5 6.6 .5-4.5 .5 3.4 .5-2.7 .5-1.4 .5 .6 .5-1.4 .5 2.8 .5 1.6 .5-.2 .5-4 .5 1.8 .5 2.1 .5 .2 .5-4 .5 3.1 .5-1 .5-2.3 .5 3.5 .5 1 .5-1 .5-.2 .5-1.2 .5 .2 .5 4.6 .5 3.6 .5 4.2 .5 2.4 .5-.4 .5 .5 .5 .2 .5-.8 .5-1.2 .5 3.3 .5-4.1 .5-.2 .5 3.2 .5-3.5 .5-1.2 .5 4.9 .5-1.7 .5-.6 .5-1.5 .5 4.5 .5-2.5 .5 2.5 .5 1 .5-3.4 .5-3.7 .5-2.6 .5-1.4 .5-4.4 .5-2 .5 1.2 .5-1.7 .5 1.2 .5 .9 .5-2.2 .5 1 .5-1.6 .5 1.9 .5 1.4 .5-1.9 .5 .3 .5 1.6 .5-2.2 .5 2.5 .5 1.6 .5-1.2 .5 4.4 .5-2.8 .5-1.9 .5 1.6 .5-.3 .5-1.4 .5-1.9 .5 3.5 .5-.6 .5 1 .5-4.6 .5-.6 .5-3.3 .5-3 .5 .7 .5-.5 .5 2.2 .5 2.9 .5-5.3 .5-.9 .5 .9 .5 5.9 .5-6.4 .5-.5 .5 2.9 .5-.3 .5 2.4 .5-4.3 .5 2.8 .5 2.2 .5-3.6 .5 .4 .5-1 .5 0 .5 1.5 .5-1.2 .5 .1 .5-.5 .5 2.2 .5 2.5 .5-2.4 .5-1.8 .5 2.6 .5 1.1 .5-5.6 .5 4.4 .5-.7 .5-4.6 .5 2.7 .5-1.2 .5 .9 .5 .3 .5-1.6 .5-.2 .5-1.1 .5-1.6 .5 4.9 .5-2 .5-.9 .5-2 .5-1.2 .5-1.8 .5-1.9 .5 .9 .5 .6 .5-3.5 .5 1.6 .5-4.1 .5 1.7 .5 2 .5 2.6 .5-3.2 .5-2.2 .5 1.3 .5 .9 .5 4.5 .5-6.9 .5-2.2 .5 4.1 .5-.4 .5 1.4 .5-2.5 .5 1 .5-1 .5-.1 .5 .8 .5 1.8 .5-2.2 .5 1.2 .5 1.8 .5-1.9 .5-1.9 .5 1.5 .5 .8 .5-1.4 .5 2.1 .5-1.3 .5 2.9 .5-3.6 .5 3 .5-3 .5 5.2 .5-1.6 .5-2.2 .5-.6 .5 2 .5-.1 .5-.1 .5-1.3 .5 .5 .5 .6 .5 0 .5 6 .5-6.4 .5 1.6 .5 0 .5-1.8 .5 1.6 .5 1.2 .5-.9 .5 1.4 .5 .1 .5 1.1 .5 2.2 .5-4.3 .5-.9 .5 .2 .5 1.1 .5-1.5 .5-.6 .5 .4 .5 1.2 .5 2.4 .5-2.4 .5-2.3 .5 4.4 .5-1.3 .5-.4 .5-.4 .5 .1 .5 1.1 .5 2.6 .5-3.5 .5 1 .5 1.5 .5-2.7 .5 .2 .5 .4 .5-.5 .5 3.2 .5 1.5 .5-2 .5 1 .5-3.7 .5-2 .5 4.8 .5 1.1 .5-4.3 .5-.3 .5 2.7 .5-.5 .5 4.9 .5-4.5 .5-.7 .5 .6 .5 2 .5-.1 .5-.6 .5-2.1 .5 4.5 .5-2.4 .5-1.5 .5 .9 .5 1.2 .5 .2 .5 .5 .5-1.3 .5 .3 .5-1.9 .5 2.4 .5 1.3 .5 1.4 .5-4.3 .5 .8 .5 0 .5-2.6 .5 4.1 .5-.5 .5 1.8 .5-.8 .5-2.1 .5 4 .5-3.5 .5 4.4 .5-5.1 .5-.8 .5-2.6 .5-2 .5-4.2 .5 .1 .5-1.5 .3 .2 .2-.3 .5-5.2 .5 3.6 .5-5.6 .5 2.8 .5-3.2 .5 .8 .5-.9 .5-3.1 .5 3.1 .5-3.8 .5-.6 .5-1.2 0-4.4 .5 4.5 .5 3.8 .5-.2 .5-1.2 .5 2.2 .5 1.1 0-15.2 .5 15.8 .5-.9 .5 .6 .5 1.2 .5-.7 .5-.8 .5 2.3 .5-3.7 .5 3.1 .5-1.6 .5 5.2 .5-2.8 .5-3.2 .5 2.6 .5-2.3 .5-.6 .5-1.1 .5 1.5 .5-2.5 .5 5.7 .5-3.1 .5-2 .5 3.5 .5-6.9 0-1.3 .5 11.7 .5-3.9 .5 .4 .5-.5 .5 .9 .5-3.1 .5 1 .5-1.5 .5 2.7 .5-10.8 .5 7.3 .5 1.2 .5 .9 .5-4.5 .5 4 .5-1.8 .5-1.1 .5 .3 .5-.7 .5 3.1 .5-4.7 .5 7.3 .5-1.2 .5-5.3 .5-2.6 .5 2.8 .5-.1 .5-.4 .5 5 .5-4 .5 .8 .5-2.5 .5 4.4 .5 1.8 .5-1.8 .5-4.1 .5 7.2 .5-4.3 .5 3 .5-3.2 .5-1.2 .5 1.8 .5-1.2 .5-2.3 .5 4.4 .5-1 .5 5 .5-8.4 .5 2.7 .5 5.2 .5-1.7 .5 1.2 .5-2.8 .5-.7 .5 2.9 .5 1.1 .5-3.8 .5 4.6 .5-2.2 .5-3.1 .5 4.5 .5-6 .5 .7 .5 3.5 .5-1.5 .5-1 .5-2.2 .5 .6 .5 4 .5-.3 .5-3.7 .5 3.9 .5-3.1 .5 1.1 .5 .8 .5 .6 .5 6.5 .5-2.1 .5 2.3 .5-.1 .5-2 .5 5.3 .5-2.6 .5 6.7 .5-.6 .5-5.2 .5 1.1 .5-.7 .5 2.8 .5-1 .5-3.4 .5 1.1 .5-.1 .5 1.9 .5-.1 .5 2.1 .5-6.2 .5 4.3 .5-3.7 .5-3.3 .5 3.1 .5-3.1 .5 2.8 .5-2.9 .5 2.3 .5-.2 .5 .2 .5-4 .5 2.6 .5 1.2 .5-5.3 .5-.5 .5 1.6 .5 .9 .5-1.9 .5-1.3 .5 0 .5-.5 .5 1.8 .5-.8 .5 2.2 .5-8.1 .5 1 .5 4.4 .5 .5 .5-1.7 .5-1.7 .5 1.9 .5 2.3 .5-2.8 .5 1.4 .5-3.2 .5 4.1 .5 5.1 .5-1.4 .5-4.9 .5 .8 .5-3.9 .5-2.3 .5 .8 .5 2.3 .5 2.6 .5 1.2 .5-4.1 .5 1.7 .5 5.2 .5-3.8 .5 1.7 .5-.8 .5 1.2 .5-.7 .5 3.2 .5-2 .5 4.7 .5-5.2 .5 4 .5-5.7 .5 2.2 .5-1.8 .5 2.8 .5-4.9 .5 2.2 .5 6.8 .5-5.1 .5 .1 .5 1.8 .5 1 .5-4.6 .5 4.3 .5-1.3 .5-3.8 .5-3.8 .5-2.5 .5-4.2 .5-6.5 .5 .7 .5-1.3 .5 .7 .5 1.7 .5 .5 .5 .1 .5-4.3 .5 7.2 .5 0 .5-.3 .5-2.9 .5 1.4 .5-5.9 .5 7.3 .5-.4 .5 1.9 .5-2.3 .5 1.9 .5-.1 .5-3.5 .5 2.2 .5-1.7 .5 1.8 .5 1.7 .5 .8 .5 0 .5-.1 .5-4.6 .5 7.9 .5-.9 .5-4.9 .5 2.9 .5 3.2 .5-2.4 .5 2.5 .5-.5 .5-3.3 .5 1.7 .5-1.1 .5-1.6 .5 3.5 .5-5.9 .5 4.5 .5-4.2 .5 3.8 .5 3.8 .5-5.4 .5-1.6 .5-5.8 .5 4.7 .5 1.8 .5-1.2 .5 1.3 .5-2.4 .5-2.6 .5 .4 .5-1.1 .5 2.1 .5 3.6 .5 0 .5-.3 .5-2.5 .5 1 .5-2.2 .5 0 .5-1.5 .5-.3 .5 2.1 .5 2.4 .5-5.2 .5 3.6 .5-1.3 .5 1.6 .5-.4 .5-1.1 .5-.3 .5-4.2 .5 7.7 .5-3.7 .5 3 .5-2.3 .5 1.9 .5 .1 .5-.3 .5-.3 .5 .1 .5-.9 .5-.9 .5 .8 .5-4.2 .5 5.2 .5 2 .5-1 .5 2.9 .5-2.8 .5-4.1 .5 4.1 .5 1.5 .5 .2 .5 .1 .5-5.4 .5 5.9 .5-.8 .5-3.7 .5 4 .5 5.8 .5-9.9 .5 .2 .5 .3 .5-.6 .5-.6 .5-1.4 .5 2.1 .5 3.1 .5 .2 .5-4.6 .5 1.7 .5-4.4 .5 3.1 .5-2.2 .5 4.1 .5-3.9 .5 0 .5-.2 .5 .6 .5 1 .5 1.6 .5-4.1 .5 1.1 .5 0 .5-1.3 .5 2.3 .5-4.3 .5 5.4 .5-5.1 .5 0 .5 1.4 .5 1.9 .5 .9 .5-2.5 .5 .2 .5-1.1 .5-1.6 .5 5.4 .5-1.4 .5-5.6 .5 3.8 .5 .4 .5 3.3 .5-5 .5 .6 .5 .1 .5-.6 .5-6.3 .5 4.9 .5-.4 .5 1 .5-2.1 .5 4.7 .5-4.1 .5-2.4 .5 4.7 .5-1.9 .5-3.7 .5-2.4 .5 7 .5-4.3 .5 1 .5 .2 .5-.3 .5-2.6 .5 3.2 .5-3.5 .5 2.7 .5-3.7 .5 .7 .5 1 .5-2.4 .5-2 .5 2.6 .5-1.5 .5 .3 .5-.4 .5-.7 .5 2.2 .5-.6 .5-1.2 .5 1.2 .5 1.4 .5-4.8 .5 4.6 .5-3.2 .5 0 .5 1.8 .5 3 .5-3.1 .5 2.5 .5-2.8 .5-1.7 .5 2.1 .5-2.2 .5 5 .5-1.7 .5 1.2 .5-1.9 .5-.6 .5 1.3 .5 4.2 .5 3.5 .5-3.2 .5 2.8 .5 2.8 .5 1.8 .5-1.7 .5 2.8 0 1.4 .5-9.6 .5 3.4 .5-6.2 .5 3.6 .5-3.9 .5-.1 .5 .2 .5-3.8 .5-5.8 .5 5.6 .5-5.7 .5 1.7 .5-2.5 .5-1.5 .5 .7 .5-1.2 .5 3.2 .5-3.5 .5-2 .5 4.3 .5-.5 .5-5 .5 1.4 .5-.7 .5-4 .5 3.4 .5-.8 .5-.8 .5-2.5 .5 4 .5-7.4 .5 10.9 .5-5.2 .5 1.6 .5-.1 .5 6 .5-3 .5-.2 .5-3 .5 6.3 .5-.1 .5 2.2 .5-2.5 .5-1.6 .5 6.3 .5-2 .5 1 .5-3.7 .5-1.2 .5-2.2 .5 3.9 .5 4.1 .5-6.7 .5 .9 .5-.7 .5 2.8 .5 1.1 .5 .6 .5-5.4 .5 3.4 .5-1.3 .5 1.9 .5 .6 .5-5.4 .5-.6 .5 5.5 .5 1.5 .5-4.8 .5 .4 .5 1.3 .5 .5 .5-3.3 .5-.2 .5-1.6 .5 4 .5-.9 .5-.2 .5 .8 .5-4.2 .5 1.2 .5 1.1 .5 1.9 .5 2.4 .5-7.6 .5 2.2 .5-1.6 .5 1.3 .5 1.9 .5-4 .5 4.3 .5-3.5 .5 .4 .5 1.4 .5 3 .5-5.8 .5-2.9 .5 8.4 .5-4.2 .5-1.9 .5 4.3 .5 2.9 .5-6.9 .5-2.3 .5 3.2 .5 1 .5-.8 .5 1.1 .5-2.7 .5-.9 .5-.7 .5-2.6 .5 3.5 .5 .5 .5 .1 .5-3.3 .5-4.3 .5 .5 .5 8.6 .5-3.6 .5-2.2 .5 1 .5 2 .5-2.4 .5-4.3 .5 8.5 .5-3.2 .5 .1 .5-9.5 .5 5.4 .5 .9 .5-1.6 .5-2.2 .5 3.5 .5 2.2 .5-8.3 .5 1.7 .5 .3 .5-.1 .5-1.4 .5-3.4 .5 4.3 .5-.2 .5 1.6 .5-7.8 .5 2.4 0-5.4 .5 5.8 .5 3.6 .5-1.5 .5 3.2 .5-3 .5 2.4 .5 1.7 .5 2.1 .5-1.5 .5 3.5 .5-5.4 .5 7.9 .5 0 .5-3.8 .5 7.9 .5-3.3 .5-1.4 .5 .7 .5-2.7 .5 10.9 .5-15.2 .5 9 .5-3.2 .5 8 .5-5.4 .5 .9 .5 1.8 .5-10.7 .5 3.3 .5 6.4 .5-.3 .5-5 .5 3.8 .5 4.3 .5 3.4 .5-8.5 .5 3.7 .5-3.1 .5-.2 .5 3.7 .5 5.7 .5-6.7 .5 3.8 .5-2.3 .5-.1 .5 2 .5 3.5 .5 .5 .5-.5 .5-3.1 .5 3.4 .5-1.8 .5 1.2 .5-3.8 .5-4.9 .5-4.1 .5 3.4 .5 1.1 .5 1.5 .5 4.1 .5-9.8 .5-5.1 .5 1.6 .5-2.9 .5 .4 .5-5.5 .5 2.6 .5-.1 .5-1.1 .5-.9 .5-.2 .5 2 .5-6.9 .5 4.4 .5-9.1 0-4.1 .5 11 .5-.9 .5-2.1 .5-2.7 .5 1.2 .5 2.9 .5 4.3 .5-4.8 .5 2.7 .5-5.6 .5 1.1 .5 3.4 .5-4.4 .5 6.7 .5 1 .5 2.3 .5-6.3 .5 0 .5-3.3 .5 1.1 .5-1.6 .5 3.7 .5 2.3 .5 1.2 .5-6.6 .5 4.7 .5 4.9 .5 1.7 .5-2 .5 2.5 .5 1.7 .5-3.7 .5 7.6 .5 8.1 .5-8.6 .5 3.4 .5 4.9 .3 2.2 .2-3.2 .5-1.9 .5-3.3 .5 4 .5 1 .5-10.7 .5 1.6 .5 6.7 .5-5.7 .5-5.8 .5 7.6 .5-4 .5 .5 .5-4.5 .5 0 .5-2.1 .5-1.2 .5-7.2 .5 11.9 .5-1.9 .5 3.5 .5-3.6 .5-.7 .5 7.9 .5 .3 .5 1.5 .5 1.4 .5 12.6 .5-7.6 .5-2.9 .5 10.1 .5-10.5 .5 9.6 0-1.4 .5-6.1 .5 4.3 .5-3.4 .5-4.4 .5-1.4 .5-3.6 .5 3.1 .5-2.7 .5-2.1 .5-6.3 0-19.9 .5 21.4 .5-3.9 .5 .9 .5 1.8 .5 5.6 .5-4.1 .5-1.8 .5 4.1 .5-.4 .5-6.2 .5-4.4 .5 5.3 .5 .5 .5 3.9 .5-3.1 .5 4.1 .5-7.1 .5 1.9 .5 9.1 .5-9.4 .5 .8 .5-2.2 .5 4.7 .5 1.5 .5-1 .5-2 .5 2.5 .5-9.2 .5 6.6 .5 2.4 .5-10.2 .5 8.5 .5-3.9 .5 4.5 .5-2.2 .5-13.5 .5 5.6 .5-.2 .5-2.7 .5-9.4 .5-2.9 .5 5.7 .5-4.3 .5 7.2 .5-3.6 .5 2.4 .5-4.1 .5 2.5 .5-1.9 .5 5.9 .5-1.6 .5 .3 .5 4.7 .5-5.1 .5 4.4 .5-6 .5-2.3 .5 3.1 .5 .8 .5 .1 .5 .8 .5 .6 .5-1.1 .5 1.2 .5-3 .5-2.5 .5 7.1 .5 2.7 .5-7.5 .5 1 0 15.1 .5-12.6 .5 3.3 .5-4.6 .5 .3 .5 3.6 .5-.9 .5 1.2 .5 7.3 .5-4.4 .5-5.1 .5 2.7 .5-2.3 .5-3.4 .5 9.4 .5-2 .5-2.9 .5 0 .5-6.6 .5 8.5 .5-2.3 .5-1.2 .5 5.5 .5-5.6 .5 .3 .5 2.8 .5 5.1 .5-3.3 .5-1.2 .5-5.4 .5 5.7 .5-3.6 .5-6.5 .5 1.8 .5 .7 .5-8.4 .5 6.6 .5 2.7 .5 4.5 .5-4.8 .5 .5 .5-7.6 .5 9.5 .5 2.3 .5-.6 .5-4.4 .5 2.3 .5-1.2" fill="none" stroke="#000" stroke-width="2.4" stroke-linejoin="round"/>
<g transform="translate(923.5 753.9) scale(1.6 13.8)" stroke-width="1.06">
<path d="M0 .5h1.1M6 .5h1.1M13 .5h1.1M17 .5h3M26 .5h6M33 .5h1.1M35 .5h1.1M41 .5h1.1M48 .5h3M57 .5h4M62 .5h5M85 .5h18.1M105 .5h6M113 .5h1.1M115 .5h3M119 .5h1.1M122 .5h1.1M188 .5h7M203 .5h5M209 .5h8.1M218 .5h3M222 .5h2M226 .5h3M230 .5h2M237 .5h1.1M239 .5h1.1M261 .5h1.1M266 .5h7M274 .5h5M280 .5h8.1M290 .5h4M295 .5h2M301 .5h1.1M308 .5h1.1M310 .5h3M314 .5h1.1M316 .5h1.1M320 .5h3M324 .5h1.1M326 .5h1.1M334 .5h1.1M336 .5h2M339 .5h2M351 .5h1.1M359 .5h1.1M362 .5h1.1M366 .5h1.1M373 .5h3M377 .5h1.1M379 .5h2" stroke="#a50000"/>
<path d="M1 .5h1.1M200 .5h2M232 .5h1.1M234 .5h1.1" stroke="#ff0000"/>
<path d="M2 .5h1.1M82 .5h1.1M141 .5h1.1M168 .5h1.1M171 .5h1.1M353 .5h1.1M355 .5h1.1" stroke="#ffe800"/>
<path d="M3 .5h1.1M79 .5h2M126 .5h1.1M140 .5h1.1M342 .5h1.1M368 .5h1.1" stroke="#fffd00"/>
<path d="M4 .5h1.1M172 .5h1.1M184 .5h1.1M304 .5h1.1M341 .5h1.1" stroke="#e3ff00"/>
<path d="M5 .5h1.1M7 .5h1.1M22 .5h1.1M61 .5h1.1M104 .5h1.1M111 .5h2M120 .5h2M208 .5h1.1M217 .5h1.1M221 .5h1.1M224 .5h2M250 .5h1.1M273 .5h1.1M279 .5h1.1M294 .5h1.1M306 .5h1.1M317 .5h1.1M319 .5h1.1M323 .5h1.1M325 .5h1.1M333 .5h1.1M338 .5h1.1M360 .5h1.1" stroke="#ab0000"/>
<path d="M8 .5h1.1M23 .5h1.1M118 .5h1.1M179 .5h1.1M182 .5h1.1M288 .5h1.1M365 .5h1.1" stroke="#b20000"/>
<path d="M9 .5h1.1M71 .5h1.1M78 .5h1.1M129 .5h1.1M247 .5h2M257 .5h1.1M305 .5h1.1M349 .5h1.1" stroke="#ff9400"/>
<path d="M10 .5h1.1M21 .5h1.1M32 .5h1.1M45 .5h1.1M51 .5h1.1M70 .5h1.1M75 .5h1.1M147 .5h1.1M309 .5h1.1M327 .5h1.1" stroke="#ff2e00"/>
<path d="M11 .5h1.1M55 .5h1.1M77 .5h1.1M84 .5h1.1M123 .5h1.1M165 .5h1.1" stroke="#fff200"/>
<path d="M12 .5h1.1M52 .5h1.1M114 .5h1.1M197 .5h1.1M240 .5h1.1M298 .5h1.1M318 .5h1.1" stroke="#e20000"/>
<path d="M14 .5h1.1M16 .5h1.1M67 .5h1.1M73 .5h1.1M76 .5h1.1M202 .5h1.1M245 .5h1.1M262 .5h3M364 .5h1.1" stroke="#ffb700"/>
<path d="M15 .5h1.1M46 .5h1.1M68 .5h1.1M173 .5h1.1M233 .5h1.1M244 .5h1.1M251 .5h1.1M254 .5h1.1M358 .5h1.1M367 .5h1.1M378 .5h1.1" stroke="#ffa500"/>
<path d="M20 .5h1.1M299 .5h1.1M329 .5h1.1M372 .5h1.1" stroke="#ff7100"/>
<path d="M24 .5h1.1M145 .5h1.1M148 .5h2M166 .5h1.1M185 .5h1.1M243 .5h1.1M307 .5h1.1" stroke="#ff4500"/>
<path d="M25 .5h1.1M132 .5h1.1M178 .5h1.1M297 .5h1.1M302 .5h1.1M352 .5h1.1M376 .5h1.1" stroke="#d30000"/>
<path d="M34 .5h1.1M40 .5h1.1M144 .5h1.1M249 .5h1.1M265 .5h1.1M303 .5h1.1M370 .5h1.1" stroke="#ff8300"/>
<path d="M36 .5h1.1M343 .5h1.1" stroke="#00feb8"/>
<path d="M37 .5h1.1M134 .5h1.1" stroke="#96ff00"/>
<path d="M38 .5h1.1M74 .5h1.1M81 .5h1.1M124 .5h1.1M127 .5h1.1M154 .5h1.1M174 .5h1.1M183 .5h1.1M186 .5h1.1M241 .5h1.1M330 .5h1.1" stroke="#ffdd00"/>
<path d="M39 .5h1.1M56 .5h1.1M128 .5h1.1M138 .5h1.1M160 .5h1.1M331 .5h1.1" stroke="#d4ff00"/>
<path d="M42 .5h1.1M69 .5h1.1M150 .5h1.1M153 .5h1.1M162 .5h3" stroke="#c4ff00"/>
<path d="M43 .5h1.1M53 .5h1.1M125 .5h1.1M131 .5h1.1M139 .5h1.1M142 .5h1.1M345 .5h1.1" stroke="#f3ff00"/>
<path d="M44 .5h1.1M54 .5h1.1M137 .5h1.1M170 .5h1.1M371 .5h1.1" stroke="#b5ff00"/>
<path d="M47 .5h1.1" stroke="#64ff07"/>
<path d="M72 .5h1.1M156 .5h1.1M187 .5h1.1" stroke="#f00000"/>
<path d="M83 .5h1.1M130 .5h1.1M146 .5h1.1M161 .5h1.1M258 .5h1.1M289 .5h1.1M335 .5h1.1M357 .5h1.1" stroke="#ff5c00"/>
<path d="M103 .5h1.1" stroke="#0e07f5"/>
<path d="M133 .5h1.1M143 .5h1.1M158 .5h1.1M235 .5h1.1M238 .5h1.1M246 .5h1.1M369 .5h1.1" stroke="#ffc800"/>
<path d="M135 .5h1.1M346 .5h1.1M348 .5h1.1M354 .5h1.1" stroke="#a5ff00"/>
<path d="M136 .5h1.1M195 .5h1.1M347 .5h1.1" stroke="#19ff11"/>
<path d="M151 .5h1.1M169 .5h1.1M175 .5h1.1M229 .5h1.1M255 .5h1.1M300 .5h1.1M356 .5h1.1" stroke="#ffd300"/>
<path d="M152 .5h1.1M177 .5h1.1M344 .5h1.1" stroke="#32ff0d"/>
<path d="M155 .5h1.1M180 .5h1.1M198 .5h1.1M236 .5h1.1M253 .5h1.1M256 .5h1.1M313 .5h1.1M328 .5h1.1M332 .5h1.1M363 .5h1.1" stroke="#ff1700"/>
<path d="M157 .5h1.1" stroke="#000000"/>
<path d="M159 .5h1.1M167 .5h1.1" stroke="#4bff0a"/>
<path d="M176 .5h1.1" stroke="#00ff14"/>
<path d="M181 .5h1.1M199 .5h1.1M242 .5h1.1M252 .5h1.1M260 .5h1.1M350 .5h1.1M361 .5h1.1" stroke="#c50000"/>
<path d="M196 .5h1.1" stroke="#00ff37"/>
<path d="M259 .5h1.1M381 .5h1.1" stroke="#b80000"/>
<path d="M315 .5h1.1" stroke="#101010"/>
</g>
<g transform="translate(923.5 767.7) scale(1.6 8.5)" stroke-width="1.06">
<path d="M0 .5h1.1M5 .5h2M12 .5h1.1M58 .5h1.1M66 .5h1.1M108 .5h1.1M110 .5h1.1M113 .5h2M119 .5h1.1M204 .5h1.1M208 .5h1.1M216 .5h1.1M218 .5h2M223 .5h3M317 .5h1.1" stroke="#ab0000"/>
<path d="M1 .5h1.1M190 .5h1.1M242 .5h1.1M314 .5h1.1M324 .5h1.1M333 .5h2M366 .5h1.1M373 .5h1.1" stroke="#d30000"/>
<path d="M2 .5h2M22 .5h1.1M40 .5h1.1M106 .5h1.1M145 .5h1.1M245 .5h1.1M306 .5h1.1M353 .5h1.1M379 .5h1.1" stroke="#fffd00"/>
<path d="M4 .5h1.1M77 .5h1.1M81 .5h1.1M241 .5h1.1M253 .5h1.1M265 .5h1.1" stroke="#f3ff00"/>
<path d="M7 .5h1.1M15 .5h1.1M25 .5h1.1M95 .5h1.1M187 .5h1.1M325 .5h1.1M357 .5h1.1M362 .5h1.1M375 .5h1.1" stroke="#ff4500"/>
<path d="M8 .5h1.1M10 .5h1.1M72 .5h1.1M75 .5h1.1M93 .5h1.1M181 .5h1.1M239 .5h1.1M252 .5h1.1M272 .5h1.1M336 .5h1.1M352 .5h1.1" stroke="#ff8300"/>
<path d="M9 .5h1.1M11 .5h1.1M37 .5h1.1M73 .5h1.1M169 .5h1.1M200 .5h1.1M289 .5h1.1M326 .5h1.1M332 .5h1.1" stroke="#ffe800"/>
<path d="M13 .5h1.1M27 .5h9.1M41 .5h1.1M49 .5h2M57 .5h1.1M59 .5h7M86 .5h2M91 .5h1.1M96 .5h3M100 .5h2M104 .5h2M107 .5h1.1M109 .5h1.1M111 .5h2M115 .5h4M120 .5h3M188 .5h2M193 .5h1.1M203 .5h1.1M205 .5h3M209 .5h7M217 .5h1.1M220 .5h3M226 .5h2M230 .5h1.1M271 .5h1.1M292 .5h1.1M323 .5h1.1M374 .5h1.1" stroke="#a50000"/>
<path d="M14 .5h1.1M174 .5h1.1M179 .5h1.1M296 .5h1.1M316 .5h1.1M359 .5h1.1" stroke="#ff2e00"/>
<path d="M16 .5h1.1M19 .5h1.1M171 .5h1.1M182 .5h1.1M232 .5h1.1M259 .5h1.1M282 .5h1.1M361 .5h1.1M365 .5h1.1M376 .5h1.1" stroke="#ff9400"/>
<path d="M17 .5h1.1M23 .5h1.1M83 .5h1.1M130 .5h1.1M178 .5h1.1M250 .5h1.1M261 .5h1.1M297 .5h1.1M370 .5h1.1" stroke="#ff5c00"/>
<path d="M18 .5h1.1M38 .5h1.1M74 .5h1.1M99 .5h1.1M155 .5h1.1M175 .5h1.1M246 .5h1.1M254 .5h1.1M263 .5h1.1M268 .5h1.1M293 .5h1.1M295 .5h1.1M335 .5h1.1M358 .5h1.1M364 .5h1.1" stroke="#ffdd00"/>
<path d="M20 .5h1.1M177 .5h1.1" stroke="#00ff14"/>
<path d="M21 .5h1.1M150 .5h1.1M164 .5h1.1M280 .5h1.1M284 .5h1.1M290 .5h1.1" stroke="#64ff07"/>
<path d="M24 .5h1.1M55 .5h1.1M71 .5h1.1M123 .5h1.1M144 .5h1.1M148 .5h1.1M158 .5h1.1M183 .5h1.1M243 .5h1.1M256 .5h1.1M303 .5h1.1" stroke="#fff200"/>
<path d="M26 .5h1.1M85 .5h1.1M88 .5h2M288 .5h1.1M340 .5h1.1M350 .5h1.1" stroke="#e20000"/>
<path d="M36 .5h1.1M43 .5h1.1M126 .5h1.1M136 .5h1.1M196 .5h1.1M248 .5h1.1M304 .5h1.1M330 .5h1.1M378 .5h1.1" stroke="#00ff37"/>
<path d="M39 .5h1.1M67 .5h1.1M154 .5h1.1M162 .5h1.1M165 .5h1.1M172 .5h1.1M185 .5h1.1M285 .5h1.1M307 .5h1.1M313 .5h1.1M327 .5h1.1M360 .5h1.1M367 .5h1.1" stroke="#e3ff00"/>
<path d="M42 .5h1.1M159 .5h1.1M176 .5h1.1M281 .5h1.1M309 .5h1.1" stroke="#32ff0d"/>
<path d="M44 .5h1.1M152 .5h1.1" stroke="#00faff"/>
<path d="M45 .5h1.1M82 .5h1.1M199 .5h1.1M201 .5h1.1M234 .5h1.1M244 .5h1.1M277 .5h1.1M279 .5h1.1" stroke="#ffa500"/>
<path d="M46 .5h1.1M124 .5h1.1M149 .5h1.1M160 .5h1.1M166 .5h1.1M186 .5h1.1M233 .5h1.1M260 .5h1.1M264 .5h1.1M276 .5h1.1" stroke="#ffd300"/>
<path d="M47 .5h1.1M167 .5h1.1" stroke="#00ff5a"/>
<path d="M48 .5h1.1M51 .5h2M90 .5h1.1M320 .5h2M377 .5h1.1" stroke="#f00000"/>
<path d="M53 .5h1.1M56 .5h1.1M69 .5h1.1M80 .5h1.1M125 .5h1.1M146 .5h1.1M275 .5h1.1M298 .5h1.1M346 .5h1.1" stroke="#a5ff00"/>
<path d="M54 .5h1.1M140 .5h1.1M147 .5h1.1M168 .5h1.1M202 .5h1.1M240 .5h1.1M257 .5h1.1M267 .5h1.1M299 .5h1.1M345 .5h1.1M356 .5h1.1M368 .5h1.1" stroke="#c4ff00"/>
<path d="M68 .5h1.1M236 .5h1.1M273 .5h1.1M302 .5h1.1M308 .5h1.1" stroke="#ffb700"/>
<path d="M70 .5h1.1M76 .5h1.1M180 .5h1.1M198 .5h1.1M262 .5h1.1M286 .5h1.1M380 .5h1.1" stroke="#ffc800"/>
<path d="M78 .5h1.1M235 .5h1.1M258 .5h1.1M274 .5h1.1M328 .5h1.1M347 .5h1.1M369 .5h1.1" stroke="#d4ff00"/>
<path d="M79 .5h1.1M139 .5h1.1M170 .5h1.1M342 .5h1.1" stroke="#7dff03"/>
<path d="M84 .5h1.1M135 .5h1.1M143 .5h1.1M247 .5h1.1M251 .5h1.1M311 .5h1.1M329 .5h1.1M344 .5h1.1" stroke="#4bff0a"/>
<path d="M92 .5h1.1M94 .5h1.1M270 .5h1.1M291 .5h1.1M312 .5h1.1M322 .5h1.1M351 .5h1.1M363 .5h1.1" stroke="#ff1700"/>
<path d="M102 .5h1.1M132 .5h1.1M228 .5h1.1M319 .5h1.1" stroke="#b80000"/>
<path d="M103 .5h1.1" stroke="#1c05eb"/>
<path d="M127 .5h1.1M129 .5h1.1M141 .5h1.1M151 .5h1.1M163 .5h1.1M238 .5h1.1M255 .5h1.1M310 .5h1.1M355 .5h1.1" stroke="#96ff00"/>
<path d="M128 .5h1.1M331 .5h1.1M348 .5h1.1M371 .5h1.1" stroke="#00ff7d"/>
<path d="M131 .5h1.1M137 .5h1.1M142 .5h1.1M156 .5h1.1M184 .5h1.1M229 .5h1.1M249 .5h1.1M305 .5h1.1M349 .5h1.1M372 .5h1.1" stroke="#b5ff00"/>
<path d="M133 .5h1.1M161 .5h1.1M173 .5h1.1M191 .5h1.1M269 .5h1.1M283 .5h1.1M294 .5h1.1M381 .5h1.1" stroke="#ff7100"/>
<path d="M134 .5h1.1M138 .5h1.1M266 .5h1.1M278 .5h1.1" stroke="#19ff11"/>
<path d="M153 .5h1.1" stroke="#00ecff"/>
<path d="M157 .5h1.1" stroke="#000000"/>
<path d="M192 .5h1.1M194 .5h1.1M337 .5h2" stroke="#b20000"/>
<path d="M195 .5h1.1M343 .5h1.1" stroke="#00deff"/>
<path d="M197 .5h1.1M231 .5h1.1M339 .5h1.1" stroke="#ff0000"/>
<path d="M237 .5h1.1M301 .5h1.1M318 .5h1.1" stroke="#c50000"/>
<path d="M287 .5h1.1M300 .5h1.1M341 .5h1.1" stroke="#00ffa0"/>
<path d="M315 .5h1.1" stroke="#101010"/>
<path d="M354 .5h1.1" stroke="#00c1ff"/>
</g>
<g transform="translate(923.5 776.2) scale(1.6 8.6)" stroke-width="1.06">
<path d="M0 .5h1.1M58 .5h1.1M88 .5h1.1M213 .5h1.1M216 .5h1.1M220 .5h2M320 .5h1.1M362 .5h2M377 .5h1.1" stroke="#ffa500"/>
<path d="M1 .5h1.1M30 .5h1.1M173 .5h1.1M375 .5h1.1" stroke="#ffc800"/>
<path d="M2 .5h1.1M38 .5h1.1M53 .5h2M71 .5h1.1M141 .5h1.1M147 .5h1.1M154 .5h1.1M163 .5h1.1M177 .5h1.1M199 .5h1.1M252 .5h1.1M326 .5h1.1M329 .5h1.1M379 .5h1.1" stroke="#96ff00"/>
<path d="M3 .5h1.1M56 .5h1.1M167 .5h1.1M200 .5h1.1M275 .5h1.1M277 .5h1.1M301 .5h1.1M348 .5h1.1" stroke="#00ff14"/>
<path d="M4 .5h1.1M11 .5h1.1M16 .5h1.1M42 .5h1.1M140 .5h1.1M272 .5h1.1M282 .5h1.1M291 .5h1.1M330 .5h1.1M335 .5h1.1M341 .5h1.1" stroke="#19ff11"/>
<path d="M5 .5h1.1M7 .5h1.1M34 .5h1.1M68 .5h1.1M75 .5h1.1M181 .5h1.1M232 .5h1.1M321 .5h1.1M324 .5h1.1M351 .5h1.1M373 .5h1.1" stroke="#ffd300"/>
<path d="M6 .5h1.1M83 .5h1.1M169 .5h1.1M171 .5h1.1M175 .5h1.1M179 .5h1.1M203 .5h2M223 .5h1.1M225 .5h1.1" stroke="#ffe800"/>
<path d="M8 .5h1.1M73 .5h1.1M149 .5h1.1M187 .5h1.1M227 .5h1.1M283 .5h1.1M353 .5h1.1M361 .5h1.1M380 .5h1.1" stroke="#e3ff00"/>
<path d="M9 .5h1.1M273 .5h1.1M288 .5h1.1M308 .5h1.1" stroke="#00ff37"/>
<path d="M10 .5h1.1M21 .5h1.1M25 .5h1.1M74 .5h1.1M106 .5h1.1M126 .5h1.1M145 .5h1.1M164 .5h1.1M197 .5h1.1M345 .5h1.1M358 .5h1.1" stroke="#b5ff00"/>
<path d="M12 .5h1.1M46 .5h1.1M76 .5h1.1M81 .5h1.1M142 .5h2M172 .5h1.1M180 .5h1.1M222 .5h1.1M250 .5h1.1M334 .5h1.1M356 .5h1.1" stroke="#d4ff00"/>
<path d="M13 .5h1.1M29 .5h1.1M32 .5h1.1M57 .5h1.1M108 .5h1.1M158 .5h1.1M178 .5h1.1M182 .5h1.1M333 .5h1.1M338 .5h2M349 .5h1.1M355 .5h1.1" stroke="#ffb700"/>
<path d="M14 .5h1.1M17 .5h1.1M78 .5h1.1M82 .5h1.1M84 .5h1.1M127 .5h1.1M137 .5h1.1M151 .5h1.1M239 .5h1.1" stroke="#a5ff00"/>
<path d="M15 .5h1.1M123 .5h1.1M139 .5h1.1M185 .5h1.1M202 .5h1.1M269 .5h1.1M372 .5h1.1" stroke="#32ff0d"/>
<path d="M18 .5h2M48 .5h1.1M113 .5h1.1M188 .5h1.1M205 .5h1.1M208 .5h1.1" stroke="#ff9400"/>
<path d="M20 .5h1.1M150 .5h1.1M265 .5h1.1M267 .5h1.1M285 .5h1.1M346 .5h1.1M378 .5h1.1" stroke="#00fbe7"/>
<path d="M22 .5h1.1M37 .5h1.1M80 .5h1.1M194 .5h1.1M259 .5h1.1M261 .5h1.1M364 .5h1.1" stroke="#7dff03"/>
<path d="M23 .5h1.1M39 .5h1.1M184 .5h1.1" stroke="#00ffa0"/>
<path d="M24 .5h1.1M135 .5h1.1M186 .5h1.1M198 .5h1.1M244 .5h1.1M249 .5h1.1M276 .5h1.1M344 .5h1.1M354 .5h1.1M370 .5h1.1" stroke="#00ff5a"/>
<path d="M26 .5h1.1M70 .5h1.1M72 .5h1.1M130 .5h1.1M133 .5h1.1M156 .5h1.1M201 .5h1.1M242 .5h1.1M322 .5h1.1M325 .5h1.1M336 .5h1.1M359 .5h1.1M376 .5h1.1" stroke="#fffd00"/>
<path d="M27 .5h1.1M93 .5h1.1M215 .5h1.1" stroke="#ff5c00"/>
<path d="M28 .5h1.1M100 .5h1.1M102 .5h1.1M116 .5h1.1" stroke="#b20000"/>
<path d="M31 .5h1.1M86 .5h1.1M90 .5h3M96 .5h1.1M107 .5h1.1M114 .5h1.1" stroke="#ff1700"/>
<path d="M33 .5h1.1M62 .5h1.1M111 .5h1.1" stroke="#ff0000"/>
<path d="M35 .5h1.1M52 .5h1.1M64 .5h1.1M97 .5h1.1M109 .5h1.1M112 .5h1.1M132 .5h1.1M166 .5h1.1M192 .5h1.1M210 .5h1.1M217 .5h1.1M228 .5h1.1M234 .5h1.1M237 .5h1.1M271 .5h1.1M292 .5h1.1M317 .5h2M337 .5h1.1M340 .5h1.1" stroke="#ff8300"/>
<path d="M36 .5h1.1M44 .5h1.1M255 .5h2M290 .5h1.1" stroke="#00ecff"/>
<path d="M40 .5h1.1M45 .5h1.1M55 .5h1.1M99 .5h1.1M160 .5h1.1M323 .5h1.1M352 .5h1.1M366 .5h1.1M381 .5h1.1" stroke="#f3ff00"/>
<path d="M41 .5h1.1M50 .5h1.1M63 .5h1.1M101 .5h1.1M117 .5h2" stroke="#a50000"/>
<path d="M43 .5h1.1M293 .5h1.1" stroke="#00a5ff"/>
<path d="M47 .5h1.1M279 .5h1.1M298 .5h2M313 .5h1.1M367 .5h1.1" stroke="#00deff"/>
<path d="M49 .5h1.1M60 .5h1.1M85 .5h1.1M87 .5h1.1M105 .5h1.1M207 .5h1.1M218 .5h1.1M350 .5h1.1" stroke="#f00000"/>
<path d="M51 .5h1.1M95 .5h1.1M174 .5h1.1M190 .5h1.1M212 .5h1.1M219 .5h1.1M231 .5h1.1" stroke="#ff2e00"/>
<path d="M59 .5h1.1M65 .5h1.1M98 .5h1.1M122 .5h1.1M189 .5h1.1M206 .5h1.1M357 .5h1.1" stroke="#e20000"/>
<path d="M61 .5h1.1M161 .5h1.1" stroke="#ff4500"/>
<path d="M66 .5h1.1M115 .5h1.1M120 .5h1.1" stroke="#c50000"/>
<path d="M67 .5h1.1M125 .5h1.1M144 .5h1.1M146 .5h1.1M148 .5h1.1M162 .5h1.1M170 .5h1.1M270 .5h1.1M332 .5h1.1M342 .5h1.1" stroke="#c4ff00"/>
<path d="M69 .5h1.1M129 .5h1.1M131 .5h1.1M176 .5h1.1M235 .5h1.1M243 .5h1.1M268 .5h1.1M327 .5h2M347 .5h1.1" stroke="#64ff07"/>
<path d="M77 .5h1.1M79 .5h1.1M136 .5h1.1M159 .5h1.1M183 .5h1.1M229 .5h1.1M236 .5h1.1M297 .5h1.1M331 .5h1.1" stroke="#4bff0a"/>
<path d="M89 .5h1.1M104 .5h1.1M110 .5h1.1M119 .5h1.1M209 .5h1.1M214 .5h1.1M226 .5h1.1" stroke="#ff7100"/>
<path d="M94 .5h1.1" stroke="#ab0000"/>
<path d="M103 .5h1.1M280 .5h1.1" stroke="#003cff"/>
<path d="M121 .5h1.1M193 .5h1.1M230 .5h1.1M374 .5h1.1" stroke="#d30000"/>
<path d="M124 .5h1.1M191 .5h1.1M224 .5h1.1M233 .5h1.1M312 .5h1.1M314 .5h1.1" stroke="#ffdd00"/>
<path d="M128 .5h1.1M134 .5h1.1M248 .5h1.1M253 .5h1.1M284 .5h1.1M286 .5h1.1M306 .5h1.1M310 .5h1.1" stroke="#00fcd0"/>
<path d="M138 .5h1.1M152 .5h1.1M241 .5h1.1M254 .5h1.1M260 .5h1.1M262 .5h1.1M264 .5h1.1M274 .5h1.1M307 .5h1.1M360 .5h1.1M369 .5h1.1" stroke="#00feb8"/>
<path d="M153 .5h1.1M240 .5h1.1M246 .5h1.1M251 .5h1.1M258 .5h1.1M311 .5h1.1M371 .5h1.1" stroke="#00faff"/>
<path d="M155 .5h1.1M165 .5h1.1M168 .5h1.1M316 .5h1.1M319 .5h1.1M365 .5h1.1" stroke="#fff200"/>
<path d="M157 .5h1.1" stroke="#000000"/>
<path d="M195 .5h1.1M303 .5h1.1" stroke="#000aff"/>
<path d="M196 .5h1.1" stroke="#0017ff"/>
<path d="M211 .5h1.1" stroke="#b80000"/>
<path d="M238 .5h1.1M296 .5h1.1M368 .5h1.1" stroke="#00ff7d"/>
<path d="M245 .5h1.1M281 .5h1.1" stroke="#00c1ff"/>
<path d="M247 .5h1.1M266 .5h1.1" stroke="#00b3ff"/>
<path d="M257 .5h1.1M295 .5h1.1M309 .5h1.1" stroke="#0082ff"/>
<path d="M263 .5h1.1M343 .5h1.1" stroke="#0094ff"/>
<path d="M278 .5h1.1" stroke="#0071ff"/>
<path d="M287 .5h1.1M300 .5h1.1M304 .5h1.1" stroke="#2902e1"/>
<path d="M289 .5h1.1M294 .5h1.1M302 .5h1.1" stroke="#00cfff"/>
<path d="M305 .5h1.1" stroke="#0023ff"/>
<path d="M315 .5h1.1" stroke="#101010"/>
</g>
<g transform="translate(923.5 784.8) scale(1.6 8.5)" stroke-width="1.06">
<path d="M0 .5h1.1M64 .5h1.1M124 .5h1.1M171 .5h1.1M173 .5h1.1M178 .5h1.1M194 .5h1.1M271 .5h1.1M345 .5h1.1M353 .5h1.1" stroke="#96ff00"/>
<path d="M1 .5h1.1M13 .5h1.1M71 .5h1.1M172 .5h1.1M228 .5h1.1M239 .5h1.1M261 .5h1.1M316 .5h1.1M376 .5h1.1" stroke="#32ff0d"/>
<path d="M2 .5h1.1M11 .5h1.1M53 .5h1.1M202 .5h1.1M251 .5h1.1M255 .5h1.1M277 .5h1.1M284 .5h1.1M295 .5h1.1M306 .5h1.1M360 .5h1.1" stroke="#00a5ff"/>
<path d="M3 .5h1.1M195 .5h1.1M280 .5h1.1M298 .5h1.1M331 .5h1.1" stroke="#000aff"/>
<path d="M4 .5h1.1M9 .5h1.1M20 .5h1.1M47 .5h1.1M248 .5h1.1M266 .5h2M276 .5h1.1M285 .5h1.1M301 .5h1.1M313 .5h1.1" stroke="#005fff"/>
<path d="M5 .5h1.1M12 .5h1.1M19 .5h1.1M46 .5h1.1M201 .5h1.1M236 .5h1.1M252 .5h1.1M262 .5h1.1M308 .5h1.1M319 .5h1.1M344 .5h1.1M366 .5h1.1M373 .5h1.1" stroke="#00ff37"/>
<path d="M6 .5h1.1M38 .5h1.1M126 .5h1.1M143 .5h1.1M147 .5h1.1M180 .5h1.1M234 .5h1.1M323 .5h1.1M347 .5h1.1" stroke="#64ff07"/>
<path d="M7 .5h1.1M39 .5h1.1M77 .5h1.1M81 .5h2M133 .5h1.1M139 .5h1.1M203 .5h1.1M208 .5h1.1M225 .5h1.1M237 .5h1.1M250 .5h1.1M270 .5h1.1M312 .5h1.1M342 .5h1.1M355 .5h1.1M380 .5h1.1" stroke="#19ff11"/>
<path d="M8 .5h1.1M37 .5h1.1M150 .5h1.1M233 .5h1.1M288 .5h1.1M325 .5h1.1" stroke="#00fcd0"/>
<path d="M10 .5h1.1M21 .5h1.1M23 .5h1.1M56 .5h1.1M106 .5h1.1M153 .5h1.1M197 .5h1.1M199 .5h2M227 .5h1.1M243 .5h2M259 .5h1.1M264 .5h1.1M282 .5h1.1M364 .5h1.1" stroke="#00faff"/>
<path d="M14 .5h1.1M17 .5h2M135 .5h1.1M137 .5h1.1M159 .5h1.1M162 .5h1.1M183 .5h2M334 .5h1.1M341 .5h1.1M346 .5h1.1M348 .5h1.1" stroke="#00ffa0"/>
<path d="M15 .5h1.1M246 .5h1.1M258 .5h1.1M307 .5h1.1M309 .5h1.1M326 .5h1.1M372 .5h1.1" stroke="#0094ff"/>
<path d="M16 .5h1.1M22 .5h1.1M25 .5h1.1M80 .5h1.1M164 .5h1.1M186 .5h1.1M222 .5h1.1M291 .5h1.1M296 .5h1.1M310 .5h1.1M336 .5h1.1M339 .5h1.1M379 .5h1.1" stroke="#00ff7d"/>
<path d="M24 .5h1.1M44 .5h1.1M240 .5h1.1M328 .5h1.1" stroke="#00c1ff"/>
<path d="M26 .5h1.1M45 .5h1.1M57 .5h1.1M73 .5h2M92 .5h1.1M217 .5h1.1M226 .5h1.1M324 .5h1.1M362 .5h1.1" stroke="#a5ff00"/>
<path d="M27 .5h1.1M33 .5h1.1M175 .5h1.1M212 .5h1.1M219 .5h1.1M317 .5h1.1" stroke="#f3ff00"/>
<path d="M28 .5h1.1M188 .5h1.1" stroke="#ff7100"/>
<path d="M29 .5h1.1M51 .5h1.1M89 .5h1.1M113 .5h1.1M155 .5h2M181 .5h1.1M192 .5h1.1M361 .5h1.1" stroke="#e3ff00"/>
<path d="M30 .5h1.1M62 .5h1.1M65 .5h2M72 .5h1.1M83 .5h1.1M95 .5h1.1M102 .5h1.1M109 .5h1.1M161 .5h1.1M231 .5h1.1M377 .5h1.1" stroke="#fff200"/>
<path d="M31 .5h1.1M59 .5h1.1M120 .5h2" stroke="#ffb700"/>
<path d="M32 .5h1.1M40 .5h1.1M78 .5h1.1M99 .5h1.1M146 .5h1.1M170 .5h1.1M182 .5h1.1M185 .5h1.1M187 .5h1.1M204 .5h1.1M220 .5h1.1M292 .5h1.1M375 .5h1.1" stroke="#7dff03"/>
<path d="M34 .5h1.1M84 .5h1.1M125 .5h1.1M163 .5h1.1M223 .5h1.1M232 .5h1.1M242 .5h1.1M356 .5h1.1M358 .5h1.1" stroke="#00ff14"/>
<path d="M35 .5h1.1M70 .5h1.1M104 .5h1.1M108 .5h1.1M110 .5h1.1M112 .5h1.1M130 .5h1.1M144 .5h1.1M158 .5h1.1M169 .5h1.1M179 .5h1.1M322 .5h1.1M357 .5h1.1" stroke="#d4ff00"/>
<path d="M36 .5h1.1M229 .5h1.1M256 .5h1.1M273 .5h1.1M311 .5h1.1M330 .5h1.1" stroke="#0071ff"/>
<path d="M41 .5h1.1" stroke="#c50000"/>
<path d="M42 .5h1.1M138 .5h1.1M249 .5h1.1M253 .5h1.1M263 .5h1.1" stroke="#00ecff"/>
<path d="M43 .5h1.1M268 .5h1.1M327 .5h1.1M332 .5h1.1" stroke="#00cfff"/>
<path d="M48 .5h1.1M86 .5h1.1M114 .5h1.1M116 .5h1.1M149 .5h1.1M166 .5h1.1M174 .5h1.1" stroke="#ffe800"/>
<path d="M49 .5h1.1" stroke="#e20000"/>
<path d="M50 .5h1.1M87 .5h1.1M100 .5h1.1M193 .5h1.1M351 .5h1.1" stroke="#ff5c00"/>
<path d="M52 .5h1.1M107 .5h1.1M123 .5h1.1M127 .5h1.1M141 .5h1.1M207 .5h1.1M210 .5h1.1M216 .5h1.1M221 .5h1.1M283 .5h1.1M314 .5h1.1" stroke="#b5ff00"/>
<path d="M54 .5h1.1M260 .5h1.1M265 .5h1.1M269 .5h1.1M359 .5h1.1" stroke="#00b3ff"/>
<path d="M55 .5h1.1M69 .5h1.1M93 .5h1.1M129 .5h1.1M165 .5h1.1M294 .5h1.1M333 .5h1.1M337 .5h1.1" stroke="#00ff5a"/>
<path d="M58 .5h1.1M94 .5h1.1M97 .5h1.1M145 .5h1.1" stroke="#ffc800"/>
<path d="M60 .5h1.1M122 .5h1.1M352 .5h1.1" stroke="#ff8300"/>
<path d="M61 .5h1.1M90 .5h1.1M96 .5h1.1M111 .5h1.1M374 .5h1.1" stroke="#ffd300"/>
<path d="M63 .5h1.1" stroke="#ff0000"/>
<path d="M67 .5h1.1M151 .5h1.1M154 .5h1.1M168 .5h1.1M224 .5h1.1M318 .5h1.1M320 .5h2M363 .5h1.1" stroke="#4bff0a"/>
<path d="M68 .5h1.1M76 .5h1.1M148 .5h1.1M191 .5h1.1M214 .5h2M349 .5h1.1" stroke="#fffd00"/>
<path d="M75 .5h1.1M105 .5h1.1M132 .5h1.1M206 .5h1.1" stroke="#ffdd00"/>
<path d="M79 .5h1.1M128 .5h1.1M136 .5h1.1M152 .5h1.1M167 .5h1.1M365 .5h1.1M381 .5h1.1" stroke="#00fbe7"/>
<path d="M85 .5h1.1M119 .5h1.1M140 .5h1.1M160 .5h1.1M205 .5h1.1M209 .5h1.1M213 .5h1.1M218 .5h1.1" stroke="#c4ff00"/>
<path d="M88 .5h1.1M101 .5h1.1M118 .5h1.1" stroke="#ff9400"/>
<path d="M91 .5h1.1M98 .5h1.1M189 .5h2M211 .5h1.1M230 .5h1.1" stroke="#ffa500"/>
<path d="M103 .5h1.1M278 .5h1.1M281 .5h1.1M287 .5h1.1M299 .5h2M304 .5h2M378 .5h1.1" stroke="#2902e1"/>
<path d="M115 .5h1.1" stroke="#ff1700"/>
<path d="M117 .5h1.1" stroke="#d30000"/>
<path d="M131 .5h1.1M235 .5h1.1M272 .5h1.1M297 .5h1.1M329 .5h1.1M335 .5h1.1M370 .5h1.1" stroke="#00deff"/>
<path d="M134 .5h1.1M245 .5h1.1M302 .5h1.1M367 .5h2" stroke="#0082ff"/>
<path d="M142 .5h1.1M176 .5h2M254 .5h1.1M338 .5h1.1M340 .5h1.1" stroke="#00feb8"/>
<path d="M157 .5h1.1" stroke="#000000"/>
<path d="M196 .5h1.1M247 .5h1.1M371 .5h1.1" stroke="#1c05eb"/>
<path d="M198 .5h1.1M343 .5h1.1" stroke="#004eff"/>
<path d="M238 .5h1.1M241 .5h1.1M290 .5h1.1M293 .5h1.1M369 .5h1.1" stroke="#002fff"/>
<path d="M257 .5h1.1" stroke="#003cff"/>
<path d="M274 .5h1.1M286 .5h1.1" stroke="#0e07f5"/>
<path d="M275 .5h1.1M289 .5h1.1" stroke="#0023ff"/>
<path d="M279 .5h1.1M303 .5h1.1M354 .5h1.1" stroke="#0017ff"/>
<path d="M315 .5h1.1" stroke="#101010"/>
<path d="M350 .5h1.1" stroke="#ff4500"/>
</g>
<g transform="translate(923.5 793.3) scale(1.6 8.5)" stroke-width="1.06">
<path d="M0 .5h1.1M42 .5h1.1M51 .5h1.1M64 .5h1.1M84 .5h2M104 .5h1.1M109 .5h1.1M207 .5h1.1M210 .5h1.1M216 .5h1.1M224 .5h1.1M347 .5h1.1" stroke="#00ffa0"/>
<path d="M1 .5h1.1M153 .5h1.1M183 .5h1.1M186 .5h1.1M201 .5h1.1M203 .5h1.1M222 .5h1.1M252 .5h1.1M314 .5h1.1M337 .5h1.1" stroke="#00b3ff"/>
<path d="M2 .5h1.1M138 .5h1.1" stroke="#0023ff"/>
<path d="M3 .5h2M195 .5h2M202 .5h1.1M235 .5h1.1M241 .5h1.1M244 .5h5M251 .5h1.1M266 .5h2M274 .5h5M280 .5h2M285 .5h1.1M287 .5h1.1M289 .5h2M295 .5h1.1M298 .5h3M302 .5h1.1M304 .5h2M307 .5h1.1M309 .5h1.1M311 .5h1.1M313 .5h1.1M327 .5h1.1M330 .5h2M335 .5h1.1M367 .5h3M371 .5h1.1M378 .5h1.1" stroke="#2902e1"/>
<path d="M5 .5h1.1M25 .5h1.1M55 .5h1.1M128 .5h1.1M151 .5h1.1M208 .5h1.1M220 .5h1.1M223 .5h1.1M253 .5h3M318 .5h1.1M339 .5h1.1M342 .5h1.1M361 .5h1.1" stroke="#00cfff"/>
<path d="M6 .5h1.1M135 .5h1.1M140 .5h1.1M150 .5h1.1M176 .5h2M204 .5h1.1M259 .5h1.1M270 .5h1.1M291 .5h1.1M338 .5h1.1M380 .5h1.1" stroke="#00deff"/>
<path d="M7 .5h1.1M79 .5h1.1M107 .5h1.1M119 .5h1.1M163 .5h1.1M205 .5h1.1M236 .5h1.1M250 .5h1.1M261 .5h1.1M317 .5h1.1M322 .5h1.1M333 .5h1.1M376 .5h1.1" stroke="#00faff"/>
<path d="M8 .5h1.1M137 .5h1.1M197 .5h1.1M260 .5h1.1M282 .5h1.1M332 .5h1.1M341 .5h1.1M354 .5h1.1M359 .5h1.1M381 .5h1.1" stroke="#0094ff"/>
<path d="M9 .5h1.1M54 .5h1.1M198 .5h1.1M268 .5h1.1M336 .5h1.1" stroke="#004eff"/>
<path d="M10 .5h1.1M12 .5h1.1M22 .5h1.1M34 .5h2M131 .5h1.1M185 .5h1.1M213 .5h1.1M217 .5h1.1M319 .5h1.1M323 .5h1.1" stroke="#00ecff"/>
<path d="M11 .5h1.1M53 .5h1.1M134 .5h1.1M152 .5h1.1M167 .5h1.1M238 .5h1.1M288 .5h1.1M296 .5h1.1M301 .5h1.1M370 .5h1.1" stroke="#003cff"/>
<path d="M13 .5h1.1M15 .5h1.1M19 .5h1.1M33 .5h1.1M38 .5h1.1M40 .5h1.1M57 .5h1.1M71 .5h1.1M110 .5h1.1M113 .5h1.1M123 .5h1.1M142 .5h1.1M206 .5h1.1M215 .5h1.1M271 .5h1.1M345 .5h1.1" stroke="#00ff5a"/>
<path d="M14 .5h1.1M16 .5h1.1M32 .5h1.1M93 .5h1.1M108 .5h1.1M141 .5h1.1M164 .5h1.1M199 .5h1.1M209 .5h1.1M212 .5h1.1M225 .5h1.1M344 .5h1.1" stroke="#00fbe7"/>
<path d="M17 .5h1.1M26 .5h1.1M99 .5h1.1M125 .5h1.1M221 .5h1.1M242 .5h1.1M320 .5h1.1M373 .5h1.1M375 .5h1.1" stroke="#00fcd0"/>
<path d="M18 .5h1.1M69 .5h1.1M80 .5h1.1M114 .5h1.1M127 .5h1.1M139 .5h1.1M162 .5h1.1M192 .5h1.1M219 .5h1.1M321 .5h1.1M324 .5h1.1M340 .5h1.1" stroke="#00feb8"/>
<path d="M20 .5h1.1M47 .5h1.1M103 .5h1.1M243 .5h1.1M258 .5h1.1M303 .5h1.1M360 .5h1.1" stroke="#0017ff"/>
<path d="M21 .5h1.1M37 .5h1.1M200 .5h1.1M227 .5h1.1M232 .5h1.1M316 .5h1.1" stroke="#0071ff"/>
<path d="M23 .5h1.1M39 .5h1.1M45 .5h1.1M126 .5h1.1M346 .5h1.1M363 .5h1.1" stroke="#00c1ff"/>
<path d="M24 .5h1.1M43 .5h1.1M229 .5h1.1M240 .5h1.1M257 .5h1.1M262 .5h1.1M294 .5h1.1" stroke="#005fff"/>
<path d="M27 .5h1.1M29 .5h2M105 .5h1.1M187 .5h1.1M218 .5h1.1" stroke="#00ff37"/>
<path d="M28 .5h1.1M72 .5h1.1M100 .5h1.1M178 .5h1.1" stroke="#b5ff00"/>
<path d="M31 .5h1.1M48 .5h1.1M73 .5h1.1M132 .5h1.1M230 .5h1.1M351 .5h1.1" stroke="#c4ff00"/>
<path d="M36 .5h1.1M44 .5h1.1M233 .5h1.1M263 .5h1.1M265 .5h1.1M272 .5h1.1M306 .5h1.1M326 .5h1.1M343 .5h1.1M364 .5h2" stroke="#000aff"/>
<path d="M41 .5h1.1" stroke="#f00000"/>
<path d="M46 .5h1.1M62 .5h1.1M70 .5h1.1M89 .5h1.1M94 .5h1.1M121 .5h1.1M158 .5h1.1M160 .5h1.1M211 .5h1.1M237 .5h1.1" stroke="#4bff0a"/>
<path d="M49 .5h1.1M68 .5h1.1M76 .5h1.1M83 .5h1.1M87 .5h1.1M148 .5h1.1M156 .5h1.1M161 .5h1.1M349 .5h1.1" stroke="#d4ff00"/>
<path d="M50 .5h1.1M97 .5h1.1M149 .5h1.1M352 .5h1.1" stroke="#f3ff00"/>
<path d="M52 .5h1.1M65 .5h1.1M118 .5h1.1M146 .5h2M166 .5h1.1M169 .5h1.1M226 .5h1.1M292 .5h1.1M377 .5h1.1" stroke="#32ff0d"/>
<path d="M56 .5h1.1M129 .5h1.1M184 .5h1.1M234 .5h1.1M269 .5h1.1M273 .5h1.1M325 .5h1.1M328 .5h1.1M379 .5h1.1" stroke="#0082ff"/>
<path d="M58 .5h1.1M67 .5h1.1M82 .5h1.1M172 .5h1.1M181 .5h1.1M228 .5h1.1" stroke="#7dff03"/>
<path d="M59 .5h1.1M112 .5h1.1M122 .5h1.1M143 .5h1.1M171 .5h1.1M175 .5h1.1M358 .5h1.1" stroke="#64ff07"/>
<path d="M60 .5h2M66 .5h1.1M74 .5h1.1M95 .5h1.1M124 .5h1.1M168 .5h1.1M170 .5h1.1M179 .5h1.1" stroke="#19ff11"/>
<path d="M63 .5h1.1M115 .5h1.1" stroke="#e3ff00"/>
<path d="M75 .5h1.1M91 .5h1.1M102 .5h1.1M111 .5h1.1M120 .5h1.1M191 .5h1.1M353 .5h1.1" stroke="#a5ff00"/>
<path d="M77 .5h1.1M86 .5h1.1M88 .5h1.1M165 .5h1.1M180 .5h1.1M231 .5h1.1M356 .5h1.1" stroke="#00ff14"/>
<path d="M78 .5h1.1M92 .5h1.1M116 .5h1.1M133 .5h1.1M144 .5h1.1M154 .5h1.1M159 .5h1.1M182 .5h1.1M194 .5h1.1M214 .5h1.1M239 .5h1.1M283 .5h1.1M312 .5h1.1" stroke="#00ff7d"/>
<path d="M81 .5h1.1M90 .5h1.1M96 .5h1.1M101 .5h1.1M155 .5h1.1M355 .5h1.1" stroke="#96ff00"/>
<path d="M98 .5h1.1M117 .5h1.1M145 .5h1.1M173 .5h1.1M350 .5h1.1" stroke="#ffe800"/>
<path d="M106 .5h1.1M136 .5h1.1M256 .5h1.1M264 .5h1.1M308 .5h1.1M366 .5h1.1" stroke="#002fff"/>
<path d="M130 .5h1.1" stroke="#ffd300"/>
<path d="M157 .5h1.1" stroke="#000000"/>
<path d="M174 .5h1.1M374 .5h1.1" stroke="#fff200"/>
<path d="M188 .5h1.1M190 .5h1.1" stroke="#ffdd00"/>
<path d="M189 .5h1.1" stroke="#ff8300"/>
<path d="M193 .5h1.1" stroke="#fffd00"/>
<path d="M249 .5h1.1M279 .5h1.1M284 .5h1.1M297 .5h1.1M310 .5h1.1M329 .5h1.1M372 .5h1.1" stroke="#0e07f5"/>
<path d="M286 .5h1.1M293 .5h1.1" stroke="#1c05eb"/>
<path d="M315 .5h1.1" stroke="#101010"/>
<path d="M334 .5h1.1M348 .5h1.1M362 .5h1.1" stroke="#00a5ff"/>
<path d="M357 .5h1.1" stroke="#ff9400"/>
</g>
<g transform="translate(923.5 801.8) scale(1.6 8.6)" stroke-width="1.06">
<path d="M0 .5h1.1M29 .5h2M44 .5h1.1M52 .5h1.1M137 .5h1.1M172 .5h1.1M190 .5h1.1M242 .5h1.1M377 .5h1.1" stroke="#00fbe7"/>
<path d="M1 .5h1.1M199 .5h1.1M209 .5h2M217 .5h1.1M221 .5h1.1M264 .5h1.1M272 .5h2M277 .5h1.1M317 .5h1.1M319 .5h1.1M360 .5h1.1" stroke="#004eff"/>
<path d="M2 .5h3M11 .5h1.1M15 .5h1.1M24 .5h1.1M47 .5h1.1M56 .5h1.1M106 .5h1.1M186 .5h1.1M195 .5h2M198 .5h1.1M200 .5h1.1M202 .5h1.1M205 .5h1.1M208 .5h1.1M227 .5h1.1M229 .5h1.1M235 .5h1.1M238 .5h1.1M245 .5h4M251 .5h1.1M257 .5h1.1M263 .5h1.1M266 .5h2M274 .5h1.1M278 .5h1.1M280 .5h2M285 .5h6M293 .5h1.1M295 .5h1.1M298 .5h10.1M309 .5h3M313 .5h1.1M325 .5h7M367 .5h6M378 .5h1.1" stroke="#2902e1"/>
<path d="M5 .5h1.1M115 .5h1.1M178 .5h3M236 .5h1.1M250 .5h1.1" stroke="#00c1ff"/>
<path d="M6 .5h1.1M18 .5h1.1M23 .5h1.1M89 .5h1.1M104 .5h1.1M107 .5h1.1M113 .5h1.1M119 .5h1.1M134 .5h1.1M152 .5h1.1M191 .5h1.1M226 .5h1.1M320 .5h1.1M348 .5h1.1M381 .5h1.1" stroke="#0094ff"/>
<path d="M7 .5h1.1M22 .5h1.1M42 .5h1.1M65 .5h1.1M88 .5h1.1M109 .5h1.1M131 .5h1.1M164 .5h1.1M176 .5h1.1M187 .5h1.1M218 .5h1.1M253 .5h1.1M282 .5h2M341 .5h1.1M366 .5h1.1" stroke="#00cfff"/>
<path d="M8 .5h1.1M64 .5h1.1M213 .5h1.1M220 .5h1.1M249 .5h1.1M262 .5h1.1M269 .5h1.1M359 .5h1.1M379 .5h1.1" stroke="#003cff"/>
<path d="M9 .5h1.1M20 .5h1.1M184 .5h1.1M203 .5h2M223 .5h1.1M297 .5h1.1M323 .5h1.1" stroke="#1c05eb"/>
<path d="M10 .5h1.1M12 .5h1.1M21 .5h1.1M93 .5h1.1M128 .5h1.1M212 .5h1.1M219 .5h1.1M225 .5h1.1M255 .5h2M275 .5h2M363 .5h1.1M380 .5h1.1" stroke="#005fff"/>
<path d="M13 .5h1.1M25 .5h1.1M105 .5h1.1M108 .5h1.1M110 .5h1.1M206 .5h1.1M214 .5h1.1M265 .5h1.1M308 .5h1.1M336 .5h1.1" stroke="#0082ff"/>
<path d="M14 .5h1.1M36 .5h1.1M57 .5h1.1M222 .5h1.1M224 .5h1.1M234 .5h1.1M322 .5h1.1M364 .5h1.1" stroke="#0017ff"/>
<path d="M16 .5h1.1M103 .5h1.1M183 .5h1.1M284 .5h1.1M294 .5h1.1M296 .5h1.1M332 .5h1.1" stroke="#0e07f5"/>
<path d="M17 .5h1.1M37 .5h1.1M53 .5h1.1M201 .5h1.1M240 .5h1.1M254 .5h1.1M270 .5h1.1M312 .5h1.1" stroke="#0071ff"/>
<path d="M19 .5h1.1M35 .5h1.1M59 .5h1.1M79 .5h1.1M101 .5h1.1M120 .5h1.1M122 .5h1.1M150 .5h1.1M154 .5h1.1M162 .5h1.1M177 .5h1.1M181 .5h1.1M334 .5h1.1" stroke="#00fcd0"/>
<path d="M26 .5h1.1M260 .5h1.1M271 .5h1.1M291 .5h1.1M318 .5h1.1" stroke="#00a5ff"/>
<path d="M27 .5h1.1M48 .5h1.1M94 .5h1.1M102 .5h1.1M117 .5h1.1M163 .5h1.1M170 .5h1.1M230 .5h1.1" stroke="#00feb8"/>
<path d="M28 .5h1.1M71 .5h1.1M80 .5h1.1M146 .5h1.1M168 .5h1.1M175 .5h1.1" stroke="#00ff14"/>
<path d="M31 .5h1.1M38 .5h1.1M63 .5h1.1M140 .5h1.1M158 .5h1.1M252 .5h1.1M345 .5h1.1M347 .5h1.1M357 .5h1.1" stroke="#32ff0d"/>
<path d="M32 .5h1.1M46 .5h1.1M61 .5h2M66 .5h1.1M85 .5h1.1M91 .5h1.1M129 .5h1.1M138 .5h1.1M215 .5h1.1M259 .5h1.1M346 .5h1.1" stroke="#00faff"/>
<path d="M33 .5h1.1M135 .5h1.1M171 .5h1.1M211 .5h1.1M374 .5h1.1" stroke="#00ff7d"/>
<path d="M34 .5h1.1M45 .5h1.1M116 .5h1.1M126 .5h1.1M142 .5h1.1M153 .5h1.1M159 .5h1.1M167 .5h1.1M182 .5h1.1M194 .5h1.1M197 .5h1.1M216 .5h1.1M228 .5h1.1M231 .5h1.1M339 .5h1.1M375 .5h1.1" stroke="#00b3ff"/>
<path d="M39 .5h1.1M49 .5h1.1M51 .5h1.1M77 .5h1.1M84 .5h1.1M125 .5h1.1M143 .5h1.1M160 .5h1.1M165 .5h1.1M189 .5h1.1M353 .5h1.1" stroke="#00ff37"/>
<path d="M40 .5h1.1M81 .5h2M96 .5h1.1M130 .5h1.1M173 .5h1.1M355 .5h2" stroke="#64ff07"/>
<path d="M41 .5h1.1" stroke="#b80000"/>
<path d="M43 .5h1.1M55 .5h1.1M99 .5h1.1M241 .5h1.1M244 .5h1.1M321 .5h1.1M344 .5h1.1M376 .5h1.1" stroke="#002fff"/>
<path d="M50 .5h1.1M68 .5h1.1M95 .5h1.1M147 .5h1.1M161 .5h1.1M351 .5h1.1" stroke="#7dff03"/>
<path d="M54 .5h1.1M232 .5h2M258 .5h1.1M268 .5h1.1M279 .5h1.1M335 .5h1.1M343 .5h1.1" stroke="#0023ff"/>
<path d="M58 .5h1.1M69 .5h1.1M98 .5h1.1M114 .5h1.1M136 .5h1.1M192 .5h1.1M207 .5h1.1M333 .5h1.1M338 .5h1.1M365 .5h1.1M373 .5h1.1" stroke="#00deff"/>
<path d="M60 .5h1.1M90 .5h1.1M92 .5h1.1M111 .5h2M118 .5h1.1M121 .5h1.1M139 .5h1.1M239 .5h1.1M243 .5h1.1M314 .5h1.1M337 .5h1.1M340 .5h1.1M354 .5h1.1M361 .5h2" stroke="#00ecff"/>
<path d="M67 .5h1.1M70 .5h1.1M166 .5h1.1M169 .5h1.1M237 .5h1.1M349 .5h1.1" stroke="#4bff0a"/>
<path d="M72 .5h1.1M75 .5h1.1M148 .5h1.1" stroke="#c4ff00"/>
<path d="M73 .5h1.1M151 .5h1.1M188 .5h1.1" stroke="#96ff00"/>
<path d="M74 .5h1.1M97 .5h1.1M123 .5h2M133 .5h1.1M141 .5h1.1" stroke="#00ff5a"/>
<path d="M76 .5h1.1M87 .5h1.1M132 .5h1.1" stroke="#d4ff00"/>
<path d="M78 .5h1.1M86 .5h1.1M100 .5h1.1M144 .5h1.1M156 .5h1.1M358 .5h1.1" stroke="#19ff11"/>
<path d="M83 .5h1.1" stroke="#fffd00"/>
<path d="M127 .5h1.1M155 .5h1.1M261 .5h1.1M292 .5h1.1M342 .5h1.1" stroke="#00ffa0"/>
<path d="M145 .5h1.1M193 .5h1.1" stroke="#f3ff00"/>
<path d="M149 .5h1.1" stroke="#a5ff00"/>
<path d="M157 .5h1.1" stroke="#000000"/>
<path d="M174 .5h1.1" stroke="#b5ff00"/>
<path d="M185 .5h1.1M316 .5h1.1M324 .5h1.1" stroke="#000aff"/>
<path d="M315 .5h1.1" stroke="#101010"/>
<path d="M350 .5h1.1" stroke="#ffdd00"/>
<path d="M352 .5h1.1" stroke="#fff200"/>
</g>
<g transform="translate(923.5 810.4) scale(1.6 9.2)" stroke-width="1.06">
<path d="M0 .5h1.1M5 .5h1.1M13 .5h1.1M79 .5h1.1M122 .5h1.1M131 .5h1.1M142 .5h1.1M254 .5h1.1M288 .5h1.1M314 .5h1.1M345 .5h1.1" stroke="#00c1ff"/>
<path d="M1 .5h1.1M61 .5h1.1M89 .5h1.1M134 .5h1.1M167 .5h1.1M200 .5h1.1M243 .5h1.1M270 .5h1.1M343 .5h1.1M346 .5h1.1M362 .5h1.1" stroke="#003cff"/>
<path d="M2 .5h3M9 .5h1.1M11 .5h1.1M14 .5h1.1M16 .5h1.1M20 .5h3M36 .5h1.1M47 .5h1.1M52 .5h3M56 .5h1.1M106 .5h1.1M108 .5h2M119 .5h1.1M180 .5h2M183 .5h2M186 .5h1.1M195 .5h2M208 .5h1.1M223 .5h1.1M227 .5h1.1M229 .5h1.1M232 .5h2M238 .5h1.1M241 .5h1.1M244 .5h6M251 .5h1.1M263 .5h1.1M266 .5h1.1M269 .5h1.1M274 .5h1.1M278 .5h1.1M280 .5h2M284 .5h1.1M287 .5h1.1M289 .5h2M293 .5h3M297 .5h1.1M299 .5h2M302 .5h8.1M311 .5h1.1M313 .5h1.1M316 .5h1.1M318 .5h2M326 .5h7M335 .5h2M367 .5h5M378 .5h1.1" stroke="#2902e1"/>
<path d="M6 .5h1.1M80 .5h1.1M102 .5h1.1M117 .5h1.1M127 .5h1.1M138 .5h1.1M291 .5h1.1M381 .5h1.1" stroke="#00cfff"/>
<path d="M7 .5h1.1M90 .5h1.1M99 .5h1.1M115 .5h1.1M129 .5h1.1M211 .5h1.1M255 .5h1.1M344 .5h1.1M359 .5h1.1" stroke="#0082ff"/>
<path d="M8 .5h1.1M35 .5h1.1M45 .5h1.1M62 .5h1.1M112 .5h1.1M118 .5h1.1M136 .5h1.1M198 .5h1.1M216 .5h1.1M219 .5h1.1M224 .5h1.1M262 .5h1.1M267 .5h1.1M277 .5h1.1M296 .5h1.1M310 .5h1.1M320 .5h1.1M325 .5h1.1" stroke="#0017ff"/>
<path d="M10 .5h1.1M17 .5h1.1M103 .5h1.1M105 .5h1.1M110 .5h1.1M205 .5h1.1M210 .5h1.1M213 .5h1.1M273 .5h1.1M276 .5h1.1M285 .5h1.1M322 .5h1.1M354 .5h1.1M364 .5h1.1" stroke="#0e07f5"/>
<path d="M12 .5h1.1M42 .5h1.1M60 .5h1.1M65 .5h1.1M162 .5h1.1M164 .5h1.1M178 .5h1.1M240 .5h1.1M253 .5h1.1M341 .5h1.1M361 .5h1.1" stroke="#00a5ff"/>
<path d="M15 .5h1.1M104 .5h1.1M185 .5h1.1M203 .5h1.1M268 .5h1.1M272 .5h1.1M275 .5h1.1M279 .5h1.1M301 .5h1.1M321 .5h1.1M360 .5h1.1" stroke="#1c05eb"/>
<path d="M18 .5h1.1M58 .5h1.1M111 .5h1.1M116 .5h1.1M128 .5h1.1M206 .5h2M214 .5h1.1M264 .5h1.1M376 .5h1.1" stroke="#005fff"/>
<path d="M19 .5h1.1M95 .5h1.1M124 .5h1.1M146 .5h1.1M259 .5h1.1M261 .5h1.1M271 .5h1.1M347 .5h1.1" stroke="#00fbe7"/>
<path d="M23 .5h1.1M38 .5h1.1M153 .5h1.1M366 .5h1.1" stroke="#00b3ff"/>
<path d="M24 .5h1.1M46 .5h1.1M64 .5h1.1M107 .5h1.1M120 .5h1.1M217 .5h1.1M220 .5h1.1M222 .5h1.1M225 .5h1.1M265 .5h1.1M282 .5h1.1M298 .5h1.1M323 .5h1.1M333 .5h1.1M372 .5h1.1" stroke="#000aff"/>
<path d="M25 .5h2M77 .5h1.1M88 .5h1.1M101 .5h1.1M123 .5h1.1M159 .5h1.1M177 .5h1.1M236 .5h1.1M250 .5h1.1M260 .5h1.1M312 .5h1.1M348 .5h1.1M380 .5h1.1" stroke="#00deff"/>
<path d="M27 .5h1.1M33 .5h1.1M48 .5h1.1M63 .5h1.1M78 .5h1.1M163 .5h1.1M187 .5h1.1M199 .5h1.1M231 .5h1.1M242 .5h1.1M252 .5h1.1M355 .5h1.1" stroke="#00faff"/>
<path d="M28 .5h1.1M73 .5h1.1M130 .5h1.1M148 .5h2M156 .5h1.1M161 .5h1.1" stroke="#32ff0d"/>
<path d="M29 .5h1.1M59 .5h1.1M66 .5h1.1M121 .5h1.1M137 .5h1.1M139 .5h1.1M176 .5h1.1M256 .5h1.1" stroke="#0094ff"/>
<path d="M30 .5h1.1M32 .5h1.1M34 .5h1.1M43 .5h1.1M57 .5h1.1M114 .5h1.1M202 .5h1.1M204 .5h1.1M221 .5h1.1M235 .5h1.1M317 .5h1.1" stroke="#0023ff"/>
<path d="M31 .5h1.1M84 .5h1.1M98 .5h1.1M140 .5h2M165 .5h1.1M168 .5h1.1M201 .5h1.1M356 .5h1.1" stroke="#00ffa0"/>
<path d="M37 .5h1.1M113 .5h1.1M150 .5h1.1M182 .5h1.1M209 .5h1.1M212 .5h1.1M215 .5h1.1M257 .5h1.1M324 .5h1.1M334 .5h1.1M365 .5h1.1" stroke="#002fff"/>
<path d="M39 .5h1.1M44 .5h1.1M51 .5h1.1M55 .5h1.1M135 .5h1.1M144 .5h1.1M191 .5h1.1M194 .5h1.1M234 .5h1.1M258 .5h1.1M337 .5h1.1M379 .5h1.1" stroke="#0071ff"/>
<path d="M40 .5h1.1M49 .5h1.1M74 .5h1.1M94 .5h1.1M172 .5h1.1M237 .5h1.1M239 .5h1.1M342 .5h1.1M377 .5h1.1" stroke="#00ff37"/>
<path d="M41 .5h1.1" stroke="#d30000"/>
<path d="M50 .5h1.1M69 .5h1.1M97 .5h1.1M154 .5h1.1M158 .5h1.1M175 .5h1.1M190 .5h1.1M292 .5h1.1M340 .5h1.1M358 .5h1.1M375 .5h1.1" stroke="#00feb8"/>
<path d="M67 .5h1.1M147 .5h1.1M189 .5h1.1M353 .5h1.1" stroke="#00ff14"/>
<path d="M68 .5h1.1M351 .5h1.1" stroke="#f3ff00"/>
<path d="M70 .5h1.1M72 .5h1.1M174 .5h1.1" stroke="#96ff00"/>
<path d="M71 .5h1.1M82 .5h1.1M86 .5h1.1M91 .5h1.1M169 .5h1.1" stroke="#19ff11"/>
<path d="M75 .5h1.1M160 .5h1.1M188 .5h1.1" stroke="#64ff07"/>
<path d="M76 .5h1.1M85 .5h1.1" stroke="#00fcd0"/>
<path d="M81 .5h1.1M145 .5h1.1" stroke="#00ff7d"/>
<path d="M83 .5h1.1" stroke="#b5ff00"/>
<path d="M87 .5h1.1M132 .5h1.1M173 .5h1.1" stroke="#e3ff00"/>
<path d="M92 .5h1.1M125 .5h2M143 .5h1.1M151 .5h1.1M192 .5h1.1M228 .5h1.1" stroke="#00ecff"/>
<path d="M93 .5h1.1M152 .5h1.1M179 .5h1.1M197 .5h1.1M218 .5h1.1M226 .5h1.1M283 .5h1.1M286 .5h1.1M338 .5h2M363 .5h1.1" stroke="#004eff"/>
<path d="M96 .5h1.1M133 .5h1.1M155 .5h1.1" stroke="#7dff03"/>
<path d="M100 .5h1.1M166 .5h1.1M170 .5h1.1" stroke="#00ff5a"/>
<path d="M157 .5h1.1" stroke="#000000"/>
<path d="M171 .5h1.1M230 .5h1.1M349 .5h1.1M373 .5h1.1" stroke="#4bff0a"/>
<path d="M193 .5h1.1" stroke="#d4ff00"/>
<path d="M315 .5h1.1" stroke="#101010"/>
<path d="M350 .5h1.1" stroke="#ffa500"/>
<path d="M352 .5h1.1" stroke="#ffe800"/>
<path d="M357 .5h1.1" stroke="#fff200"/>
<path d="M374 .5h1.1" stroke="#ff7100"/>
</g>
<g transform="translate(923.5 819.6) scale(1.6 8.5)" stroke-width="1.06">
<path d="M0 .5h1.1M131 .5h1.1M199 .5h1.1M231 .5h1.1M259 .5h1.1M283 .5h1.1M376 .5h1.1M380 .5h1.1" stroke="#00cfff"/>
<path d="M1 .5h1.1M58 .5h2M62 .5h1.1M99 .5h1.1M112 .5h1.1M150 .5h1.1M207 .5h1.1M214 .5h1.1M219 .5h1.1M233 .5h1.1M248 .5h1.1M267 .5h1.1M277 .5h1.1M321 .5h1.1M332 .5h1.1M334 .5h1.1M348 .5h1.1M354 .5h1.1" stroke="#000aff"/>
<path d="M2 .5h3M8 .5h4M23 .5h1.1M36 .5h1.1M39 .5h1.1M42 .5h6M53 .5h4M64 .5h2M106 .5h3M110 .5h1.1M114 .5h1.1M118 .5h2M183 .5h2M195 .5h2M198 .5h1.1M204 .5h1.1M208 .5h1.1M213 .5h1.1M217 .5h1.1M220 .5h6M227 .5h1.1M229 .5h1.1M244 .5h4M249 .5h1.1M266 .5h1.1M274 .5h1.1M278 .5h1.1M280 .5h2M287 .5h4M293 .5h3M298 .5h3M302 .5h5M308 .5h4M313 .5h1.1M316 .5h1.1M322 .5h1.1M325 .5h2M328 .5h4M335 .5h1.1M343 .5h1.1M360 .5h1.1M367 .5h3M371 .5h1.1" stroke="#2902e1"/>
<path d="M5 .5h1.1M29 .5h1.1M143 .5h2M240 .5h1.1M292 .5h1.1" stroke="#00c1ff"/>
<path d="M6 .5h1.1M40 .5h1.1M63 .5h1.1M78 .5h1.1M94 .5h1.1M154 .5h1.1M176 .5h1.1M242 .5h1.1M260 .5h1.1M355 .5h1.1M362 .5h2" stroke="#00deff"/>
<path d="M7 .5h1.1M20 .5h1.1M26 .5h1.1M111 .5h1.1M115 .5h1.1M153 .5h1.1M185 .5h1.1M243 .5h1.1M269 .5h1.1M324 .5h1.1" stroke="#003cff"/>
<path d="M12 .5h1.1M15 .5h2M18 .5h1.1M25 .5h1.1M38 .5h1.1M85 .5h1.1M95 .5h1.1M122 .5h1.1M126 .5h1.1M162 .5h1.1M253 .5h1.1M264 .5h2M359 .5h1.1" stroke="#00a5ff"/>
<path d="M13 .5h1.1M69 .5h1.1M160 .5h1.1M163 .5h1.1M169 .5h1.1M381 .5h1.1" stroke="#00ff7d"/>
<path d="M14 .5h1.1M21 .5h1.1M32 .5h1.1M90 .5h1.1M102 .5h1.1M117 .5h1.1M127 .5h1.1M178 .5h1.1M191 .5h1.1M254 .5h1.1M346 .5h1.1" stroke="#00b3ff"/>
<path d="M17 .5h1.1M30 .5h1.1M51 .5h1.1M91 .5h2M134 .5h1.1M167 .5h1.1M180 .5h1.1M182 .5h1.1M241 .5h1.1M256 .5h1.1M262 .5h1.1M268 .5h1.1M297 .5h1.1" stroke="#0071ff"/>
<path d="M19 .5h1.1M98 .5h1.1M133 .5h1.1M146 .5h1.1M149 .5h1.1M192 .5h1.1M353 .5h1.1" stroke="#32ff0d"/>
<path d="M22 .5h1.1M48 .5h1.1M60 .5h2M128 .5h1.1M135 .5h1.1M276 .5h1.1M279 .5h1.1M282 .5h1.1" stroke="#004eff"/>
<path d="M24 .5h1.1M37 .5h1.1M105 .5h1.1M121 .5h1.1M210 .5h1.1M257 .5h1.1M296 .5h1.1M364 .5h1.1M366 .5h1.1" stroke="#002fff"/>
<path d="M27 .5h1.1M120 .5h1.1M151 .5h1.1M181 .5h1.1M202 .5h1.1M215 .5h1.1M236 .5h1.1M270 .5h1.1M338 .5h1.1M341 .5h1.1M379 .5h1.1" stroke="#005fff"/>
<path d="M28 .5h1.1M96 .5h1.1M100 .5h1.1M158 .5h1.1M175 .5h1.1" stroke="#00ff14"/>
<path d="M31 .5h1.1M74 .5h1.1M87 .5h1.1M230 .5h1.1" stroke="#4bff0a"/>
<path d="M33 .5h1.1M89 .5h1.1M97 .5h1.1M125 .5h1.1M138 .5h1.1M170 .5h1.1M179 .5h1.1M200 .5h1.1M250 .5h1.1" stroke="#00ecff"/>
<path d="M34 .5h1.1M93 .5h1.1M136 .5h1.1M206 .5h1.1M218 .5h1.1M228 .5h1.1M234 .5h2M339 .5h2M344 .5h1.1" stroke="#0082ff"/>
<path d="M35 .5h1.1M142 .5h1.1M159 .5h1.1M187 .5h1.1M211 .5h1.1M238 .5h1.1M255 .5h1.1M291 .5h1.1M312 .5h1.1M361 .5h1.1M365 .5h1.1" stroke="#0094ff"/>
<path d="M41 .5h1.1M77 .5h1.1M86 .5h1.1M88 .5h1.1M139 .5h1.1M161 .5h1.1M168 .5h1.1M188 .5h1.1M271 .5h1.1M358 .5h1.1" stroke="#00ffa0"/>
<path d="M49 .5h1.1M80 .5h1.1M84 .5h1.1M165 .5h1.1M375 .5h1.1" stroke="#00fcd0"/>
<path d="M50 .5h1.1M101 .5h1.1M141 .5h1.1M194 .5h1.1" stroke="#00fbe7"/>
<path d="M52 .5h1.1M116 .5h1.1M152 .5h1.1M197 .5h1.1M251 .5h1.1M275 .5h1.1M284 .5h1.1M301 .5h1.1M318 .5h1.1M320 .5h1.1M336 .5h2" stroke="#0017ff"/>
<path d="M57 .5h1.1M103 .5h2M113 .5h1.1M186 .5h1.1M205 .5h1.1M209 .5h1.1M272 .5h1.1M286 .5h1.1M307 .5h1.1M319 .5h1.1M370 .5h1.1M378 .5h1.1" stroke="#0e07f5"/>
<path d="M66 .5h1.1M212 .5h1.1M216 .5h1.1M232 .5h1.1M263 .5h1.1M273 .5h1.1M317 .5h1.1M333 .5h1.1" stroke="#0023ff"/>
<path d="M67 .5h1.1M124 .5h1.1M129 .5h1.1M140 .5h1.1M177 .5h1.1M314 .5h1.1M349 .5h1.1" stroke="#00feb8"/>
<path d="M68 .5h1.1M75 .5h1.1" stroke="#a5ff00"/>
<path d="M70 .5h1.1M173 .5h1.1" stroke="#96ff00"/>
<path d="M71 .5h1.1M73 .5h1.1M351 .5h2" stroke="#64ff07"/>
<path d="M72 .5h1.1" stroke="#e3ff00"/>
<path d="M76 .5h1.1M82 .5h1.1M145 .5h1.1M174 .5h1.1M350 .5h1.1" stroke="#7dff03"/>
<path d="M79 .5h1.1M137 .5h1.1M164 .5h1.1M189 .5h1.1M252 .5h1.1M261 .5h1.1M347 .5h1.1" stroke="#00faff"/>
<path d="M81 .5h1.1M156 .5h1.1M171 .5h1.1M373 .5h1.1M377 .5h1.1" stroke="#19ff11"/>
<path d="M83 .5h1.1" stroke="#f3ff00"/>
<path d="M109 .5h1.1M203 .5h1.1M226 .5h1.1M258 .5h1.1M285 .5h1.1M323 .5h1.1M327 .5h1.1M372 .5h1.1" stroke="#1c05eb"/>
<path d="M123 .5h1.1M148 .5h1.1M155 .5h1.1M166 .5h1.1M172 .5h1.1M190 .5h1.1M237 .5h1.1M239 .5h1.1M342 .5h1.1M356 .5h1.1" stroke="#00ff5a"/>
<path d="M130 .5h1.1" stroke="#c4ff00"/>
<path d="M132 .5h1.1" stroke="#ffb700"/>
<path d="M147 .5h1.1M201 .5h1.1M345 .5h1.1" stroke="#00ff37"/>
<path d="M157 .5h1.1" stroke="#000000"/>
<path d="M193 .5h1.1" stroke="#ffdd00"/>
<path d="M315 .5h1.1" stroke="#101010"/>
<path d="M357 .5h1.1" stroke="#d4ff00"/>
<path d="M374 .5h1.1" stroke="#fffd00"/>
</g>
<g transform="translate(923.5 828.1) scale(1.6 8.5)" stroke-width="1.06">
<path d="M0 .5h1.1M124 .5h1.1M236 .5h1.1M239 .5h1.1M362 .5h2M366 .5h1.1M381 .5h1.1" stroke="#00ff5a"/>
<path d="M1 .5h1.1M25 .5h1.1M88 .5h1.1M97 .5h2M102 .5h1.1M127 .5h1.1M191 .5h1.1M241 .5h1.1M245 .5h1.1" stroke="#0094ff"/>
<path d="M2 .5h3M9 .5h1.1M11 .5h1.1M20 .5h1.1M24 .5h1.1M36 .5h2M42 .5h6M53 .5h6M60 .5h2M64 .5h1.1M99 .5h1.1M104 .5h11.1M119 .5h1.1M134 .5h1.1M183 .5h2M186 .5h1.1M195 .5h2M213 .5h1.1M216 .5h2M220 .5h1.1M222 .5h3M227 .5h1.1M232 .5h2M248 .5h1.1M266 .5h2M274 .5h1.1M278 .5h1.1M280 .5h2M286 .5h2M289 .5h1.1M293 .5h1.1M297 .5h4M303 .5h3M307 .5h1.1M309 .5h1.1M311 .5h1.1M313 .5h1.1M326 .5h1.1M329 .5h3M333 .5h4M343 .5h1.1M371 .5h1.1" stroke="#2902e1"/>
<path d="M5 .5h1.1M21 .5h1.1M40 .5h1.1M177 .5h1.1M231 .5h1.1M243 .5h1.1M273 .5h1.1M279 .5h1.1M370 .5h1.1" stroke="#00c1ff"/>
<path d="M6 .5h1.1M14 .5h1.1M86 .5h1.1M115 .5h1.1M133 .5h1.1M176 .5h1.1M228 .5h1.1M253 .5h1.1M255 .5h1.1M284 .5h1.1M367 .5h1.1" stroke="#0082ff"/>
<path d="M7 .5h1.1M10 .5h1.1M180 .5h1.1M205 .5h1.1M218 .5h1.1M238 .5h1.1M251 .5h1.1M319 .5h1.1M321 .5h2M344 .5h1.1" stroke="#002fff"/>
<path d="M8 .5h1.1M27 .5h1.1M29 .5h1.1M39 .5h1.1M62 .5h1.1M118 .5h1.1M167 .5h1.1M247 .5h1.1M288 .5h1.1M290 .5h1.1M294 .5h1.1M340 .5h1.1" stroke="#0017ff"/>
<path d="M12 .5h1.1M31 .5h1.1M87 .5h1.1M123 .5h1.1M142 .5h1.1M154 .5h1.1M242 .5h1.1M283 .5h1.1M345 .5h1.1" stroke="#00fbe7"/>
<path d="M13 .5h1.1M166 .5h1.1M356 .5h1.1" stroke="#00ffa0"/>
<path d="M15 .5h1.1M59 .5h1.1M204 .5h1.1M210 .5h1.1M212 .5h1.1M221 .5h1.1M234 .5h2M275 .5h1.1M277 .5h1.1M338 .5h1.1M368 .5h1.1" stroke="#000aff"/>
<path d="M16 .5h1.1M48 .5h1.1M85 .5h1.1M121 .5h1.1M128 .5h1.1M164 .5h1.1M182 .5h1.1M185 .5h1.1M187 .5h1.1M249 .5h1.1M257 .5h1.1M263 .5h1.1M282 .5h1.1" stroke="#0071ff"/>
<path d="M17 .5h3M32 .5h1.1M34 .5h1.1M120 .5h1.1M122 .5h1.1M136 .5h2M159 .5h1.1M207 .5h1.1M226 .5h1.1M240 .5h1.1M256 .5h1.1M378 .5h1.1" stroke="#005fff"/>
<path d="M22 .5h1.1M78 .5h1.1M117 .5h1.1M125 .5h1.1M190 .5h1.1M252 .5h1.1M260 .5h1.1M269 .5h1.1M359 .5h1.1" stroke="#00feb8"/>
<path d="M23 .5h1.1M30 .5h1.1M65 .5h1.1M89 .5h1.1M93 .5h1.1M153 .5h1.1M200 .5h1.1M246 .5h1.1M327 .5h1.1M339 .5h1.1M354 .5h1.1M369 .5h1.1M372 .5h1.1" stroke="#0023ff"/>
<path d="M26 .5h1.1M52 .5h1.1M103 .5h1.1M203 .5h1.1M208 .5h1.1M214 .5h1.1M219 .5h1.1M225 .5h1.1M302 .5h1.1M316 .5h1.1M320 .5h1.1" stroke="#1c05eb"/>
<path d="M28 .5h1.1M38 .5h1.1M50 .5h1.1M91 .5h1.1M101 .5h1.1M139 .5h1.1M150 .5h2M163 .5h1.1M179 .5h1.1M254 .5h1.1M265 .5h1.1" stroke="#00cfff"/>
<path d="M33 .5h1.1M160 .5h1.1M312 .5h1.1M342 .5h1.1" stroke="#00deff"/>
<path d="M35 .5h1.1M51 .5h1.1M202 .5h1.1M229 .5h1.1M268 .5h1.1M276 .5h1.1M318 .5h1.1M323 .5h1.1M364 .5h1.1" stroke="#004eff"/>
<path d="M41 .5h1.1M132 .5h1.1M350 .5h1.1M373 .5h1.1" stroke="#a5ff00"/>
<path d="M49 .5h1.1M71 .5h1.1M77 .5h1.1M100 .5h1.1M170 .5h1.1M361 .5h1.1" stroke="#00ecff"/>
<path d="M63 .5h1.1M79 .5h1.1M94 .5h2M126 .5h1.1M129 .5h1.1M135 .5h1.1M158 .5h1.1M181 .5h1.1M199 .5h1.1M206 .5h1.1M317 .5h1.1M360 .5h1.1" stroke="#00b3ff"/>
<path d="M66 .5h1.1M116 .5h1.1M138 .5h1.1M152 .5h1.1M209 .5h1.1M211 .5h1.1M215 .5h1.1M244 .5h1.1M308 .5h1.1M310 .5h1.1M324 .5h1.1M337 .5h1.1" stroke="#003cff"/>
<path d="M67 .5h1.1M188 .5h1.1M261 .5h1.1" stroke="#64ff07"/>
<path d="M68 .5h1.1M72 .5h1.1M237 .5h1.1M349 .5h1.1" stroke="#96ff00"/>
<path d="M69 .5h1.1M140 .5h2M171 .5h1.1M346 .5h3M365 .5h1.1" stroke="#00fcd0"/>
<path d="M70 .5h1.1M73 .5h1.1M175 .5h1.1M355 .5h1.1M375 .5h1.1" stroke="#19ff11"/>
<path d="M74 .5h1.1M76 .5h1.1M81 .5h1.1M131 .5h1.1M144 .5h1.1M168 .5h1.1M189 .5h1.1M250 .5h1.1M272 .5h1.1" stroke="#00ff7d"/>
<path d="M75 .5h1.1M147 .5h1.1M292 .5h1.1M353 .5h1.1M380 .5h1.1" stroke="#00ff14"/>
<path d="M80 .5h1.1M84 .5h1.1M96 .5h1.1M161 .5h1.1M165 .5h1.1M172 .5h1.1M197 .5h1.1M264 .5h1.1M314 .5h1.1M341 .5h1.1" stroke="#00faff"/>
<path d="M82 .5h1.1M143 .5h1.1M270 .5h1.1M358 .5h1.1M379 .5h1.1" stroke="#00ff37"/>
<path d="M83 .5h1.1M259 .5h1.1M376 .5h1.1" stroke="#32ff0d"/>
<path d="M90 .5h1.1M92 .5h1.1M162 .5h1.1M178 .5h1.1M201 .5h1.1M258 .5h1.1M262 .5h1.1M291 .5h1.1M296 .5h1.1M301 .5h1.1M332 .5h1.1" stroke="#00a5ff"/>
<path d="M130 .5h1.1M145 .5h1.1M156 .5h1.1M173 .5h2" stroke="#7dff03"/>
<path d="M146 .5h1.1M155 .5h1.1M169 .5h1.1M194 .5h1.1" stroke="#4bff0a"/>
<path d="M148 .5h1.1M352 .5h1.1" stroke="#e3ff00"/>
<path d="M149 .5h1.1" stroke="#fff200"/>
<path d="M157 .5h1.1" stroke="#000000"/>
<path d="M192 .5h1.1M271 .5h1.1" stroke="#b5ff00"/>
<path d="M193 .5h1.1" stroke="#ff8300"/>
<path d="M198 .5h1.1M285 .5h1.1M295 .5h1.1M306 .5h1.1M325 .5h1.1M328 .5h1.1" stroke="#0e07f5"/>
<path d="M230 .5h1.1M377 .5h1.1" stroke="#d4ff00"/>
<path d="M315 .5h1.1" stroke="#101010"/>
<path d="M351 .5h1.1M374 .5h1.1" stroke="#f3ff00"/>
<path d="M357 .5h1.1" stroke="#fffd00"/>
</g>
<g transform="translate(923.5 836.6) scale(1.6 8.6)" stroke-width="1.06">
<path d="M0 .5h1.1M87 .5h1.1M96 .5h1.1M140 .5h1.1M149 .5h1.1M243 .5h1.1M361 .5h2M365 .5h1.1" stroke="#32ff0d"/>
<path d="M1 .5h1.1M40 .5h1.1M49 .5h1.1M150 .5h1.1M153 .5h1.1M159 .5h1.1M182 .5h1.1M202 .5h1.1M207 .5h1.1M211 .5h1.1M360 .5h1.1" stroke="#00a5ff"/>
<path d="M2 .5h1.1M30 .5h1.1M32 .5h1.1M36 .5h1.1M42 .5h6M52 .5h8.1M64 .5h2M99 .5h1.1M103 .5h6M110 .5h1.1M113 .5h2M119 .5h1.1M134 .5h1.1M180 .5h1.1M183 .5h4M195 .5h1.1M203 .5h1.1M213 .5h1.1M220 .5h4M225 .5h3M229 .5h1.1M266 .5h2M278 .5h1.1M280 .5h1.1M287 .5h1.1M298 .5h3M303 .5h3M307 .5h1.1M309 .5h1.1M311 .5h1.1M319 .5h1.1M326 .5h1.1M330 .5h2M335 .5h1.1M338 .5h1.1M371 .5h1.1" stroke="#2902e1"/>
<path d="M3 .5h1.1M20 .5h1.1M29 .5h1.1M48 .5h1.1M60 .5h2M116 .5h1.1M136 .5h1.1M214 .5h1.1M218 .5h1.1M316 .5h1.1M339 .5h1.1" stroke="#0017ff"/>
<path d="M4 .5h1.1M93 .5h1.1M122 .5h1.1M181 .5h1.1M187 .5h1.1M215 .5h1.1M327 .5h1.1M333 .5h1.1M337 .5h1.1" stroke="#003cff"/>
<path d="M5 .5h1.1M28 .5h1.1M86 .5h1.1M95 .5h1.1M97 .5h1.1M139 .5h1.1M142 .5h1.1M151 .5h1.1M170 .5h1.1M240 .5h1.1M245 .5h1.1M273 .5h1.1M347 .5h1.1" stroke="#00feb8"/>
<path d="M6 .5h1.1M100 .5h1.1M166 .5h1.1M168 .5h1.1M171 .5h1.1M189 .5h1.1M197 .5h1.1M253 .5h1.1M356 .5h1.1" stroke="#00ffa0"/>
<path d="M7 .5h1.1M14 .5h1.1M67 .5h1.1M71 .5h1.1M82 .5h1.1M125 .5h1.1M231 .5h1.1M235 .5h1.1M291 .5h1.1M355 .5h1.1" stroke="#00ff37"/>
<path d="M8 .5h1.1M23 .5h1.1M80 .5h1.1M241 .5h1.1M254 .5h1.1M259 .5h1.1M270 .5h1.1M279 .5h1.1M328 .5h1.1M344 .5h1.1M368 .5h1.1" stroke="#00fbe7"/>
<path d="M9 .5h2M15 .5h1.1M24 .5h1.1M92 .5h1.1M129 .5h1.1M164 .5h1.1M190 .5h1.1M248 .5h1.1M263 .5h1.1M272 .5h1.1M281 .5h1.1M295 .5h1.1M306 .5h1.1M346 .5h1.1" stroke="#0094ff"/>
<path d="M11 .5h1.1M34 .5h1.1M66 .5h1.1M115 .5h1.1M121 .5h1.1M178 .5h1.1M191 .5h1.1M208 .5h1.1M212 .5h1.1M289 .5h1.1M302 .5h1.1M313 .5h1.1" stroke="#0e07f5"/>
<path d="M12 .5h1.1M25 .5h1.1M77 .5h2M141 .5h1.1M155 .5h2M260 .5h1.1M353 .5h1.1" stroke="#00ff5a"/>
<path d="M13 .5h1.1M132 .5h1.1M357 .5h1.1M373 .5h1.1M377 .5h1.1" stroke="#a5ff00"/>
<path d="M16 .5h1.1M35 .5h1.1M162 .5h1.1M209 .5h1.1M228 .5h1.1M262 .5h1.1M268 .5h1.1M317 .5h1.1M321 .5h1.1M343 .5h1.1M378 .5h1.1" stroke="#0071ff"/>
<path d="M17 .5h1.1M31 .5h1.1M88 .5h1.1M94 .5h1.1M232 .5h1.1M269 .5h1.1M332 .5h1.1M367 .5h1.1M372 .5h1.1" stroke="#00c1ff"/>
<path d="M18 .5h1.1M69 .5h1.1M81 .5h1.1M160 .5h1.1M238 .5h1.1M252 .5h1.1M261 .5h1.1M312 .5h1.1M364 .5h1.1M379 .5h1.1" stroke="#00ff7d"/>
<path d="M19 .5h1.1M21 .5h1.1M137 .5h1.1M154 .5h1.1M158 .5h1.1M161 .5h1.1" stroke="#00fcd0"/>
<path d="M22 .5h1.1M38 .5h1.1M63 .5h1.1M91 .5h1.1M131 .5h1.1M165 .5h1.1M198 .5h1.1M251 .5h1.1M296 .5h1.1" stroke="#00deff"/>
<path d="M26 .5h1.1M33 .5h1.1M89 .5h1.1M210 .5h1.1M255 .5h2M286 .5h1.1M297 .5h1.1" stroke="#005fff"/>
<path d="M27 .5h1.1M50 .5h1.1M126 .5h1.1M172 .5h1.1M206 .5h1.1M244 .5h1.1M276 .5h1.1M348 .5h1.1" stroke="#00cfff"/>
<path d="M37 .5h1.1M51 .5h1.1M118 .5h1.1M120 .5h1.1M196 .5h1.1M219 .5h1.1M290 .5h1.1M301 .5h1.1" stroke="#1c05eb"/>
<path d="M39 .5h1.1M102 .5h1.1M128 .5h1.1M176 .5h1.1M204 .5h1.1M216 .5h1.1M274 .5h1.1M308 .5h1.1M318 .5h1.1M320 .5h1.1M324 .5h1.1M340 .5h1.1" stroke="#002fff"/>
<path d="M41 .5h1.1M70 .5h1.1M83 .5h1.1M124 .5h1.1M143 .5h1.1M147 .5h1.1M194 .5h1.1M283 .5h1.1M358 .5h1.1" stroke="#4bff0a"/>
<path d="M62 .5h1.1M109 .5h1.1M112 .5h1.1M177 .5h1.1M257 .5h1.1M275 .5h1.1M325 .5h1.1" stroke="#000aff"/>
<path d="M68 .5h1.1M236 .5h1.1M352 .5h1.1" stroke="#e3ff00"/>
<path d="M72 .5h1.1M349 .5h1.1" stroke="#b5ff00"/>
<path d="M73 .5h2M98 .5h1.1M144 .5h1.1M146 .5h1.1M169 .5h1.1M175 .5h1.1M188 .5h1.1M366 .5h1.1M376 .5h1.1" stroke="#00ff14"/>
<path d="M75 .5h1.1M130 .5h1.1M145 .5h1.1M199 .5h1.1M359 .5h1.1" stroke="#19ff11"/>
<path d="M76 .5h1.1M123 .5h1.1M173 .5h2M230 .5h1.1M246 .5h1.1M342 .5h1.1M363 .5h1.1M381 .5h1.1" stroke="#64ff07"/>
<path d="M79 .5h1.1M84 .5h1.1M127 .5h1.1M133 .5h1.1M163 .5h1.1M200 .5h1.1M249 .5h1.1M282 .5h1.1M293 .5h2M341 .5h1.1M345 .5h1.1M370 .5h1.1" stroke="#00ecff"/>
<path d="M85 .5h1.1M90 .5h1.1M101 .5h1.1M111 .5h1.1M117 .5h1.1M135 .5h1.1M234 .5h1.1M265 .5h1.1M284 .5h1.1" stroke="#0082ff"/>
<path d="M138 .5h1.1M167 .5h1.1M233 .5h1.1M247 .5h1.1M264 .5h1.1M277 .5h1.1M329 .5h1.1" stroke="#00b3ff"/>
<path d="M148 .5h1.1M250 .5h1.1M271 .5h1.1" stroke="#7dff03"/>
<path d="M152 .5h1.1M205 .5h1.1M322 .5h1.1M354 .5h1.1M369 .5h1.1" stroke="#004eff"/>
<path d="M157 .5h1.1" stroke="#000000"/>
<path d="M179 .5h1.1M217 .5h1.1M224 .5h1.1M258 .5h1.1M310 .5h1.1M323 .5h1.1M334 .5h1.1M336 .5h1.1" stroke="#0023ff"/>
<path d="M192 .5h1.1M201 .5h1.1" stroke="#c4ff00"/>
<path d="M193 .5h1.1M237 .5h1.1" stroke="#ff4500"/>
<path d="M239 .5h1.1" stroke="#fff200"/>
<path d="M242 .5h1.1" stroke="#96ff00"/>
<path d="M285 .5h1.1M288 .5h1.1M314 .5h1.1" stroke="#00faff"/>
<path d="M292 .5h1.1M375 .5h1.1M380 .5h1.1" stroke="#d4ff00"/>
<path d="M315 .5h1.1" stroke="#101010"/>
<path d="M350 .5h1.1" stroke="#ff5c00"/>
<path d="M351 .5h1.1" stroke="#ffc800"/>
<path d="M374 .5h1.1" stroke="#e20000"/>
</g>
<g transform="translate(923.5 845.2) scale(1.6 8.5)" stroke-width="1.06">
<path d="M0 .5h1.1M12 .5h1.1M347 .5h1.1M362 .5h1.1" stroke="#ffe800"/>
<path d="M1 .5h1.1M17 .5h1.1M83 .5h1.1M275 .5h1.1M332 .5h1.1M353 .5h1.1M365 .5h1.1" stroke="#7dff03"/>
<path d="M2 .5h2M31 .5h1.1M118 .5h1.1M120 .5h1.1M122 .5h1.1M152 .5h1.1M301 .5h1.1M324 .5h1.1" stroke="#0071ff"/>
<path d="M4 .5h1.1M48 .5h1.1M92 .5h1.1M117 .5h1.1M176 .5h1.1M206 .5h1.1M210 .5h1.1M215 .5h1.1M289 .5h1.1M305 .5h1.1M310 .5h1.1" stroke="#0082ff"/>
<path d="M5 .5h1.1M69 .5h1.1M141 .5h1.1M165 .5h1.1M198 .5h1.1M253 .5h1.1M255 .5h1.1M258 .5h1.1M327 .5h1.1M329 .5h1.1" stroke="#00ffa0"/>
<path d="M6 .5h1.1M96 .5h1.1M100 .5h1.1M188 .5h1.1" stroke="#00feb8"/>
<path d="M7 .5h1.1M16 .5h1.1M142 .5h1.1M166 .5h1.1M238 .5h1.1M266 .5h1.1M293 .5h1.1" stroke="#00ff5a"/>
<path d="M8 .5h1.1M82 .5h1.1M123 .5h1.1M127 .5h1.1M261 .5h1.1M342 .5h1.1" stroke="#19ff11"/>
<path d="M9 .5h1.1M90 .5h1.1M202 .5h1.1M263 .5h1.1M331 .5h1.1M354 .5h1.1" stroke="#00b3ff"/>
<path d="M10 .5h1.1M25 .5h1.1M81 .5h1.1M143 .5h1.1M248 .5h1.1M284 .5h1.1M367 .5h1.1M379 .5h1.1" stroke="#00ff37"/>
<path d="M11 .5h1.1M84 .5h1.1M88 .5h1.1M91 .5h1.1M95 .5h1.1M164 .5h1.1M169 .5h1.1M278 .5h1.1M295 .5h1.1M368 .5h1.1" stroke="#00ecff"/>
<path d="M13 .5h1.1M292 .5h1.1M363 .5h1.1" stroke="#ffa500"/>
<path d="M14 .5h1.1M145 .5h1.1M276 .5h1.1M288 .5h1.1M377 .5h1.1" stroke="#d4ff00"/>
<path d="M15 .5h1.1M18 .5h1.1M67 .5h1.1M70 .5h1.1M161 .5h1.1M249 .5h1.1M272 .5h1.1M294 .5h1.1M314 .5h1.1M360 .5h1.1M381 .5h1.1" stroke="#64ff07"/>
<path d="M19 .5h1.1M23 .5h1.1M146 .5h1.1M149 .5h1.1M231 .5h1.1M277 .5h1.1M346 .5h1.1" stroke="#4bff0a"/>
<path d="M20 .5h1.1M93 .5h1.1M153 .5h1.1M179 .5h1.1M216 .5h1.1M218 .5h1.1M297 .5h1.1M316 .5h1.1M340 .5h1.1" stroke="#004eff"/>
<path d="M21 .5h1.1M130 .5h1.1M194 .5h1.1M197 .5h1.1M230 .5h1.1M241 .5h1.1M244 .5h1.1M269 .5h1.1M355 .5h1.1" stroke="#b5ff00"/>
<path d="M22 .5h1.1M201 .5h1.1M235 .5h1.1M245 .5h1.1M349 .5h1.1M357 .5h1.1" stroke="#a5ff00"/>
<path d="M24 .5h1.1M71 .5h1.1M126 .5h1.1M144 .5h1.1M147 .5h1.1M155 .5h1.1M259 .5h1.1M264 .5h1.1M348 .5h1.1M358 .5h1.1" stroke="#00ff7d"/>
<path d="M26 .5h2M29 .5h2M32 .5h1.1M34 .5h4M39 .5h1.1M42 .5h6M52 .5h11.1M64 .5h2M99 .5h1.1M104 .5h7M112 .5h3M116 .5h1.1M119 .5h1.1M134 .5h1.1M180 .5h1.1M183 .5h4M203 .5h3M208 .5h1.1M213 .5h1.1M220 .5h3M224 .5h2M227 .5h1.1M233 .5h1.1M299 .5h2M303 .5h2M309 .5h1.1M320 .5h1.1M325 .5h2M335 .5h3M339 .5h1.1" stroke="#2902e1"/>
<path d="M28 .5h1.1M40 .5h1.1M85 .5h1.1M101 .5h1.1M133 .5h1.1M190 .5h1.1M317 .5h1.1M330 .5h1.1" stroke="#00a5ff"/>
<path d="M33 .5h1.1M66 .5h1.1M181 .5h1.1M212 .5h1.1M307 .5h1.1" stroke="#0017ff"/>
<path d="M38 .5h1.1M111 .5h1.1M115 .5h1.1M167 .5h1.1M217 .5h1.1M281 .5h1.1M323 .5h1.1M334 .5h1.1" stroke="#000aff"/>
<path d="M41 .5h1.1M68 .5h1.1M251 .5h1.1M352 .5h1.1" stroke="#c4ff00"/>
<path d="M49 .5h1.1M138 .5h1.1M158 .5h1.1M170 .5h1.1M256 .5h1.1M280 .5h1.1" stroke="#00c1ff"/>
<path d="M50 .5h1.1M121 .5h1.1M177 .5h1.1M187 .5h1.1M306 .5h1.1" stroke="#005fff"/>
<path d="M51 .5h1.1M63 .5h1.1M159 .5h1.1M191 .5h1.1M232 .5h1.1" stroke="#003cff"/>
<path d="M72 .5h1.1M87 .5h1.1M174 .5h1.1M199 .5h1.1M356 .5h1.1M376 .5h1.1" stroke="#96ff00"/>
<path d="M73 .5h1.1M75 .5h2M124 .5h1.1M132 .5h1.1M151 .5h1.1M173 .5h1.1M246 .5h1.1M274 .5h1.1M279 .5h1.1M282 .5h1.1M286 .5h1.1M296 .5h1.1M328 .5h1.1" stroke="#32ff0d"/>
<path d="M74 .5h1.1M125 .5h1.1M148 .5h1.1M156 .5h1.1M175 .5h1.1M200 .5h1.1M252 .5h1.1M267 .5h1.1M285 .5h1.1M372 .5h1.1" stroke="#00ff14"/>
<path d="M77 .5h1.1M97 .5h1.1M131 .5h1.1M162 .5h1.1M260 .5h1.1" stroke="#00fcd0"/>
<path d="M78 .5h1.1M86 .5h1.1M136 .5h1.1M140 .5h1.1M171 .5h1.1M228 .5h1.1M247 .5h1.1M287 .5h1.1M371 .5h1.1" stroke="#00faff"/>
<path d="M79 .5h1.1M89 .5h1.1M94 .5h1.1M98 .5h1.1M128 .5h1.1M135 .5h1.1M139 .5h1.1M163 .5h1.1M172 .5h1.1M262 .5h1.1M290 .5h1.1M308 .5h1.1M341 .5h1.1" stroke="#00deff"/>
<path d="M80 .5h1.1M129 .5h1.1M137 .5h1.1M160 .5h1.1M189 .5h1.1M254 .5h1.1M345 .5h1.1" stroke="#00fbe7"/>
<path d="M102 .5h1.1M150 .5h1.1M257 .5h1.1" stroke="#0094ff"/>
<path d="M103 .5h1.1M182 .5h1.1M195 .5h1.1M207 .5h1.1M319 .5h1.1M321 .5h1.1M333 .5h1.1M338 .5h1.1" stroke="#0e07f5"/>
<path d="M154 .5h1.1M168 .5h1.1M211 .5h1.1M265 .5h1.1M344 .5h1.1M369 .5h1.1" stroke="#00cfff"/>
<path d="M157 .5h1.1" stroke="#000000"/>
<path d="M178 .5h1.1M219 .5h1.1M223 .5h1.1M229 .5h1.1M302 .5h1.1" stroke="#1c05eb"/>
<path d="M192 .5h1.1M351 .5h1.1" stroke="#ffc800"/>
<path d="M193 .5h1.1" stroke="#b80000"/>
<path d="M196 .5h1.1M209 .5h1.1M226 .5h1.1M234 .5h1.1M318 .5h1.1M378 .5h1.1" stroke="#002fff"/>
<path d="M214 .5h1.1M298 .5h1.1M311 .5h1.1M313 .5h1.1M322 .5h1.1M343 .5h1.1" stroke="#0023ff"/>
<path d="M236 .5h1.1M268 .5h1.1M270 .5h1.1M291 .5h1.1M359 .5h1.1M370 .5h1.1M375 .5h1.1M380 .5h1.1" stroke="#e3ff00"/>
<path d="M237 .5h1.1" stroke="#ff8300"/>
<path d="M239 .5h1.1" stroke="#ff5c00"/>
<path d="M240 .5h1.1M273 .5h1.1" stroke="#fff200"/>
<path d="M242 .5h1.1" stroke="#ffdd00"/>
<path d="M243 .5h1.1" stroke="#ff2e00"/>
<path d="M250 .5h1.1" stroke="#ff9400"/>
<path d="M271 .5h1.1M361 .5h1.1" stroke="#ffb700"/>
<path d="M283 .5h1.1M312 .5h1.1M364 .5h1.1M373 .5h1.1" stroke="#f3ff00"/>
<path d="M315 .5h1.1" stroke="#101010"/>
<path d="M350 .5h1.1" stroke="#ff7100"/>
<path d="M366 .5h1.1" stroke="#fffd00"/>
<path d="M374 .5h1.1" stroke="#e20000"/>
</g>
<g transform="translate(923.5 853.7) scale(1.6 9.2)" stroke-width="1.06">
<path d="M0 .5h1.1M236 .5h1.1M274 .5h1.1" stroke="#ffc800"/>
<path d="M1 .5h1.1M285 .5h1.1M349 .5h1.1" stroke="#f3ff00"/>
<path d="M2 .5h1.1M11 .5h1.1M90 .5h1.1M137 .5h1.1M195 .5h1.1M248 .5h1.1M253 .5h1.1M346 .5h1.1" stroke="#00faff"/>
<path d="M3 .5h1.1M143 .5h1.1M154 .5h1.1M158 .5h1.1M189 .5h1.1" stroke="#00feb8"/>
<path d="M4 .5h1.1M69 .5h1.1M81 .5h1.1M127 .5h1.1M231 .5h1.1M254 .5h1.1M330 .5h1.1M378 .5h1.1" stroke="#00fbe7"/>
<path d="M5 .5h1.1M174 .5h1.1M200 .5h1.1M266 .5h1.1M328 .5h1.1M332 .5h1.1M355 .5h1.1" stroke="#b5ff00"/>
<path d="M6 .5h1.1M83 .5h1.1M149 .5h1.1M155 .5h1.1M235 .5h1.1M278 .5h1.1M280 .5h1.1M353 .5h1.1M376 .5h1.1M379 .5h1.1" stroke="#4bff0a"/>
<path d="M7 .5h2M72 .5h1.1M173 .5h1.1M230 .5h1.1M246 .5h1.1M259 .5h1.1" stroke="#64ff07"/>
<path d="M9 .5h1.1M28 .5h1.1M94 .5h1.1M128 .5h1.1M168 .5h1.1M313 .5h1.1" stroke="#00deff"/>
<path d="M10 .5h1.1M141 .5h1.1M232 .5h1.1M264 .5h2" stroke="#00ff5a"/>
<path d="M12 .5h1.1M22 .5h1.1M132 .5h1.1M201 .5h1.1M243 .5h1.1" stroke="#ffd300"/>
<path d="M13 .5h1.1M18 .5h1.1M272 .5h1.1M286 .5h1.1M352 .5h1.1" stroke="#ffe800"/>
<path d="M14 .5h1.1M202 .5h1.1M238 .5h1.1M252 .5h1.1M294 .5h1.1M329 .5h1.1" stroke="#7dff03"/>
<path d="M15 .5h2M20 .5h2M24 .5h1.1M68 .5h1.1M76 .5h1.1M130 .5h1.1M197 .5h1.1M368 .5h1.1" stroke="#96ff00"/>
<path d="M17 .5h1.1M199 .5h1.1M267 .5h2M282 .5h1.1" stroke="#fffd00"/>
<path d="M19 .5h1.1" stroke="#ff7100"/>
<path d="M23 .5h1.1M357 .5h1.1M381 .5h1.1" stroke="#d4ff00"/>
<path d="M25 .5h1.1M273 .5h1.1M291 .5h1.1M359 .5h1.1" stroke="#ff8300"/>
<path d="M26 .5h1.1M30 .5h1.1M34 .5h3M42 .5h2M45 .5h3M52 .5h7M61 .5h2M64 .5h1.1M66 .5h1.1M93 .5h1.1M99 .5h1.1M104 .5h5M112 .5h3M116 .5h1.1M119 .5h1.1M121 .5h1.1M183 .5h4M203 .5h1.1M220 .5h1.1M222 .5h2M225 .5h1.1M227 .5h1.1M300 .5h1.1M304 .5h1.1M319 .5h3M326 .5h1.1M335 .5h6" stroke="#2902e1"/>
<path d="M27 .5h1.1M86 .5h1.1M164 .5h1.1" stroke="#005fff"/>
<path d="M29 .5h1.1M33 .5h1.1M182 .5h1.1M205 .5h1.1M226 .5h1.1" stroke="#0017ff"/>
<path d="M31 .5h1.1M84 .5h1.1M91 .5h1.1M101 .5h1.1M129 .5h1.1M140 .5h1.1M163 .5h1.1M176 .5h2M256 .5h1.1M258 .5h1.1" stroke="#00c1ff"/>
<path d="M32 .5h1.1M39 .5h1.1M191 .5h1.1M213 .5h1.1M221 .5h1.1M224 .5h1.1" stroke="#1c05eb"/>
<path d="M37 .5h1.1M40 .5h1.1M85 .5h1.1M115 .5h1.1M120 .5h1.1M167 .5h1.1M178 .5h1.1M208 .5h1.1M216 .5h1.1M219 .5h1.1" stroke="#0023ff"/>
<path d="M38 .5h1.1M79 .5h1.1M97 .5h1.1M135 .5h1.1M165 .5h1.1M233 .5h2M247 .5h1.1M287 .5h1.1" stroke="#00cfff"/>
<path d="M41 .5h1.1M74 .5h1.1M82 .5h1.1M147 .5h1.1M198 .5h1.1M289 .5h1.1M342 .5h1.1M345 .5h1.1" stroke="#00ff37"/>
<path d="M44 .5h1.1M118 .5h1.1M181 .5h1.1M229 .5h1.1M323 .5h1.1M325 .5h1.1M334 .5h1.1" stroke="#0e07f5"/>
<path d="M48 .5h1.1M152 .5h1.1M187 .5h1.1M305 .5h1.1M309 .5h1.1M322 .5h1.1" stroke="#004eff"/>
<path d="M49 .5h1.1M98 .5h1.1M100 .5h1.1M125 .5h2M131 .5h1.1M151 .5h1.1M166 .5h1.1M308 .5h1.1" stroke="#00ecff"/>
<path d="M50 .5h1.1M71 .5h1.1M78 .5h1.1M88 .5h1.1M139 .5h1.1M160 .5h1.1M188 .5h1.1M260 .5h1.1M295 .5h1.1" stroke="#00fcd0"/>
<path d="M51 .5h1.1M111 .5h1.1M117 .5h1.1M134 .5h1.1M138 .5h1.1M150 .5h1.1M159 .5h1.1M214 .5h1.1M303 .5h1.1M318 .5h1.1" stroke="#003cff"/>
<path d="M59 .5h2M65 .5h1.1M103 .5h1.1M122 .5h1.1M180 .5h1.1M204 .5h1.1M212 .5h1.1M217 .5h1.1M299 .5h1.1M316 .5h1.1M333 .5h1.1" stroke="#000aff"/>
<path d="M63 .5h1.1M153 .5h1.1M306 .5h1.1M317 .5h1.1" stroke="#0071ff"/>
<path d="M67 .5h1.1M70 .5h1.1M133 .5h1.1M142 .5h1.1M144 .5h1.1M261 .5h1.1M311 .5h1.1" stroke="#00ff7d"/>
<path d="M73 .5h1.1M77 .5h1.1M170 .5h1.1M245 .5h1.1M310 .5h1.1M341 .5h1.1M344 .5h1.1M371 .5h1.1" stroke="#00ffa0"/>
<path d="M75 .5h1.1M244 .5h1.1M251 .5h1.1M275 .5h1.1M284 .5h1.1M372 .5h1.1" stroke="#c4ff00"/>
<path d="M80 .5h1.1M95 .5h1.1M162 .5h1.1M196 .5h1.1M206 .5h2M209 .5h1.1M255 .5h1.1M354 .5h1.1" stroke="#0094ff"/>
<path d="M87 .5h1.1M146 .5h1.1M161 .5h1.1M175 .5h1.1M290 .5h1.1M297 .5h1.1M327 .5h1.1" stroke="#00ff14"/>
<path d="M89 .5h1.1M96 .5h1.1M228 .5h1.1M301 .5h1.1" stroke="#00b3ff"/>
<path d="M92 .5h1.1M109 .5h2M210 .5h1.1M218 .5h1.1M307 .5h1.1M324 .5h1.1" stroke="#002fff"/>
<path d="M102 .5h1.1M136 .5h1.1M190 .5h1.1M262 .5h2M302 .5h1.1" stroke="#00a5ff"/>
<path d="M123 .5h1.1M148 .5h1.1M172 .5h1.1M281 .5h1.1M348 .5h1.1M356 .5h1.1" stroke="#32ff0d"/>
<path d="M124 .5h1.1M145 .5h1.1M156 .5h1.1M169 .5h1.1M249 .5h1.1M331 .5h1.1M358 .5h1.1" stroke="#19ff11"/>
<path d="M157 .5h1.1" stroke="#000000"/>
<path d="M171 .5h1.1M293 .5h1.1M312 .5h1.1M347 .5h1.1" stroke="#a5ff00"/>
<path d="M179 .5h1.1M211 .5h1.1M215 .5h1.1M257 .5h1.1M298 .5h1.1M343 .5h1.1" stroke="#0082ff"/>
<path d="M192 .5h1.1M279 .5h1.1M364 .5h1.1" stroke="#ffb700"/>
<path d="M193 .5h1.1M271 .5h1.1M362 .5h1.1" stroke="#a50000"/>
<path d="M194 .5h1.1M250 .5h1.1M269 .5h1.1M351 .5h1.1M360 .5h1.1M377 .5h1.1" stroke="#ffa500"/>
<path d="M237 .5h1.1M292 .5h1.1M366 .5h1.1" stroke="#e20000"/>
<path d="M239 .5h1.1M374 .5h1.1" stroke="#b20000"/>
<path d="M240 .5h1.1M277 .5h1.1M350 .5h1.1" stroke="#ff9400"/>
<path d="M241 .5h1.1M296 .5h1.1" stroke="#ffdd00"/>
<path d="M242 .5h1.1" stroke="#ff5c00"/>
<path d="M270 .5h1.1M363 .5h1.1" stroke="#ff0000"/>
<path d="M276 .5h1.1M314 .5h1.1M367 .5h1.1M369 .5h1.1M373 .5h1.1M375 .5h1.1M380 .5h1.1" stroke="#e3ff00"/>
<path d="M283 .5h1.1M365 .5h1.1" stroke="#ff1700"/>
<path d="M288 .5h1.1M370 .5h1.1" stroke="#fff200"/>
<path d="M315 .5h1.1" stroke="#101010"/>
<path d="M361 .5h1.1" stroke="#d30000"/>
</g>
<g transform="translate(923.5 862.9) scale(1.6 8.5)" stroke-width="1.06">
<path d="M0 .5h1.1M19 .5h1.1M194 .5h1.1M312 .5h1.1M332 .5h1.1M360 .5h1.1" stroke="#ff5c00"/>
<path d="M1 .5h1.1M22 .5h1.1M132 .5h1.1M197 .5h1.1M230 .5h1.1M268 .5h1.1M279 .5h1.1M296 .5h1.1M314 .5h1.1M352 .5h1.1M356 .5h1.1" stroke="#fff200"/>
<path d="M2 .5h1.1M280 .5h1.1M293 .5h1.1M342 .5h1.1M346 .5h1.1" stroke="#19ff11"/>
<path d="M3 .5h1.1M127 .5h1.1M198 .5h1.1M265 .5h1.1M301 .5h1.1M341 .5h1.1" stroke="#00feb8"/>
<path d="M4 .5h1.1M125 .5h1.1M171 .5h1.1M188 .5h1.1M228 .5h1.1M232 .5h1.1M289 .5h1.1M354 .5h1.1M378 .5h1.1" stroke="#00ff7d"/>
<path d="M5 .5h1.1M41 .5h1.1M200 .5h1.1M246 .5h1.1M266 .5h1.1M379 .5h1.1" stroke="#f3ff00"/>
<path d="M6 .5h2M199 .5h1.1M240 .5h1.1M282 .5h1.1" stroke="#ffdd00"/>
<path d="M8 .5h1.1M72 .5h2M147 .5h1.1M331 .5h1.1M347 .5h1.1" stroke="#a5ff00"/>
<path d="M9 .5h1.1M24 .5h1.1M82 .5h1.1M143 .5h1.1M161 .5h1.1M297 .5h1.1M348 .5h1.1" stroke="#00ff37"/>
<path d="M10 .5h1.1M23 .5h1.1M124 .5h1.1M278 .5h1.1M330 .5h1.1" stroke="#d4ff00"/>
<path d="M11 .5h1.1M20 .5h1.1M67 .5h1.1M74 .5h1.1M202 .5h1.1M259 .5h1.1M310 .5h1.1" stroke="#00ff14"/>
<path d="M12 .5h1.1M239 .5h1.1" stroke="#ff7100"/>
<path d="M13 .5h1.1M17 .5h1.1" stroke="#ff8300"/>
<path d="M14 .5h1.1M201 .5h1.1M234 .5h1.1M238 .5h1.1M241 .5h1.1" stroke="#c4ff00"/>
<path d="M15 .5h1.1M83 .5h1.1M144 .5h1.1M146 .5h1.1M295 .5h1.1M345 .5h1.1M349 .5h1.1M353 .5h1.1M369 .5h1.1M376 .5h1.1" stroke="#7dff03"/>
<path d="M16 .5h1.1M269 .5h1.1" stroke="#ff9400"/>
<path d="M18 .5h1.1M276 .5h1.1M288 .5h1.1M327 .5h1.1M329 .5h1.1M364 .5h1.1M370 .5h1.1" stroke="#ffb700"/>
<path d="M21 .5h1.1M149 .5h1.1M231 .5h1.1M245 .5h1.1M274 .5h1.1M368 .5h1.1M371 .5h1.1M380 .5h1.1" stroke="#e3ff00"/>
<path d="M25 .5h1.1M328 .5h1.1" stroke="#ff4500"/>
<path d="M26 .5h1.1M29 .5h2M34 .5h4M39 .5h1.1M43 .5h5M53 .5h10.1M64 .5h3M93 .5h1.1M99 .5h1.1M104 .5h8.1M113 .5h2M116 .5h1.1M119 .5h1.1M121 .5h1.1M183 .5h4M203 .5h2M208 .5h1.1M213 .5h1.1M220 .5h6M227 .5h1.1M303 .5h2M318 .5h2M326 .5h1.1M334 .5h3" stroke="#2902e1"/>
<path d="M27 .5h1.1M32 .5h1.1M42 .5h1.1M103 .5h1.1M112 .5h1.1M316 .5h1.1M337 .5h1.1" stroke="#1c05eb"/>
<path d="M28 .5h1.1M48 .5h1.1M95 .5h1.1M191 .5h1.1M216 .5h1.1" stroke="#003cff"/>
<path d="M31 .5h1.1M94 .5h1.1M176 .5h1.1M325 .5h1.1M333 .5h1.1M338 .5h1.1" stroke="#002fff"/>
<path d="M33 .5h1.1M118 .5h1.1M205 .5h1.1M209 .5h1.1M305 .5h1.1M320 .5h1.1" stroke="#000aff"/>
<path d="M38 .5h1.1M115 .5h1.1M212 .5h1.1M339 .5h1.1" stroke="#0023ff"/>
<path d="M40 .5h1.1M89 .5h1.1M134 .5h1.1M159 .5h1.1M163 .5h1.1M211 .5h1.1M229 .5h1.1" stroke="#005fff"/>
<path d="M49 .5h1.1M88 .5h1.1M153 .5h1.1M190 .5h1.1M256 .5h1.1M306 .5h1.1M311 .5h1.1" stroke="#00cfff"/>
<path d="M50 .5h1.1M137 .5h1.1M260 .5h1.1" stroke="#00deff"/>
<path d="M51 .5h1.1" stroke="#00a5ff"/>
<path d="M52 .5h1.1M63 .5h1.1M102 .5h1.1M187 .5h1.1M206 .5h2M215 .5h1.1M218 .5h1.1M321 .5h2" stroke="#004eff"/>
<path d="M68 .5h1.1M285 .5h1.1" stroke="#96ff00"/>
<path d="M69 .5h1.1M79 .5h1.1M91 .5h1.1M97 .5h1.1M100 .5h1.1M136 .5h1.1M138 .5h1.1M170 .5h1.1M255 .5h1.1M309 .5h1.1" stroke="#00c1ff"/>
<path d="M70 .5h2M140 .5h2M150 .5h1.1M173 .5h1.1M195 .5h1.1M233 .5h1.1M290 .5h1.1" stroke="#00ff5a"/>
<path d="M75 .5h2M156 .5h1.1M251 .5h1.1M281 .5h1.1" stroke="#4bff0a"/>
<path d="M77 .5h1.1M80 .5h1.1M96 .5h1.1M126 .5h1.1M128 .5h1.1M135 .5h1.1M160 .5h1.1M287 .5h1.1" stroke="#00ecff"/>
<path d="M78 .5h1.1M298 .5h1.1M324 .5h1.1" stroke="#00fbe7"/>
<path d="M81 .5h1.1M139 .5h1.1M154 .5h1.1M169 .5h1.1M189 .5h1.1M252 .5h2M261 .5h1.1M313 .5h1.1" stroke="#00ffa0"/>
<path d="M84 .5h1.1M158 .5h1.1M166 .5h1.1M175 .5h1.1M196 .5h1.1M264 .5h1.1M344 .5h1.1" stroke="#00faff"/>
<path d="M85 .5h1.1M162 .5h1.1M177 .5h2M263 .5h1.1M307 .5h1.1M343 .5h1.1" stroke="#0082ff"/>
<path d="M86 .5h1.1M179 .5h1.1M262 .5h1.1M299 .5h1.1" stroke="#0094ff"/>
<path d="M87 .5h1.1M98 .5h1.1M129 .5h1.1M131 .5h1.1M142 .5h1.1M168 .5h1.1M172 .5h1.1M254 .5h1.1M258 .5h1.1M294 .5h1.1" stroke="#00fcd0"/>
<path d="M90 .5h1.1M117 .5h1.1M165 .5h1.1M302 .5h1.1" stroke="#00b3ff"/>
<path d="M92 .5h1.1M120 .5h1.1M167 .5h1.1M180 .5h1.1M219 .5h1.1M300 .5h1.1M317 .5h1.1" stroke="#0017ff"/>
<path d="M101 .5h1.1M122 .5h1.1M182 .5h1.1M210 .5h1.1M214 .5h1.1M217 .5h1.1M340 .5h1.1" stroke="#0e07f5"/>
<path d="M123 .5h1.1M130 .5h1.1M151 .5h1.1M155 .5h1.1M174 .5h1.1M247 .5h1.1M308 .5h1.1" stroke="#64ff07"/>
<path d="M133 .5h1.1M248 .5h2" stroke="#32ff0d"/>
<path d="M145 .5h1.1M148 .5h1.1M244 .5h1.1M355 .5h1.1M381 .5h1.1" stroke="#fffd00"/>
<path d="M152 .5h1.1M164 .5h1.1M181 .5h1.1M226 .5h1.1M257 .5h1.1M323 .5h1.1" stroke="#0071ff"/>
<path d="M157 .5h1.1" stroke="#000000"/>
<path d="M192 .5h1.1" stroke="#ab0000"/>
<path d="M193 .5h1.1M237 .5h1.1M271 .5h1.1M361 .5h3M374 .5h1.1" stroke="#a50000"/>
<path d="M235 .5h1.1M284 .5h1.1M286 .5h1.1M350 .5h1.1M377 .5h1.1" stroke="#ffe800"/>
<path d="M236 .5h1.1M272 .5h1.1M366 .5h1.1" stroke="#ff0000"/>
<path d="M242 .5h1.1" stroke="#b80000"/>
<path d="M243 .5h1.1M365 .5h1.1M375 .5h1.1" stroke="#ff2e00"/>
<path d="M250 .5h1.1M267 .5h1.1M275 .5h1.1" stroke="#ffd300"/>
<path d="M270 .5h1.1M357 .5h1.1M359 .5h1.1" stroke="#d30000"/>
<path d="M273 .5h1.1" stroke="#ff1700"/>
<path d="M277 .5h1.1M291 .5h1.1M351 .5h1.1M358 .5h1.1M367 .5h1.1" stroke="#ffc800"/>
<path d="M283 .5h1.1" stroke="#f00000"/>
<path d="M292 .5h1.1" stroke="#e20000"/>
<path d="M315 .5h1.1" stroke="#101010"/>
<path d="M372 .5h2" stroke="#ffa500"/>
</g>
<g transform="translate(923.5 871.4) scale(1.6 13.8)" stroke-width="1.06">
<path d="M0 .5h1.1M23 .5h1.1M234 .5h1.1M282 .5h1.1" stroke="#fff200"/>
<path d="M1 .5h1.1M67 .5h1.1M81 .5h1.1M87 .5h1.1M125 .5h1.1M261 .5h1.1M280 .5h1.1M348 .5h1.1" stroke="#19ff11"/>
<path d="M2 .5h1.1M71 .5h1.1M84 .5h1.1M138 .5h1.1M169 .5h1.1M287 .5h1.1M343 .5h1.1" stroke="#00fcd0"/>
<path d="M3 .5h1.1M91 .5h1.1M122 .5h1.1M168 .5h1.1M264 .5h1.1" stroke="#00deff"/>
<path d="M4 .5h1.1M40 .5h1.1M131 .5h1.1M136 .5h1.1M150 .5h1.1M256 .5h1.1M354 .5h1.1" stroke="#00feb8"/>
<path d="M5 .5h2M25 .5h1.1M238 .5h1.1M267 .5h1.1M312 .5h1.1" stroke="#e3ff00"/>
<path d="M7 .5h1.1M83 .5h1.1M200 .5h1.1M259 .5h1.1M355 .5h1.1" stroke="#7dff03"/>
<path d="M8 .5h1.1M20 .5h1.1M72 .5h1.1M144 .5h1.1M147 .5h1.1M247 .5h1.1M266 .5h1.1M308 .5h1.1" stroke="#96ff00"/>
<path d="M9 .5h1.1M79 .5h1.1M158 .5h1.1M160 .5h1.1M254 .5h1.1M302 .5h1.1M330 .5h1.1" stroke="#00ecff"/>
<path d="M10 .5h1.1M76 .5h1.1M126 .5h1.1M133 .5h1.1M202 .5h1.1" stroke="#4bff0a"/>
<path d="M11 .5h1.1M143 .5h1.1M154 .5h1.1M161 .5h1.1M173 .5h2M331 .5h1.1" stroke="#00ff5a"/>
<path d="M12 .5h1.1M232 .5h1.1M367 .5h2M379 .5h2" stroke="#ffdd00"/>
<path d="M13 .5h1.1M244 .5h1.1M361 .5h1.1" stroke="#ff1700"/>
<path d="M14 .5h1.1M17 .5h1.1M41 .5h1.1M201 .5h1.1M228 .5h1.1M293 .5h1.1" stroke="#f3ff00"/>
<path d="M15 .5h1.1M68 .5h1.1M148 .5h2M249 .5h1.1M290 .5h1.1M314 .5h1.1M327 .5h1.1" stroke="#d4ff00"/>
<path d="M16 .5h1.1M197 .5h1.1M241 .5h1.1M279 .5h1.1M332 .5h1.1M369 .5h1.1" stroke="#ffc800"/>
<path d="M18 .5h1.1M246 .5h1.1M286 .5h1.1M372 .5h1.1M376 .5h1.1" stroke="#ffd300"/>
<path d="M19 .5h1.1M194 .5h1.1M235 .5h1.1M275 .5h1.1" stroke="#ff5c00"/>
<path d="M21 .5h1.1M146 .5h1.1M251 .5h1.1M274 .5h1.1M328 .5h1.1" stroke="#ffe800"/>
<path d="M22 .5h1.1M270 .5h1.1M366 .5h1.1" stroke="#ff0000"/>
<path d="M24 .5h1.1M329 .5h1.1M381 .5h1.1" stroke="#b5ff00"/>
<path d="M26 .5h1.1M29 .5h2M32 .5h1.1M34 .5h1.1M36 .5h1.1M42 .5h6M52 .5h11.1M64 .5h1.1M93 .5h1.1M99 .5h1.1M104 .5h7M112 .5h4M119 .5h1.1M180 .5h1.1M183 .5h2M186 .5h1.1M203 .5h1.1M208 .5h1.1M222 .5h2M227 .5h1.1M300 .5h1.1M304 .5h1.1M320 .5h1.1M326 .5h1.1M333 .5h7" stroke="#2902e1"/>
<path d="M27 .5h1.1M111 .5h1.1M176 .5h1.1M213 .5h1.1M217 .5h1.1M319 .5h1.1M325 .5h1.1" stroke="#000aff"/>
<path d="M28 .5h1.1M86 .5h1.1M89 .5h1.1M153 .5h1.1" stroke="#00a5ff"/>
<path d="M31 .5h1.1M85 .5h1.1M92 .5h1.1M164 .5h1.1M318 .5h1.1" stroke="#0023ff"/>
<path d="M33 .5h1.1M35 .5h1.1M37 .5h1.1M51 .5h1.1M103 .5h1.1M167 .5h1.1M185 .5h1.1M224 .5h2" stroke="#1c05eb"/>
<path d="M38 .5h1.1M80 .5h1.1M170 .5h1.1M262 .5h1.1" stroke="#00faff"/>
<path d="M39 .5h1.1M159 .5h1.1M162 .5h1.1M204 .5h1.1M219 .5h1.1" stroke="#0017ff"/>
<path d="M48 .5h1.1M95 .5h1.1M177 .5h1.1M182 .5h1.1M226 .5h1.1" stroke="#002fff"/>
<path d="M49 .5h1.1M94 .5h1.1M102 .5h1.1M152 .5h1.1M172 .5h1.1M187 .5h1.1M207 .5h1.1M212 .5h1.1M215 .5h1.1" stroke="#0071ff"/>
<path d="M50 .5h1.1M90 .5h1.1M101 .5h1.1M165 .5h1.1M181 .5h1.1M214 .5h1.1M306 .5h1.1M309 .5h1.1M311 .5h1.1" stroke="#0082ff"/>
<path d="M63 .5h1.1M120 .5h1.1M299 .5h1.1" stroke="#0094ff"/>
<path d="M65 .5h2M97 .5h1.1M116 .5h1.1M118 .5h1.1M191 .5h1.1M220 .5h1.1M340 .5h1.1" stroke="#0e07f5"/>
<path d="M69 .5h1.1M77 .5h1.1M127 .5h1.1M253 .5h1.1M345 .5h1.1" stroke="#00ff7d"/>
<path d="M70 .5h1.1M141 .5h1.1M233 .5h1.1M278 .5h1.1M341 .5h1.1" stroke="#64ff07"/>
<path d="M73 .5h1.1M75 .5h1.1M124 .5h1.1M139 .5h1.1M346 .5h1.1M356 .5h1.1" stroke="#32ff0d"/>
<path d="M74 .5h1.1M78 .5h1.1M128 .5h2M151 .5h1.1M166 .5h1.1M260 .5h1.1M281 .5h1.1" stroke="#00ffa0"/>
<path d="M82 .5h1.1M100 .5h1.1M142 .5h1.1M344 .5h1.1M378 .5h1.1" stroke="#00ff37"/>
<path d="M88 .5h1.1M175 .5h1.1M188 .5h1.1M196 .5h1.1M255 .5h1.1" stroke="#00cfff"/>
<path d="M96 .5h1.1M117 .5h1.1M134 .5h1.1M179 .5h1.1M189 .5h1.1M195 .5h1.1M211 .5h1.1" stroke="#00c1ff"/>
<path d="M98 .5h1.1M178 .5h1.1M216 .5h1.1M221 .5h1.1M303 .5h1.1M317 .5h1.1M321 .5h1.1M324 .5h1.1" stroke="#004eff"/>
<path d="M121 .5h1.1M205 .5h2M316 .5h1.1M322 .5h1.1" stroke="#005fff"/>
<path d="M123 .5h1.1M140 .5h1.1M155 .5h2M252 .5h1.1M310 .5h1.1M371 .5h1.1" stroke="#a5ff00"/>
<path d="M130 .5h1.1M268 .5h1.1M294 .5h1.1M349 .5h1.1M358 .5h1.1" stroke="#c4ff00"/>
<path d="M132 .5h1.1M199 .5h1.1M269 .5h1.1M342 .5h1.1M351 .5h2" stroke="#ffb700"/>
<path d="M135 .5h1.1M171 .5h1.1M229 .5h1.1M257 .5h2M298 .5h1.1M301 .5h1.1M307 .5h1.1M313 .5h1.1" stroke="#00fbe7"/>
<path d="M137 .5h1.1M198 .5h1.1M297 .5h1.1M347 .5h1.1" stroke="#00ff14"/>
<path d="M145 .5h1.1M360 .5h1.1" stroke="#ff8300"/>
<path d="M157 .5h1.1" stroke="#000000"/>
<path d="M163 .5h1.1M209 .5h2M218 .5h1.1M323 .5h1.1" stroke="#003cff"/>
<path d="M190 .5h1.1M263 .5h1.1M265 .5h1.1M305 .5h1.1" stroke="#00b3ff"/>
<path d="M192 .5h1.1M283 .5h1.1" stroke="#b20000"/>
<path d="M193 .5h1.1M242 .5h1.1M271 .5h1.1M292 .5h1.1M363 .5h1.1M374 .5h1.1" stroke="#a50000"/>
<path d="M230 .5h1.1M273 .5h1.1M370 .5h1.1" stroke="#d30000"/>
<path d="M231 .5h1.1M240 .5h1.1M276 .5h1.1" stroke="#ffa500"/>
<path d="M236 .5h1.1M291 .5h1.1M362 .5h1.1M365 .5h1.1" stroke="#f00000"/>
<path d="M237 .5h1.1M243 .5h1.1" stroke="#ab0000"/>
<path d="M239 .5h1.1" stroke="#b80000"/>
<path d="M245 .5h1.1M284 .5h1.1M288 .5h1.1M357 .5h1.1" stroke="#ff9400"/>
<path d="M248 .5h1.1M289 .5h1.1M295 .5h1.1M353 .5h1.1" stroke="#fffd00"/>
<path d="M250 .5h1.1M272 .5h1.1" stroke="#e20000"/>
<path d="M277 .5h1.1" stroke="#ff4500"/>
<path d="M285 .5h1.1M296 .5h1.1M364 .5h1.1M377 .5h1.1" stroke="#ff7100"/>
<path d="M315 .5h1.1" stroke="#101010"/>
<path d="M350 .5h1.1M373 .5h1.1M375 .5h1.1" stroke="#ff2e00"/>
<path d="M359 .5h1.1" stroke="#c50000"/>
</g>
<path d="M923 1000.9l.5-5.5 .5 6.4 .5-8.4 .5-4.7 .5 5.4 .5 .7 .5-4.6 .5 2.9 .5 1.9 .5-8.9 .5 3.4 .5-5.4 .5 5.7 .5-5.9 .5-5.7 .5-.8 .5 2.9 .5 1.2 .5-.5 .5 5.6 .5-.1 .5-3.8 .5 8.4 .5-1.3 .5-2.3 .5 2.4 .5-7.5 .5 14.5 .5-5.2 .5-3.4 .5 5.1 .5-3.6 .5-2.4 .5 6.5 .5-2 .5-.5 .5-.2 .5-3.1 .5 6.9 .5-2.6 .5 1 .5 3.5 .5-4.8 .5 0 .5-1.7 .5-.5 .5 .5 .5-2 .5 1.1 .5-1.3 .5 1.1 .5-1.2 .5 .2 .5-.4 .5-1.1 .5 .8 .5-.4 .5-.6 .5-.6 .5 .1 .5-.6 .5 0 .5 .2 .5 .3 .5-1.7 .5 .1 .5-1.6 .5 .1 .5 1.1 .5-1.4 .5-.4 .5 1.6 .5-.7 .5-1.4 .5 .4 .5-1 .5-1 .5 .3 .5-.4 .5-1.5 .5 .1 .5-1.7 .5 .5 .5 .2 .5-1.1 .5-3.1 .5-1.7 .5 1.8 .5-1.4 .5-.6 .5 1 .5-1.2 .5-1.2 .5-1 .5-1.4 .5 0 .5 .6 .5-.2 .5 .3 .5-2 .5 1.6 .5 .8 .5-1.6 .5 .9 .5 .2 .5 .5 .5 .8 .5 .9 .5 .5 .5 1.6 .5-.3 .5 .2 .5 1.5 .5 1.6 .5-2.4 .5-2.9 .5-2.2 .5-2.3 .5-3.4 .5-4.7 .5 6.8 .5-7.9 .5 1.4 .5 5.3 .5-9.9 .5 5.4 .5-3.1 .5 3 .5 .6 .5-2.6 .5 1.1 .5 1.4 .5-4.2 .5 6.8 .5-4.2 .5 9.7 .5-6.8 .5-1.8 .5-2.1 .5-2 .5 .9 .5 9.5 .5-4.4 .5-1.8 .5-3.8 .5 8.2 .5-4.7 .5 .6 .5-4.2 .5 2.9 .5 1.1 .5-5.3 .5 2.5 .5-2.8 .5 2.2 .5 4.3 .5 .1 .5-2.3 .5-7.6 .5 11.5 .5-9.5 .5 1.3 .5 .8 .5-2.5 .5-1.4 .5 2.8 .5-4.2 .5 4.3 .5 1.9 .5-8.8 .5-3.3 .5 7.4 .5-4.8 .5-3.3 .5 9.2 .5-4.4 .5 6.9 .5-.5 .5-4.5 .5 2 .5-3.2 .5 4.4 .5 1 .5-2.4 .5 6.1 .5-7.4 .5 1.5 .5-1.3 .5 4.4 .5-1.9 .5-.4 .5 0 .5 2.5 .5 1.4 .5-3.5 .5 5.2 .5-3.3 .5 4 .5-7.6 .5 5.3 .5-8 .5 7.7 .5-1.5 .5-3.7 .5 .4 .5-5.1 .5 6.1 .5-1.4 .5-5.7 .5 13.5 .5-3.8 .5 4.1 .5 .6 .5 4.7 .5 2 .5-2.9 .5 15.4 .5-7.7 .5-9.9 .5 33.4 .5-35.2 .3 73.3 .2-69.2 .5-2.3 .5 7.1 .5-.1 .5 2.9 .5-7.5 .5 4.6 .5 11 .5-12.4 .5-3.5 .5 2.1 .5 37 .5-32.1 .5-8 .5-.5 .5-11 .5 8 0 16.9 .5-31.9 .5-.8 .5-6.5 .5 .4 .5 4 .5-3.9 .5-7.1 .5 42.4 .5-27 .5-13.2 .5 3.5 .5-.8 .5 5.3 .5-1.6 .5-4.3 .5 28.4 0 38.1 .5-66.2 .5-1.8 .5 3.7 .5-6.5 .5 2.1 .5 2.8 .5 6.7 .5 38.9 .5-37.8 .5-1.7 0 49.8 .5-50.6 .5-6.2 .5 4.6 .5-1.2 .5-1 .5-.9 .5 .9 .5 3.2 .5 6.1 .5-8.6 .5 7.8 .5 1.7 .2 46.7 .3-50 .5 10.3 .5-6.3 .5 2.4 .5 1.3 .5 6.1 .5-2.4 .5 .9 .5 7.7 .5 .5 .5-.1 .5 .5 .5 2.9 .5 1.1 .5-4 .5-1.2 .5 2.9 .5-2.5 .5 1.1 .5-2 .5 7 .5-14.1 .5 8.3 .5-6.8 .5 6.1 .5 1.1 .5-2.1 .5 2.4 .5-5 .5 .9 .5 .3 .5 4.7 .5-3.2 .5-6.4 .5 1.9 .5 .7 .5-3.1 .5 1.4 .5 2.9 .5-6.8 .5 5.7 .5-4.1 .5-3.9 .5 3.9 .5-4 .5 3 .5 1.4 .5-3.3 .5-2.9 .5 .9 .5-2 .5 3.1 .5-1.9 .5-2.6 .5 6.2 .5-5.3 .5 1.2 .5-5.9 .5 4.1 .5-2 .5-10.9 .5 12.9 .5-6.8 .5-3.3 .5 11.1 .5-11 .5 2.6 .5 .2 .5-4.9 .5 2.3 .5 4.4 .5-4.1 .5 5.1 .5-5.5 .5-4.4 .5 10.1 .5-16 .5 12 .5 .3 .5-5.9 .2 90.8 .3-90.4 .5 4.4 .5 2.2 .5-2.7 .5 .7 .5-4.7 .5 4.9 .5-4.4 .5 4.2 .5-9.3 .5 7.8 .5 2 .5-5.5 .5-2.8 .5 3.6 .5 4.1 .5 3.3 .5-6 .5-5 .5 10.1 .5-4.3 .5 7.6 .5-4 .5 .9 .5 5.8 .5 6.6 .5-2.3 .5-1.5 .5-3.5 .5 6 .5-4.2 .5 10.7 .5-2 .5-4 .5 2.4 .5-2 .5 2 .5 1.6 .5 5.7 .5-3.2 .5-22 .5 18.7 .5 8.8 .5-.7 .5 4.9 .5-12.9 .5 3.5 .5-5.7 0 73.1 .5-63.9 .5 14.9 .5-24.3 .5-2 .5 50.3 .5-48.3 .5 5.1 .5 10.9 .5-3 .5-7.6 0 74.9 .5-67.6 .5 22.5 .5-32.2 .5 17.6 .5-12.8 .5 14.8 .5-14 .5 .3 .5 1.2 .5 3.8 .5-6.9 .5-3.4 .5 10 .5-.1 .5-3.4 .5-6.7 0 59.9 .5-47 .5 18.7 .5-28.3 .5-4.8 .5 5.4 .5 12.6 .5 .8 .5-14.4 .5 16.7 .5 3.1 .5 41.5 .5-48.7 .5-1.6 .5-10.3 0 68.8 .5-62.9 .5 5.8 .5 46.1 .5-41.9 .5-5.4 .5-4.3 .5 6 .5 46.7 .5-47.9 .5 11.2 .5-8.9 .5 .5 .5-7.8 .5-5.3 0 50.6 .5-36.2 .5-11.2 .5-.5 .5 1.4 .5 .9 .5 1.8 .5-10.2 .5-3.1 .5 19.2 .5-17.8 .5 2.4 .5 34.2 .5-28.3 .5-8.6 .5 16.2 .5-7.6 .5 6.3 .5-8 .2 71.1 .3-73.5 .5-11.9 .5 11.1 .5-.6 .5 4.3 .5-10.2 .5-.3 .5 31.9 .5-24.1 .5 1.9 .5-8 .5 .9 .5 1.6 .5 4.7 .5 20.7 .5-29.8 .5 14.8 .5-8.2 .5 5.3 .5-2.9 .5 6.6 .5-1.7 .5-1.2 .5-7.8 .5 11.9 .5 1.3 .5-2.9 .5-2 .5 4.8 .5-9 .5-2.8 .5-.8 .5-.3 .5-2 .5 .7 .5-8.6 .5 4.1 .5-3.6 .5 .9 .5-7.9 .5 5.2 .5-1.2 .5 .6 .5 2.4 .5-3.8 .5 10.1 .5-7.8 .5-1.6 .5 3.2 .5-4.6 .5 1 .5-2 .5 2 0 74.6 .5-71.6 .5-2.9 .5 4.5 .5-2.8 .5-.4 .5-2.6 .5 2.3 .5-6.9 .5 10.7 .5-7.9 .5 8.2 .5-2.5 .5 5.6 .5 .1 .5 3.2 .5 1.6 .5-10.9 .5 6.9 .5 4.1 .5 .3 .5-3.8 .5-10.1 .5 15.6 .5-.6 .5 20.3 .5-23.7 .5 6.8 .5-6.7 .5 4.7 .5-.8 .5 21.3 .5-15.1 .5-3.9 .5 .7 .5 1.1 .5 2.6 .5-6.5 .5 12.7 .5-6.7 .5-8 .5 6 .5-6.7 .3 49.3 .2-49.5 .5 1.7 .5 5 .5-7.8 .5-1 .5 1.3 .5-.7 .5 1.2 .5-.5 .5-3.4 .5 6.7 .5-10.3 .5 9 .5-7.7 .5 4.8 .5-7.5 .5 9.7 .5-6.8 .5 2.3 .5-5.1 .5 1.9 .5-.1 .5 1.9 .5 2.8 .5 2.9 .5-3.1 .5-.8 .5-.3 0 45.9 .5-46.4 .5 .6 .5-4.3 .5 8 .5 2.7 .5 7.6 .5-13.9 .5 3.2 .5 1.2 .5 8.8 .5-9.6 .5-5.1 .5 3.8 .5-.7 .5 7.4 .5-12.4 .5 2.7 .5 7.9 .5 1.5 .5-6.6 .5 0 .5 5 .5 3.5 .5-5.7 .5-.8 .5 2.5 .5-4.2 .5 5.6 .5-4.5 .5 7.4 .5-9.3 .5 4.9 .5-4.6 .5 10.3 .5-4.8 .5 3.5 .5 2.6 .5-12.3 .5-6.4 .5 11.4 .5 6.1 .5-12.3 .5 1.3 .5 3 .5 7 .5-1.7 .5-4.3 .5 6.1 .5-.4 .5-3.9 .5 1.8 .5-.1 .5-4.9 .5 2.3 .5-3.3 .5 1.8 .5-1.5 .5 3.2 .5 .2 .5 3.3 .5-7.8 .5 6.3 .5-8.4 .5 9.6 .5-2.2 .5 3.4 .5-4.8 .5-1.9 .5 4.1 .5-3.3 .5 4.4 .5-5 .5 2.9 .5-1.8 .5 4.2 .5-5.6 .5-4.5 .5 22.6 .5-20.2 .5 10.3 .5-2.8 .5 .4 .5-.4 .5-3.7 .5 2.3 .5 2.1 .5-7 .5-3.3 .5 3.6 .5-2 .5-.5 .5 7.4 .5-5.5 .5 6.7 .5-10.1 .5 1.5 .5 10.2 .5-7.9 .5 4.4 .5-4.7 .5 2.5 .5 .8 .5-2.7 .5 .2 .5 1.7 .5-2.1 .5 2.4 .5-2.3 .5-2.2 .5 1.1 .5 1.7 .5 4.2 .5-7.2 .5 2.2 .5-1.1 .5 .4 .5-1.5 .5-3.5 .5-1.4 .5 5.9 .5-2.8 .5 6.1 .5-12.2 .5 1.9 .5 .2 .5 .1 .5-1.4 .5 9.1 .5-9.9 .5 .1 .5 3.3 .5 .1 .5-.1 .5-1.3 .5-1.3 .5 2.2 .5-2.9 .5-1.4 .5 .7 .5 4.9 .5 .6 .5 3.4 .5-6.2 .5 2.4 .5 5.7 .5-2.6 .5 3.2 .5 .5 .5-2.1 .5 5.5 .5-1.2 .5 .5 .5-6.2 .5 5.7 .5-1.2 .5 1.9 .5-3.3 .5 7.4 .5-3.2 .5-.8 .5 4.3 .5-.4 .5-1.7 .5 1.8 .5-3.7 .5 7.8 .5-3.9 .5 3.8 .5-5.8 .5 3.3 .5 9.9 .5-9.7 .5-7.7 .5-1.9 .5 12.3 .5-15.6 .5 1.6 .5 2.8 .5-.2 .5 9.8 .5-23.8 .5 18.3 .5-12 .5 3.6 .5 .3 .5-3.5 .5-4.2 .5 10.8 .5-7.8 .5-.4 .5 16.3 .5-21.2 .5 .8 .5-1.1 .5 .1 .5 2.6 .5 2.2 .5-2.3 .5 29.8 .5-22.8 .5 5.3 .5 2.1 .5 5.8 .5 5.8 .5-3 .5-.6 .5-1.4 .5 0 .5 2.7 .5-.3 .5-7.3 .5 5.7 .5 2.4 .5-5.9 .5 6 0 28.5 .5-33 .5 4.8 .5-3.8 .5 2.1 .5-.1 .5-7.7 .5 3.6 .5 1.8 .5-1.1 .5-2.4 .5 2.3 .5 4.4 .5-2.6 .5-3.5 .5 11.5 .5-7.4 .5-3.9 .5-2 .5 2.2 .5 1 .5-4.2 .5 .7 .5-.4 .5-1.4 .5-.7 .5 15.7 .5-8.4 .3 61.2 .2-62.8 .5-2.2 .5 1.1 .5-2.9 .5-8.4 .5 2.8 .5 2 .5-1.6 .5-.3 .5 4.6 .5-6.1 .5 .1 .5 6.7 .5-.3 .5-6.6 .5-2.6 .5 .9 .5 1.3 .5-3.1 .5-1.8 .5 4 .5-7.6 .5 5.7 .5-.6 .5 8 .5-16.2 .5 12.1 .5 .7 .5 3.3 .5-1.6 .5 12.5 .5-17.9 .5 3.3 .5 .6 .5 3.6 .5-.8 .5-.1 .5 3.4 .5-11.5 .5 8.9 .3 50.7 .2-49.5 .5-4.2 .5-1.6 .5 4.8 .5 2.5 .5 2.5 .5 10.3 .5-14.6 .5 13.2 .5-9.9 .5-6.8 .5 10.9 .5-5.1 .5-5.3 .5 11 .5-3.2 .5-.6 .5-2.3 .5 2.1 .5 .3 .5-2.5 .5 .5 .5 4.8 .5-1.3 .5-1.6 .5 11 .5-.7 .5-6.4 .5-1.8 .5-3.4 .5 5.2 .5-3.4 .5-2.7 .5 3.4 .5 4.4 .5-1.5 .5-4.1 .5 .6 .5-1.1 .5 10.2 .5-2.9 .5-3.2 .5 .6 .5 9.6 .5-13.9 .5 4.6 .5-3.6 .5 2.5 .5 3.8 .5-5.5 .5-6 .5 12.3 .5-3.8 .5-.4 .5 3.4 .5 1 .5-3.6 .5-4 .5-1.6 .5-2.9 .5 6.2 .5-2.8 .5-1.6 .5 1.9 .5-.9 .5 0 .5-7.7 .5-.5 .5 2.4 .5 7.4 .5-6.9 .5 2.7 .5-4.2 .5 2.6 .5-3.4 .5-5.9 .5 20.8 .5-19.8 .5 9.1 .5-11.1 .5 8.6 .5-.7 .5 4.5 0 31.3 .5-41.8 .5-1.3 .5 .7 .5 1.9 .5 .2 .5 7.3 .5-9.9 .5 .2 .5 12.8 .5-11.9 .5 5.8 .5 .2 .5 2.5 .5-10.9 .5 2.4 .5 3.2 .5-1.8 .5 3.6 .5-7.3 .5 .9 .5 5.2 .5 .4 .5 3.9 .5 2.9 .5-5 .5 2 .5-6.3 .5 4.4 .5-3.7 .5-2.5 .5 1.1 .5 2.2 .5 5.7 .5-3.5 .5-4.3 .5-3 .5 8.3 .5-4.2 .5 2.8 .5 1.6 .5 1.9 .5 1.7 .5-11.6 .5 10 .5 .7 .5 .5 .5-6.4 .5 7 .5 8.3 .5-6.9 .5-4.1 .5 3.1 .5-3.2 .5 2.2 .5 8.6 .5-8.8 .5 .5 .5 2.4 .5-3.4 .5 10.5 .5-1.9 .5 3.8 .5 .5 .5-1.5 .5-1.2 .5-5.4 .5 .2 .5 9.8 .5-11.9 .5-4.9 .5 9.4 .5 2.6 .5-4.1 .5-3.8 .5-2.9 .5 6.5 .5 4.7 .5-7.5 .5-2.3 .5-3.3 0 50.4 .5-48.2 .5 .5 .5 4.7 .5-9.8 .5 9.1 .5 4.3 .5-9.5 .5-2.4 .5 4.6 .5-4.6 .5 1 .5 4.3 .5-2.9 .5-5 .5-2 .5 5.1 .5 .2 .5-3.6 .5 .6 .5-3.9 .5 2.1 .5 6 .5-3.7 .5-2.9 .5-2.5 .5 9.5 .5-2.9 .5-3.9 .5-1.2 .5 5.1 .5-4.1 .5-4.6 .5 8.3 .5 1.7 .5 .3 .5 2.1 .5-8.6 .5 5.6 .5 4.2 .5 2.4 .5-2.8 .5-2.3 .5 4.4 .5 1.3 .5-2.5 .5-2.2 .5 1.8 .5 1.7 .5 1.5 .5 .2 .5 4.6 .5 5.2 .2 48.7 .3-61 .5 2.9 .5-4 .5 8.7 .5-4.7 .5 5.3 .5-3.8 .5 2.9 .5-.1 .5-4.2 .5 .7 .5 1.5 .5 2.4 .5 3.1 .5-3 .5 6.1 .5-10.5 .5 4.9 .5-4.5 .5 1.5 .5-1.4 .5 27.8 .5-20.3 .5-10.1 .5 4.8 .5 .3 .5-.9 .5 2.7 .5-2.4 .5 6.8 .5-3 .5-5.6 .5 1.5 .5 .4 .5-6.9 .5 14.8 .5 3.7 .5 3.7 .5 29.7 .5-4.5 .5 9.3 .5-7.5 .5 3.1 .5-1.2 .5 5.2 .5 .1 .5 16.7 .5-15.2 .5-5.8 .5-4.4 .5-1.8 .5 4.1 0 17.1 .5-15.3 .5-.3 .5-8.4 .5 1.6 .5-.9 .5 .3 .5 6.1 .5-8.6 .5 14.4 .5-21.1 .5 12.8 .5-10.9 .5-.9 .5 2.9 .5 5.6 .5-7.4 .5 6.8 .5-8.6 .2 38.9 .3-36.8 .5 21 .5-16.3 .5-3.7 .5 10.4 .5-6 .5-9.4 .5 19.5 .5-16.8 .5-2.6 .5 13.2 .5-3.9 .5-6.7 .5 .6 .5 .5 .5-7.5 .5 7.3 .5-1.5 .5 3.7 .5 7.8 .5-10.7 .5-5.1 .5 3.8 .5-1.4 .5-3.3 .5 4.3 .5 5.1 .5-.1 .5-.2 .5-2.1 .5 .5 .5 1.3 .5 22.4 .5-23.7 .5 9.5 .5-7 .5 3.7 .5 .8 .5 1.8 .5-3.6 .5 2.4 .5 2.5 .5-10 .5 9.2 .5-5.6 .5-2.4 .5 4.8 .5-.6 .5-7.3 .5 4.3 .5 4 .5-5.6 .5 3.8 .5 .4" fill="none" stroke="#000" stroke-width="2.4" stroke-linejoin="round"/>
<line x1="1210.2" y1="38.1" x2="1210.2" y2="1034.5" stroke="#ffa500" stroke-width="2.7"/>
<line x1="1488.9" y1="51.9" x2="1488.9" y2="1034" stroke="#000" stroke-width="2" stroke-dasharray="20.5 21.2"/>
<rect x="922.5" y="38.1" width="611.5" height="273.9" fill="none" stroke="#000" stroke-width="2.2"/>
<path d="M943.6 312L943.6 308.9M943.6 38.1L943.6 41.2M964.7 312L964.7 308.9M964.7 38.1L964.7 41.2M985.8 312L985.8 308.9M985.8 38.1L985.8 41.2M1006.9 312L1006.9 308.9M1006.9 38.1L1006.9 41.2M1028 312L1028 308.9M1028 38.1L1028 41.2M1049.1 312L1049.1 308.9M1049.1 38.1L1049.1 41.2M1070.2 312L1070.2 308.9M1070.2 38.1L1070.2 41.2M1091.3 312L1091.3 308.9M1091.3 38.1L1091.3 41.2M1112.4 312L1112.4 308.9M1112.4 38.1L1112.4 41.2M1133.5 312L1133.5 308.9M1133.5 38.1L1133.5 41.2M1154.6 312L1154.6 308.9M1154.6 38.1L1154.6 41.2M1175.7 312L1175.7 306.2M1175.7 38.1L1175.7 43.9M1196.8 312L1196.8 308.9M1196.8 38.1L1196.8 41.2M1217.9 312L1217.9 308.9M1217.9 38.1L1217.9 41.2M1239 312L1239 308.9M1239 38.1L1239 41.2M1260.1 312L1260.1 308.9M1260.1 38.1L1260.1 41.2M1281.2 312L1281.2 308.9M1281.2 38.1L1281.2 41.2M1302.3 312L1302.3 308.9M1302.3 38.1L1302.3 41.2M1323.4 312L1323.4 308.9M1323.4 38.1L1323.4 41.2M1344.5 312L1344.5 308.9M1344.5 38.1L1344.5 41.2M1365.6 312L1365.6 308.9M1365.6 38.1L1365.6 41.2M1386.7 312L1386.7 308.9M1386.7 38.1L1386.7 41.2M1407.8 312L1407.8 308.9M1407.8 38.1L1407.8 41.2M1428.9 312L1428.9 306.2M1428.9 38.1L1428.9 43.9M1450 312L1450 308.9M1450 38.1L1450 41.2M1471.1 312L1471.1 308.9M1471.1 38.1L1471.1 41.2M1492.2 312L1492.2 308.9M1492.2 38.1L1492.2 41.2M1513.3 312L1513.3 308.9M1513.3 38.1L1513.3 41.2M922.5 307.7L928 307.7M1534 307.7L1528.5 307.7M922.5 303.9L928 303.9M1534 303.9L1528.5 303.9M922.5 300.6L928 300.6M1534 300.6L1528.5 300.6M922.5 297.6L928 297.6M1534 297.6L1528.5 297.6M922.5 295L933.5 295M1534 295L1523 295M922.5 277.7L928 277.7M1534 277.7L1528.5 277.7M922.5 267.6L928 267.6M1534 267.6L1528.5 267.6M922.5 260.5L928 260.5M1534 260.5L1528.5 260.5M922.5 254.9L928 254.9M1534 254.9L1528.5 254.9M922.5 250.4L928 250.4M1534 250.4L1528.5 250.4M922.5 246.5L928 246.5M1534 246.5L1528.5 246.5M922.5 243.2L928 243.2M1534 243.2L1528.5 243.2M922.5 240.3L928 240.3M1534 240.3L1528.5 240.3M922.5 237.6L933.5 237.6M1534 237.6L1523 237.6M922.5 220.4L928 220.4M1534 220.4L1528.5 220.4M922.5 210.3L928 210.3M1534 210.3L1528.5 210.3M922.5 203.1L928 203.1M1534 203.1L1528.5 203.1M922.5 197.5L928 197.5M1534 197.5L1528.5 197.5M922.5 193L928 193M1534 193L1528.5 193M922.5 189.1L928 189.1M1534 189.1L1528.5 189.1M922.5 185.8L928 185.8M1534 185.8L1528.5 185.8M922.5 182.9L928 182.9M1534 182.9L1528.5 182.9M922.5 180.2L933.5 180.2M1534 180.2L1523 180.2M922.5 163L928 163M1534 163L1528.5 163M922.5 152.9L928 152.9M1534 152.9L1528.5 152.9M922.5 145.7L928 145.7M1534 145.7L1528.5 145.7M922.5 140.1L928 140.1M1534 140.1L1528.5 140.1M922.5 135.6L928 135.6M1534 135.6L1528.5 135.6M922.5 131.8L928 131.8M1534 131.8L1528.5 131.8M922.5 128.4L928 128.4M1534 128.4L1528.5 128.4M922.5 125.5L928 125.5M1534 125.5L1528.5 125.5M922.5 122.9L933.5 122.9M1534 122.9L1523 122.9M922.5 105.6L928 105.6M1534 105.6L1528.5 105.6M922.5 95.5L928 95.5M1534 95.5L1528.5 95.5M922.5 88.3L928 88.3M1534 88.3L1528.5 88.3M922.5 82.8L928 82.8M1534 82.8L1528.5 82.8M922.5 78.2L928 78.2M1534 78.2L1528.5 78.2M922.5 74.4L928 74.4M1534 74.4L1528.5 74.4M922.5 71.1L928 71.1M1534 71.1L1528.5 71.1M922.5 68.1L928 68.1M1534 68.1L1528.5 68.1M922.5 65.5L933.5 65.5M1534 65.5L1523 65.5M922.5 48.2L928 48.2M1534 48.2L1528.5 48.2" stroke="#000" stroke-width="1.9" fill="none"/>
<text x="904.5" y="73.4" font-size="20.8" text-anchor="end" fill="#000" textLength="21.1" lengthAdjust="spacingAndGlyphs">10</text>
<text x="905.6" y="62.6" font-size="12" text-anchor="start" fill="#000">7</text>
<text x="904.5" y="130.8" font-size="20.8" text-anchor="end" fill="#000" textLength="21.1" lengthAdjust="spacingAndGlyphs">10</text>
<text x="905.6" y="120" font-size="12" text-anchor="start" fill="#000">6</text>
<text x="904.5" y="188.2" font-size="20.8" text-anchor="end" fill="#000" textLength="21.1" lengthAdjust="spacingAndGlyphs">10</text>
<text x="905.6" y="177.3" font-size="12" text-anchor="start" fill="#000">5</text>
<text x="904.5" y="245.5" font-size="20.8" text-anchor="end" fill="#000" textLength="21.1" lengthAdjust="spacingAndGlyphs">10</text>
<text x="905.6" y="234.7" font-size="12" text-anchor="start" fill="#000">4</text>
<text x="904.5" y="302.9" font-size="20.8" text-anchor="end" fill="#000" textLength="21.1" lengthAdjust="spacingAndGlyphs">10</text>
<text x="905.6" y="292.1" font-size="12" text-anchor="start" fill="#000">3</text>
<text x="1545" y="38" font-size="27" text-anchor="start" fill="#000" textLength="31" lengthAdjust="spacingAndGlyphs">eV</text>
<text x="1549" y="86.9" font-size="23" text-anchor="start" fill="#0000ff" textLength="26.2" lengthAdjust="spacingAndGlyphs">12</text>
<text x="1549" y="114.9" font-size="23" text-anchor="start" fill="#ff00ff" textLength="26.2" lengthAdjust="spacingAndGlyphs">24</text>
<text x="1548" y="140.3" font-size="23" text-anchor="start" fill="#00ff00" textLength="26.2" lengthAdjust="spacingAndGlyphs">40</text>
<text x="1547.5" y="169.1" font-size="23" text-anchor="start" fill="#0000ff" textLength="26.2" lengthAdjust="spacingAndGlyphs">67</text>
<text x="1547.5" y="198" font-size="23" text-anchor="start" fill="#ff0000" textLength="39.3" lengthAdjust="spacingAndGlyphs">112</text>
<text x="1546.5" y="225" font-size="23" text-anchor="start" fill="#00ff00" textLength="39.3" lengthAdjust="spacingAndGlyphs">222</text>
<text x="1546.5" y="252.3" font-size="23" text-anchor="start" fill="#ff00ff" textLength="39.3" lengthAdjust="spacingAndGlyphs">312</text>
<text x="1546" y="280.3" font-size="23" text-anchor="start" fill="#00ffff" textLength="39.3" lengthAdjust="spacingAndGlyphs">439</text>
<text x="1492.4" y="67.5" font-size="23" text-anchor="start" fill="#000">(d)</text>
<text x="835.3" y="263.4" font-size="28.5" transform="rotate(-90 835.3 263.4)" textLength="157.4" lengthAdjust="spacingAndGlyphs">Electron Flux</text>
<text x="873.3" y="278.3" font-size="28.5" transform="rotate(-90 873.3 278.3)" textLength="44.8" lengthAdjust="spacingAndGlyphs">(cm</text>
<text x="859.3" y="226" font-size="15" transform="rotate(-90 859.3 226)">-2</text>
<text x="873.3" y="205.5" font-size="28.5" transform="rotate(-90 873.3 205.5)">s</text>
<text x="859.3" y="186.5" font-size="15" transform="rotate(-90 859.3 186.5)">-1</text>
<text x="873.3" y="171.5" font-size="28.5" transform="rotate(-90 873.3 171.5)" textLength="22.1" lengthAdjust="spacingAndGlyphs">sr</text>
<text x="859.3" y="144.5" font-size="15" transform="rotate(-90 859.3 144.5)">-1</text>
<text x="873.3" y="128" font-size="28.5" transform="rotate(-90 873.3 128)" textLength="24.7" lengthAdjust="spacingAndGlyphs">ev</text>
<text x="859.3" y="98" font-size="15" transform="rotate(-90 859.3 98)">-1</text>
<text x="873.3" y="84.5" font-size="28.5" transform="rotate(-90 873.3 84.5)">)</text>
<rect x="922.5" y="320.5" width="611.5" height="205.8" fill="none" stroke="#000" stroke-width="2.2"/>
<path d="M943.6 526.3L943.6 523.5M943.6 320.5L943.6 323.3M964.7 526.3L964.7 523.5M964.7 320.5L964.7 323.3M985.8 526.3L985.8 523.5M985.8 320.5L985.8 323.3M1006.9 526.3L1006.9 523.5M1006.9 320.5L1006.9 323.3M1028 526.3L1028 523.5M1028 320.5L1028 323.3M1049.1 526.3L1049.1 523.5M1049.1 320.5L1049.1 323.3M1070.2 526.3L1070.2 523.5M1070.2 320.5L1070.2 323.3M1091.3 526.3L1091.3 523.5M1091.3 320.5L1091.3 323.3M1112.4 526.3L1112.4 523.5M1112.4 320.5L1112.4 323.3M1133.5 526.3L1133.5 523.5M1133.5 320.5L1133.5 323.3M1154.6 526.3L1154.6 523.5M1154.6 320.5L1154.6 323.3M1175.7 526.3L1175.7 521.2M1175.7 320.5L1175.7 325.6M1196.8 526.3L1196.8 523.5M1196.8 320.5L1196.8 323.3M1217.9 526.3L1217.9 523.5M1217.9 320.5L1217.9 323.3M1239 526.3L1239 523.5M1239 320.5L1239 323.3M1260.1 526.3L1260.1 523.5M1260.1 320.5L1260.1 323.3M1281.2 526.3L1281.2 523.5M1281.2 320.5L1281.2 323.3M1302.3 526.3L1302.3 523.5M1302.3 320.5L1302.3 323.3M1323.4 526.3L1323.4 523.5M1323.4 320.5L1323.4 323.3M1344.5 526.3L1344.5 523.5M1344.5 320.5L1344.5 323.3M1365.6 526.3L1365.6 523.5M1365.6 320.5L1365.6 323.3M1386.7 526.3L1386.7 523.5M1386.7 320.5L1386.7 323.3M1407.8 526.3L1407.8 523.5M1407.8 320.5L1407.8 323.3M1428.9 526.3L1428.9 521.2M1428.9 320.5L1428.9 325.6M1450 526.3L1450 523.5M1450 320.5L1450 323.3M1471.1 526.3L1471.1 523.5M1471.1 320.5L1471.1 323.3M1492.2 526.3L1492.2 523.5M1492.2 320.5L1492.2 323.3M1513.3 526.3L1513.3 523.5M1513.3 320.5L1513.3 323.3M922.5 518.1L928 518.1M1534 518.1L1528.5 518.1M922.5 509.8L928 509.8M1534 509.8L1528.5 509.8M922.5 501.6L928 501.6M1534 501.6L1528.5 501.6M922.5 493.4L928 493.4M1534 493.4L1528.5 493.4M922.5 485.1L933.5 485.1M1534 485.1L1523 485.1M922.5 476.9L928 476.9M1534 476.9L1528.5 476.9M922.5 468.7L928 468.7M1534 468.7L1528.5 468.7M922.5 460.4L928 460.4M1534 460.4L1528.5 460.4M922.5 452.2L928 452.2M1534 452.2L1528.5 452.2M922.5 444L933.5 444M1534 444L1523 444M922.5 435.7L928 435.7M1534 435.7L1528.5 435.7M922.5 427.5L928 427.5M1534 427.5L1528.5 427.5M922.5 419.3L928 419.3M1534 419.3L1528.5 419.3M922.5 411.1L928 411.1M1534 411.1L1528.5 411.1M922.5 402.8L933.5 402.8M1534 402.8L1523 402.8M922.5 394.6L928 394.6M1534 394.6L1528.5 394.6M922.5 386.4L928 386.4M1534 386.4L1528.5 386.4M922.5 378.1L928 378.1M1534 378.1L1528.5 378.1M922.5 369.9L928 369.9M1534 369.9L1528.5 369.9M922.5 361.7L933.5 361.7M1534 361.7L1523 361.7M922.5 353.4L928 353.4M1534 353.4L1528.5 353.4M922.5 345.2L928 345.2M1534 345.2L1528.5 345.2M922.5 337L928 337M1534 337L1528.5 337M922.5 328.7L928 328.7M1534 328.7L1528.5 328.7" stroke="#000" stroke-width="1.9" fill="none"/>
<text x="911.5" y="335.6" font-size="19.5" text-anchor="end" fill="#000">25</text>
<text x="911.5" y="369.3" font-size="19.5" text-anchor="end" fill="#000">20</text>
<text x="911.5" y="410.6" font-size="19.5" text-anchor="end" fill="#000">15</text>
<text x="911.5" y="450.8" font-size="19.5" text-anchor="end" fill="#000">10</text>
<text x="911.5" y="492.3" font-size="19.5" text-anchor="end" fill="#000">5</text>
<text x="911.5" y="526.8" font-size="19.5" text-anchor="end" fill="#000">0</text>
<text x="877.5" y="483.7" font-size="28" transform="rotate(-90 877.5 483.7)" textLength="116.2" lengthAdjust="spacingAndGlyphs">N<tspan dy="5" font-size="17">SW</tspan><tspan dy="-5"> (cm</tspan><tspan dy="-12" font-size="17"> -3</tspan><tspan dy="12">)</tspan></text>
<text x="1491" y="348.5" font-size="23" text-anchor="start" fill="#000">(e)</text>
<rect x="922.5" y="535.5" width="611.5" height="208.3" fill="none" stroke="#000" stroke-width="2.2"/>
<path d="M943.6 743.8L943.6 741M943.6 535.5L943.6 538.3M964.7 743.8L964.7 741M964.7 535.5L964.7 538.3M985.8 743.8L985.8 741M985.8 535.5L985.8 538.3M1006.9 743.8L1006.9 741M1006.9 535.5L1006.9 538.3M1028 743.8L1028 741M1028 535.5L1028 538.3M1049.1 743.8L1049.1 741M1049.1 535.5L1049.1 538.3M1070.2 743.8L1070.2 741M1070.2 535.5L1070.2 538.3M1091.3 743.8L1091.3 741M1091.3 535.5L1091.3 538.3M1112.4 743.8L1112.4 741M1112.4 535.5L1112.4 538.3M1133.5 743.8L1133.5 741M1133.5 535.5L1133.5 538.3M1154.6 743.8L1154.6 741M1154.6 535.5L1154.6 538.3M1175.7 743.8L1175.7 738.7M1175.7 535.5L1175.7 540.6M1196.8 743.8L1196.8 741M1196.8 535.5L1196.8 538.3M1217.9 743.8L1217.9 741M1217.9 535.5L1217.9 538.3M1239 743.8L1239 741M1239 535.5L1239 538.3M1260.1 743.8L1260.1 741M1260.1 535.5L1260.1 538.3M1281.2 743.8L1281.2 741M1281.2 535.5L1281.2 538.3M1302.3 743.8L1302.3 741M1302.3 535.5L1302.3 538.3M1323.4 743.8L1323.4 741M1323.4 535.5L1323.4 538.3M1344.5 743.8L1344.5 741M1344.5 535.5L1344.5 538.3M1365.6 743.8L1365.6 741M1365.6 535.5L1365.6 538.3M1386.7 743.8L1386.7 741M1386.7 535.5L1386.7 538.3M1407.8 743.8L1407.8 741M1407.8 535.5L1407.8 538.3M1428.9 743.8L1428.9 738.7M1428.9 535.5L1428.9 540.6M1450 743.8L1450 741M1450 535.5L1450 538.3M1471.1 743.8L1471.1 741M1471.1 535.5L1471.1 538.3M1492.2 743.8L1492.2 741M1492.2 535.5L1492.2 538.3M1513.3 743.8L1513.3 741M1513.3 535.5L1513.3 538.3M922.5 741.8L933.5 741.8M1534 741.8L1523 741.8M922.5 737.6L928 737.6M1534 737.6L1528.5 737.6M922.5 733.5L928 733.5M1534 733.5L1528.5 733.5M922.5 729.4L928 729.4M1534 729.4L1528.5 729.4M922.5 725.2L928 725.2M1534 725.2L1528.5 725.2M922.5 721.1L928 721.1M1534 721.1L1528.5 721.1M922.5 717L928 717M1534 717L1528.5 717M922.5 712.9L928 712.9M1534 712.9L1528.5 712.9M922.5 708.8L928 708.8M1534 708.8L1528.5 708.8M922.5 704.6L928 704.6M1534 704.6L1528.5 704.6M922.5 700.5L933.5 700.5M1534 700.5L1523 700.5M922.5 696.4L928 696.4M1534 696.4L1528.5 696.4M922.5 692.2L928 692.2M1534 692.2L1528.5 692.2M922.5 688.1L928 688.1M1534 688.1L1528.5 688.1M922.5 684L928 684M1534 684L1528.5 684M922.5 679.9L928 679.9M1534 679.9L1528.5 679.9M922.5 675.8L928 675.8M1534 675.8L1528.5 675.8M922.5 671.6L928 671.6M1534 671.6L1528.5 671.6M922.5 667.5L928 667.5M1534 667.5L1528.5 667.5M922.5 663.4L928 663.4M1534 663.4L1528.5 663.4M922.5 659.2L933.5 659.2M1534 659.2L1523 659.2M922.5 655.1L928 655.1M1534 655.1L1528.5 655.1M922.5 651L928 651M1534 651L1528.5 651M922.5 646.9L928 646.9M1534 646.9L1528.5 646.9M922.5 642.8L928 642.8M1534 642.8L1528.5 642.8M922.5 638.6L928 638.6M1534 638.6L1528.5 638.6M922.5 634.5L928 634.5M1534 634.5L1528.5 634.5M922.5 630.4L928 630.4M1534 630.4L1528.5 630.4M922.5 626.2L928 626.2M1534 626.2L1528.5 626.2M922.5 622.1L928 622.1M1534 622.1L1528.5 622.1M922.5 618L933.5 618M1534 618L1523 618M922.5 613.9L928 613.9M1534 613.9L1528.5 613.9M922.5 609.8L928 609.8M1534 609.8L1528.5 609.8M922.5 605.6L928 605.6M1534 605.6L1528.5 605.6M922.5 601.5L928 601.5M1534 601.5L1528.5 601.5M922.5 597.4L928 597.4M1534 597.4L1528.5 597.4M922.5 593.2L928 593.2M1534 593.2L1528.5 593.2M922.5 589.1L928 589.1M1534 589.1L1528.5 589.1M922.5 585L928 585M1534 585L1528.5 585M922.5 580.9L928 580.9M1534 580.9L1528.5 580.9M922.5 576.8L933.5 576.8M1534 576.8L1523 576.8M922.5 572.6L928 572.6M1534 572.6L1528.5 572.6M922.5 568.5L928 568.5M1534 568.5L1528.5 568.5M922.5 564.4L928 564.4M1534 564.4L1528.5 564.4M922.5 560.2L928 560.2M1534 560.2L1528.5 560.2M922.5 556.1L928 556.1M1534 556.1L1528.5 556.1M922.5 552L928 552M1534 552L1528.5 552M922.5 547.9L928 547.9M1534 547.9L1528.5 547.9M922.5 543.8L928 543.8M1534 543.8L1528.5 543.8M922.5 539.6L928 539.6M1534 539.6L1528.5 539.6" stroke="#000" stroke-width="1.9" fill="none"/>
<text x="911.5" y="549.3" font-size="19.5" text-anchor="end" fill="#000" textLength="35" lengthAdjust="spacingAndGlyphs">800</text>
<text x="911.5" y="584.3" font-size="19.5" text-anchor="end" fill="#000" textLength="35" lengthAdjust="spacingAndGlyphs">700</text>
<text x="911.5" y="625.5" font-size="19.5" text-anchor="end" fill="#000" textLength="35" lengthAdjust="spacingAndGlyphs">600</text>
<text x="911.5" y="666.8" font-size="19.5" text-anchor="end" fill="#000" textLength="35" lengthAdjust="spacingAndGlyphs">500</text>
<text x="911.5" y="707.8" font-size="19.5" text-anchor="end" fill="#000" textLength="35" lengthAdjust="spacingAndGlyphs">400</text>
<text x="911.5" y="732.3" font-size="19.5" text-anchor="end" fill="#000" textLength="35" lengthAdjust="spacingAndGlyphs">300</text>
<text x="866.3" y="700" font-size="28" transform="rotate(-90 866.3 700)" textLength="116.2" lengthAdjust="spacingAndGlyphs">V<tspan dy="5" font-size="17">SW</tspan><tspan dy="-5"> (km/s)</tspan></text>
<text x="1497.5" y="561" font-size="23" text-anchor="start" fill="#000">(f)</text>
<rect x="922.5" y="751.3" width="611.5" height="136.2" fill="none" stroke="#000" stroke-width="2.2"/>
<path d="M943.6 887.5L943.6 885.1M943.6 751.3L943.6 753.7M964.7 887.5L964.7 885.1M964.7 751.3L964.7 753.7M985.8 887.5L985.8 885.1M985.8 751.3L985.8 753.7M1006.9 887.5L1006.9 885.1M1006.9 751.3L1006.9 753.7M1028 887.5L1028 885.1M1028 751.3L1028 753.7M1049.1 887.5L1049.1 885.1M1049.1 751.3L1049.1 753.7M1070.2 887.5L1070.2 885.1M1070.2 751.3L1070.2 753.7M1091.3 887.5L1091.3 885.1M1091.3 751.3L1091.3 753.7M1112.4 887.5L1112.4 885.1M1112.4 751.3L1112.4 753.7M1133.5 887.5L1133.5 885.1M1133.5 751.3L1133.5 753.7M1154.6 887.5L1154.6 885.1M1154.6 751.3L1154.6 753.7M1175.7 887.5L1175.7 883.6M1175.7 751.3L1175.7 755.2M1196.8 887.5L1196.8 885.1M1196.8 751.3L1196.8 753.7M1217.9 887.5L1217.9 885.1M1217.9 751.3L1217.9 753.7M1239 887.5L1239 885.1M1239 751.3L1239 753.7M1260.1 887.5L1260.1 885.1M1260.1 751.3L1260.1 753.7M1281.2 887.5L1281.2 885.1M1281.2 751.3L1281.2 753.7M1302.3 887.5L1302.3 885.1M1302.3 751.3L1302.3 753.7M1323.4 887.5L1323.4 885.1M1323.4 751.3L1323.4 753.7M1344.5 887.5L1344.5 885.1M1344.5 751.3L1344.5 753.7M1365.6 887.5L1365.6 885.1M1365.6 751.3L1365.6 753.7M1386.7 887.5L1386.7 885.1M1386.7 751.3L1386.7 753.7M1407.8 887.5L1407.8 885.1M1407.8 751.3L1407.8 753.7M1428.9 887.5L1428.9 883.6M1428.9 751.3L1428.9 755.2M1450 887.5L1450 885.1M1450 751.3L1450 753.7M1471.1 887.5L1471.1 885.1M1471.1 751.3L1471.1 753.7M1492.2 887.5L1492.2 885.1M1492.2 751.3L1492.2 753.7M1513.3 887.5L1513.3 885.1M1513.3 751.3L1513.3 753.7M922.5 884.8L932.5 884.8M1534 884.8L1524 884.8M922.5 841.2L932.5 841.2M1534 841.2L1524 841.2M922.5 797.7L932.5 797.7M1534 797.7L1524 797.7M922.5 754.1L932.5 754.1M1534 754.1L1524 754.1" stroke="#000" stroke-width="1.9" fill="none"/>
<text x="913" y="765.5" font-size="21" text-anchor="end" fill="#000">180</text>
<text x="913" y="805.5" font-size="21" text-anchor="end" fill="#000">120</text>
<text x="913" y="850" font-size="21" text-anchor="end" fill="#000">60</text>
<text x="913" y="888.8" font-size="21" text-anchor="end" fill="#000">0</text>
<text x="869.5" y="875" font-size="28" text-anchor="start" fill="#000" transform="rotate(-90 869.5 875)" textLength="97.5" lengthAdjust="spacingAndGlyphs">PA (deg)</text>
<text x="1387.5" y="798.4" font-size="24.5" text-anchor="start" fill="#000" textLength="79.5" lengthAdjust="spacingAndGlyphs">312 eV</text>
<text x="1496.7" y="784" font-size="23" text-anchor="start" fill="#000">(g)</text>
<defs><linearGradient id="cbm" x1="0" y1="0" x2="0" y2="1"><stop offset="0.00%" stop-color="#a50000"/><stop offset="4.00%" stop-color="#b90000"/><stop offset="10.00%" stop-color="#ff0000"/><stop offset="16.00%" stop-color="#ff6e00"/><stop offset="22.50%" stop-color="#ffc800"/><stop offset="29.00%" stop-color="#ffff00"/><stop offset="37.50%" stop-color="#96ff00"/><stop offset="45.00%" stop-color="#00ff14"/><stop offset="50.00%" stop-color="#00ffa0"/><stop offset="55.00%" stop-color="#00faff"/><stop offset="62.50%" stop-color="#00a5ff"/><stop offset="70.00%" stop-color="#003cff"/><stop offset="75.00%" stop-color="#000aff"/><stop offset="80.00%" stop-color="#3700d7"/><stop offset="88.00%" stop-color="#460078"/><stop offset="95.00%" stop-color="#1e002d"/><stop offset="100.00%" stop-color="#000000"/></linearGradient></defs>
<rect x="1547.6" y="751.9" width="11.1" height="134.6" fill="url(#cbm)" stroke="none" stroke-width="0"/>
<rect x="1546.4" y="750.7" width="13.5" height="137" fill="none" stroke="#000" stroke-width="2.4"/>
<text x="1565.6" y="764" font-size="25" text-anchor="start" fill="#000" textLength="33" lengthAdjust="spacingAndGlyphs">2.0</text>
<text x="1565.6" y="827" font-size="25" text-anchor="start" fill="#000" textLength="33" lengthAdjust="spacingAndGlyphs">1.0</text>
<text x="1565.6" y="886.3" font-size="25" text-anchor="start" fill="#000" textLength="33" lengthAdjust="spacingAndGlyphs">0.0</text>
<rect x="922.5" y="898.8" width="611.5" height="135.7" fill="none" stroke="#000" stroke-width="2.2"/>
<path d="M943.6 1034.5L943.6 1032.1M943.6 898.8L943.6 901.2M964.7 1034.5L964.7 1032.1M964.7 898.8L964.7 901.2M985.8 1034.5L985.8 1032.1M985.8 898.8L985.8 901.2M1006.9 1034.5L1006.9 1032.1M1006.9 898.8L1006.9 901.2M1028 1034.5L1028 1032.1M1028 898.8L1028 901.2M1049.1 1034.5L1049.1 1032.1M1049.1 898.8L1049.1 901.2M1070.2 1034.5L1070.2 1032.1M1070.2 898.8L1070.2 901.2M1091.3 1034.5L1091.3 1032.1M1091.3 898.8L1091.3 901.2M1112.4 1034.5L1112.4 1032.1M1112.4 898.8L1112.4 901.2M1133.5 1034.5L1133.5 1032.1M1133.5 898.8L1133.5 901.2M1154.6 1034.5L1154.6 1032.1M1154.6 898.8L1154.6 901.2M1175.7 1034.5L1175.7 1030.6M1175.7 898.8L1175.7 902.7M1196.8 1034.5L1196.8 1032.1M1196.8 898.8L1196.8 901.2M1217.9 1034.5L1217.9 1032.1M1217.9 898.8L1217.9 901.2M1239 1034.5L1239 1032.1M1239 898.8L1239 901.2M1260.1 1034.5L1260.1 1032.1M1260.1 898.8L1260.1 901.2M1281.2 1034.5L1281.2 1032.1M1281.2 898.8L1281.2 901.2M1302.3 1034.5L1302.3 1032.1M1302.3 898.8L1302.3 901.2M1323.4 1034.5L1323.4 1032.1M1323.4 898.8L1323.4 901.2M1344.5 1034.5L1344.5 1032.1M1344.5 898.8L1344.5 901.2M1365.6 1034.5L1365.6 1032.1M1365.6 898.8L1365.6 901.2M1386.7 1034.5L1386.7 1032.1M1386.7 898.8L1386.7 901.2M1407.8 1034.5L1407.8 1032.1M1407.8 898.8L1407.8 901.2M1428.9 1034.5L1428.9 1030.6M1428.9 898.8L1428.9 902.7M1450 1034.5L1450 1032.1M1450 898.8L1450 901.2M1471.1 1034.5L1471.1 1032.1M1471.1 898.8L1471.1 901.2M1492.2 1034.5L1492.2 1032.1M1492.2 898.8L1492.2 901.2M1513.3 1034.5L1513.3 1032.1M1513.3 898.8L1513.3 901.2M922.5 1030L928 1030M1534 1030L1528.5 1030M922.5 1025.5L928 1025.5M1534 1025.5L1528.5 1025.5M922.5 1020.9L928 1020.9M1534 1020.9L1528.5 1020.9M922.5 1016.4L933.5 1016.4M1534 1016.4L1523 1016.4M922.5 1011.9L928 1011.9M1534 1011.9L1528.5 1011.9M922.5 1007.4L928 1007.4M1534 1007.4L1528.5 1007.4M922.5 1002.8L928 1002.8M1534 1002.8L1528.5 1002.8M922.5 998.3L933.5 998.3M1534 998.3L1523 998.3M922.5 993.8L928 993.8M1534 993.8L1528.5 993.8M922.5 989.2L928 989.2M1534 989.2L1528.5 989.2M922.5 984.7L928 984.7M1534 984.7L1528.5 984.7M922.5 980.2L933.5 980.2M1534 980.2L1523 980.2M922.5 975.7L928 975.7M1534 975.7L1528.5 975.7M922.5 971.1L928 971.1M1534 971.1L1528.5 971.1M922.5 966.6L928 966.6M1534 966.6L1528.5 966.6M922.5 962.1L933.5 962.1M1534 962.1L1523 962.1M922.5 957.6L928 957.6M1534 957.6L1528.5 957.6M922.5 953L928 953M1534 953L1528.5 953M922.5 948.5L928 948.5M1534 948.5L1528.5 948.5M922.5 944L933.5 944M1534 944L1523 944M922.5 939.5L928 939.5M1534 939.5L1528.5 939.5M922.5 935L928 935M1534 935L1528.5 935M922.5 930.4L928 930.4M1534 930.4L1528.5 930.4M922.5 925.9L933.5 925.9M1534 925.9L1523 925.9M922.5 921.4L928 921.4M1534 921.4L1528.5 921.4M922.5 916.9L928 916.9M1534 916.9L1528.5 916.9M922.5 912.3L928 912.3M1534 912.3L1528.5 912.3M922.5 907.8L933.5 907.8M1534 907.8L1523 907.8M922.5 903.3L928 903.3M1534 903.3L1528.5 903.3" stroke="#000" stroke-width="1.9" fill="none"/>
<text x="912.5" y="935" font-size="21" text-anchor="end" fill="#000">12</text>
<text x="912.5" y="970" font-size="21" text-anchor="end" fill="#000">8</text>
<text x="912.5" y="1007.5" font-size="21" text-anchor="end" fill="#000">4</text>
<text x="912.5" y="1035" font-size="21" text-anchor="end" fill="#000">0</text>
<text x="871.5" y="1015" font-size="27.5" text-anchor="start" fill="#000" transform="rotate(-90 871.5 1015)" textLength="65" lengthAdjust="spacingAndGlyphs">B (nT)</text>
<text x="1495" y="933" font-size="23" text-anchor="start" fill="#000">(h)</text>
<text x="1237.9" y="28.3" font-size="37" text-anchor="middle" fill="#000" textLength="99.8" lengthAdjust="spacingAndGlyphs">MMS1</text>
<text x="894.2" y="1063.7" font-size="25" text-anchor="start" fill="#000" textLength="57" lengthAdjust="spacingAndGlyphs">0000</text>
<text x="903.2" y="1087" font-size="25" text-anchor="start" fill="#000" textLength="27.4" lengthAdjust="spacingAndGlyphs">06</text>
<text x="1146.2" y="1063.2" font-size="25" text-anchor="start" fill="#000" textLength="55.5" lengthAdjust="spacingAndGlyphs">1200</text>
<text x="1395.6" y="1063.7" font-size="25" text-anchor="start" fill="#000" textLength="57.3" lengthAdjust="spacingAndGlyphs">0000</text>
<text x="1408.7" y="1087" font-size="25" text-anchor="start" fill="#000" textLength="26.3" lengthAdjust="spacingAndGlyphs">07</text>
<text x="1091.8" y="1114.4" font-size="30" text-anchor="start" fill="#000" textLength="268.2" lengthAdjust="spacingAndGlyphs">2020 February (UT)</text>
<path d="M468.2 1625.4L557.5 1625.4L495.6 1889.4L404.9 1889.4Z" fill="#595959"/>
<path d="M1256 1461L1350.6 1456L1274.7 1658.4L1180 1664Z" fill="#595959"/>
<path d="M318.2 1643l-21.2 0-27 9-17.3 19-11.7 24-4.6 25-4.1 41 1.2 25 2.9 24 5.6 25 7.5 24 8.5 23 11 23 12 19 12.7 17 13.3 13 14.5 10 14.5 5 15 1.5 16.3-3.5 12.7-8 12-10 13-12 11.5-12.3 10.5-15.7 9-17 8-20 6.8-21 4.2-21 2.4-20 .1-17-1.7-16-2.8-17-3.8-15.4-7.2-16.6-9.2-16-11.8-15-12.7-13-16.3-13-16.5-11.5-15.5-7.5-17.2-5.6-12.8-2.4Z" fill="#b6b6b6" fill-opacity="0.446"/>
<path d="M318.2 1643l11.8 1 12.8 2.4 17.2 5.6 15.5 7.5 16.5 11.5 16.3 13 12.7 13 11.8 15 10.2 18-7 30-12 50-8.5 33-2-33-2.5-33-6-27-9-28-13-25-16-21-17-16-16-11Z" fill="#b6b6b6" fill-opacity="0.446"/>
<circle cx="395.3" cy="1780.8" r="10.2" fill="#fff" stroke="#000" stroke-width="7"/>
<g stroke="#262626" stroke-opacity="0.15" stroke-width="6.5" fill="none">
<path d="M276.7 1932.7L276.7 1498.7"/>
<path d="M434.9 1884.6L434.9 1450.6"/>
<path d="M593.1 1836.6L593.1 1402.5"/>
<path d="M751.3 1788.5L751.3 1354.4"/>
<path d="M909.5 1740.4L909.5 1306.4"/>
<path d="M1067.6 1692.3L1067.6 1258.3"/>
<path d="M1225.8 1644.3L1225.8 1210.2"/>
<path d="M181.8 1961.5L1289.1 1625.1"/>
<path d="M181.8 1889.2L1289.1 1552.7"/>
<path d="M181.8 1816.9L1289.1 1480.4"/>
<path d="M181.8 1744.5L1289.1 1408"/>
<path d="M181.8 1672.2L1289.1 1335.7"/>
<path d="M181.8 1599.8L1289.1 1263.4"/>
<path d="M181.8 1527.5L1289.1 1191"/>
<path d="M276.7 1932.7L514.4 2060.4"/>
<path d="M434.9 1884.6L672.6 2012.3"/>
<path d="M593.1 1836.6L830.8 1964.3"/>
<path d="M751.3 1788.5L989 1916.2"/>
<path d="M909.5 1740.4L1147.2 1868.1"/>
<path d="M1067.6 1692.3L1305.3 1820"/>
<path d="M1225.8 1644.3L1463.5 1772"/>
<path d="M181.8 1961.5L1289.1 1625.1"/>
<path d="M300.7 2025.4L1407.9 1688.9"/>
<path d="M1289.1 1625.1L1289.1 1191"/>
<path d="M1407.9 1688.9L1407.9 1254.9"/>
<path d="M1526.8 1752.8L1526.8 1318.7"/>
<path d="M1289.1 1625.1L1526.8 1752.8"/>
<path d="M1289.1 1552.7L1526.8 1680.4"/>
<path d="M1289.1 1480.4L1526.8 1608.1"/>
<path d="M1289.1 1408L1526.8 1535.7"/>
<path d="M1289.1 1335.7L1526.8 1463.4"/>
<path d="M1289.1 1263.4L1526.8 1391"/>
<path d="M1289.1 1191L1526.8 1318.7"/>
</g>
<line x1="480.5" y1="1758.8" x2="578.1" y2="1766.3" stroke="#000" stroke-width="3.8" stroke-linecap="round"/>
<path d="M605 1768.4L575.3 1776.6Q580.1 1766.5 576.9 1755.7Z" fill="#000"/>
<line x1="1267.2" y1="1554.4" x2="1363.5" y2="1581.9" stroke="#000" stroke-width="3.8" stroke-linecap="round"/>
<path d="M1389.5 1589.3L1358.7 1591.4Q1365.5 1582.4 1364.5 1571.2Z" fill="#000"/>
<path d="M181.8 1961.5L181.8 1527.5M181.8 1961.5L419.5 2089.2M419.5 2089.2L1526.8 1752.8M181.8 1961.5L152.6 1945.8M181.8 1889.2L152.6 1873.5M181.8 1816.9L152.6 1801.2M181.8 1744.5L152.6 1728.8M181.8 1672.2L152.6 1656.5M181.8 1599.8L152.6 1584.1M181.8 1527.5L152.6 1511.8M181.8 1961.5L150.8 1971M300.7 2025.4L269.6 2034.8M419.5 2089.2L388.5 2098.7M514.4 2060.4L542.5 2075.5M672.6 2012.3L700.6 2027.4M830.8 1964.3L858.8 1979.3M989 1916.2L1017 1931.3M1147.2 1868.1L1175.2 1883.2M1305.3 1820L1333.4 1835.1M1463.5 1772L1491.6 1787" stroke="#262626" stroke-width="6.8" fill="none" stroke-linecap="square"/>
<text x="138" y="1956" font-size="31" text-anchor="end" fill="#262626">-60</text>
<text x="138" y="1883.7" font-size="31" text-anchor="end" fill="#262626">-40</text>
<text x="138" y="1811.4" font-size="31" text-anchor="end" fill="#262626">-20</text>
<text x="138" y="1739" font-size="31" text-anchor="end" fill="#262626">0</text>
<text x="138" y="1666.7" font-size="31" text-anchor="end" fill="#262626">20</text>
<text x="138" y="1594.3" font-size="31" text-anchor="end" fill="#262626">40</text>
<text x="138" y="1522" font-size="31" text-anchor="end" fill="#262626">60</text>
<text x="133" y="2009" font-size="31" text-anchor="end" fill="#262626">-50</text>
<text x="255.5" y="2073" font-size="31" text-anchor="end" fill="#262626">0</text>
<text x="372.5" y="2137.5" font-size="31" text-anchor="end" fill="#262626">50</text>
<text x="559.8" y="2116.8" font-size="31" text-anchor="middle" fill="#262626">0</text>
<text x="727" y="2067.8" font-size="31" text-anchor="middle" fill="#262626">50</text>
<text x="894" y="2019.5" font-size="31" text-anchor="middle" fill="#262626">100</text>
<text x="1052" y="1973.3" font-size="31" text-anchor="middle" fill="#262626">150</text>
<text x="1209.8" y="1924" font-size="31" text-anchor="middle" fill="#262626">200</text>
<text x="1368" y="1875.5" font-size="31" text-anchor="middle" fill="#262626">250</text>
<text x="1525.8" y="1827.2" font-size="31" text-anchor="middle" fill="#262626">300</text>
<text x="133.5" y="2106" font-size="35" fill="#262626">Y (R<tspan x="205" y="2124" font-size="28">E</tspan><tspan x="222" y="2106">)</tspan></text>
<text x="895" y="2081" font-size="35" fill="#262626">X (R<tspan x="966" y="2098" font-size="28">E</tspan><tspan x="984" y="2081">)</tspan></text>
<g transform="rotate(-90 64 1795)"><text x="64" y="1795" font-size="35" fill="#262626">Z (R<tspan x="130" y="1813" font-size="28">E</tspan><tspan x="150" y="1795">)</tspan></text></g>
<text x="294.9" y="1808.3" font-size="29" text-anchor="start" fill="#000" textLength="67.4" lengthAdjust="spacingAndGlyphs">Earth</text>
<text x="530" y="1815.3" font-size="29" text-anchor="start" fill="#000" textLength="77" lengthAdjust="spacingAndGlyphs">MMS1</text>
<text x="1316" y="1635" font-size="31" text-anchor="start" fill="#000" textLength="67.4" lengthAdjust="spacingAndGlyphs">Wind</text>
<text x="1490.5" y="1219.5" font-size="29" text-anchor="start" fill="#000" textLength="24.3" lengthAdjust="spacingAndGlyphs">(i)</text>
<text x="297" y="1616" font-size="29" transform="rotate(20.5 297 1616)" textLength="141" lengthAdjust="spacingAndGlyphs">bow shock</text>
</svg>
</body></html>
